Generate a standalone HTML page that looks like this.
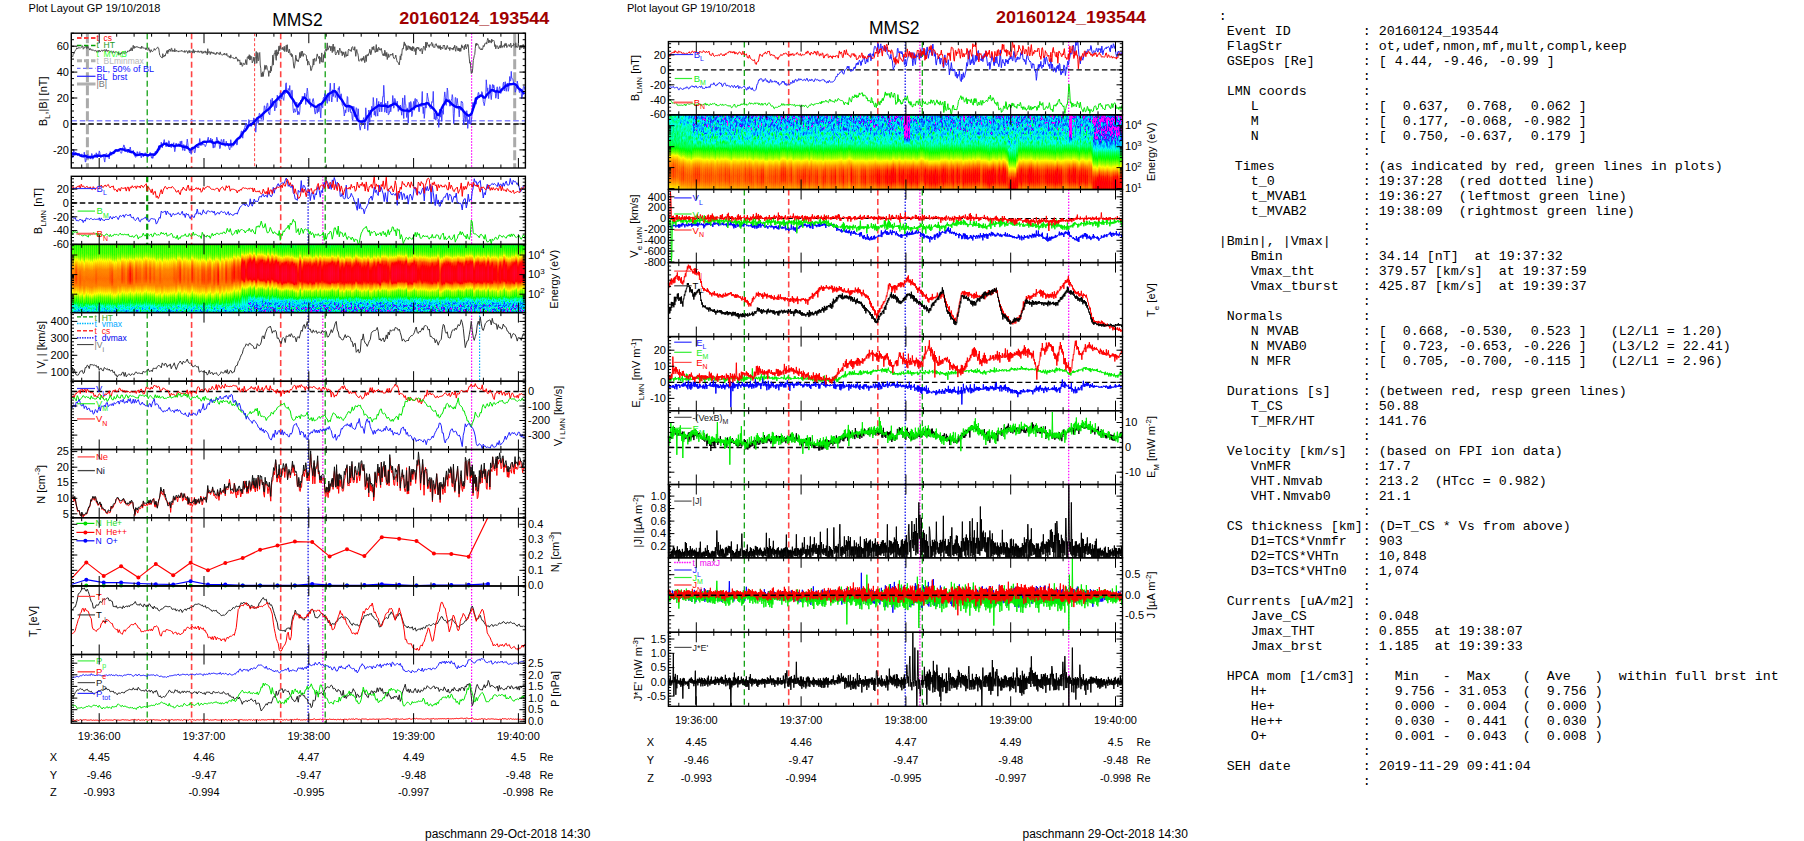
<!DOCTYPE html>
<html><head><meta charset="utf-8"><style>
html,body{margin:0;padding:0;background:#fff;width:1804px;height:841px;overflow:hidden}
svg{display:block}
</style></head><body>
<svg width="1804" height="841" viewBox="0 0 1804 841" font-family="'Liberation Sans',sans-serif">
<defs><filter id="cm" filterUnits="userSpaceOnUse" x="0" y="0" width="1804" height="841" color-interpolation-filters="sRGB"><feComponentTransfer><feFuncR type="table" tableValues="1 1 1 1 1 1 0.759 0.277 0.0896 0 0 0 0 0 0 0 0 0 0 0 0 0 0 0.167 0.333 0.5 0.667 0.833 1 1 1 1 1 1 1 1 1 1 1 1 1 1 1 1 1 1 1 1 1 1 1"/><feFuncG type="table" tableValues="0 0 0 0 0 0 0 0 0.134 0.314 0.42 0.527 0.633 0.739 0.843 0.948 1 1 1 1 1 1 1 1 1 1 1 1 1 0.918 0.837 0.755 0.673 0.592 0.51 0.425 0.34 0.255 0.17 0.085 0 0 0 0 0 0 0 0 0 0 0"/><feFuncB type="table" tableValues="1 1 1 1 1 1 1 1 1 1 1 1 1 1 1 1 0.923 0.769 0.615 0.462 0.308 0.154 0 0 0 0 0 0 0 0 0 0 0 0 0 0 0 0 0 0 0 0.0327 0.0654 0.098 0.131 0.163 0.196 0.206 0.216 0.225 0.235"/><feFuncA type="linear" slope="0" intercept="1"/></feComponentTransfer></filter><filter id="nzi" x="0" y="0" width="1" height="1" color-interpolation-filters="sRGB"><feTurbulence type="fractalNoise" baseFrequency="0.55 0.4" numOctaves="2" seed="7"/><feColorMatrix type="matrix" values="0.636 0 0 0 -0.018  0.636 0 0 0 -0.018  0.636 0 0 0 -0.018  0 0 0 0 1"/></filter><filter id="nzi2" x="0" y="0" width="1" height="1" color-interpolation-filters="sRGB"><feTurbulence type="fractalNoise" baseFrequency="0.55 0.4" numOctaves="2" seed="8"/><feColorMatrix type="matrix" values="0.818 0 0 0 -0.169  0.818 0 0 0 -0.169  0.818 0 0 0 -0.169  0 0 0 0 1"/></filter><filter id="nze" x="0" y="0" width="1" height="1" color-interpolation-filters="sRGB"><feTurbulence type="fractalNoise" baseFrequency="0.6 0.22" numOctaves="2" seed="11"/><feColorMatrix type="matrix" values="0.636 0 0 0 0.007  0.636 0 0 0 0.007  0.636 0 0 0 0.007  0 0 0 0 1"/></filter><filter id="nzt" x="0" y="0" width="1" height="1" color-interpolation-filters="sRGB"><feTurbulence type="fractalNoise" baseFrequency="0.6 0.25" numOctaves="2" seed="19"/><feColorMatrix type="matrix" values="0.818 0 0 0 -0.194  0.818 0 0 0 -0.194  0.818 0 0 0 -0.194  0 0 0 0 1"/></filter><filter id="nzq" x="0" y="0" width="1" height="1" color-interpolation-filters="sRGB"><feTurbulence type="fractalNoise" baseFrequency="0.6 0.22" numOctaves="2" seed="17"/><feColorMatrix type="matrix" values="0.455 0 0 0 -0.167  0.455 0 0 0 -0.167  0.455 0 0 0 -0.167  0 0 0 0 1"/></filter><filter id="spk" x="0" y="0" width="1" height="1" color-interpolation-filters="sRGB"><feTurbulence type="fractalNoise" baseFrequency="0.7 0.28" numOctaves="1" seed="21"/><feColorMatrix type="matrix" values="0 0 0 0 0.04  0 0 0 0 0.04  0 0 0 0 0.04  12 0 0 0 -7.6"/></filter><filter id="nzm" x="0" y="0" width="1" height="1" color-interpolation-filters="sRGB"><feTurbulence type="fractalNoise" baseFrequency="0.6 0.22" numOctaves="2" seed="13"/><feColorMatrix type="matrix" values="0.818 0 0 0 -0.279  0.818 0 0 0 -0.279  0.818 0 0 0 -0.279  0 0 0 0 1"/></filter><linearGradient id="mg1" x1="0" y1="0" x2="0" y2="1"><stop offset="0.000" stop-color="#fff" stop-opacity="0.00"/><stop offset="0.860" stop-color="#fff" stop-opacity="0.00"/><stop offset="0.930" stop-color="#fff" stop-opacity="0.60"/><stop offset="1.000" stop-color="#fff" stop-opacity="0.90"/></linearGradient><mask id="mk1" maskUnits="userSpaceOnUse" x="71.3" y="244.4" width="176.4" height="68.2"><rect x="71.3" y="244.4" width="176.4" height="68.2" fill="url(#mg1)"/></mask><linearGradient id="mg2" x1="0" y1="0" x2="0" y2="1"><stop offset="0.000" stop-color="#fff" stop-opacity="0.00"/><stop offset="0.760" stop-color="#fff" stop-opacity="0.00"/><stop offset="0.860" stop-color="#fff" stop-opacity="0.60"/><stop offset="0.950" stop-color="#fff" stop-opacity="0.90"/><stop offset="1.000" stop-color="#fff" stop-opacity="0.95"/></linearGradient><mask id="mk2" maskUnits="userSpaceOnUse" x="247.7" y="244.4" width="277.7" height="68.2"><rect x="247.7" y="244.4" width="277.7" height="68.2" fill="url(#mg2)"/></mask><linearGradient id="g1" x1="0" y1="0" x2="0" y2="1"><stop offset="0.000" stop-color="#737373"/><stop offset="0.146" stop-color="#737373"/><stop offset="0.181" stop-color="#747474"/><stop offset="0.216" stop-color="#757575"/><stop offset="0.231" stop-color="#757575"/><stop offset="0.252" stop-color="#797979"/><stop offset="0.273" stop-color="#7d7d7d"/><stop offset="0.301" stop-color="#8a8a8a"/><stop offset="0.309" stop-color="#8c8c8c"/><stop offset="0.330" stop-color="#949494"/><stop offset="0.358" stop-color="#9e9e9e"/><stop offset="0.372" stop-color="#a2a2a2"/><stop offset="0.401" stop-color="#ababab"/><stop offset="0.443" stop-color="#aeaeae"/><stop offset="0.500" stop-color="#b2b2b2"/><stop offset="0.514" stop-color="#b1b1b1"/><stop offset="0.543" stop-color="#afafaf"/><stop offset="0.557" stop-color="#aeaeae"/><stop offset="0.571" stop-color="#adadad"/><stop offset="0.585" stop-color="#a8a8a8"/><stop offset="0.606" stop-color="#a1a1a1"/><stop offset="0.613" stop-color="#9e9e9e"/><stop offset="0.635" stop-color="#959595"/><stop offset="0.642" stop-color="#919191"/><stop offset="0.670" stop-color="#858585"/><stop offset="0.691" stop-color="#7b7b7b"/><stop offset="0.699" stop-color="#787878"/><stop offset="0.727" stop-color="#737373"/><stop offset="0.741" stop-color="#707070"/><stop offset="0.769" stop-color="#636363"/><stop offset="0.805" stop-color="#575757"/><stop offset="0.812" stop-color="#555555"/><stop offset="0.854" stop-color="#4a4a4a"/><stop offset="1.000" stop-color="#4a4a4a"/></linearGradient><linearGradient id="g2" x1="0" y1="0" x2="0" y2="1"><stop offset="0.000" stop-color="#717171"/><stop offset="0.146" stop-color="#717171"/><stop offset="0.181" stop-color="#737373"/><stop offset="0.216" stop-color="#757575"/><stop offset="0.231" stop-color="#767676"/><stop offset="0.252" stop-color="#7a7a7a"/><stop offset="0.273" stop-color="#7f7f7f"/><stop offset="0.301" stop-color="#8d8d8d"/><stop offset="0.309" stop-color="#909090"/><stop offset="0.330" stop-color="#9a9a9a"/><stop offset="0.358" stop-color="#a5a5a5"/><stop offset="0.372" stop-color="#a9a9a9"/><stop offset="0.401" stop-color="#b1b1b1"/><stop offset="0.443" stop-color="#b5b5b5"/><stop offset="0.500" stop-color="#b8b8b8"/><stop offset="0.514" stop-color="#b7b7b7"/><stop offset="0.543" stop-color="#b3b3b3"/><stop offset="0.557" stop-color="#afafaf"/><stop offset="0.571" stop-color="#adadad"/><stop offset="0.585" stop-color="#a7a7a7"/><stop offset="0.606" stop-color="#9e9e9e"/><stop offset="0.613" stop-color="#9b9b9b"/><stop offset="0.635" stop-color="#919191"/><stop offset="0.642" stop-color="#8e8e8e"/><stop offset="0.670" stop-color="#828282"/><stop offset="0.691" stop-color="#7a7a7a"/><stop offset="0.699" stop-color="#767676"/><stop offset="0.727" stop-color="#707070"/><stop offset="0.741" stop-color="#6d6d6d"/><stop offset="0.769" stop-color="#616161"/><stop offset="0.805" stop-color="#555555"/><stop offset="0.812" stop-color="#535353"/><stop offset="0.854" stop-color="#484848"/><stop offset="1.000" stop-color="#484848"/></linearGradient><linearGradient id="g3" x1="0" y1="0" x2="0" y2="1"><stop offset="0.000" stop-color="#707070"/><stop offset="0.146" stop-color="#707070"/><stop offset="0.181" stop-color="#727272"/><stop offset="0.216" stop-color="#747474"/><stop offset="0.231" stop-color="#767676"/><stop offset="0.252" stop-color="#7b7b7b"/><stop offset="0.273" stop-color="#818181"/><stop offset="0.301" stop-color="#909090"/><stop offset="0.309" stop-color="#949494"/><stop offset="0.330" stop-color="#a0a0a0"/><stop offset="0.358" stop-color="#ababab"/><stop offset="0.372" stop-color="#b0b0b0"/><stop offset="0.401" stop-color="#b8b8b8"/><stop offset="0.443" stop-color="#bcbcbc"/><stop offset="0.500" stop-color="#bebebe"/><stop offset="0.514" stop-color="#bcbcbc"/><stop offset="0.543" stop-color="#b6b6b6"/><stop offset="0.557" stop-color="#afafaf"/><stop offset="0.571" stop-color="#acacac"/><stop offset="0.585" stop-color="#a5a5a5"/><stop offset="0.606" stop-color="#9c9c9c"/><stop offset="0.613" stop-color="#999999"/><stop offset="0.635" stop-color="#8e8e8e"/><stop offset="0.642" stop-color="#8b8b8b"/><stop offset="0.670" stop-color="#808080"/><stop offset="0.691" stop-color="#787878"/><stop offset="0.699" stop-color="#757575"/><stop offset="0.727" stop-color="#6d6d6d"/><stop offset="0.741" stop-color="#6a6a6a"/><stop offset="0.769" stop-color="#5e5e5e"/><stop offset="0.805" stop-color="#525252"/><stop offset="0.812" stop-color="#515151"/><stop offset="0.854" stop-color="#474747"/><stop offset="1.000" stop-color="#474747"/></linearGradient><linearGradient id="g4" x1="0" y1="0" x2="0" y2="1"><stop offset="0.000" stop-color="#6e6e6e"/><stop offset="0.146" stop-color="#6e6e6e"/><stop offset="0.181" stop-color="#727272"/><stop offset="0.216" stop-color="#747474"/><stop offset="0.231" stop-color="#767676"/><stop offset="0.252" stop-color="#7b7b7b"/><stop offset="0.273" stop-color="#838383"/><stop offset="0.301" stop-color="#949494"/><stop offset="0.309" stop-color="#979797"/><stop offset="0.330" stop-color="#a7a7a7"/><stop offset="0.358" stop-color="#b2b2b2"/><stop offset="0.372" stop-color="#b7b7b7"/><stop offset="0.401" stop-color="#bebebe"/><stop offset="0.443" stop-color="#c3c3c3"/><stop offset="0.500" stop-color="#c3c3c3"/><stop offset="0.514" stop-color="#c2c2c2"/><stop offset="0.543" stop-color="#b9b9b9"/><stop offset="0.557" stop-color="#b0b0b0"/><stop offset="0.571" stop-color="#ababab"/><stop offset="0.585" stop-color="#a3a3a3"/><stop offset="0.606" stop-color="#999999"/><stop offset="0.613" stop-color="#969696"/><stop offset="0.635" stop-color="#8b8b8b"/><stop offset="0.642" stop-color="#888888"/><stop offset="0.670" stop-color="#7e7e7e"/><stop offset="0.691" stop-color="#777777"/><stop offset="0.699" stop-color="#737373"/><stop offset="0.727" stop-color="#696969"/><stop offset="0.741" stop-color="#666666"/><stop offset="0.769" stop-color="#5b5b5b"/><stop offset="0.805" stop-color="#505050"/><stop offset="0.812" stop-color="#4f4f4f"/><stop offset="0.854" stop-color="#454545"/><stop offset="1.000" stop-color="#454545"/></linearGradient><linearGradient id="g5" x1="0" y1="0" x2="0" y2="1"><stop offset="0.000" stop-color="#6d6d6d"/><stop offset="0.146" stop-color="#6d6d6d"/><stop offset="0.181" stop-color="#717171"/><stop offset="0.216" stop-color="#747474"/><stop offset="0.231" stop-color="#767676"/><stop offset="0.252" stop-color="#7c7c7c"/><stop offset="0.273" stop-color="#858585"/><stop offset="0.301" stop-color="#979797"/><stop offset="0.309" stop-color="#9b9b9b"/><stop offset="0.330" stop-color="#adadad"/><stop offset="0.358" stop-color="#b9b9b9"/><stop offset="0.372" stop-color="#bebebe"/><stop offset="0.401" stop-color="#c5c5c5"/><stop offset="0.443" stop-color="#cacaca"/><stop offset="0.500" stop-color="#c9c9c9"/><stop offset="0.514" stop-color="#c7c7c7"/><stop offset="0.543" stop-color="#bcbcbc"/><stop offset="0.557" stop-color="#b0b0b0"/><stop offset="0.571" stop-color="#aaaaaa"/><stop offset="0.585" stop-color="#a2a2a2"/><stop offset="0.606" stop-color="#969696"/><stop offset="0.613" stop-color="#939393"/><stop offset="0.635" stop-color="#888888"/><stop offset="0.642" stop-color="#858585"/><stop offset="0.670" stop-color="#7c7c7c"/><stop offset="0.691" stop-color="#757575"/><stop offset="0.699" stop-color="#717171"/><stop offset="0.727" stop-color="#666666"/><stop offset="0.741" stop-color="#636363"/><stop offset="0.769" stop-color="#585858"/><stop offset="0.805" stop-color="#4e4e4e"/><stop offset="0.812" stop-color="#4d4d4d"/><stop offset="0.854" stop-color="#434343"/><stop offset="1.000" stop-color="#434343"/></linearGradient><linearGradient id="g6" x1="0" y1="0" x2="0" y2="1"><stop offset="0.000" stop-color="#6c6c6c"/><stop offset="0.146" stop-color="#6c6c6c"/><stop offset="0.181" stop-color="#707070"/><stop offset="0.216" stop-color="#747474"/><stop offset="0.231" stop-color="#777777"/><stop offset="0.252" stop-color="#7d7d7d"/><stop offset="0.273" stop-color="#878787"/><stop offset="0.301" stop-color="#9a9a9a"/><stop offset="0.309" stop-color="#9f9f9f"/><stop offset="0.330" stop-color="#b3b3b3"/><stop offset="0.358" stop-color="#bfbfbf"/><stop offset="0.372" stop-color="#c5c5c5"/><stop offset="0.401" stop-color="#cbcbcb"/><stop offset="0.443" stop-color="#d1d1d1"/><stop offset="0.500" stop-color="#cfcfcf"/><stop offset="0.514" stop-color="#cdcdcd"/><stop offset="0.543" stop-color="#bfbfbf"/><stop offset="0.557" stop-color="#b1b1b1"/><stop offset="0.571" stop-color="#a9a9a9"/><stop offset="0.585" stop-color="#a0a0a0"/><stop offset="0.606" stop-color="#949494"/><stop offset="0.613" stop-color="#909090"/><stop offset="0.635" stop-color="#858585"/><stop offset="0.642" stop-color="#828282"/><stop offset="0.670" stop-color="#7a7a7a"/><stop offset="0.691" stop-color="#747474"/><stop offset="0.699" stop-color="#707070"/><stop offset="0.727" stop-color="#636363"/><stop offset="0.741" stop-color="#606060"/><stop offset="0.769" stop-color="#555555"/><stop offset="0.805" stop-color="#4c4c4c"/><stop offset="0.812" stop-color="#4b4b4b"/><stop offset="0.854" stop-color="#414141"/><stop offset="1.000" stop-color="#414141"/></linearGradient><linearGradient id="g7" x1="0" y1="0" x2="0" y2="1"><stop offset="0.000" stop-color="#6a6a6a"/><stop offset="0.146" stop-color="#6a6a6a"/><stop offset="0.181" stop-color="#707070"/><stop offset="0.216" stop-color="#737373"/><stop offset="0.231" stop-color="#777777"/><stop offset="0.252" stop-color="#7d7d7d"/><stop offset="0.273" stop-color="#898989"/><stop offset="0.301" stop-color="#9d9d9d"/><stop offset="0.309" stop-color="#a2a2a2"/><stop offset="0.330" stop-color="#b9b9b9"/><stop offset="0.358" stop-color="#c6c6c6"/><stop offset="0.372" stop-color="#cccccc"/><stop offset="0.401" stop-color="#d2d2d2"/><stop offset="0.443" stop-color="#d8d8d8"/><stop offset="0.500" stop-color="#d4d4d4"/><stop offset="0.514" stop-color="#d2d2d2"/><stop offset="0.543" stop-color="#c2c2c2"/><stop offset="0.557" stop-color="#b1b1b1"/><stop offset="0.571" stop-color="#a8a8a8"/><stop offset="0.585" stop-color="#9e9e9e"/><stop offset="0.606" stop-color="#919191"/><stop offset="0.613" stop-color="#8e8e8e"/><stop offset="0.635" stop-color="#818181"/><stop offset="0.642" stop-color="#7f7f7f"/><stop offset="0.670" stop-color="#787878"/><stop offset="0.691" stop-color="#727272"/><stop offset="0.699" stop-color="#6e6e6e"/><stop offset="0.727" stop-color="#606060"/><stop offset="0.741" stop-color="#5c5c5c"/><stop offset="0.769" stop-color="#525252"/><stop offset="0.805" stop-color="#4a4a4a"/><stop offset="0.812" stop-color="#484848"/><stop offset="0.854" stop-color="#404040"/><stop offset="1.000" stop-color="#404040"/></linearGradient><linearGradient id="g8" x1="0" y1="0" x2="0" y2="1"><stop offset="0.000" stop-color="#696969"/><stop offset="0.146" stop-color="#696969"/><stop offset="0.181" stop-color="#6f6f6f"/><stop offset="0.216" stop-color="#737373"/><stop offset="0.231" stop-color="#777777"/><stop offset="0.252" stop-color="#7e7e7e"/><stop offset="0.273" stop-color="#8b8b8b"/><stop offset="0.301" stop-color="#a1a1a1"/><stop offset="0.309" stop-color="#a6a6a6"/><stop offset="0.330" stop-color="#c0c0c0"/><stop offset="0.358" stop-color="#cccccc"/><stop offset="0.372" stop-color="#d3d3d3"/><stop offset="0.401" stop-color="#d8d8d8"/><stop offset="0.443" stop-color="#dfdfdf"/><stop offset="0.500" stop-color="#dadada"/><stop offset="0.514" stop-color="#d8d8d8"/><stop offset="0.543" stop-color="#c6c6c6"/><stop offset="0.557" stop-color="#b2b2b2"/><stop offset="0.571" stop-color="#a7a7a7"/><stop offset="0.585" stop-color="#9c9c9c"/><stop offset="0.606" stop-color="#8f8f8f"/><stop offset="0.613" stop-color="#8b8b8b"/><stop offset="0.635" stop-color="#7e7e7e"/><stop offset="0.642" stop-color="#7d7d7d"/><stop offset="0.670" stop-color="#767676"/><stop offset="0.691" stop-color="#717171"/><stop offset="0.699" stop-color="#6c6c6c"/><stop offset="0.727" stop-color="#5d5d5d"/><stop offset="0.741" stop-color="#595959"/><stop offset="0.769" stop-color="#505050"/><stop offset="0.805" stop-color="#484848"/><stop offset="0.812" stop-color="#464646"/><stop offset="0.854" stop-color="#3e3e3e"/><stop offset="1.000" stop-color="#3e3e3e"/></linearGradient><linearGradient id="g9" x1="0" y1="0" x2="0" y2="1"><stop offset="0.000" stop-color="#676767"/><stop offset="0.146" stop-color="#676767"/><stop offset="0.181" stop-color="#6e6e6e"/><stop offset="0.216" stop-color="#737373"/><stop offset="0.231" stop-color="#787878"/><stop offset="0.252" stop-color="#7f7f7f"/><stop offset="0.273" stop-color="#8d8d8d"/><stop offset="0.301" stop-color="#a4a4a4"/><stop offset="0.309" stop-color="#aaaaaa"/><stop offset="0.330" stop-color="#c6c6c6"/><stop offset="0.358" stop-color="#d3d3d3"/><stop offset="0.372" stop-color="#dadada"/><stop offset="0.401" stop-color="#dfdfdf"/><stop offset="0.443" stop-color="#e6e6e6"/><stop offset="0.500" stop-color="#dfdfdf"/><stop offset="0.514" stop-color="#dddddd"/><stop offset="0.543" stop-color="#c9c9c9"/><stop offset="0.557" stop-color="#b2b2b2"/><stop offset="0.571" stop-color="#a7a7a7"/><stop offset="0.585" stop-color="#9b9b9b"/><stop offset="0.606" stop-color="#8c8c8c"/><stop offset="0.613" stop-color="#888888"/><stop offset="0.635" stop-color="#7b7b7b"/><stop offset="0.642" stop-color="#7a7a7a"/><stop offset="0.670" stop-color="#747474"/><stop offset="0.691" stop-color="#6f6f6f"/><stop offset="0.699" stop-color="#6b6b6b"/><stop offset="0.727" stop-color="#5a5a5a"/><stop offset="0.741" stop-color="#565656"/><stop offset="0.769" stop-color="#4d4d4d"/><stop offset="0.805" stop-color="#464646"/><stop offset="0.812" stop-color="#444444"/><stop offset="0.854" stop-color="#3c3c3c"/><stop offset="1.000" stop-color="#3c3c3c"/></linearGradient><linearGradient id="g10" x1="0" y1="0" x2="0" y2="1"><stop offset="0.000" stop-color="#666666"/><stop offset="0.146" stop-color="#666666"/><stop offset="0.181" stop-color="#6e6e6e"/><stop offset="0.216" stop-color="#737373"/><stop offset="0.231" stop-color="#787878"/><stop offset="0.252" stop-color="#808080"/><stop offset="0.273" stop-color="#8f8f8f"/><stop offset="0.301" stop-color="#a7a7a7"/><stop offset="0.309" stop-color="#adadad"/><stop offset="0.330" stop-color="#cccccc"/><stop offset="0.358" stop-color="#dadada"/><stop offset="0.372" stop-color="#e0e0e0"/><stop offset="0.401" stop-color="#e6e6e6"/><stop offset="0.443" stop-color="#ededed"/><stop offset="0.500" stop-color="#e5e5e5"/><stop offset="0.514" stop-color="#e3e3e3"/><stop offset="0.543" stop-color="#cccccc"/><stop offset="0.557" stop-color="#b2b2b2"/><stop offset="0.571" stop-color="#a6a6a6"/><stop offset="0.585" stop-color="#999999"/><stop offset="0.606" stop-color="#8a8a8a"/><stop offset="0.613" stop-color="#858585"/><stop offset="0.635" stop-color="#787878"/><stop offset="0.642" stop-color="#777777"/><stop offset="0.670" stop-color="#717171"/><stop offset="0.691" stop-color="#6e6e6e"/><stop offset="0.699" stop-color="#696969"/><stop offset="0.727" stop-color="#575757"/><stop offset="0.741" stop-color="#525252"/><stop offset="0.769" stop-color="#4a4a4a"/><stop offset="0.805" stop-color="#444444"/><stop offset="0.812" stop-color="#424242"/><stop offset="0.854" stop-color="#3b3b3b"/><stop offset="1.000" stop-color="#3b3b3b"/></linearGradient><clipPath id="clip3"><rect x="71.3" y="244.4" width="454.1" height="68.2"/></clipPath><linearGradient id="mg3" x1="0" y1="0" x2="0" y2="1"><stop offset="0.000" stop-color="#fff" stop-opacity="0.90"/><stop offset="0.200" stop-color="#fff" stop-opacity="0.85"/><stop offset="0.330" stop-color="#fff" stop-opacity="0.55"/><stop offset="0.450" stop-color="#fff" stop-opacity="0.00"/><stop offset="1.000" stop-color="#fff" stop-opacity="0.00"/></linearGradient><mask id="mk3" maskUnits="userSpaceOnUse" x="668.4" y="114.8" width="454.1" height="74.7"><rect x="668.4" y="114.8" width="454.1" height="74.7" fill="url(#mg3)"/></mask><linearGradient id="mg4" x1="0" y1="0" x2="0" y2="1"><stop offset="0.000" stop-color="#fff" stop-opacity="0.75"/><stop offset="0.100" stop-color="#fff" stop-opacity="0.60"/><stop offset="0.200" stop-color="#fff" stop-opacity="0.30"/><stop offset="0.280" stop-color="#fff" stop-opacity="0.00"/><stop offset="1.000" stop-color="#fff" stop-opacity="0.00"/></linearGradient><mask id="mk4" maskUnits="userSpaceOnUse" x="668.4" y="114.8" width="454.1" height="74.7"><rect x="668.4" y="114.8" width="454.1" height="74.7" fill="url(#mg4)"/></mask><linearGradient id="mg5" x1="0" y1="0" x2="0" y2="1"><stop offset="0.000" stop-color="#fff" stop-opacity="1.00"/><stop offset="0.150" stop-color="#fff" stop-opacity="0.90"/><stop offset="0.280" stop-color="#fff" stop-opacity="0.40"/><stop offset="0.360" stop-color="#fff" stop-opacity="0.00"/><stop offset="1.000" stop-color="#fff" stop-opacity="0.00"/></linearGradient><mask id="mk5" maskUnits="userSpaceOnUse" x="668.4" y="114.8" width="454.1" height="74.7"><rect x="668.4" y="114.8" width="454.1" height="74.7" fill="url(#mg5)"/></mask><linearGradient id="mg6" x1="0" y1="0" x2="0" y2="1"><stop offset="0.000" stop-color="#fff" stop-opacity="0.95"/><stop offset="0.250" stop-color="#fff" stop-opacity="0.90"/><stop offset="0.400" stop-color="#fff" stop-opacity="0.40"/><stop offset="0.500" stop-color="#fff" stop-opacity="0.00"/><stop offset="1.000" stop-color="#fff" stop-opacity="0.00"/></linearGradient><mask id="mk6" maskUnits="userSpaceOnUse" x="1092.8" y="114.8" width="29.7" height="74.7"><rect x="1092.8" y="114.8" width="29.7" height="74.7" fill="url(#mg6)"/></mask><linearGradient id="mg7" x1="0" y1="0" x2="0" y2="1"><stop offset="0.000" stop-color="#fff" stop-opacity="0.95"/><stop offset="0.300" stop-color="#fff" stop-opacity="0.85"/><stop offset="0.400" stop-color="#fff" stop-opacity="0.00"/><stop offset="1.000" stop-color="#fff" stop-opacity="0.00"/></linearGradient><mask id="mk7" maskUnits="userSpaceOnUse" x="904.1" y="114.8" width="6.1" height="74.7"><rect x="904.1" y="114.8" width="6.1" height="74.7" fill="url(#mg7)"/></mask><linearGradient id="mg8" x1="0" y1="0" x2="0" y2="1"><stop offset="0.000" stop-color="#fff" stop-opacity="0.95"/><stop offset="0.300" stop-color="#fff" stop-opacity="0.85"/><stop offset="0.380" stop-color="#fff" stop-opacity="0.00"/><stop offset="1.000" stop-color="#fff" stop-opacity="0.00"/></linearGradient><mask id="mk8" maskUnits="userSpaceOnUse" x="1069.0" y="114.8" width="3.1" height="74.7"><rect x="1069.0" y="114.8" width="3.1" height="74.7" fill="url(#mg8)"/></mask><linearGradient id="mg9" x1="0" y1="0" x2="0" y2="1"><stop offset="0.000" stop-color="#fff" stop-opacity="0.90"/><stop offset="0.200" stop-color="#fff" stop-opacity="0.80"/><stop offset="0.300" stop-color="#fff" stop-opacity="0.00"/><stop offset="1.000" stop-color="#fff" stop-opacity="0.00"/></linearGradient><mask id="mk9" maskUnits="userSpaceOnUse" x="888.8" y="114.8" width="1.2" height="74.7"><rect x="888.8" y="114.8" width="1.2" height="74.7" fill="url(#mg9)"/></mask><linearGradient id="mg10" x1="0" y1="0" x2="0" y2="1"><stop offset="0.000" stop-color="#fff" stop-opacity="0.00"/><stop offset="0.250" stop-color="#fff" stop-opacity="0.60"/><stop offset="0.450" stop-color="#fff" stop-opacity="0.50"/><stop offset="0.500" stop-color="#fff" stop-opacity="0.00"/><stop offset="1.000" stop-color="#fff" stop-opacity="0.00"/></linearGradient><mask id="mk10" maskUnits="userSpaceOnUse" x="1008.1" y="114.8" width="7.0" height="74.7"><rect x="1008.1" y="114.8" width="7.0" height="74.7" fill="url(#mg10)"/></mask><linearGradient id="mf11" x1="0" y1="0" x2="0" y2="1"><stop offset="0.000" stop-color="#666666" stop-opacity="0.55"/><stop offset="0.150" stop-color="#666666" stop-opacity="0.70"/><stop offset="0.400" stop-color="#666666" stop-opacity="0.60"/><stop offset="0.550" stop-color="#666666" stop-opacity="0.00"/><stop offset="1.000" stop-color="#666666" stop-opacity="0.00"/></linearGradient><linearGradient id="mf12" x1="0" y1="0" x2="0" y2="1"><stop offset="0.000" stop-color="#666666" stop-opacity="0.30"/><stop offset="0.150" stop-color="#666666" stop-opacity="0.55"/><stop offset="0.400" stop-color="#666666" stop-opacity="0.50"/><stop offset="0.550" stop-color="#666666" stop-opacity="0.00"/><stop offset="1.000" stop-color="#666666" stop-opacity="0.00"/></linearGradient><linearGradient id="g11" x1="0" y1="0" x2="0" y2="1"><stop offset="0.000" stop-color="#454545"/><stop offset="0.136" stop-color="#454545"/><stop offset="0.209" stop-color="#474747"/><stop offset="0.282" stop-color="#4c4c4c"/><stop offset="0.355" stop-color="#575757"/><stop offset="0.398" stop-color="#5e5e5e"/><stop offset="0.442" stop-color="#6b6b6b"/><stop offset="0.478" stop-color="#757575"/><stop offset="0.522" stop-color="#828282"/><stop offset="0.551" stop-color="#8f8f8f"/><stop offset="0.573" stop-color="#999999"/><stop offset="0.602" stop-color="#a6a6a6"/><stop offset="0.645" stop-color="#b1b1b1"/><stop offset="0.704" stop-color="#b8b8b8"/><stop offset="0.762" stop-color="#b5b5b5"/><stop offset="0.805" stop-color="#ababab"/><stop offset="0.842" stop-color="#9e9e9e"/><stop offset="0.864" stop-color="#969696"/><stop offset="1.000" stop-color="#969696"/></linearGradient><linearGradient id="g12" x1="0" y1="0" x2="0" y2="1"><stop offset="0.000" stop-color="#454545"/><stop offset="0.136" stop-color="#454545"/><stop offset="0.209" stop-color="#474747"/><stop offset="0.282" stop-color="#4d4d4d"/><stop offset="0.355" stop-color="#565656"/><stop offset="0.398" stop-color="#5e5e5e"/><stop offset="0.442" stop-color="#6b6b6b"/><stop offset="0.478" stop-color="#757575"/><stop offset="0.522" stop-color="#828282"/><stop offset="0.551" stop-color="#8f8f8f"/><stop offset="0.573" stop-color="#999999"/><stop offset="0.602" stop-color="#a8a8a8"/><stop offset="0.645" stop-color="#b5b5b5"/><stop offset="0.704" stop-color="#bcbcbc"/><stop offset="0.762" stop-color="#b9b9b9"/><stop offset="0.805" stop-color="#adadad"/><stop offset="0.842" stop-color="#a0a0a0"/><stop offset="0.864" stop-color="#989898"/><stop offset="1.000" stop-color="#989898"/></linearGradient><linearGradient id="g13" x1="0" y1="0" x2="0" y2="1"><stop offset="0.000" stop-color="#454545"/><stop offset="0.136" stop-color="#454545"/><stop offset="0.209" stop-color="#474747"/><stop offset="0.282" stop-color="#4c4c4c"/><stop offset="0.355" stop-color="#565656"/><stop offset="0.398" stop-color="#5e5e5e"/><stop offset="0.442" stop-color="#6a6a6a"/><stop offset="0.478" stop-color="#757575"/><stop offset="0.522" stop-color="#828282"/><stop offset="0.551" stop-color="#8f8f8f"/><stop offset="0.573" stop-color="#9a9a9a"/><stop offset="0.602" stop-color="#a9a9a9"/><stop offset="0.645" stop-color="#b9b9b9"/><stop offset="0.704" stop-color="#c1c1c1"/><stop offset="0.762" stop-color="#bebebe"/><stop offset="0.805" stop-color="#b0b0b0"/><stop offset="0.842" stop-color="#a2a2a2"/><stop offset="0.864" stop-color="#9a9a9a"/><stop offset="1.000" stop-color="#9a9a9a"/></linearGradient><linearGradient id="g14" x1="0" y1="0" x2="0" y2="1"><stop offset="0.000" stop-color="#454545"/><stop offset="0.136" stop-color="#454545"/><stop offset="0.209" stop-color="#474747"/><stop offset="0.282" stop-color="#4c4c4c"/><stop offset="0.355" stop-color="#565656"/><stop offset="0.398" stop-color="#5d5d5d"/><stop offset="0.442" stop-color="#6a6a6a"/><stop offset="0.478" stop-color="#747474"/><stop offset="0.522" stop-color="#828282"/><stop offset="0.551" stop-color="#8f8f8f"/><stop offset="0.573" stop-color="#9a9a9a"/><stop offset="0.602" stop-color="#ababab"/><stop offset="0.645" stop-color="#bdbdbd"/><stop offset="0.704" stop-color="#c6c6c6"/><stop offset="0.762" stop-color="#c2c2c2"/><stop offset="0.805" stop-color="#b2b2b2"/><stop offset="0.842" stop-color="#a4a4a4"/><stop offset="0.864" stop-color="#9c9c9c"/><stop offset="1.000" stop-color="#9c9c9c"/></linearGradient><linearGradient id="g15" x1="0" y1="0" x2="0" y2="1"><stop offset="0.000" stop-color="#454545"/><stop offset="0.136" stop-color="#454545"/><stop offset="0.209" stop-color="#474747"/><stop offset="0.282" stop-color="#4c4c4c"/><stop offset="0.355" stop-color="#555555"/><stop offset="0.398" stop-color="#5d5d5d"/><stop offset="0.442" stop-color="#6a6a6a"/><stop offset="0.478" stop-color="#747474"/><stop offset="0.522" stop-color="#828282"/><stop offset="0.551" stop-color="#8f8f8f"/><stop offset="0.573" stop-color="#9a9a9a"/><stop offset="0.602" stop-color="#adadad"/><stop offset="0.645" stop-color="#c1c1c1"/><stop offset="0.704" stop-color="#cbcbcb"/><stop offset="0.762" stop-color="#c7c7c7"/><stop offset="0.805" stop-color="#b5b5b5"/><stop offset="0.842" stop-color="#a5a5a5"/><stop offset="0.864" stop-color="#9e9e9e"/><stop offset="1.000" stop-color="#9e9e9e"/></linearGradient><linearGradient id="g16" x1="0" y1="0" x2="0" y2="1"><stop offset="0.000" stop-color="#454545"/><stop offset="0.136" stop-color="#454545"/><stop offset="0.209" stop-color="#474747"/><stop offset="0.282" stop-color="#4c4c4c"/><stop offset="0.355" stop-color="#555555"/><stop offset="0.398" stop-color="#5d5d5d"/><stop offset="0.442" stop-color="#696969"/><stop offset="0.478" stop-color="#737373"/><stop offset="0.522" stop-color="#828282"/><stop offset="0.551" stop-color="#8f8f8f"/><stop offset="0.573" stop-color="#9b9b9b"/><stop offset="0.602" stop-color="#afafaf"/><stop offset="0.645" stop-color="#c4c4c4"/><stop offset="0.704" stop-color="#cfcfcf"/><stop offset="0.762" stop-color="#cbcbcb"/><stop offset="0.805" stop-color="#b8b8b8"/><stop offset="0.842" stop-color="#a7a7a7"/><stop offset="0.864" stop-color="#a0a0a0"/><stop offset="1.000" stop-color="#a0a0a0"/></linearGradient><linearGradient id="g17" x1="0" y1="0" x2="0" y2="1"><stop offset="0.000" stop-color="#454545"/><stop offset="0.136" stop-color="#454545"/><stop offset="0.209" stop-color="#474747"/><stop offset="0.282" stop-color="#4c4c4c"/><stop offset="0.355" stop-color="#555555"/><stop offset="0.398" stop-color="#5c5c5c"/><stop offset="0.442" stop-color="#696969"/><stop offset="0.478" stop-color="#737373"/><stop offset="0.522" stop-color="#828282"/><stop offset="0.551" stop-color="#8f8f8f"/><stop offset="0.573" stop-color="#9b9b9b"/><stop offset="0.602" stop-color="#b1b1b1"/><stop offset="0.645" stop-color="#c8c8c8"/><stop offset="0.704" stop-color="#d4d4d4"/><stop offset="0.762" stop-color="#cfcfcf"/><stop offset="0.805" stop-color="#bababa"/><stop offset="0.842" stop-color="#a9a9a9"/><stop offset="0.864" stop-color="#a1a1a1"/><stop offset="1.000" stop-color="#a1a1a1"/></linearGradient><linearGradient id="g18" x1="0" y1="0" x2="0" y2="1"><stop offset="0.000" stop-color="#454545"/><stop offset="0.136" stop-color="#454545"/><stop offset="0.209" stop-color="#474747"/><stop offset="0.282" stop-color="#4c4c4c"/><stop offset="0.355" stop-color="#545454"/><stop offset="0.398" stop-color="#5c5c5c"/><stop offset="0.442" stop-color="#696969"/><stop offset="0.478" stop-color="#737373"/><stop offset="0.522" stop-color="#828282"/><stop offset="0.551" stop-color="#8f8f8f"/><stop offset="0.573" stop-color="#9c9c9c"/><stop offset="0.602" stop-color="#b2b2b2"/><stop offset="0.645" stop-color="#cccccc"/><stop offset="0.704" stop-color="#d9d9d9"/><stop offset="0.762" stop-color="#d4d4d4"/><stop offset="0.805" stop-color="#bdbdbd"/><stop offset="0.842" stop-color="#ababab"/><stop offset="0.864" stop-color="#a3a3a3"/><stop offset="1.000" stop-color="#a3a3a3"/></linearGradient><clipPath id="clip4"><rect x="668.4" y="114.8" width="454.1" height="74.7"/></clipPath></defs>
<g filter="url(#cm)" clip-path="url(#clip3)"><rect x="71.3" y="244.4" width="454.1" height="68.2" fill="#aeaeae"/><rect x="71.3" y="229.5" width="2.3" height="96.2" fill="url(#g1)"/><rect x="73.3" y="231.1" width="2.3" height="96.2" fill="url(#g1)"/><rect x="75.3" y="231.1" width="2.3" height="96.2" fill="url(#g3)"/><rect x="77.3" y="230.6" width="2.3" height="96.2" fill="url(#g1)"/><rect x="79.3" y="232.7" width="2.3" height="96.2" fill="url(#g2)"/><rect x="81.3" y="230.6" width="2.3" height="96.2" fill="url(#g1)"/><rect x="83.3" y="233.1" width="2.3" height="96.2" fill="url(#g1)"/><rect x="85.3" y="230.6" width="2.3" height="96.2" fill="url(#g1)"/><rect x="87.3" y="231.3" width="2.3" height="96.2" fill="url(#g1)"/><rect x="89.3" y="232.0" width="2.3" height="96.2" fill="url(#g1)"/><rect x="91.3" y="232.4" width="2.3" height="96.2" fill="url(#g1)"/><rect x="93.3" y="231.1" width="2.3" height="96.2" fill="url(#g1)"/><rect x="95.3" y="231.8" width="2.3" height="96.2" fill="url(#g2)"/><rect x="97.3" y="230.5" width="2.3" height="96.2" fill="url(#g1)"/><rect x="99.3" y="230.3" width="2.3" height="96.2" fill="url(#g1)"/><rect x="101.3" y="230.8" width="2.3" height="96.2" fill="url(#g1)"/><rect x="103.3" y="230.9" width="2.3" height="96.2" fill="url(#g1)"/><rect x="105.3" y="231.1" width="2.3" height="96.2" fill="url(#g1)"/><rect x="107.3" y="230.7" width="2.3" height="96.2" fill="url(#g1)"/><rect x="109.3" y="231.2" width="2.3" height="96.2" fill="url(#g2)"/><rect x="111.3" y="233.0" width="2.3" height="96.2" fill="url(#g3)"/><rect x="113.3" y="232.4" width="2.3" height="96.2" fill="url(#g1)"/><rect x="115.3" y="232.1" width="2.3" height="96.2" fill="url(#g1)"/><rect x="117.3" y="230.3" width="2.3" height="96.2" fill="url(#g1)"/><rect x="119.3" y="231.6" width="2.3" height="96.2" fill="url(#g1)"/><rect x="121.3" y="230.7" width="2.3" height="96.2" fill="url(#g3)"/><rect x="123.3" y="230.6" width="2.3" height="96.2" fill="url(#g2)"/><rect x="125.3" y="230.6" width="2.3" height="96.2" fill="url(#g1)"/><rect x="127.3" y="231.6" width="2.3" height="96.2" fill="url(#g3)"/><rect x="129.3" y="231.6" width="2.3" height="96.2" fill="url(#g5)"/><rect x="131.3" y="231.6" width="2.3" height="96.2" fill="url(#g3)"/><rect x="133.3" y="230.7" width="2.3" height="96.2" fill="url(#g1)"/><rect x="135.3" y="230.3" width="2.3" height="96.2" fill="url(#g3)"/><rect x="137.3" y="230.5" width="2.3" height="96.2" fill="url(#g2)"/><rect x="139.3" y="230.1" width="2.3" height="96.2" fill="url(#g2)"/><rect x="141.3" y="230.7" width="2.3" height="96.2" fill="url(#g1)"/><rect x="143.3" y="229.9" width="2.3" height="96.2" fill="url(#g2)"/><rect x="145.3" y="229.7" width="2.3" height="96.2" fill="url(#g3)"/><rect x="147.3" y="229.8" width="2.3" height="96.2" fill="url(#g1)"/><rect x="149.3" y="230.6" width="2.3" height="96.2" fill="url(#g3)"/><rect x="151.3" y="230.1" width="2.3" height="96.2" fill="url(#g1)"/><rect x="153.3" y="230.3" width="2.3" height="96.2" fill="url(#g2)"/><rect x="155.3" y="231.7" width="2.3" height="96.2" fill="url(#g1)"/><rect x="157.3" y="231.1" width="2.3" height="96.2" fill="url(#g1)"/><rect x="159.3" y="231.0" width="2.3" height="96.2" fill="url(#g2)"/><rect x="161.3" y="232.4" width="2.3" height="96.2" fill="url(#g1)"/><rect x="163.3" y="230.2" width="2.3" height="96.2" fill="url(#g1)"/><rect x="165.3" y="230.9" width="2.3" height="96.2" fill="url(#g1)"/><rect x="167.3" y="231.2" width="2.3" height="96.2" fill="url(#g1)"/><rect x="169.3" y="230.5" width="2.3" height="96.2" fill="url(#g1)"/><rect x="171.3" y="230.4" width="2.3" height="96.2" fill="url(#g1)"/><rect x="173.3" y="230.4" width="2.3" height="96.2" fill="url(#g2)"/><rect x="175.3" y="232.1" width="2.3" height="96.2" fill="url(#g2)"/><rect x="177.3" y="229.2" width="2.3" height="96.2" fill="url(#g2)"/><rect x="179.3" y="230.7" width="2.3" height="96.2" fill="url(#g4)"/><rect x="181.3" y="231.2" width="2.3" height="96.2" fill="url(#g1)"/><rect x="183.3" y="230.1" width="2.3" height="96.2" fill="url(#g2)"/><rect x="185.3" y="229.9" width="2.3" height="96.2" fill="url(#g1)"/><rect x="187.3" y="231.7" width="2.3" height="96.2" fill="url(#g2)"/><rect x="189.3" y="231.2" width="2.3" height="96.2" fill="url(#g1)"/><rect x="191.3" y="230.0" width="2.3" height="96.2" fill="url(#g4)"/><rect x="193.3" y="230.9" width="2.3" height="96.2" fill="url(#g2)"/><rect x="195.3" y="230.4" width="2.3" height="96.2" fill="url(#g1)"/><rect x="197.3" y="231.7" width="2.3" height="96.2" fill="url(#g2)"/><rect x="199.3" y="231.4" width="2.3" height="96.2" fill="url(#g1)"/><rect x="201.3" y="231.6" width="2.3" height="96.2" fill="url(#g3)"/><rect x="203.3" y="231.8" width="2.3" height="96.2" fill="url(#g3)"/><rect x="205.3" y="232.9" width="2.3" height="96.2" fill="url(#g2)"/><rect x="207.3" y="231.5" width="2.3" height="96.2" fill="url(#g3)"/><rect x="209.3" y="230.7" width="2.3" height="96.2" fill="url(#g3)"/><rect x="211.3" y="232.0" width="2.3" height="96.2" fill="url(#g1)"/><rect x="213.3" y="232.6" width="2.3" height="96.2" fill="url(#g3)"/><rect x="215.3" y="230.2" width="2.3" height="96.2" fill="url(#g2)"/><rect x="217.3" y="232.3" width="2.3" height="96.2" fill="url(#g5)"/><rect x="219.3" y="232.5" width="2.3" height="96.2" fill="url(#g1)"/><rect x="221.3" y="229.9" width="2.3" height="96.2" fill="url(#g2)"/><rect x="223.3" y="231.0" width="2.3" height="96.2" fill="url(#g1)"/><rect x="225.3" y="230.6" width="2.3" height="96.2" fill="url(#g4)"/><rect x="227.3" y="230.7" width="2.3" height="96.2" fill="url(#g2)"/><rect x="229.3" y="229.9" width="2.3" height="96.2" fill="url(#g2)"/><rect x="231.3" y="231.1" width="2.3" height="96.2" fill="url(#g4)"/><rect x="233.3" y="229.2" width="2.3" height="96.2" fill="url(#g5)"/><rect x="235.3" y="229.8" width="2.3" height="96.2" fill="url(#g3)"/><rect x="237.3" y="228.9" width="2.3" height="96.2" fill="url(#g4)"/><rect x="239.3" y="230.6" width="2.3" height="96.2" fill="url(#g4)"/><rect x="241.3" y="227.9" width="2.3" height="96.2" fill="url(#g8)"/><rect x="243.3" y="229.4" width="2.3" height="96.2" fill="url(#g9)"/><rect x="245.3" y="227.6" width="2.3" height="96.2" fill="url(#g5)"/><rect x="247.3" y="228.2" width="2.3" height="96.2" fill="url(#g8)"/><rect x="249.3" y="227.2" width="2.3" height="96.2" fill="url(#g9)"/><rect x="251.3" y="229.0" width="2.3" height="96.2" fill="url(#g9)"/><rect x="253.3" y="227.3" width="2.3" height="96.2" fill="url(#g10)"/><rect x="255.3" y="230.0" width="2.3" height="96.2" fill="url(#g8)"/><rect x="257.3" y="227.5" width="2.3" height="96.2" fill="url(#g7)"/><rect x="259.3" y="228.5" width="2.3" height="96.2" fill="url(#g9)"/><rect x="261.3" y="228.5" width="2.3" height="96.2" fill="url(#g10)"/><rect x="263.3" y="228.8" width="2.3" height="96.2" fill="url(#g8)"/><rect x="265.3" y="230.1" width="2.3" height="96.2" fill="url(#g9)"/><rect x="267.3" y="227.8" width="2.3" height="96.2" fill="url(#g9)"/><rect x="269.3" y="230.3" width="2.3" height="96.2" fill="url(#g8)"/><rect x="271.3" y="227.7" width="2.3" height="96.2" fill="url(#g8)"/><rect x="273.3" y="229.6" width="2.3" height="96.2" fill="url(#g8)"/><rect x="275.3" y="229.1" width="2.3" height="96.2" fill="url(#g10)"/><rect x="277.3" y="230.8" width="2.3" height="96.2" fill="url(#g10)"/><rect x="279.3" y="230.3" width="2.3" height="96.2" fill="url(#g7)"/><rect x="281.3" y="231.9" width="2.3" height="96.2" fill="url(#g10)"/><rect x="283.3" y="230.9" width="2.3" height="96.2" fill="url(#g9)"/><rect x="285.3" y="230.6" width="2.3" height="96.2" fill="url(#g10)"/><rect x="287.3" y="230.1" width="2.3" height="96.2" fill="url(#g8)"/><rect x="289.3" y="230.8" width="2.3" height="96.2" fill="url(#g8)"/><rect x="291.3" y="230.9" width="2.3" height="96.2" fill="url(#g10)"/><rect x="293.3" y="232.2" width="2.3" height="96.2" fill="url(#g10)"/><rect x="295.3" y="232.1" width="2.3" height="96.2" fill="url(#g8)"/><rect x="297.3" y="231.4" width="2.3" height="96.2" fill="url(#g5)"/><rect x="299.3" y="229.5" width="2.3" height="96.2" fill="url(#g9)"/><rect x="301.3" y="232.2" width="2.3" height="96.2" fill="url(#g6)"/><rect x="303.3" y="230.4" width="2.3" height="96.2" fill="url(#g8)"/><rect x="305.3" y="230.8" width="2.3" height="96.2" fill="url(#g8)"/><rect x="307.3" y="231.5" width="2.3" height="96.2" fill="url(#g9)"/><rect x="309.3" y="230.5" width="2.3" height="96.2" fill="url(#g8)"/><rect x="311.3" y="232.1" width="2.3" height="96.2" fill="url(#g8)"/><rect x="313.3" y="231.4" width="2.3" height="96.2" fill="url(#g9)"/><rect x="315.3" y="229.8" width="2.3" height="96.2" fill="url(#g8)"/><rect x="317.3" y="231.3" width="2.3" height="96.2" fill="url(#g7)"/><rect x="319.3" y="230.0" width="2.3" height="96.2" fill="url(#g9)"/><rect x="321.3" y="230.7" width="2.3" height="96.2" fill="url(#g6)"/><rect x="323.3" y="230.3" width="2.3" height="96.2" fill="url(#g8)"/><rect x="325.3" y="230.8" width="2.3" height="96.2" fill="url(#g8)"/><rect x="327.3" y="231.2" width="2.3" height="96.2" fill="url(#g9)"/><rect x="329.3" y="231.5" width="2.3" height="96.2" fill="url(#g10)"/><rect x="331.3" y="230.2" width="2.3" height="96.2" fill="url(#g10)"/><rect x="333.3" y="230.9" width="2.3" height="96.2" fill="url(#g9)"/><rect x="335.3" y="231.0" width="2.3" height="96.2" fill="url(#g8)"/><rect x="337.3" y="230.0" width="2.3" height="96.2" fill="url(#g10)"/><rect x="339.3" y="231.7" width="2.3" height="96.2" fill="url(#g6)"/><rect x="341.3" y="231.4" width="2.3" height="96.2" fill="url(#g8)"/><rect x="343.3" y="232.3" width="2.3" height="96.2" fill="url(#g7)"/><rect x="345.3" y="230.8" width="2.3" height="96.2" fill="url(#g9)"/><rect x="347.3" y="231.1" width="2.3" height="96.2" fill="url(#g8)"/><rect x="349.3" y="230.9" width="2.3" height="96.2" fill="url(#g8)"/><rect x="351.3" y="232.2" width="2.3" height="96.2" fill="url(#g7)"/><rect x="353.3" y="231.3" width="2.3" height="96.2" fill="url(#g8)"/><rect x="355.3" y="229.4" width="2.3" height="96.2" fill="url(#g8)"/><rect x="357.3" y="231.1" width="2.3" height="96.2" fill="url(#g9)"/><rect x="359.3" y="231.4" width="2.3" height="96.2" fill="url(#g8)"/><rect x="361.3" y="232.0" width="2.3" height="96.2" fill="url(#g7)"/><rect x="363.3" y="230.6" width="2.3" height="96.2" fill="url(#g7)"/><rect x="365.3" y="231.4" width="2.3" height="96.2" fill="url(#g7)"/><rect x="367.3" y="230.7" width="2.3" height="96.2" fill="url(#g9)"/><rect x="369.3" y="232.0" width="2.3" height="96.2" fill="url(#g6)"/><rect x="371.3" y="232.0" width="2.3" height="96.2" fill="url(#g7)"/><rect x="373.3" y="230.5" width="2.3" height="96.2" fill="url(#g8)"/><rect x="375.3" y="231.4" width="2.3" height="96.2" fill="url(#g7)"/><rect x="377.3" y="230.8" width="2.3" height="96.2" fill="url(#g10)"/><rect x="379.3" y="232.6" width="2.3" height="96.2" fill="url(#g10)"/><rect x="381.3" y="229.9" width="2.3" height="96.2" fill="url(#g8)"/><rect x="383.3" y="229.7" width="2.3" height="96.2" fill="url(#g7)"/><rect x="385.3" y="230.2" width="2.3" height="96.2" fill="url(#g8)"/><rect x="387.3" y="231.1" width="2.3" height="96.2" fill="url(#g7)"/><rect x="389.3" y="229.6" width="2.3" height="96.2" fill="url(#g5)"/><rect x="391.3" y="231.4" width="2.3" height="96.2" fill="url(#g10)"/><rect x="393.3" y="230.9" width="2.3" height="96.2" fill="url(#g9)"/><rect x="395.3" y="230.9" width="2.3" height="96.2" fill="url(#g10)"/><rect x="397.3" y="229.5" width="2.3" height="96.2" fill="url(#g9)"/><rect x="399.3" y="229.8" width="2.3" height="96.2" fill="url(#g9)"/><rect x="401.3" y="229.9" width="2.3" height="96.2" fill="url(#g8)"/><rect x="403.3" y="230.2" width="2.3" height="96.2" fill="url(#g8)"/><rect x="405.3" y="229.5" width="2.3" height="96.2" fill="url(#g10)"/><rect x="407.3" y="232.1" width="2.3" height="96.2" fill="url(#g8)"/><rect x="409.3" y="231.6" width="2.3" height="96.2" fill="url(#g8)"/><rect x="411.3" y="231.8" width="2.3" height="96.2" fill="url(#g10)"/><rect x="413.3" y="229.7" width="2.3" height="96.2" fill="url(#g9)"/><rect x="415.3" y="230.5" width="2.3" height="96.2" fill="url(#g8)"/><rect x="417.3" y="230.5" width="2.3" height="96.2" fill="url(#g6)"/><rect x="419.3" y="229.6" width="2.3" height="96.2" fill="url(#g6)"/><rect x="421.3" y="230.9" width="2.3" height="96.2" fill="url(#g8)"/><rect x="423.3" y="230.2" width="2.3" height="96.2" fill="url(#g7)"/><rect x="425.3" y="230.7" width="2.3" height="96.2" fill="url(#g7)"/><rect x="427.3" y="231.1" width="2.3" height="96.2" fill="url(#g7)"/><rect x="429.3" y="231.5" width="2.3" height="96.2" fill="url(#g7)"/><rect x="431.3" y="231.5" width="2.3" height="96.2" fill="url(#g9)"/><rect x="433.3" y="230.8" width="2.3" height="96.2" fill="url(#g7)"/><rect x="435.3" y="231.1" width="2.3" height="96.2" fill="url(#g8)"/><rect x="437.3" y="229.4" width="2.3" height="96.2" fill="url(#g8)"/><rect x="439.3" y="231.7" width="2.3" height="96.2" fill="url(#g4)"/><rect x="441.3" y="232.4" width="2.3" height="96.2" fill="url(#g8)"/><rect x="443.3" y="231.4" width="2.3" height="96.2" fill="url(#g9)"/><rect x="445.3" y="230.1" width="2.3" height="96.2" fill="url(#g8)"/><rect x="447.3" y="230.6" width="2.3" height="96.2" fill="url(#g9)"/><rect x="449.3" y="231.2" width="2.3" height="96.2" fill="url(#g9)"/><rect x="451.3" y="231.7" width="2.3" height="96.2" fill="url(#g8)"/><rect x="453.3" y="230.6" width="2.3" height="96.2" fill="url(#g7)"/><rect x="455.3" y="230.6" width="2.3" height="96.2" fill="url(#g7)"/><rect x="457.3" y="230.5" width="2.3" height="96.2" fill="url(#g10)"/><rect x="459.3" y="231.4" width="2.3" height="96.2" fill="url(#g10)"/><rect x="461.3" y="231.3" width="2.3" height="96.2" fill="url(#g9)"/><rect x="463.3" y="230.9" width="2.3" height="96.2" fill="url(#g7)"/><rect x="465.3" y="230.0" width="2.3" height="96.2" fill="url(#g10)"/><rect x="467.3" y="229.9" width="2.3" height="96.2" fill="url(#g8)"/><rect x="469.3" y="229.5" width="2.3" height="96.2" fill="url(#g9)"/><rect x="471.3" y="230.1" width="2.3" height="96.2" fill="url(#g10)"/><rect x="473.3" y="231.8" width="2.3" height="96.2" fill="url(#g6)"/><rect x="475.3" y="230.8" width="2.3" height="96.2" fill="url(#g9)"/><rect x="477.3" y="230.1" width="2.3" height="96.2" fill="url(#g9)"/><rect x="479.3" y="231.0" width="2.3" height="96.2" fill="url(#g8)"/><rect x="481.3" y="231.1" width="2.3" height="96.2" fill="url(#g9)"/><rect x="483.3" y="230.0" width="2.3" height="96.2" fill="url(#g8)"/><rect x="485.3" y="231.3" width="2.3" height="96.2" fill="url(#g7)"/><rect x="487.3" y="230.1" width="2.3" height="96.2" fill="url(#g10)"/><rect x="489.3" y="231.4" width="2.3" height="96.2" fill="url(#g7)"/><rect x="491.3" y="231.0" width="2.3" height="96.2" fill="url(#g9)"/><rect x="493.3" y="230.1" width="2.3" height="96.2" fill="url(#g6)"/><rect x="495.3" y="230.6" width="2.3" height="96.2" fill="url(#g7)"/><rect x="497.3" y="231.4" width="2.3" height="96.2" fill="url(#g5)"/><rect x="499.3" y="230.7" width="2.3" height="96.2" fill="url(#g8)"/><rect x="501.3" y="230.4" width="2.3" height="96.2" fill="url(#g6)"/><rect x="503.3" y="229.1" width="2.3" height="96.2" fill="url(#g9)"/><rect x="505.3" y="231.0" width="2.3" height="96.2" fill="url(#g8)"/><rect x="507.3" y="231.1" width="2.3" height="96.2" fill="url(#g6)"/><rect x="509.3" y="231.4" width="2.3" height="96.2" fill="url(#g7)"/><rect x="511.3" y="230.6" width="2.3" height="96.2" fill="url(#g8)"/><rect x="513.3" y="231.1" width="2.3" height="96.2" fill="url(#g10)"/><rect x="515.3" y="229.4" width="2.3" height="96.2" fill="url(#g9)"/><rect x="517.3" y="231.1" width="2.3" height="96.2" fill="url(#g7)"/><rect x="519.3" y="230.4" width="2.3" height="96.2" fill="url(#g9)"/><rect x="521.3" y="229.6" width="2.3" height="96.2" fill="url(#g9)"/><rect x="523.3" y="229.5" width="2.3" height="96.2" fill="url(#g8)"/><rect x="525.3" y="230.0" width="0.4" height="96.2" fill="url(#g8)"/><rect x="71.3" y="244.4" width="176.4" height="68.2" filter="url(#nzi)" mask="url(#mk1)"/><rect x="247.7" y="244.4" width="277.7" height="68.2" filter="url(#nzi2)" mask="url(#mk2)"/></g>
<g filter="url(#cm)" clip-path="url(#clip4)"><rect x="668.4" y="114.8" width="454.1" height="74.7" fill="#8f8f8f"/><rect x="668.4" y="98.1" width="2.3" height="102.7" fill="url(#g11)"/><rect x="670.4" y="98.6" width="2.3" height="102.7" fill="url(#g11)"/><rect x="672.4" y="98.1" width="2.3" height="102.7" fill="url(#g13)"/><rect x="674.4" y="98.8" width="2.3" height="102.7" fill="url(#g12)"/><rect x="676.4" y="98.4" width="2.3" height="102.7" fill="url(#g11)"/><rect x="678.4" y="100.4" width="2.3" height="102.7" fill="url(#g11)"/><rect x="680.4" y="101.7" width="2.3" height="102.7" fill="url(#g12)"/><rect x="682.4" y="101.1" width="2.3" height="102.7" fill="url(#g13)"/><rect x="684.4" y="102.4" width="2.3" height="102.7" fill="url(#g11)"/><rect x="686.4" y="103.2" width="2.3" height="102.7" fill="url(#g11)"/><rect x="688.4" y="102.9" width="2.3" height="102.7" fill="url(#g11)"/><rect x="690.4" y="104.2" width="2.3" height="102.7" fill="url(#g11)"/><rect x="692.4" y="102.6" width="2.3" height="102.7" fill="url(#g12)"/><rect x="694.4" y="102.3" width="2.3" height="102.7" fill="url(#g13)"/><rect x="696.4" y="102.2" width="2.3" height="102.7" fill="url(#g13)"/><rect x="698.4" y="102.3" width="2.3" height="102.7" fill="url(#g13)"/><rect x="700.4" y="102.6" width="2.3" height="102.7" fill="url(#g11)"/><rect x="702.4" y="103.3" width="2.3" height="102.7" fill="url(#g11)"/><rect x="704.4" y="103.3" width="2.3" height="102.7" fill="url(#g12)"/><rect x="706.4" y="102.8" width="2.3" height="102.7" fill="url(#g12)"/><rect x="708.4" y="103.6" width="2.3" height="102.7" fill="url(#g12)"/><rect x="710.4" y="102.5" width="2.3" height="102.7" fill="url(#g12)"/><rect x="712.4" y="102.9" width="2.3" height="102.7" fill="url(#g11)"/><rect x="714.4" y="104.2" width="2.3" height="102.7" fill="url(#g11)"/><rect x="716.4" y="102.4" width="2.3" height="102.7" fill="url(#g11)"/><rect x="718.4" y="103.5" width="2.3" height="102.7" fill="url(#g12)"/><rect x="720.4" y="102.5" width="2.3" height="102.7" fill="url(#g12)"/><rect x="722.4" y="102.9" width="2.3" height="102.7" fill="url(#g11)"/><rect x="724.4" y="102.5" width="2.3" height="102.7" fill="url(#g13)"/><rect x="726.4" y="102.8" width="2.3" height="102.7" fill="url(#g12)"/><rect x="728.4" y="103.4" width="2.3" height="102.7" fill="url(#g13)"/><rect x="730.4" y="104.6" width="2.3" height="102.7" fill="url(#g11)"/><rect x="732.4" y="102.9" width="2.3" height="102.7" fill="url(#g12)"/><rect x="734.4" y="103.1" width="2.3" height="102.7" fill="url(#g11)"/><rect x="736.4" y="103.6" width="2.3" height="102.7" fill="url(#g12)"/><rect x="738.4" y="103.6" width="2.3" height="102.7" fill="url(#g12)"/><rect x="740.4" y="102.8" width="2.3" height="102.7" fill="url(#g11)"/><rect x="742.4" y="103.4" width="2.3" height="102.7" fill="url(#g11)"/><rect x="744.4" y="102.4" width="2.3" height="102.7" fill="url(#g13)"/><rect x="746.4" y="103.8" width="2.3" height="102.7" fill="url(#g12)"/><rect x="748.4" y="102.7" width="2.3" height="102.7" fill="url(#g13)"/><rect x="750.4" y="103.6" width="2.3" height="102.7" fill="url(#g13)"/><rect x="752.4" y="104.6" width="2.3" height="102.7" fill="url(#g12)"/><rect x="754.4" y="103.2" width="2.3" height="102.7" fill="url(#g11)"/><rect x="756.4" y="103.6" width="2.3" height="102.7" fill="url(#g13)"/><rect x="758.4" y="104.3" width="2.3" height="102.7" fill="url(#g12)"/><rect x="760.4" y="104.0" width="2.3" height="102.7" fill="url(#g14)"/><rect x="762.4" y="103.5" width="2.3" height="102.7" fill="url(#g14)"/><rect x="764.4" y="104.8" width="2.3" height="102.7" fill="url(#g11)"/><rect x="766.4" y="104.9" width="2.3" height="102.7" fill="url(#g11)"/><rect x="768.4" y="103.7" width="2.3" height="102.7" fill="url(#g12)"/><rect x="770.4" y="104.1" width="2.3" height="102.7" fill="url(#g12)"/><rect x="772.4" y="104.7" width="2.3" height="102.7" fill="url(#g12)"/><rect x="774.4" y="103.7" width="2.3" height="102.7" fill="url(#g13)"/><rect x="776.4" y="103.8" width="2.3" height="102.7" fill="url(#g12)"/><rect x="778.4" y="104.8" width="2.3" height="102.7" fill="url(#g12)"/><rect x="780.4" y="102.7" width="2.3" height="102.7" fill="url(#g14)"/><rect x="782.4" y="102.2" width="2.3" height="102.7" fill="url(#g14)"/><rect x="784.4" y="102.6" width="2.3" height="102.7" fill="url(#g14)"/><rect x="786.4" y="104.2" width="2.3" height="102.7" fill="url(#g12)"/><rect x="788.4" y="103.1" width="2.3" height="102.7" fill="url(#g12)"/><rect x="790.4" y="102.7" width="2.3" height="102.7" fill="url(#g14)"/><rect x="792.4" y="104.6" width="2.3" height="102.7" fill="url(#g11)"/><rect x="794.4" y="103.9" width="2.3" height="102.7" fill="url(#g11)"/><rect x="796.4" y="103.7" width="2.3" height="102.7" fill="url(#g13)"/><rect x="798.4" y="103.9" width="2.3" height="102.7" fill="url(#g13)"/><rect x="800.4" y="104.5" width="2.3" height="102.7" fill="url(#g13)"/><rect x="802.4" y="104.0" width="2.3" height="102.7" fill="url(#g14)"/><rect x="804.4" y="103.5" width="2.3" height="102.7" fill="url(#g14)"/><rect x="806.4" y="103.2" width="2.3" height="102.7" fill="url(#g12)"/><rect x="808.4" y="104.8" width="2.3" height="102.7" fill="url(#g14)"/><rect x="810.4" y="102.6" width="2.3" height="102.7" fill="url(#g13)"/><rect x="812.4" y="104.1" width="2.3" height="102.7" fill="url(#g12)"/><rect x="814.4" y="103.9" width="2.3" height="102.7" fill="url(#g13)"/><rect x="816.4" y="104.4" width="2.3" height="102.7" fill="url(#g14)"/><rect x="818.4" y="104.1" width="2.3" height="102.7" fill="url(#g11)"/><rect x="820.4" y="103.9" width="2.3" height="102.7" fill="url(#g12)"/><rect x="822.4" y="104.9" width="2.3" height="102.7" fill="url(#g14)"/><rect x="824.4" y="103.5" width="2.3" height="102.7" fill="url(#g14)"/><rect x="826.4" y="104.1" width="2.3" height="102.7" fill="url(#g12)"/><rect x="828.4" y="103.8" width="2.3" height="102.7" fill="url(#g12)"/><rect x="830.4" y="104.4" width="2.3" height="102.7" fill="url(#g14)"/><rect x="832.4" y="104.0" width="2.3" height="102.7" fill="url(#g13)"/><rect x="834.4" y="104.0" width="2.3" height="102.7" fill="url(#g15)"/><rect x="836.4" y="103.9" width="2.3" height="102.7" fill="url(#g11)"/><rect x="838.4" y="103.5" width="2.3" height="102.7" fill="url(#g13)"/><rect x="840.4" y="102.9" width="2.3" height="102.7" fill="url(#g13)"/><rect x="842.4" y="104.1" width="2.3" height="102.7" fill="url(#g15)"/><rect x="844.4" y="103.9" width="2.3" height="102.7" fill="url(#g12)"/><rect x="846.4" y="103.3" width="2.3" height="102.7" fill="url(#g13)"/><rect x="848.4" y="102.1" width="2.3" height="102.7" fill="url(#g11)"/><rect x="850.4" y="103.1" width="2.3" height="102.7" fill="url(#g16)"/><rect x="852.4" y="104.1" width="2.3" height="102.7" fill="url(#g13)"/><rect x="854.4" y="104.5" width="2.3" height="102.7" fill="url(#g13)"/><rect x="856.4" y="104.1" width="2.3" height="102.7" fill="url(#g12)"/><rect x="858.4" y="104.2" width="2.3" height="102.7" fill="url(#g11)"/><rect x="860.4" y="104.0" width="2.3" height="102.7" fill="url(#g14)"/><rect x="862.4" y="104.0" width="2.3" height="102.7" fill="url(#g14)"/><rect x="864.4" y="104.4" width="2.3" height="102.7" fill="url(#g15)"/><rect x="866.4" y="104.4" width="2.3" height="102.7" fill="url(#g12)"/><rect x="868.4" y="103.9" width="2.3" height="102.7" fill="url(#g13)"/><rect x="870.4" y="104.1" width="2.3" height="102.7" fill="url(#g14)"/><rect x="872.4" y="104.0" width="2.3" height="102.7" fill="url(#g14)"/><rect x="874.4" y="103.2" width="2.3" height="102.7" fill="url(#g14)"/><rect x="876.4" y="104.1" width="2.3" height="102.7" fill="url(#g16)"/><rect x="878.4" y="104.4" width="2.3" height="102.7" fill="url(#g16)"/><rect x="880.4" y="104.3" width="2.3" height="102.7" fill="url(#g14)"/><rect x="882.4" y="104.0" width="2.3" height="102.7" fill="url(#g14)"/><rect x="884.4" y="104.0" width="2.3" height="102.7" fill="url(#g15)"/><rect x="886.4" y="103.8" width="2.3" height="102.7" fill="url(#g17)"/><rect x="888.4" y="104.4" width="2.3" height="102.7" fill="url(#g15)"/><rect x="890.4" y="104.2" width="2.3" height="102.7" fill="url(#g17)"/><rect x="892.4" y="102.7" width="2.3" height="102.7" fill="url(#g17)"/><rect x="894.4" y="103.7" width="2.3" height="102.7" fill="url(#g16)"/><rect x="896.4" y="103.9" width="2.3" height="102.7" fill="url(#g13)"/><rect x="898.4" y="102.9" width="2.3" height="102.7" fill="url(#g16)"/><rect x="900.4" y="103.9" width="2.3" height="102.7" fill="url(#g15)"/><rect x="902.4" y="104.2" width="2.3" height="102.7" fill="url(#g17)"/><rect x="904.4" y="103.2" width="2.3" height="102.7" fill="url(#g14)"/><rect x="906.4" y="103.8" width="2.3" height="102.7" fill="url(#g15)"/><rect x="908.4" y="103.7" width="2.3" height="102.7" fill="url(#g15)"/><rect x="910.4" y="104.2" width="2.3" height="102.7" fill="url(#g17)"/><rect x="912.4" y="103.1" width="2.3" height="102.7" fill="url(#g16)"/><rect x="914.4" y="104.1" width="2.3" height="102.7" fill="url(#g15)"/><rect x="916.4" y="104.4" width="2.3" height="102.7" fill="url(#g17)"/><rect x="918.4" y="103.5" width="2.3" height="102.7" fill="url(#g14)"/><rect x="920.4" y="102.0" width="2.3" height="102.7" fill="url(#g14)"/><rect x="922.4" y="102.7" width="2.3" height="102.7" fill="url(#g14)"/><rect x="924.4" y="104.1" width="2.3" height="102.7" fill="url(#g18)"/><rect x="926.4" y="103.8" width="2.3" height="102.7" fill="url(#g15)"/><rect x="928.4" y="104.9" width="2.3" height="102.7" fill="url(#g16)"/><rect x="930.4" y="104.7" width="2.3" height="102.7" fill="url(#g17)"/><rect x="932.4" y="104.6" width="2.3" height="102.7" fill="url(#g16)"/><rect x="934.4" y="104.4" width="2.3" height="102.7" fill="url(#g18)"/><rect x="936.4" y="104.5" width="2.3" height="102.7" fill="url(#g16)"/><rect x="938.4" y="104.7" width="2.3" height="102.7" fill="url(#g15)"/><rect x="940.4" y="103.4" width="2.3" height="102.7" fill="url(#g15)"/><rect x="942.4" y="103.6" width="2.3" height="102.7" fill="url(#g18)"/><rect x="944.4" y="103.2" width="2.3" height="102.7" fill="url(#g16)"/><rect x="946.4" y="103.6" width="2.3" height="102.7" fill="url(#g15)"/><rect x="948.4" y="104.5" width="2.3" height="102.7" fill="url(#g14)"/><rect x="950.4" y="103.1" width="2.3" height="102.7" fill="url(#g15)"/><rect x="952.4" y="104.2" width="2.3" height="102.7" fill="url(#g17)"/><rect x="954.4" y="103.5" width="2.3" height="102.7" fill="url(#g13)"/><rect x="956.4" y="103.3" width="2.3" height="102.7" fill="url(#g17)"/><rect x="958.4" y="103.7" width="2.3" height="102.7" fill="url(#g15)"/><rect x="960.4" y="103.3" width="2.3" height="102.7" fill="url(#g13)"/><rect x="962.4" y="104.7" width="2.3" height="102.7" fill="url(#g17)"/><rect x="964.4" y="103.7" width="2.3" height="102.7" fill="url(#g16)"/><rect x="966.4" y="103.9" width="2.3" height="102.7" fill="url(#g16)"/><rect x="968.4" y="103.3" width="2.3" height="102.7" fill="url(#g16)"/><rect x="970.4" y="104.1" width="2.3" height="102.7" fill="url(#g16)"/><rect x="972.4" y="102.9" width="2.3" height="102.7" fill="url(#g16)"/><rect x="974.4" y="103.9" width="2.3" height="102.7" fill="url(#g17)"/><rect x="976.4" y="102.8" width="2.3" height="102.7" fill="url(#g16)"/><rect x="978.4" y="102.9" width="2.3" height="102.7" fill="url(#g16)"/><rect x="980.4" y="103.9" width="2.3" height="102.7" fill="url(#g12)"/><rect x="982.4" y="103.8" width="2.3" height="102.7" fill="url(#g16)"/><rect x="984.4" y="103.8" width="2.3" height="102.7" fill="url(#g16)"/><rect x="986.4" y="104.3" width="2.3" height="102.7" fill="url(#g17)"/><rect x="988.4" y="105.3" width="2.3" height="102.7" fill="url(#g18)"/><rect x="990.4" y="104.3" width="2.3" height="102.7" fill="url(#g17)"/><rect x="992.4" y="103.3" width="2.3" height="102.7" fill="url(#g18)"/><rect x="994.4" y="104.0" width="2.3" height="102.7" fill="url(#g16)"/><rect x="996.4" y="104.4" width="2.3" height="102.7" fill="url(#g14)"/><rect x="998.4" y="103.1" width="2.3" height="102.7" fill="url(#g18)"/><rect x="1000.4" y="104.4" width="2.3" height="102.7" fill="url(#g15)"/><rect x="1002.4" y="102.8" width="2.3" height="102.7" fill="url(#g18)"/><rect x="1004.4" y="103.7" width="2.3" height="102.7" fill="url(#g17)"/><rect x="1006.4" y="106.0" width="2.3" height="102.7" fill="url(#g14)"/><rect x="1008.4" y="111.9" width="2.3" height="102.7" fill="url(#g15)"/><rect x="1010.4" y="111.6" width="2.3" height="102.7" fill="url(#g16)"/><rect x="1012.4" y="111.7" width="2.3" height="102.7" fill="url(#g16)"/><rect x="1014.4" y="112.4" width="2.3" height="102.7" fill="url(#g17)"/><rect x="1016.4" y="107.2" width="2.3" height="102.7" fill="url(#g17)"/><rect x="1018.4" y="103.4" width="2.3" height="102.7" fill="url(#g15)"/><rect x="1020.4" y="104.1" width="2.3" height="102.7" fill="url(#g18)"/><rect x="1022.4" y="103.1" width="2.3" height="102.7" fill="url(#g15)"/><rect x="1024.4" y="103.8" width="2.3" height="102.7" fill="url(#g15)"/><rect x="1026.4" y="103.8" width="2.3" height="102.7" fill="url(#g15)"/><rect x="1028.4" y="103.6" width="2.3" height="102.7" fill="url(#g18)"/><rect x="1030.4" y="102.9" width="2.3" height="102.7" fill="url(#g17)"/><rect x="1032.4" y="104.0" width="2.3" height="102.7" fill="url(#g16)"/><rect x="1034.4" y="104.6" width="2.3" height="102.7" fill="url(#g15)"/><rect x="1036.4" y="103.4" width="2.3" height="102.7" fill="url(#g16)"/><rect x="1038.4" y="104.4" width="2.3" height="102.7" fill="url(#g15)"/><rect x="1040.4" y="103.9" width="2.3" height="102.7" fill="url(#g14)"/><rect x="1042.4" y="103.9" width="2.3" height="102.7" fill="url(#g14)"/><rect x="1044.4" y="103.8" width="2.3" height="102.7" fill="url(#g15)"/><rect x="1046.4" y="103.8" width="2.3" height="102.7" fill="url(#g17)"/><rect x="1048.4" y="104.2" width="2.3" height="102.7" fill="url(#g16)"/><rect x="1050.4" y="103.9" width="2.3" height="102.7" fill="url(#g16)"/><rect x="1052.4" y="104.2" width="2.3" height="102.7" fill="url(#g16)"/><rect x="1054.4" y="104.9" width="2.3" height="102.7" fill="url(#g17)"/><rect x="1056.4" y="103.2" width="2.3" height="102.7" fill="url(#g18)"/><rect x="1058.4" y="104.1" width="2.3" height="102.7" fill="url(#g16)"/><rect x="1060.4" y="104.4" width="2.3" height="102.7" fill="url(#g17)"/><rect x="1062.4" y="104.0" width="2.3" height="102.7" fill="url(#g13)"/><rect x="1064.4" y="103.5" width="2.3" height="102.7" fill="url(#g13)"/><rect x="1066.4" y="103.4" width="2.3" height="102.7" fill="url(#g14)"/><rect x="1068.4" y="103.5" width="2.3" height="102.7" fill="url(#g17)"/><rect x="1070.4" y="103.9" width="2.3" height="102.7" fill="url(#g15)"/><rect x="1072.4" y="102.8" width="2.3" height="102.7" fill="url(#g17)"/><rect x="1074.4" y="103.3" width="2.3" height="102.7" fill="url(#g17)"/><rect x="1076.4" y="103.9" width="2.3" height="102.7" fill="url(#g14)"/><rect x="1078.4" y="105.4" width="2.3" height="102.7" fill="url(#g16)"/><rect x="1080.4" y="103.4" width="2.3" height="102.7" fill="url(#g16)"/><rect x="1082.4" y="103.2" width="2.3" height="102.7" fill="url(#g15)"/><rect x="1084.4" y="104.3" width="2.3" height="102.7" fill="url(#g16)"/><rect x="1086.4" y="104.5" width="2.3" height="102.7" fill="url(#g15)"/><rect x="1088.4" y="103.5" width="2.3" height="102.7" fill="url(#g13)"/><rect x="1090.4" y="104.2" width="2.3" height="102.7" fill="url(#g14)"/><rect x="1092.4" y="110.7" width="2.3" height="102.7" fill="url(#g15)"/><rect x="1094.4" y="110.7" width="2.3" height="102.7" fill="url(#g16)"/><rect x="1096.4" y="111.8" width="2.3" height="102.7" fill="url(#g18)"/><rect x="1098.4" y="109.5" width="2.3" height="102.7" fill="url(#g18)"/><rect x="1100.4" y="110.6" width="2.3" height="102.7" fill="url(#g17)"/><rect x="1102.4" y="110.3" width="2.3" height="102.7" fill="url(#g17)"/><rect x="1104.4" y="111.1" width="2.3" height="102.7" fill="url(#g17)"/><rect x="1106.4" y="110.0" width="2.3" height="102.7" fill="url(#g17)"/><rect x="1108.4" y="110.9" width="2.3" height="102.7" fill="url(#g16)"/><rect x="1110.4" y="111.2" width="2.3" height="102.7" fill="url(#g15)"/><rect x="1112.4" y="110.5" width="2.3" height="102.7" fill="url(#g17)"/><rect x="1114.4" y="110.6" width="2.3" height="102.7" fill="url(#g18)"/><rect x="1116.4" y="110.0" width="2.3" height="102.7" fill="url(#g18)"/><rect x="1118.4" y="112.0" width="2.3" height="102.7" fill="url(#g15)"/><rect x="1120.4" y="109.2" width="2.3" height="102.7" fill="url(#g18)"/><rect x="1122.4" y="109.9" width="0.4" height="102.7" fill="url(#g18)"/><rect x="668.4" y="114.8" width="454.1" height="74.7" filter="url(#nze)" mask="url(#mk3)"/><rect x="668.4" y="114.8" width="454.1" height="74.7" filter="url(#nzt)" mask="url(#mk4)"/><rect x="668.4" y="114.8" width="454.1" height="74.7" filter="url(#spk)" mask="url(#mk5)"/><rect x="1092.8" y="114.8" width="29.7" height="74.7" filter="url(#nzm)" mask="url(#mk6)"/><rect x="904.1" y="114.8" width="6.1" height="74.7" filter="url(#nzq)" mask="url(#mk7)"/><rect x="1069.0" y="114.8" width="3.1" height="74.7" filter="url(#nzq)" mask="url(#mk8)"/><rect x="888.8" y="114.8" width="1.2" height="74.7" filter="url(#nzm)" mask="url(#mk9)"/><rect x="1008.1" y="114.8" width="7.0" height="74.7" filter="url(#nze)" mask="url(#mk10)"/><rect x="668.4" y="114.8" width="12.0" height="74.7" fill="url(#mf11)"/><rect x="680.4" y="114.8" width="12.0" height="74.7" fill="url(#mf12)"/></g>
<path d="M87.4 33.2V168.0" stroke="#aaaaaa" stroke-width="3" stroke-dasharray="10 3" opacity="1"/>
<path d="M514.7 33.2V168.0" stroke="#aaaaaa" stroke-width="3" stroke-dasharray="10 3" opacity="1"/>
<path d="M147.2 33.2V168.0" stroke="#009900" stroke-width="1.2" stroke-dasharray="6 3.5" opacity="1"/>
<path d="M191.6 33.2V168.0" stroke="#ff3030" stroke-width="1.6" stroke-dasharray="6 3.5" opacity="0.9"/>
<path d="M254.6 33.2V168.0" stroke="#ff3030" stroke-width="1" stroke-dasharray="3 2" opacity="0.9"/>
<path d="M280.7 33.2V168.0" stroke="#ff3030" stroke-width="1.6" stroke-dasharray="6 3.5" opacity="0.9"/>
<path d="M325.2 33.2V168.0" stroke="#009900" stroke-width="1.2" stroke-dasharray="6 3.5" opacity="1"/>
<path d="M471.6 33.2V168.0" stroke="#ff00ff" stroke-width="1.2" stroke-dasharray="1.5 1.5" opacity="1"/>
<path d="M71.3 120.7H525.4" stroke="#8888ff" stroke-width="1.5" stroke-dasharray="5.5 3"/>
<path d="M71.3 123.9H525.4" stroke="#000" stroke-width="1.5" stroke-dasharray="5.5 3"/>
<path transform="matrix(0.5 0 0 0.1 0 0)" vector-effect="non-scaling-stroke" d="M142.51 573l1 -6 1 -5 1 6 1 -29 1 -5 1 0 1 -20 1 -7 1 -9 1 -6 1 -14 1 11 1 -7 1 2 1 -11 1 4 1 2 1 3 1 -6 1 -4 1 1 1 -15 1 1 1 33 1 -6 1 -15 1 4 1 -4 1 1 1 -16 1 31 1 -5 1 -21 1 14 1 2 1 12 1 12 1 -15 1 2 1 14 1 -3 1 -4 1 11 1 -5 1 0 1 3 1 8 1 -8 1 -1 1 8 1 12 1 -15 1 10 1 -14 1 17 1 -20 1 8 1 10 1 -10 1 -4 1 -4 1 11 1 0 1 -13 1 7 1 -6 1 -4 1 24 1 -17 1 -9 1 16 1 6 1 -14 1 5 1 -5 1 13 1 12 1 -12 1 4 1 -11 1 6 1 19 1 -3 1 -19 1 3 1 14 1 -6 1 -3 1 1 1 -3 1 7 1 4 1 3 1 -12 1 33 1 -19 1 -1 1 15 1 -18 1 9 1 -16 1 9 1 -8 1 -6 1 8 1 12 1 5 1 -33 1 18 1 5 1 -9 1 -1 1 -13 1 4 1 -3 1 4 1 -16 1 12 1 -21 1 -12 1 27 1 6 1 -34 1 -23 1 32 1 -1 1 -22 1 14 1 -3 1 -1 1 -8 1 10 1 -7 1 5 1 8 1 -5 1 7 1 -9 1 12 1 0 1 -25 1 17 1 1 1 -4 1 10 1 0 1 -6 1 3 1 16 1 -19 1 16 1 6 1 0 1 -4 1 -19 1 32 1 -12 1 27 1 -20 1 -7 1 14 1 7 1 -7 1 -3 1 -4 1 -19 1 14 1 3 1 -10 1 -5 1 -7 1 -4 1 -7 1 18 1 -3 1 38 1 30 1 4 1 13 1 5 1 -1 1 8 1 -44 1 17 1 17 1 -8 1 -13 1 11 1 -26 1 -1 1 -25 1 -5 1 32 1 -36 1 18 1 -28 1 10 1 -4 1 18 1 -31 1 -1 1 33 1 -15 1 12 1 -7 1 14 1 -33 1 30 1 -6 1 -9 1 13 1 -4 1 4 1 -4 1 11 1 -8 1 -2 1 2 1 -4 1 4 1 -11 1 11 1 -1 1 5 1 -1 1 8 1 -19 1 18 1 -4 1 -11 1 -1 1 9 1 18 1 -26 1 2 1 18 1 -24 1 17 1 4 1 -13 1 3 1 -4 1 20 1 -37 1 27 1 10 1 -24 1 11 1 -7 1 7 1 -3 1 -3 1 11 1 -16 1 13 1 5 1 -11 1 -4 1 8 1 7 1 -16 1 26 1 -8 1 -11 1 16 1 -15 1 2 1 -10 1 21 1 -3 1 -10 1 32 1 -62 1 43 1 1 1 -17 1 11 1 20 1 -26 1 -2 1 15 1 -1 1 -8 1 16 1 -14 1 3 1 10 1 9 1 -12 1 8 1 -21 1 11 1 -7 1 9 1 -1 1 13 1 -16 1 -12 1 25 1 4 1 -4 1 4 1 4 1 -9 1 6 1 -19 1 17 1 -3 1 -6 1 15 1 -19 1 26 1 4 1 -4 1 -1 1 16 1 -14 1 21 1 -34 1 19 1 8 1 5 1 -4 1 -1 1 12 1 0 1 -7 1 6 1 -16 1 0 1 17 1 0 1 26 1 -18 1 13 1 -1 1 -8 1 51 1 -26 1 24 1 -20 1 36 1 -8 1 -11 1 -14 1 4 1 12 1 -11 1 -40 1 15 1 36 1 -72 1 5 1 -20 1 29 1 -42 1 54 1 -45 1 42 1 -30 1 -3 1 64 1 -15 1 -2 1 -42 1 10 1 58 1 -59 1 -14 1 -50 1 118 1 -42 1 -65 1 82 1 -10 1 -61 1 -12 1 125 1 32 1 85 1 -36 1 34 1 -47 1 46 1 -39 1 -18 1 -55 1 3 1 39 1 -40 1 4 1 35 1 11 1 4 1 56 1 -55 1 2 1 19 1 -69 1 51 1 -44 1 -19 1 -97 1 99 1 -87 1 -30 1 3 1 -33 1 64 1 35 1 -105 1 57 1 -35 1 21 1 -79 1 -1 1 46 1 -51 1 26 1 10 1 -5 1 10 1 -25 1 11 1 22 1 -42 1 53 1 -27 1 -4 1 -33 1 66 1 -71 1 52 1 14 1 17 1 -39 1 19 1 39 1 2 1 -17 1 34 1 -23 1 24 1 50 1 50 1 14 1 -32 1 -42 1 -57 1 24 1 35 1 -13 1 14 1 7 1 -23 1 -15 1 -56 1 54 1 -47 1 -18 1 49 1 -53 1 23 1 31 1 -27 1 3 1 3 1 3 1 3 1 4 1 53 1 -13 1 59 1 -41 1 3 1 27 1 10 1 4 1 50 1 1 1 -17 1 -28 1 3 1 -75 1 61 1 -45 1 -22 1 25 1 5 1 -4 1 -46 1 -24 1 25 1 4 1 17 1 -24 1 74 1 -61 1 7 1 38 1 -90 1 94 1 -6 1 5 1 -76 1 31 1 -57 1 -17 1 -11 1 20 1 -30 1 -53 1 73 1 -9 1 -14 1 -21 1 16 1 -10 1 44 1 -44 1 10 1 52 1 -70 1 -16 1 73 1 -17 1 -29 1 69 1 14 1 -13 1 -15 1 3 1 -25 1 11 1 37 1 -39 1 -28 1 18 1 8 1 24 1 -19 1 46 1 -36 1 22 1 -25 1 17 1 38 1 -30 1 -28 1 48 1 -16 1 0 1 12 1 -58 1 -12 1 7 1 9 1 2 1 -10 1 17 1 -40 1 -7 1 -1 1 29 1 -6 1 13 1 -36 1 43 1 53 1 -43 1 -25 1 34 1 3 1 26 1 51 1 4 1 -5 1 -17 1 -2 1 -1 1 25 1 -34 1 21 1 2 1 -39 1 31 1 33 1 -42 1 -31 1 61 1 -64 1 -7 1 17 1 -5 1 -23 1 -1 1 -40 1 17 1 39 1 -18 1 -34 1 -27 1 29 1 0 1 -35 1 37 1 4 1 21 1 -21 1 -58 1 73 1 -32 1 28 1 -33 1 -10 1 29 1 -15 1 6 1 11 1 -20 1 25 1 27 1 14 1 9 1 -22 1 22 1 -56 1 19 1 42 1 2 1 -41 1 71 1 -29 1 -28 1 37 1 -9 1 -3 1 -21 1 10 1 -5 1 -5 1 11 1 -21 1 36 1 13 1 7 1 -4 1 -12 1 -22 1 27 1 25 1 18 1 -1 1 7 1 13 1 11 1 -41 1 -51 1 41 1 -60 1 15 1 -66 1 -4 1 7 1 -41 1 -31 1 36 1 -18 1 25 1 43 1 -49 1 20 1 22 1 -41 1 12 1 17 1 -24 1 35 1 -26 1 32 1 -26 1 33 1 -47 1 26 1 -20 1 45 1 -5 1 -26 1 66 1 -34 1 -41 1 8 1 -11 1 22 1 -18 1 22 1 11 1 4 1 -24 1 -2 1 0 1 53 1 -31 1 -30 1 -17 1 14 1 4 1 25 1 -83 1 56 1 -53 1 0 1 22 1 15 1 -13 1 25 1 -26 1 6 1 -10 1 -7 1 -13 1 39 1 -25 1 34 1 3 1 -5 1 7 1 -35 1 2 1 -6 1 24 1 -4 1 16 1 11 1 -29 1 4 1 26 1 -30 1 43 1 -28 1 9 1 -1 1 10 1 -36 1 8 1 -10 1 19 1 27 1 -16 1 15 1 -29 1 -12 1 16 1 18 1 -4 1 -9 1 30 1 -28 1 0 1 14 1 -2 1 -9 1 18 1 0 1 -29 1 10 1 -27 1 47 1 14 1 -49 1 -1 1 29 1 13 1 -26 1 30 1 -26 1 32 1 -35 1 33 1 -34 1 -31 1 31 1 -19 1 24 1 4 1 10 1 -45 1 19 1 -30 1 48 1 -17 1 -6 1 -24 1 6 1 83 1 49 1 51 1 -13 1 65 1 50 1 -20 1 12 1 -45 1 -77 1 -21 1 -27 1 -11 1 -58 1 -51 1 20 1 -25 1 16 1 -7 1 14 1 10 1 20 1 -7 1 18 1 -1 1 6 1 -15 1 13 1 -12 1 -31 1 14 1 -6 1 -27 1 3 1 -5 1 -10 1 17 1 -36 1 -22 1 10 1 37 1 -29 1 21 1 -10 1 -4 1 23 1 -40 1 25 1 -13 1 7 1 -5 1 9 1 51 1 -18 1 42 1 -21 1 -12 1 3 1 1 1 30 1 -14 1 2 1 -20 1 -7 1 30 1 -70 1 61 1 4 1 -18 1 -4 1 2 1 18 1 -37 1 22 1 -26 1 1 1 41 1 -6 1 -2 1 -20 1 4 1 -3 1 18 1 -19 1 -15 1 45 1 -17 1 -7 1 7 1 2 1 -30 1 8 1 8 1 27 1 -47 1 30 1 16 1 -3 1 3 1 -41 1 30 1 2 1 34 1 -46 1 28 1 0 1 -28 1 23 1 -27 1 -5 1 45 1 -27 1 22 1 -24" fill="none" stroke="#505050" stroke-width="1.0" stroke-linejoin="round" opacity="1.0"/>
<path transform="matrix(0.5 0 0 0.1 0 0)" vector-effect="non-scaling-stroke" d="M142.51 1532l1 8 1 9 1 29 1 -33 1 -52 1 32 1 6 1 -9 1 20 1 -10 1 -3 1 20 1 7 1 -11 1 -8 1 0 1 10 1 8 1 6 1 -8 1 -14 1 9 1 -1 1 22 1 -3 1 -44 1 38 1 59 1 0 1 -37 1 -23 1 -4 1 -10 1 12 1 6 1 5 1 -10 1 14 1 19 1 -22 1 -34 1 14 1 43 1 -4 1 -31 1 -6 1 -6 1 24 1 3 1 -44 1 39 1 13 1 -40 1 1 1 3 1 -35 1 11 1 41 1 16 1 -14 1 -9 1 13 1 -2 1 -13 1 15 1 33 1 21 1 -43 1 -39 1 -5 1 1 1 35 1 -8 1 -11 1 27 1 11 1 -51 1 -22 1 17 1 6 1 14 1 -22 1 -13 1 22 1 -3 1 -1 1 -9 1 -35 1 12 1 -8 1 -6 1 20 1 2 1 5 1 -15 1 3 1 11 1 3 1 2 1 13 1 -9 1 -31 1 -18 1 -3 1 -24 1 5 1 47 1 -24 1 9 1 15 1 -1 1 10 1 17 1 -8 1 -29 1 31 1 -26 1 -25 1 29 1 28 1 4 1 -6 1 -9 1 -13 1 25 1 25 1 1 1 16 1 4 1 -17 1 -19 1 -22 1 24 1 12 1 -5 1 -25 1 -6 1 26 1 14 1 22 1 -19 1 -6 1 -3 1 19 1 -4 1 -11 1 -17 1 -10 1 10 1 18 1 10 1 -8 1 14 1 -15 1 -3 1 -4 1 -18 1 -6 1 13 1 33 1 11 1 -19 1 21 1 -15 1 -32 1 17 1 -20 1 -21 1 4 1 19 1 -9 1 -31 1 12 1 -19 1 -31 1 41 1 -1 1 -17 1 -21 1 -38 1 33 1 24 1 -24 1 -14 1 -28 1 -17 1 31 1 5 1 31 1 6 1 -46 1 10 1 28 1 -11 1 -43 1 8 1 53 1 -20 1 13 1 16 1 -22 1 -7 1 5 1 -7 1 -19 1 51 1 39 1 -24 1 -55 1 -7 1 21 1 6 1 -11 1 -11 1 8 1 24 1 -16 1 -39 1 44 1 -15 1 -33 1 49 1 46 1 -18 1 -41 1 23 1 41 1 -28 1 -19 1 28 1 -57 1 -42 1 36 1 47 1 8 1 34 1 12 1 -23 1 26 1 12 1 -33 1 -31 1 5 1 -15 1 15 1 33 1 12 1 -20 1 -49 1 -7 1 -3 1 14 1 15 1 -12 1 10 1 -50 1 -42 1 44 1 27 1 -14 1 11 1 -11 1 -4 1 13 1 -6 1 0 1 4 1 18 1 -8 1 -18 1 -12 1 -12 1 -32 1 -13 1 32 1 3 1 8 1 -12 1 -22 1 51 1 -3 1 -38 1 61 1 29 1 -39 1 22 1 11 1 -17 1 -28 1 -21 1 -37 1 14 1 27 1 -7 1 17 1 24 1 40 1 -6 1 -46 1 -41 1 4 1 21 1 27 1 -17 1 -38 1 38 1 27 1 8 1 -27 1 -25 1 28 1 0 1 -10 1 15 1 30 1 16 1 9 1 -31 1 -72 1 39 1 38 1 -39 1 21 1 2 1 -2 1 -23 1 -14 1 16 1 -28 1 5 1 39 1 -5 1 -53 1 -15 1 3 1 11 1 -5 1 -40 1 -6 1 -29 1 -3 1 51 1 22 1 -51 1 -37 1 -3 1 -17 1 -20 1 -24 1 38 1 17 1 -39 1 29 1 -14 1 -65 1 5 1 29 1 13 1 19 1 3 1 -17 1 -4 1 -7 1 -8 1 -50 1 40 1 3 1 16 1 84 1 -56 1 -67 1 -20 1 45 1 11 1 -58 1 -44 1 2 1 18 1 23 1 19 1 -21 1 -32 1 13 1 44 1 -54 1 -87 1 2 1 43 1 19 1 -30 1 -34 1 -26 1 1 1 80 1 24 1 -4 1 16 1 -79 1 -73 1 76 1 -38 1 -54 1 84 1 -10 1 -35 1 32 1 57 1 -33 1 -80 1 82 1 -14 1 -112 1 29 1 12 1 -11 1 27 1 -2 1 -80 1 32 1 33 1 -60 1 27 1 16 1 19 1 10 1 -54 1 -45 1 31 1 -96 1 -12 1 102 1 -13 1 18 1 -50 1 12 1 7 1 -49 1 93 1 13 1 -5 1 -53 1 0 1 140 1 63 1 22 1 -38 1 -2 1 32 1 -1 1 -28 1 -70 1 62 1 66 1 -35 1 28 1 4 1 -30 1 -81 1 -34 1 38 1 -37 1 -39 1 23 1 -11 1 14 1 -15 1 -43 1 45 1 69 1 -67 1 -45 1 -52 1 34 1 89 1 -3 1 28 1 -42 1 45 1 42 1 -31 1 -4 1 -14 1 -33 1 -7 1 32 1 49 1 57 1 18 1 -21 1 -53 1 -6 1 71 1 -43 1 -22 1 51 1 -27 1 -54 1 83 1 59 1 -107 1 -35 1 38 1 3 1 -95 1 -10 1 20 1 -57 1 40 1 8 1 -7 1 36 1 21 1 -67 1 -37 1 55 1 27 1 -100 1 -80 1 77 1 56 1 55 1 -44 1 -79 1 68 1 -40 1 -94 1 86 1 58 1 -15 1 -22 1 -5 1 84 1 -61 1 -75 1 16 1 -32 1 69 1 47 1 -33 1 -10 1 46 1 67 1 -1 1 16 1 33 1 61 1 -20 1 -41 1 29 1 -42 1 -37 1 -84 1 5 1 145 1 4 1 -35 1 -11 1 5 1 49 1 -7 1 0 1 69 1 13 1 -68 1 -71 1 23 1 81 1 -27 1 -29 1 -34 1 9 1 83 1 -22 1 -59 1 80 1 59 1 53 1 22 1 -35 1 -8 1 -18 1 -3 1 -17 1 -29 1 -16 1 46 1 67 1 -85 1 -126 1 68 1 31 1 40 1 87 1 -63 1 -140 1 27 1 95 1 -124 1 40 1 35 1 -111 1 33 1 8 1 -129 1 53 1 124 1 -44 1 11 1 44 1 -106 1 -74 1 143 1 35 1 -99 1 -48 1 82 1 23 1 -74 1 -20 1 -5 1 98 1 -63 1 -89 1 3 1 -116 1 88 1 181 1 -44 1 -46 1 59 1 39 1 -94 1 -25 1 137 1 -3 1 -13 1 -29 1 -35 1 50 1 -47 1 -21 1 -8 1 -87 1 46 1 81 1 -28 1 -70 1 13 1 37 1 6 1 -4 1 -24 1 49 1 53 1 -28 1 12 1 0 1 -48 1 11 1 55 1 36 1 -102 1 -71 1 128 1 78 1 -130 1 -102 1 79 1 17 1 73 1 53 1 -96 1 83 1 69 1 -120 1 -87 1 57 1 34 1 -100 1 26 1 126 1 -18 1 -45 1 -63 1 -27 1 89 1 -102 1 -17 1 82 1 -55 1 -18 1 19 1 6 1 8 1 87 1 6 1 -55 1 -2 1 -16 1 19 1 -53 1 -97 1 154 1 67 1 -66 1 114 1 -50 1 -88 1 34 1 0 1 -65 1 -84 1 35 1 25 1 22 1 29 1 33 1 10 1 4 1 -10 1 -63 1 8 1 -11 1 -99 1 153 1 125 1 -60 1 28 1 42 1 -15 1 -41 1 38 1 7 1 1 1 82 1 -83 1 -99 1 80 1 -37 1 -22 1 100 1 -78 1 -31 1 39 1 -89 1 -78 1 -57 1 43 1 76 1 16 1 -81 1 -93 1 28 1 111 1 -17 1 -8 1 67 1 0 1 -40 1 -21 1 -13 1 -41 1 25 1 164 1 101 1 -106 1 -68 1 -86 1 0 1 102 1 -41 1 -53 1 53 1 28 1 40 1 64 1 -103 1 21 1 15 1 -90 1 11 1 -4 1 15 1 141 1 75 1 -62 1 -78 1 30 1 77 1 -27 1 -83 1 53 1 124 1 -87 1 31 1 11 1 -76 1 81 1 -4 1 -27 1 -39 1 -76 1 -73 1 -1 1 43 1 8 1 -12 1 -85 1 63 1 0 1 -65 1 21 1 -38 1 -34 1 1 1 48 1 -5 1 -19 1 18 1 -11 1 -41 1 7 1 33 1 60 1 15 1 26 1 -30 1 -43 1 -28 1 -158 1 59 1 58 1 -36 1 65 1 41 1 -48 1 -90 1 2 1 102 1 45 1 -48 1 -87 1 -17 1 39 1 -32 1 21 1 48 1 1 1 61 1 -21 1 -76 1 -17 1 58 1 64 1 -73 1 -37 1 -14 1 35 1 34 1 -12 1 -9 1 -12 1 -14 1 -57 1 -10 1 89 1 -14 1 -79 1 59 1 37 1 -36 1 -47 1 14 1 69 1 -24 1 -57 1 -67 1 45 1 -3 1 -93 1 68 1 2 1 7 1 20 1 24 1 26 1 8 1 53 1 -18 1 -22 1 -20 1 -51 1 26 1 39 1 -6 1 53 1 2 1 -42 1 13 1 35 1 57 1 -17 1 -56 1 -37 1 -16 1 4 1 26 1 13" fill="none" stroke="#3333ff" stroke-width="0.9" stroke-linejoin="round" opacity="1.0"/>
<path transform="matrix(1.5 0 0 0.1 0 0)" vector-effect="non-scaling-stroke" d="M47.50 1528l1 9 1 7 1 -6 1 4 1 2 1 11 1 6 1 3 1 -6 1 3 1 11 1 0 1 -2 1 1 1 -4 1 -7 1 0 1 -2 1 0 1 3 1 -5 1 -3 1 6 1 1 1 -4 1 -15 1 -9 1 -4 1 -15 1 -8 1 0 1 -8 1 -5 1 2 1 1 1 11 1 0 1 -5 1 14 1 5 1 1 1 12 1 15 1 3 1 -2 1 -4 1 -3 1 5 1 -1 1 1 1 6 1 -4 1 -5 1 1 1 4 1 -8 1 -18 1 -26 1 -34 1 -5 1 -11 1 -11 1 3 1 9 1 11 1 -5 1 -6 1 9 1 6 1 -8 1 1 1 -4 1 5 1 8 1 3 1 0 1 2 1 14 1 13 1 -3 1 -14 1 -4 1 -14 1 -12 1 -8 1 -6 1 -4 1 -12 1 -3 1 2 1 -3 1 -1 1 -1 1 7 1 9 1 -2 1 -8 1 2 1 7 1 7 1 4 1 4 1 0 1 1 1 3 1 -3 1 -1 1 -2 1 -20 1 -18 1 -17 1 -9 1 -15 1 -25 1 -22 1 -11 1 -19 1 -27 1 -9 1 -5 1 -13 1 -14 1 -16 1 -19 1 -10 1 -8 1 -14 1 -16 1 -14 1 -12 1 -11 1 -12 1 -18 1 -23 1 -22 1 -11 1 -14 1 -17 1 -14 1 -11 1 -19 1 -25 1 -4 1 8 1 15 1 29 1 21 1 19 1 28 1 29 1 8 1 -23 1 -18 1 -21 1 -29 1 6 1 19 1 16 1 17 1 11 1 10 1 11 1 4 1 -4 1 -16 1 -4 1 -10 1 -18 1 -18 1 -25 1 -23 1 -14 1 -6 1 -11 1 -8 1 2 1 19 1 24 1 18 1 18 1 23 1 26 1 19 1 2 1 -2 1 5 1 6 1 32 1 29 1 36 1 35 1 9 1 5 1 -2 1 -1 1 -9 1 -27 1 -21 1 -19 1 -26 1 -15 1 -10 1 -13 1 -10 1 -11 1 3 1 3 1 -3 1 1 1 3 1 9 1 -6 1 -9 1 -6 1 -10 1 -2 1 14 1 15 1 13 1 18 1 6 1 3 1 1 1 -2 1 9 1 -6 1 -16 1 -6 1 -12 1 -12 1 -3 1 -5 1 -7 1 -4 1 1 1 -4 1 -9 1 5 1 19 1 12 1 15 1 15 1 20 1 32 1 3 1 -32 1 -38 1 -28 1 -22 1 -31 1 9 1 6 1 14 1 17 1 10 1 9 1 8 1 0 1 0 1 9 1 20 1 21 1 14 1 13 1 7 1 -8 1 -17 1 -47 1 -50 1 -52 1 -9 1 -8 1 -12 1 5 1 17 1 -1 1 -26 1 -16 1 -12 1 -19 1 -2 1 10 1 7 1 -5 1 8 1 -4 1 -21 1 -11 1 -15 1 -14 1 0 1 -13 1 0 1 -1 1 -4 1 6 1 13 1 24 1 15 1 6 1 18 1 22" fill="none" stroke="#0000ff" stroke-width="2.4" stroke-linejoin="round" opacity="1.0"/>
<path d="M147.2 176.3V244.4" stroke="#009900" stroke-width="2.2" stroke-dasharray="6 3.5" opacity="1"/>
<path d="M191.6 176.3V244.4" stroke="#ff3030" stroke-width="1.6" stroke-dasharray="6 3.5" opacity="0.9"/>
<path d="M280.7 176.3V244.4" stroke="#ff3030" stroke-width="1.6" stroke-dasharray="6 3.5" opacity="0.9"/>
<path d="M308.1 176.3V244.4" stroke="#0000ee" stroke-width="1.2" stroke-dasharray="1.5 1.5" opacity="1"/>
<path d="M322.8 176.3V244.4" stroke="#ff00ff" stroke-width="1.2" stroke-dasharray="1.5 1.5" opacity="1"/>
<path d="M325.2 176.3V244.4" stroke="#009900" stroke-width="1.2" stroke-dasharray="6 3.5" opacity="1"/>
<path d="M471.6 176.3V244.4" stroke="#ff00ff" stroke-width="1.2" stroke-dasharray="1.5 1.5" opacity="1"/>
<path d="M71.3 202.9H525.4" stroke="#000" stroke-width="1.5" stroke-dasharray="5.5 3"/>
<path transform="matrix(1 0 0 0.1 0 0)" vector-effect="non-scaling-stroke" d="M71.26 2295l1 53 1 -38 1 13 1 -9 1 14 1 -11 1 23 1 10 1 -8 1 6 1 12 1 0 1 -11 1 -1 1 12 1 -2 1 14 1 -38 1 19 1 -17 1 9 1 -18 1 3 1 13 1 -13 1 27 1 -24 1 31 1 -20 1 -7 1 10 1 7 1 5 1 -5 1 -15 1 3 1 13 1 11 1 -22 1 23 1 -10 1 1 1 -17 1 6 1 -3 1 2 1 10 1 -14 1 -11 1 17 1 -6 1 10 1 -12 1 6 1 -1 1 7 1 -13 1 24 1 1 1 5 1 -13 1 16 1 0 1 -17 1 -6 1 5 1 37 1 -21 1 0 1 0 1 -11 1 -27 1 24 1 4 1 -19 1 7 1 -2 1 9 1 -9 1 -6 1 28 1 -5 1 -33 1 2 1 16 1 5 1 -11 1 12 1 -10 1 -23 1 19 1 -12 1 18 1 -6 1 -12 1 35 1 -11 1 -2 1 -4 1 -15 1 13 1 32 1 -10 1 13 1 5 1 -31 1 43 1 -19 1 7 1 -25 1 1 1 -2 1 -2 1 -18 1 26 1 -3 1 5 1 -31 1 21 1 9 1 -8 1 -37 1 33 1 -12 1 5 1 6 1 10 1 -4 1 2 1 25 1 -62 1 23 1 12 1 5 1 8 1 -21 1 16 1 -8 1 26 1 -27 1 -24 1 27 1 -17 1 7 1 -17 1 -3 1 11 1 5 1 -14 1 0 1 6 1 -17 1 -1 1 17 1 -12 1 -42 1 28 1 8 1 -33 1 39 1 27 1 -9 1 -7 1 -25 1 -11 1 41 1 -47 1 30 1 -23 1 -5 1 -1 1 10 1 1 1 24 1 -19 1 -8 1 5 1 -26 1 29 1 7 1 -25 1 17 1 21 1 10 1 -75 1 5 1 -14 1 16 1 -22 1 -40 1 36 1 34 1 -10 1 -35 1 56 1 36 1 -1 1 -14 1 -39 1 21 1 25 1 17 1 -19 1 7 1 15 1 -1 1 17 1 -50 1 97 1 -62 1 15 1 -48 1 11 1 -24 1 -13 1 -3 1 -28 1 43 1 -62 1 16 1 -23 1 -32 1 25 1 -3 1 111 1 -13 1 -27 1 63 1 -21 1 -47 1 15 1 38 1 -37 1 -8 1 9 1 0 1 -5 1 48 1 -28 1 36 1 -22 1 9 1 41 1 -35 1 5 1 8 1 -19 1 23 1 -1 1 -10 1 2 1 -29 1 83 1 -51 1 40 1 -37 1 -22 1 3 1 -27 1 12 1 70 1 -43 1 -68 1 -4 1 32 1 36 1 -85 1 108 1 -52 1 14 1 -1 1 39 1 -12 1 -29 1 42 1 26 1 -28 1 1 1 10 1 19 1 -27 1 19 1 29 1 -29 1 10 1 0 1 47 1 -18 1 -56 1 -41 1 -16 1 -24 1 -10 1 -3 1 -15 1 32 1 26 1 -20 1 57 1 -42 1 14 1 -8 1 -10 1 12 1 36 1 -23 1 12 1 -16 1 -6 1 31 1 -36 1 -10 1 37 1 -23 1 41 1 -29 1 -41 1 52 1 -35 1 0 1 -45 1 2 1 41 1 -14 1 61 1 -73 1 17 1 -7 1 94 1 -44 1 29 1 62 1 -27 1 -15 1 -22 1 10 1 12 1 -24 1 9 1 9 1 4 1 -27 1 -3 1 -39 1 45 1 -45 1 28 1 -15 1 45 1 1 1 -9 1 -23 1 17 1 -10 1 11 1 -12 1 19 1 16 1 -20 1 7 1 -35 1 36 1 -8 1 7 1 -31 1 3 1 3 1 35 1 3 1 -37 1 -11 1 -14 1 65 1 -28 1 32 1 -11 1 -11 1 -19 1 31 1 6 1 -4 1 -26 1 -19 1 76 1 -27 1 -9 1 -41 1 1 1 -32 1 35 1 -30 1 21 1 23 1 -5 1 31 1 -48 1 43 1 10 1 -36 1 -157 1 20 1 108 1 11 1 -2 1 6 1 12 1 4 1 18 1 -31 1 -5 1 15 1 7 1 28 1 -46 1 54 1 19 1 -1 1 -10 1 -17 1 48 1 -50 1 16 1 -10 1 -22 1 2 1 20 1 -12 1 -33 1 5 1 6 1 12 1 -16 1 7 1 13 1 5 1 -24 1 1 1 -14 1 24 1 -30 1 25 1 -25 1 11 1 18 1 8 1 -10 1 4 1 -16 1 26 1 13 1 -19 1 -25 1 6 1 33" fill="none" stroke="#00e600" stroke-width="1.0" stroke-linejoin="round" opacity="1.0"/>
<path transform="matrix(1 0 0 0.1 0 0)" vector-effect="non-scaling-stroke" d="M71.26 2186l1 -10 1 5 1 2 1 -8 1 32 1 -5 1 10 1 -12 1 -10 1 13 1 -4 1 27 1 -25 1 11 1 -33 1 9 1 -2 1 10 1 -9 1 -3 1 11 1 1 1 -7 1 5 1 0 1 -3 1 6 1 -19 1 31 1 -30 1 19 1 0 1 11 1 -16 1 2 1 -5 1 10 1 -11 1 -26 1 17 1 11 1 -24 1 13 1 -13 1 -3 1 12 1 20 1 -26 1 -16 1 13 1 -11 1 -7 1 25 1 -25 1 -5 1 10 1 0 1 2 1 -16 1 33 1 5 1 -8 1 25 1 11 1 -9 1 -19 1 -1 1 34 1 7 1 -25 1 -1 1 -1 1 -11 1 -9 1 18 1 -6 1 30 1 3 1 -24 1 -6 1 0 1 4 1 0 1 4 1 47 1 -13 1 -25 1 -29 1 9 1 -72 1 13 1 -2 1 -6 1 -6 1 38 1 -38 1 17 1 16 1 -7 1 34 1 -24 1 -13 1 16 1 -5 1 -2 1 -3 1 -14 1 18 1 4 1 -12 1 -23 1 40 1 -13 1 36 1 -43 1 15 1 -6 1 26 1 20 1 -28 1 -5 1 18 1 3 1 -37 1 2 1 -50 1 48 1 -3 1 -7 1 23 1 -13 1 -40 1 26 1 6 1 9 1 -29 1 -2 1 5 1 9 1 -10 1 0 1 17 1 -18 1 41 1 -11 1 -14 1 -1 1 16 1 -21 1 -9 1 10 1 4 1 -8 1 7 1 24 1 -13 1 -20 1 36 1 -17 1 8 1 8 1 3 1 -15 1 -2 1 -6 1 11 1 -30 1 -22 1 -22 1 -7 1 -9 1 -10 1 -2 1 19 1 -19 1 6 1 22 1 -13 1 -67 1 55 1 19 1 -31 1 -41 1 28 1 -10 1 12 1 -14 1 -39 1 -2 1 7 1 -23 1 -7 1 27 1 -13 1 -2 1 19 1 -49 1 24 1 3 1 18 1 -18 1 -78 1 59 1 -53 1 8 1 -36 1 -15 1 27 1 -17 1 -14 1 -3 1 1 1 5 1 -31 1 -24 1 28 1 55 1 -18 1 26 1 4 1 -29 1 83 1 13 1 49 1 1 1 12 1 -101 1 16 1 2 1 -115 1 116 1 -68 1 2 1 23 1 37 1 4 1 13 1 -38 1 111 1 -61 1 -22 1 28 1 45 1 -60 1 14 1 -60 1 -26 1 42 1 66 1 -67 1 21 1 -62 1 -41 1 44 1 -66 1 14 1 23 1 50 1 -44 1 50 1 -95 1 27 1 -51 1 33 1 76 1 -63 1 20 1 4 1 118 1 1 1 -32 1 43 1 15 1 -7 1 -132 1 121 1 17 1 -15 1 -5 1 -36 1 24 1 17 1 38 1 7 1 41 1 43 1 -119 1 103 1 -51 1 53 1 -5 1 6 1 48 1 -45 1 -13 1 -23 1 -19 1 -52 1 -5 1 -21 1 43 1 -54 1 -78 1 54 1 -26 1 38 1 18 1 -103 1 64 1 -43 1 36 1 32 1 74 1 -88 1 65 1 28 1 -130 1 23 1 5 1 26 1 5 1 -15 1 13 1 6 1 -24 1 124 1 -127 1 60 1 -56 1 -11 1 79 1 -61 1 1 1 55 1 -10 1 -29 1 87 1 -73 1 -28 1 21 1 41 1 -51 1 -79 1 3 1 53 1 24 1 -33 1 -2 1 27 1 -15 1 -39 1 -13 1 132 1 -136 1 32 1 -41 1 45 1 -19 1 -46 1 191 1 -174 1 64 1 89 1 42 1 -112 1 91 1 -36 1 63 1 0 1 -59 1 19 1 -36 1 -18 1 7 1 -33 1 -13 1 73 1 -58 1 2 1 19 1 58 1 -33 1 -29 1 15 1 -46 1 96 1 1 1 10 1 -8 1 16 1 55 1 -88 1 -23 1 -2 1 92 1 -45 1 -92 1 74 1 -26 1 11 1 -86 1 -38 1 -90 1 35 1 -7 1 46 1 -37 1 -1 1 -18 1 93 1 -9 1 91 1 -54 1 23 1 -59 1 -47 1 44 1 -33 1 3 1 -14 1 -9 1 15 1 -15 1 11 1 9 1 12 1 -40 1 38 1 -23 1 3 1 27 1 -43 1 34 1 -32 1 -19 1 39 1 1 1 -3 1 -64 1 47 1 14 1 -42 1 16 1 -6 1 15 1 19 1 -22 1 53 1 44 1 -16 1 -8 1 -37 1 -4 1 -2" fill="none" stroke="#2020ff" stroke-width="1.0" stroke-linejoin="round" opacity="1.0"/>
<path transform="matrix(1 0 0 0.1 0 0)" vector-effect="non-scaling-stroke" d="M71.26 1887l1 -18 1 -2 1 19 1 -6 1 0 1 -17 1 5 1 -14 1 32 1 -44 1 25 1 -9 1 13 1 6 1 -10 1 -3 1 17 1 1 1 -14 1 21 1 7 1 -30 1 14 1 17 1 -17 1 -6 1 10 1 5 1 -24 1 -14 1 17 1 7 1 -18 1 -6 1 16 1 -15 1 -8 1 23 1 13 1 -16 1 5 1 -11 1 43 1 -7 1 6 1 19 1 -30 1 -3 1 25 1 -36 1 7 1 1 1 2 1 -13 1 39 1 -38 1 -2 1 41 1 -42 1 9 1 -22 1 20 1 -9 1 -6 1 24 1 -28 1 14 1 -11 1 20 1 -31 1 10 1 16 1 -16 1 -12 1 -11 1 74 1 -43 1 16 1 18 1 26 1 -39 1 57 1 -27 1 -6 1 62 1 -16 1 26 1 -20 1 -40 1 -29 1 44 1 -38 1 -23 1 -16 1 15 1 14 1 -18 1 2 1 0 1 4 1 -16 1 10 1 14 1 10 1 23 1 -3 1 -16 1 28 1 17 1 -49 1 3 1 -31 1 21 1 3 1 15 1 -40 1 -19 1 52 1 -3 1 -18 1 22 1 -8 1 2 1 -8 1 -13 1 17 1 -15 1 20 1 -13 1 38 1 -12 1 -36 1 21 1 -20 1 0 1 -14 1 7 1 -4 1 17 1 10 1 1 1 -3 1 11 1 -9 1 -7 1 -5 1 10 1 28 1 -31 1 -5 1 -14 1 9 1 23 1 3 1 -46 1 23 1 -17 1 -4 1 53 1 -20 1 0 1 0 1 2 1 7 1 1 1 28 1 -26 1 8 1 -18 1 9 1 -22 1 -5 1 7 1 -2 1 2 1 8 1 -7 1 8 1 -14 1 10 1 -8 1 40 1 -39 1 34 1 3 1 -8 1 11 1 -14 1 20 1 13 1 -6 1 -43 1 24 1 23 1 -24 1 30 1 -68 1 65 1 -41 1 -2 1 39 1 -37 1 -16 1 5 1 -2 1 -20 1 10 1 -9 1 3 1 -22 1 28 1 -44 1 23 1 7 1 -39 1 -32 1 20 1 40 1 -26 1 33 1 -4 1 1 1 79 1 -47 1 49 1 9 1 37 1 -2 1 -19 1 -53 1 -27 1 43 1 -35 1 35 1 43 1 -63 1 -11 1 23 1 -24 1 -10 1 40 1 17 1 -39 1 -3 1 2 1 -42 1 -24 1 62 1 -36 1 -9 1 5 1 -12 1 42 1 -37 1 -42 1 36 1 43 1 -41 1 -23 1 27 1 28 1 -70 1 91 1 -54 1 20 1 42 1 -76 1 31 1 53 1 -55 1 37 1 53 1 -38 1 -29 1 -10 1 15 1 2 1 -17 1 22 1 -50 1 34 1 -7 1 -11 1 53 1 -14 1 -79 1 40 1 19 1 -36 1 13 1 -33 1 41 1 -25 1 72 1 -92 1 68 1 31 1 -52 1 0 1 -23 1 39 1 -51 1 -73 1 135 1 -54 1 25 1 -15 1 71 1 -21 1 -53 1 19 1 -56 1 83 1 -28 1 -92 1 130 1 8 1 -27 1 3 1 -28 1 28 1 34 1 -31 1 -81 1 50 1 143 1 -91 1 19 1 -57 1 21 1 -79 1 29 1 -4 1 23 1 6 1 -14 1 -34 1 26 1 29 1 -57 1 36 1 9 1 23 1 -9 1 2 1 73 1 -132 1 14 1 26 1 -44 1 20 1 1 1 97 1 -78 1 -28 1 -38 1 -9 1 13 1 89 1 38 1 -93 1 20 1 -30 1 40 1 -10 1 61 1 -65 1 33 1 -25 1 -2 1 22 1 -13 1 13 1 -25 1 11 1 38 1 4 1 -79 1 66 1 -36 1 23 1 35 1 8 1 -28 1 -5 1 -14 1 63 1 -25 1 -19 1 -60 1 135 1 -99 1 32 1 -35 1 30 1 -32 1 -43 1 37 1 -9 1 -4 1 32 1 -51 1 20 1 19 1 -13 1 21 1 -20 1 41 1 31 1 -52 1 14 1 -15 1 13 1 13 1 0 1 -12 1 -33 1 21 1 34 1 -28 1 25 1 -26 1 22 1 1 1 -18 1 4 1 23 1 -31 1 -18 1 50 1 -41 1 35 1 -1 1 -2 1 18 1 -32 1 12 1 17 1 -4 1 17 1 -12 1 -13 1 34 1 -11 1 -3 1 -7 1 1 1 12 1 -17 1 -34 1 8 1 -1 1 -15 1 -6" fill="none" stroke="#ff0000" stroke-width="1.0" stroke-linejoin="round" opacity="1.0"/>
<path d="M744.3 41.6V114.8" stroke="#009900" stroke-width="1.2" stroke-dasharray="6 3.5" opacity="1"/>
<path d="M788.7 41.6V114.8" stroke="#ff3030" stroke-width="1.6" stroke-dasharray="6 3.5" opacity="0.9"/>
<path d="M877.8 41.6V114.8" stroke="#ff3030" stroke-width="1.6" stroke-dasharray="6 3.5" opacity="0.9"/>
<path d="M905.2 41.6V114.8" stroke="#0000ee" stroke-width="1.2" stroke-dasharray="1.5 1.5" opacity="1"/>
<path d="M919.9 41.6V114.8" stroke="#ff00ff" stroke-width="1.2" stroke-dasharray="1.5 1.5" opacity="1"/>
<path d="M922.3 41.6V114.8" stroke="#009900" stroke-width="1.2" stroke-dasharray="6 3.5" opacity="1"/>
<path d="M1068.7 41.6V114.8" stroke="#ff00ff" stroke-width="1.2" stroke-dasharray="1.5 1.5" opacity="1"/>
<path d="M668.4 69.9H1122.5" stroke="#000" stroke-width="1.2" stroke-dasharray="5.5 3"/>
<path transform="matrix(0.5 0 0 0.1 0 0)" vector-effect="non-scaling-stroke" d="M1336.71 1009l1 -2 1 -6 1 0 1 -1 1 9 1 7 1 3 1 10 1 4 1 -5 1 4 1 3 1 -6 1 -2 1 5 1 3 1 6 1 12 1 -3 1 0 1 6 1 -4 1 2 1 -2 1 2 1 -4 1 4 1 0 1 1 1 -2 1 -6 1 3 1 -9 1 11 1 7 1 -13 1 -6 1 -4 1 1 1 3 1 2 1 1 1 -1 1 -3 1 -1 1 1 1 -8 1 -2 1 8 1 7 1 -5 1 3 1 12 1 2 1 -11 1 -3 1 4 1 -4 1 3 1 -7 1 -4 1 12 1 -9 1 4 1 12 1 -5 1 3 1 1 1 -7 1 -2 1 3 1 -3 1 -9 1 -2 1 18 1 1 1 -14 1 4 1 9 1 3 1 -3 1 4 1 -7 1 -11 1 5 1 9 1 -7 1 -7 1 1 1 4 1 -6 1 -2 1 2 1 9 1 8 1 -11 1 14 1 3 1 -6 1 4 1 -2 1 0 1 -5 1 -7 1 1 1 7 1 5 1 -12 1 0 1 9 1 2 1 -2 1 -6 1 -1 1 3 1 2 1 3 1 2 1 4 1 3 1 -8 1 6 1 2 1 -6 1 10 1 10 1 1 1 -4 1 -10 1 -7 1 -5 1 -11 1 8 1 20 1 5 1 -1 1 -5 1 -8 1 -10 1 4 1 7 1 -7 1 -1 1 1 1 -12 1 -3 1 10 1 -5 1 -2 1 -6 1 7 1 9 1 -4 1 -1 1 -7 1 2 1 14 1 -4 1 -5 1 -3 1 -7 1 -8 1 -2 1 14 1 1 1 -10 1 1 1 5 1 1 1 2 1 3 1 -9 1 -7 1 13 1 -4 1 -8 1 5 1 0 1 -5 1 13 1 7 1 -14 1 1 1 12 1 6 1 -9 1 -13 1 11 1 11 1 -11 1 -4 1 -1 1 -4 1 -1 1 14 1 7 1 -2 1 -1 1 -13 1 -5 1 -4 1 0 1 9 1 5 1 12 1 9 1 -4 1 -2 1 3 1 11 1 12 1 4 1 -13 1 -2 1 4 1 -3 1 2 1 -1 1 -2 1 -4 1 -9 1 4 1 2 1 -8 1 0 1 -8 1 -14 1 11 1 8 1 -13 1 -4 1 14 1 2 1 -6 1 5 1 -6 1 3 1 3 1 -11 1 5 1 10 1 -15 1 0 1 5 1 -2 1 6 1 -1 1 0 1 -3 1 6 1 2 1 -11 1 4 1 18 1 -5 1 -7 1 0 1 -2 1 7 1 -1 1 -5 1 -3 1 10 1 10 1 0 1 -13 1 -7 1 12 1 3 1 -12 1 5 1 10 1 -9 1 -6 1 1 1 10 1 4 1 9 1 0 1 -11 1 -1 1 -11 1 -4 1 6 1 -7 1 -12 1 7 1 4 1 -5 1 11 1 0 1 -12 1 -3 1 2 1 -3 1 -2 1 0 1 2 1 -6 1 5 1 1 1 -10 1 -5 1 1 1 17 1 -10 1 -19 1 12 1 3 1 -12 1 7 1 -3 1 -1 1 -3 1 -12 1 8 1 8 1 -3 1 8 1 4 1 -12 1 -17 1 -8 1 11 1 12 1 -2 1 -6 1 10 1 1 1 -1 1 0 1 10 1 -12 1 -17 1 14 1 -1 1 3 1 -4 1 -19 1 -5 1 10 1 3 1 -1 1 4 1 7 1 -1 1 -5 1 7 1 2 1 7 1 22 1 9 1 -18 1 -9 1 7 1 2 1 5 1 -8 1 14 1 9 1 -38 1 -36 1 11 1 17 1 5 1 12 1 -22 1 -35 1 -1 1 5 1 12 1 -13 1 -20 1 22 1 -16 1 -1 1 27 1 -19 1 -4 1 15 1 -25 1 -17 1 19 1 -5 1 -8 1 0 1 -9 1 2 1 33 1 1 1 -16 1 9 1 2 1 -2 1 7 1 24 1 -9 1 2 1 31 1 1 1 -10 1 6 1 1 1 9 1 13 1 -55 1 6 1 45 1 -14 1 19 1 15 1 11 1 14 1 -41 1 0 1 46 1 -31 1 11 1 -9 1 -27 1 -6 1 8 1 29 1 -33 1 -10 1 19 1 -26 1 -17 1 25 1 -6 1 -28 1 -1 1 -36 1 -19 1 34 1 1 1 -22 1 6 1 16 1 -14 1 -6 1 1 1 39 1 4 1 -38 1 -19 1 22 1 25 1 -2 1 8 1 -28 1 -16 1 11 1 52 1 52 1 -20 1 7 1 -7 1 -79 1 33 1 39 1 -25 1 6 1 4 1 36 1 3 1 -17 1 13 1 -16 1 -30 1 12 1 -8 1 -21 1 5 1 -1 1 24 1 -29 1 -16 1 31 1 21 1 22 1 -16 1 21 1 15 1 -37 1 16 1 24 1 15 1 0 1 -28 1 2 1 -3 1 5 1 12 1 -26 1 -20 1 13 1 -16 1 5 1 33 1 -14 1 -44 1 18 1 46 1 -2 1 4 1 17 1 -22 1 -40 1 1 1 11 1 17 1 -7 1 -15 1 22 1 -1 1 5 1 7 1 -6 1 -21 1 -4 1 4 1 11 1 2 1 -39 1 3 1 24 1 9 1 -20 1 -13 1 9 1 23 1 20 1 -14 1 -8 1 -8 1 -24 1 6 1 26 1 10 1 -18 1 27 1 -1 1 -39 1 27 1 15 1 -7 1 -17 1 -8 1 37 1 69 1 -47 1 -68 1 47 1 46 1 3 1 -7 1 -31 1 -31 1 57 1 5 1 -20 1 7 1 6 1 42 1 18 1 -32 1 -40 1 -23 1 -7 1 28 1 22 1 -10 1 9 1 -9 1 9 1 0 1 -27 1 -16 1 -40 1 -16 1 -4 1 -16 1 -5 1 -18 1 13 1 27 1 -20 1 -9 1 14 1 14 1 26 1 -6 1 -11 1 -14 1 -14 1 58 1 5 1 -50 1 8 1 10 1 -7 1 -3 1 24 1 6 1 -39 1 28 1 15 1 17 1 2 1 -58 1 -8 1 45 1 -17 1 -28 1 16 1 22 1 35 1 -5 1 -16 1 -17 1 26 1 5 1 -35 1 -12 1 21 1 28 1 -32 1 -18 1 27 1 1 1 -5 1 -6 1 -4 1 -7 1 -8 1 9 1 6 1 -11 1 -25 1 -11 1 16 1 5 1 -39 1 27 1 30 1 -2 1 -5 1 -26 1 4 1 14 1 17 1 24 1 4 1 -13 1 18 1 12 1 -34 1 1 1 44 1 34 1 -3 1 -6 1 -11 1 4 1 40 1 -12 1 2 1 -7 1 -31 1 -17 1 4 1 22 1 -22 1 -47 1 12 1 62 1 6 1 -25 1 0 1 -15 1 -15 1 24 1 10 1 -1 1 1 1 -44 1 0 1 29 1 -22 1 -2 1 35 1 -8 1 2 1 9 1 -8 1 18 1 -36 1 -8 1 12 1 -2 1 9 1 -16 1 -19 1 17 1 40 1 -8 1 -4 1 28 1 -14 1 -17 1 21 1 7 1 -17 1 19 1 8 1 -14 1 -3 1 4 1 -28 1 -8 1 40 1 6 1 -21 1 -17 1 36 1 -3 1 -24 1 18 1 -8 1 -13 1 6 1 -15 1 10 1 -3 1 2 1 35 1 -5 1 -35 1 -11 1 24 1 -20 1 -43 1 30 1 4 1 -10 1 17 1 -24 1 -5 1 61 1 11 1 -9 1 6 1 -16 1 1 1 -17 1 0 1 18 1 4 1 -9 1 -17 1 -32 1 21 1 43 1 1 1 10 1 -10 1 0 1 26 1 -24 1 -44 1 2 1 3 1 -8 1 16 1 -9 1 -19 1 9 1 -21 1 -18 1 -5 1 -10 1 28 1 19 1 -5 1 -1 1 19 1 2 1 10 1 8 1 -12 1 44 1 33 1 -28 1 -22 1 -28 1 -15 1 4 1 -48 1 -71 1 -87 1 26 1 73 1 94 1 -16 1 8 1 48 1 -22 1 -21 1 17 1 17 1 -11 1 -10 1 1 1 10 1 16 1 -28 1 -27 1 22 1 -7 1 6 1 42 1 -31 1 -26 1 39 1 23 1 8 1 11 1 16 1 -1 1 -30 1 -11 1 19 1 23 1 -2 1 -11 1 -14 1 -27 1 12 1 32 1 -20 1 6 1 41 1 -27 1 -14 1 2 1 12 1 8 1 -7 1 2 1 -33 1 -14 1 2 1 -9 1 7 1 23 1 14 1 -21 1 6 1 -9 1 -38 1 0 1 7 1 -15 1 14 1 20 1 -12 1 18 1 16 1 -4 1 2 1 5 1 10 1 -17 1 -36 1 1 1 8 1 -11 1 4 1 -3 1 2 1 24 1 -4 1 16 1 3 1 -34 1 -19 1 16 1 27 1 -23 1 -19 1 -4 1 -3 1 12 1 11 1 21 1 16 1 -5 1 -11 1 4 1 19 1 -26 1 2 1 21 1 -4 1 4 1 -37 1 -11" fill="none" stroke="#00e600" stroke-width="1.0" stroke-linejoin="round" opacity="1.0"/>
<path transform="matrix(0.5 0 0 0.1 0 0)" vector-effect="non-scaling-stroke" d="M1336.71 875l1 4 1 -8 1 0 1 0 1 -5 1 10 1 0 1 -3 1 -4 1 -5 1 13 1 3 1 -3 1 1 1 -5 1 0 1 0 1 0 1 10 1 11 1 7 1 -7 1 -10 1 -7 1 6 1 6 1 0 1 2 1 6 1 -6 1 -9 1 3 1 -6 1 -3 1 8 1 -7 1 -11 1 4 1 7 1 10 1 4 1 -8 1 -10 1 2 1 -10 1 -6 1 4 1 -4 1 10 1 0 1 -8 1 13 1 -1 1 -13 1 -1 1 1 1 13 1 7 1 -4 1 -2 1 -3 1 -5 1 -4 1 11 1 0 1 -14 1 4 1 18 1 5 1 -7 1 6 1 0 1 -1 1 -5 1 -13 1 4 1 10 1 -4 1 -5 1 4 1 -11 1 -1 1 13 1 -10 1 -21 1 -6 1 5 1 -5 1 6 1 -2 1 -16 1 13 1 9 1 5 1 7 1 -13 1 0 1 1 1 -12 1 0 1 -2 1 -11 1 6 1 7 1 -8 1 10 1 15 1 13 1 -6 1 -21 1 0 1 -6 1 -6 1 9 1 11 1 12 1 0 1 -9 1 2 1 7 1 2 1 -5 1 9 1 8 1 -11 1 -6 1 -4 1 7 1 9 1 7 1 -11 1 -12 1 7 1 10 1 9 1 -12 1 -7 1 5 1 -12 1 15 1 18 1 -13 1 -9 1 11 1 5 1 -2 1 4 1 -7 1 -5 1 -5 1 -2 1 -2 1 11 1 8 1 5 1 15 1 1 1 -17 1 -11 1 18 1 -8 1 -18 1 11 1 10 1 1 1 9 1 -15 1 -3 1 20 1 1 1 6 1 6 1 -5 1 -4 1 -5 1 -17 1 -28 1 -13 1 -2 1 -24 1 -14 1 4 1 -13 1 -4 1 7 1 -7 1 5 1 16 1 10 1 -3 1 -16 1 6 1 -8 1 -11 1 8 1 17 1 5 1 -10 1 17 1 4 1 -11 1 12 1 -4 1 -26 1 -1 1 20 1 8 1 -13 1 4 1 6 1 -5 1 1 1 -10 1 12 1 4 1 -12 1 9 1 14 1 -2 1 -8 1 22 1 7 1 -11 1 -2 1 -4 1 0 1 -14 1 -11 1 13 1 0 1 -12 1 8 1 25 1 3 1 -16 1 12 1 12 1 -11 1 -6 1 1 1 2 1 3 1 2 1 -11 1 -14 1 6 1 7 1 -15 1 -15 1 9 1 14 1 -10 1 -18 1 -6 1 -1 1 16 1 5 1 -9 1 5 1 -20 1 -5 1 14 1 2 1 -3 1 -10 1 5 1 7 1 1 1 6 1 -3 1 -9 1 -2 1 3 1 12 1 -4 1 -14 1 -8 1 5 1 19 1 8 1 -4 1 -11 1 -5 1 10 1 6 1 -16 1 -3 1 9 1 3 1 8 1 7 1 -6 1 -16 1 -9 1 9 1 4 1 -3 1 -3 1 7 1 6 1 -9 1 10 1 6 1 -8 1 -3 1 -1 1 0 1 -3 1 -4 1 4 1 -4 1 6 1 15 1 -5 1 4 1 12 1 4 1 -16 1 -3 1 15 1 -14 1 -10 1 11 1 8 1 0 1 -2 1 1 1 -2 1 3 1 -8 1 -3 1 -4 1 -8 1 -12 1 -16 1 -10 1 8 1 -13 1 -18 1 7 1 -4 1 -4 1 -12 1 -5 1 4 1 -10 1 -12 1 13 1 19 1 5 1 4 1 -23 1 -22 1 0 1 -5 1 -4 1 -10 1 -17 1 21 1 1 1 -23 1 26 1 10 1 -5 1 23 1 -7 1 -1 1 0 1 -9 1 5 1 -27 1 -7 1 18 1 -7 1 -29 1 -18 1 18 1 -9 1 -17 1 21 1 -23 1 -21 1 7 1 7 1 40 1 -6 1 -42 1 9 1 -21 1 -5 1 -2 1 -20 1 40 1 31 1 -10 1 -19 1 -23 1 6 1 28 1 -56 1 -25 1 31 1 -37 1 -2 1 75 1 -13 1 -40 1 -17 1 17 1 9 1 -59 1 -32 1 -11 1 3 1 13 1 15 1 19 1 -22 1 -56 1 5 1 50 1 42 1 -9 1 -67 1 -17 1 55 1 10 1 -42 1 5 1 27 1 -4 1 18 1 -49 1 7 1 47 1 -38 1 18 1 46 1 10 1 -1 1 10 1 19 1 13 1 -4 1 -42 1 24 1 34 1 5 1 55 1 36 1 -22 1 -4 1 -18 1 -39 1 -48 1 3 1 0 1 -79 1 -8 1 35 1 11 1 -13 1 17 1 -16 1 3 1 21 1 -26 1 13 1 43 1 -4 1 8 1 71 1 4 1 -54 1 18 1 47 1 -43 1 -31 1 -3 1 -29 1 -23 1 -2 1 17 1 -20 1 35 1 8 1 -44 1 75 1 58 1 -55 1 -77 1 11 1 77 1 31 1 -45 1 -51 1 24 1 -5 1 -10 1 -25 1 25 1 41 1 -70 1 1 1 51 1 -12 1 -75 1 -18 1 9 1 29 1 41 1 -46 1 -15 1 30 1 64 1 -32 1 -84 1 -1 1 63 1 49 1 -33 1 -13 1 -48 1 -1 1 35 1 -3 1 36 1 -61 1 -55 1 46 1 20 1 57 1 -26 1 -15 1 112 1 17 1 -42 1 -21 1 -10 1 -18 1 19 1 -8 1 54 1 17 1 -62 1 5 1 19 1 26 1 14 1 34 1 -1 1 -76 1 -52 1 44 1 57 1 5 1 -5 1 -8 1 -11 1 -34 1 76 1 76 1 -37 1 -22 1 -19 1 -45 1 43 1 38 1 -18 1 22 1 -5 1 -16 1 11 1 61 1 -4 1 -38 1 59 1 3 1 -40 1 19 1 -3 1 -52 1 51 1 46 1 8 1 6 1 -77 1 54 1 -5 1 -63 1 38 1 10 1 -20 1 -25 1 -17 1 -46 1 -41 1 38 1 -26 1 -96 1 -33 1 28 1 91 1 23 1 -42 1 -12 1 38 1 -20 1 -68 1 56 1 47 1 -10 1 -23 1 -63 1 61 1 -12 1 -89 1 83 1 -19 1 -72 1 31 1 25 1 41 1 -4 1 -3 1 13 1 -54 1 13 1 50 1 -25 1 -45 1 -12 1 36 1 -10 1 -53 1 51 1 32 1 44 1 23 1 -20 1 -6 1 -11 1 74 1 -35 1 -37 1 -16 1 -70 1 18 1 46 1 11 1 41 1 5 1 -70 1 -17 1 60 1 -24 1 -45 1 74 1 3 1 0 1 29 1 -28 1 -69 1 -72 1 101 1 77 1 -42 1 -23 1 -18 1 36 1 -1 1 0 1 31 1 -37 1 -32 1 32 1 -16 1 -8 1 41 1 -11 1 -43 1 13 1 -27 1 -14 1 33 1 -33 1 7 1 40 1 4 1 -50 1 -45 1 7 1 51 1 47 1 3 1 -16 1 -24 1 -14 1 29 1 -22 1 -2 1 18 1 0 1 -29 1 -36 1 25 1 -21 1 -24 1 71 1 22 1 -8 1 24 1 -19 1 25 1 24 1 -47 1 -40 1 -11 1 12 1 32 1 10 1 2 1 18 1 -8 1 10 1 38 1 22 1 -29 1 -20 1 15 1 -8 1 45 1 22 1 -4 1 32 1 67 1 -39 1 -81 1 6 1 -44 1 42 1 -14 1 -33 1 24 1 -50 1 50 1 20 1 -21 1 -13 1 19 1 -45 1 -65 1 51 1 32 1 -55 1 -18 1 20 1 25 1 12 1 26 1 11 1 -22 1 46 1 -53 1 -47 1 51 1 49 1 -46 1 28 1 46 1 -19 1 -4 1 -16 1 11 1 37 1 -11 1 -50 1 23 1 -36 1 2 1 54 1 -72 1 10 1 66 1 39 1 -3 1 -30 1 -7 1 22 1 -29 1 -53 1 5 1 23 1 78 1 -26 1 -57 1 21 1 -55 1 -27 1 39 1 -27 1 -28 1 -20 1 -35 1 -13 1 12 1 3 1 -31 1 -40 1 -20 1 28 1 52 1 10 1 -79 1 -51 1 27 1 16 1 -43 1 2 1 69 1 64 1 25 1 33 1 34 1 -45 1 -32 1 5 1 26 1 10 1 -21 1 -21 1 -22 1 -5 1 6 1 -27 1 5 1 12 1 -23 1 -12 1 11 1 -4 1 -5 1 8 1 -13 1 -36 1 14 1 48 1 10 1 8 1 -22 1 -7 1 12 1 7 1 -7 1 -10 1 -25 1 -2 1 27 1 13 1 -12 1 -26 1 12 1 4 1 -13 1 43 1 -22 1 -46 1 46 1 40 1 -25 1 -22 1 -7 1 -3 1 -12 1 1 1 9 1 -19 1 8 1 -5 1 -7 1 11 1 3 1 31 1 9 1 -60 1 -10 1 34 1 -4 1 -9 1 -33 1 10 1 37 1 -25 1 21 1 56 1 18 1 14 1 -20 1 -31 1 4 1 -11 1 28 1 9 1 -19 1 5 1 -9 1 22 1 -22" fill="none" stroke="#2020ff" stroke-width="1.0" stroke-linejoin="round" opacity="1.0"/>
<path transform="matrix(0.5 0 0 0.1 0 0)" vector-effect="non-scaling-stroke" d="M1336.71 541l1 5 1 11 1 9 1 -9 1 -24 1 -3 1 2 1 -7 1 6 1 -11 1 -2 1 11 1 -22 1 1 1 13 1 1 1 -3 1 7 1 7 1 -20 1 -4 1 12 1 0 1 -2 1 2 1 0 1 12 1 1 1 -4 1 0 1 -3 1 12 1 1 1 2 1 -6 1 -5 1 0 1 5 1 -5 1 -6 1 0 1 -8 1 14 1 2 1 -4 1 -2 1 -13 1 -3 1 1 1 12 1 5 1 -10 1 -6 1 6 1 3 1 -7 1 13 1 10 1 -14 1 1 1 11 1 -14 1 -10 1 7 1 1 1 1 1 4 1 0 1 -7 1 -12 1 5 1 9 1 -2 1 8 1 -1 1 -13 1 9 1 2 1 0 1 -1 1 -11 1 13 1 24 1 2 1 -3 1 9 1 -7 1 -17 1 0 1 13 1 15 1 4 1 -1 1 -7 1 -5 1 6 1 -2 1 3 1 -6 1 -5 1 8 1 2 1 -8 1 -11 1 2 1 -2 1 4 1 11 1 6 1 -10 1 -4 1 13 1 -16 1 -6 1 12 1 -13 1 -6 1 -1 1 0 1 0 1 -13 1 4 1 -7 1 2 1 15 1 -4 1 -10 1 4 1 12 1 -5 1 -13 1 6 1 21 1 -2 1 -16 1 4 1 4 1 12 1 1 1 -16 1 -5 1 -2 1 -1 1 12 1 1 1 6 1 11 1 -24 1 -12 1 26 1 4 1 -8 1 15 1 -1 1 -4 1 -7 1 18 1 19 1 -7 1 15 1 -7 1 -26 1 18 1 16 1 1 1 6 1 7 1 0 1 8 1 0 1 -7 1 -4 1 20 1 23 1 2 1 4 1 -22 1 -5 1 2 1 -5 1 -23 1 -32 1 -17 1 1 1 13 1 1 1 1 1 7 1 -19 1 -9 1 3 1 -2 1 -8 1 -11 1 11 1 9 1 -2 1 -12 1 -13 1 8 1 -8 1 0 1 26 1 17 1 -2 1 -10 1 7 1 4 1 -7 1 7 1 7 1 -7 1 7 1 19 1 5 1 -3 1 -8 1 2 1 20 1 -10 1 -17 1 0 1 -6 1 -10 1 -9 1 3 1 9 1 -6 1 -1 1 -9 1 -8 1 10 1 -7 1 -4 1 4 1 -2 1 9 1 8 1 -1 1 7 1 3 1 -14 1 -5 1 14 1 -16 1 1 1 14 1 -14 1 -5 1 13 1 11 1 -5 1 -10 1 -5 1 5 1 -2 1 -14 1 -2 1 9 1 13 1 1 1 2 1 -2 1 -13 1 15 1 11 1 -7 1 -12 1 3 1 4 1 -3 1 1 1 -2 1 -8 1 -14 1 -4 1 17 1 -10 1 -17 1 18 1 2 1 3 1 17 1 2 1 -23 1 -8 1 13 1 1 1 7 1 -3 1 -11 1 -15 1 16 1 4 1 -15 1 34 1 -3 1 -35 1 -1 1 15 1 10 1 23 1 -1 1 -22 1 14 1 0 1 -2 1 -21 1 7 1 35 1 11 1 -4 1 -24 1 -4 1 10 1 -9 1 -9 1 -3 1 5 1 34 1 1 1 -7 1 -11 1 -3 1 13 1 -6 1 16 1 5 1 -27 1 1 1 11 1 -9 1 5 1 4 1 -14 1 0 1 3 1 -3 1 12 1 13 1 -38 1 -34 1 25 1 4 1 -17 1 -1 1 17 1 30 1 10 1 -16 1 -35 1 -24 1 19 1 24 1 -19 1 -29 1 29 1 22 1 -12 1 12 1 8 1 1 1 -2 1 18 1 1 1 -29 1 -9 1 1 1 8 1 10 1 -21 1 7 1 26 1 -18 1 3 1 37 1 10 1 -11 1 -3 1 1 1 -16 1 -17 1 6 1 16 1 -9 1 -20 1 -18 1 23 1 32 1 -29 1 13 1 16 1 -20 1 3 1 16 1 0 1 8 1 -18 1 -15 1 15 1 -8 1 -1 1 -3 1 -4 1 7 1 4 1 8 1 14 1 -7 1 -4 1 5 1 -9 1 -34 1 -20 1 14 1 -2 1 -16 1 -40 1 27 1 36 1 -8 1 -19 1 -22 1 10 1 -10 1 -8 1 50 1 29 1 -55 1 0 1 -12 1 -43 1 35 1 32 1 -32 1 -39 1 -5 1 22 1 37 1 15 1 -16 1 14 1 -3 1 -1 1 26 1 -38 1 3 1 14 1 14 1 48 1 27 1 20 1 -48 1 -4 1 72 1 -31 1 -25 1 36 1 -19 1 29 1 -36 1 -69 1 38 1 18 1 -3 1 18 1 -3 1 16 1 2 1 -21 1 -52 1 17 1 12 1 -49 1 23 1 28 1 -37 1 -47 1 40 1 35 1 -6 1 -46 1 23 1 38 1 -47 1 32 1 26 1 -57 1 6 1 27 1 24 1 -12 1 -9 1 16 1 -36 1 3 1 -13 1 -31 1 8 1 -7 1 14 1 72 1 -25 1 -70 1 31 1 37 1 -40 1 -10 1 36 1 -2 1 -66 1 6 1 117 1 -15 1 -38 1 40 1 -28 1 -30 1 -19 1 -6 1 -8 1 -33 1 27 1 5 1 -44 1 3 1 82 1 16 1 -38 1 -28 1 10 1 5 1 1 1 29 1 5 1 2 1 -1 1 -6 1 17 1 37 1 -16 1 -28 1 10 1 -5 1 -17 1 -31 1 47 1 -6 1 25 1 99 1 -67 1 -22 1 14 1 -13 1 25 1 24 1 -25 1 -46 1 -27 1 4 1 23 1 -27 1 47 1 30 1 -92 1 -42 1 0 1 6 1 3 1 31 1 84 1 16 1 -53 1 -56 1 3 1 50 1 -36 1 7 1 8 1 -48 1 1 1 17 1 42 1 36 1 -36 1 -58 1 13 1 58 1 11 1 -37 1 21 1 13 1 -31 1 0 1 7 1 -3 1 -58 1 6 1 46 1 57 1 -28 1 -53 1 3 1 -18 1 31 1 21 1 16 1 -68 1 -59 1 31 1 -6 1 -14 1 10 1 11 1 -42 1 73 1 60 1 -28 1 5 1 51 1 31 1 -87 1 6 1 7 1 -10 1 20 1 19 1 13 1 1 1 -29 1 8 1 7 1 -30 1 14 1 -50 1 3 1 56 1 -6 1 -34 1 16 1 -25 1 -17 1 55 1 23 1 -4 1 -30 1 -31 1 15 1 44 1 5 1 41 1 -29 1 -76 1 33 1 0 1 17 1 -33 1 -27 1 55 1 -64 1 9 1 38 1 -8 1 22 1 -19 1 -3 1 -47 1 -45 1 53 1 -34 1 -15 1 67 1 -12 1 22 1 -26 1 -3 1 68 1 -52 1 -9 1 34 1 8 1 5 1 -34 1 51 1 5 1 -42 1 -39 1 -74 1 22 1 38 1 -14 1 -13 1 65 1 62 1 -24 1 2 1 -5 1 -39 1 12 1 -9 1 -60 1 11 1 26 1 2 1 13 1 12 1 27 1 -28 1 -59 1 16 1 25 1 34 1 9 1 -44 1 -4 1 6 1 23 1 35 1 -18 1 -71 1 4 1 80 1 8 1 -32 1 -48 1 -33 1 54 1 56 1 -13 1 -25 1 20 1 -24 1 -13 1 20 1 -5 1 -6 1 -1 1 8 1 -34 1 2 1 -5 1 41 1 44 1 -5 1 33 1 -25 1 -85 1 -7 1 25 1 57 1 22 1 -19 1 1 1 -55 1 19 1 0 1 9 1 27 1 -2 1 2 1 -11 1 60 1 7 1 -43 1 -52 1 53 1 43 1 -85 1 -46 1 -14 1 50 1 -5 1 2 1 41 1 5 1 4 1 -50 1 32 1 80 1 -69 1 -53 1 2 1 18 1 4 1 -1 1 30 1 4 1 -18 1 -14 1 13 1 -40 1 -23 1 50 1 45 1 -9 1 5 1 18 1 -16 1 -3 1 -38 1 59 1 -37 1 -99 1 47 1 24 1 -33 1 -16 1 -25 1 9 1 77 1 41 1 -14 1 -57 1 37 1 1 1 -46 1 49 1 -4 1 44 1 93 1 -50 1 -67 1 -7 1 7 1 36 1 -18 1 -28 1 -12 1 -15 1 36 1 -13 1 -41 1 -8 1 27 1 32 1 -26 1 -15 1 15 1 -16 1 -16 1 9 1 18 1 -12 1 11 1 18 1 -15 1 15 1 12 1 -23 1 -6 1 20 1 -17 1 -12 1 17 1 -16 1 16 1 25 1 -5 1 -18 1 0 1 -9 1 -12 1 21 1 -3 1 6 1 19 1 5 1 -8 1 5 1 0 1 -2 1 4 1 -4 1 -16 1 -21 1 -2 1 23 1 24 1 -10 1 -18 1 2 1 18 1 7 1 -2 1 -5 1 -9 1 9 1 14 1 -12 1 -3 1 10 1 -1 1 2 1 -4 1 12 1 4 1 -20 1 12 1 -5 1 -34 1 -8 1 -7 1 8 1 12 1 0 1 -7 1 -2 1 -4" fill="none" stroke="#ff0000" stroke-width="1.0" stroke-linejoin="round" opacity="1.0"/>
<path d="M147.2 312.6V381.2" stroke="#009900" stroke-width="1.2" stroke-dasharray="6 3.5" opacity="1"/>
<path d="M191.6 312.6V381.2" stroke="#ff3030" stroke-width="1.6" stroke-dasharray="6 3.5" opacity="0.9"/>
<path d="M280.7 312.6V381.2" stroke="#ff3030" stroke-width="1.6" stroke-dasharray="6 3.5" opacity="0.9"/>
<path d="M308.1 312.6V381.2" stroke="#0000ee" stroke-width="1.2" stroke-dasharray="1.5 1.5" opacity="1"/>
<path d="M322.8 312.6V381.2" stroke="#ff00ff" stroke-width="1.2" stroke-dasharray="1.5 1.5" opacity="1"/>
<path d="M325.2 312.6V381.2" stroke="#009900" stroke-width="1.2" stroke-dasharray="6 3.5" opacity="1"/>
<path d="M471.6 312.6V381.2" stroke="#ff00ff" stroke-width="1.2" stroke-dasharray="1.5 1.5" opacity="1"/>
<path d="M479.6 312.6V381.2" stroke="#00aaff" stroke-width="1.2" stroke-dasharray="1.5 1.5" opacity="1"/>
<path transform="matrix(1 0 0 0.1 0 0)" vector-effect="non-scaling-stroke" d="M71.26 3686l1 -13 1 61 1 -43 1 36 1 22 1 3 1 -1 1 -18 1 -21 1 -2 1 -6 1 31 1 -7 1 -53 1 2 1 -26 1 8 1 27 1 -42 1 3 1 -1 1 9 1 -9 1 13 1 -6 1 22 1 -13 1 41 1 -19 1 -1 1 21 1 5 1 -34 1 8 1 11 1 -9 1 17 1 -12 1 21 1 -6 1 -5 1 27 1 -11 1 36 1 -5 1 24 1 -20 1 -4 1 3 1 0 1 -26 1 -2 1 41 1 -39 1 45 1 -17 1 -9 1 -5 1 17 1 -6 1 -13 1 11 1 -1 1 -22 1 -5 1 15 1 -3 1 -1 1 5 1 -1 1 6 1 -29 1 10 1 -1 1 -7 1 -8 1 -16 1 25 1 0 1 -12 1 15 1 -36 1 4 1 -3 1 6 1 -21 1 -12 1 2 1 6 1 16 1 -50 1 17 1 10 1 -26 1 11 1 31 1 -20 1 5 1 -18 1 49 1 -27 1 -6 1 -27 1 39 1 28 1 -27 1 -29 1 -11 1 -18 1 18 1 15 1 -31 1 11 1 -1 1 -8 1 -24 1 32 1 12 1 -6 1 10 1 22 1 11 1 -11 1 -7 1 13 1 4 1 -6 1 57 1 -4 1 -10 1 11 1 0 1 -14 1 26 1 -10 1 31 1 -14 1 -35 1 36 1 -11 1 -2 1 24 1 -18 1 4 1 -10 1 20 1 11 1 -9 1 -9 1 -21 1 11 1 3 1 -5 1 -22 1 27 1 -35 1 45 1 -11 1 -26 1 5 1 23 1 -13 1 0 1 -48 1 -16 1 -1 1 -40 1 -9 1 -29 1 -26 1 -13 1 -41 1 -21 1 -12 1 -25 1 11 1 8 1 -24 1 1 1 16 1 3 1 9 1 27 1 -10 1 6 1 -48 1 15 1 5 1 -9 1 -28 1 -57 1 -4 1 30 1 -50 1 -27 1 -26 1 -13 1 1 1 -14 1 28 1 44 1 -23 1 8 1 -15 1 17 1 65 1 -6 1 21 1 30 1 7 1 -49 1 -12 1 10 1 40 1 -66 1 5 1 1 1 -20 1 22 1 -31 1 19 1 20 1 -12 1 14 1 42 1 -46 1 -7 1 16 1 -41 1 -40 1 13 1 -55 1 -14 1 40 1 -28 1 -41 1 56 1 22 1 -4 1 31 1 7 1 -29 1 23 1 -8 1 -7 1 28 1 -14 1 0 1 8 1 3 1 -27 1 17 1 -5 1 -9 1 6 1 56 1 0 1 -17 1 -24 1 -33 1 30 1 -27 1 -30 1 -37 1 -18 1 86 1 20 1 52 1 -1 1 18 1 11 1 -2 1 -28 1 -24 1 33 1 -18 1 -1 1 12 1 3 1 41 1 0 1 52 1 -31 1 -4 1 90 1 -14 1 -16 1 38 1 -14 1 -123 1 5 1 -60 1 68 1 26 1 6 1 25 1 -26 1 -27 1 -15 1 -63 1 -16 1 -7 1 -4 1 -1 1 -7 1 -24 1 43 1 83 1 -14 1 25 1 -19 1 -13 1 40 1 -22 1 -48 1 39 1 -67 1 29 1 -52 1 13 1 -9 1 -3 1 7 1 -32 1 6 1 2 1 22 1 -13 1 34 1 35 1 51 1 -21 1 8 1 20 1 -6 1 -12 1 10 1 -33 1 -8 1 -13 1 1 1 -11 1 -18 1 -33 1 -25 1 54 1 11 1 -21 1 6 1 -16 1 -25 1 22 1 -40 1 -5 1 1 1 10 1 34 1 -11 1 76 1 -4 1 16 1 7 1 0 1 43 1 -32 1 23 1 33 1 -33 1 -14 1 -12 1 -96 1 -53 1 8 1 61 1 20 1 -15 1 56 1 5 1 0 1 -43 1 -32 1 -8 1 10 1 -25 1 15 1 -22 1 -29 1 14 1 -17 1 -45 1 29 1 57 1 99 1 94 1 -35 1 -32 1 -4 1 -57 1 -55 1 -80 1 92 1 67 1 32 1 -37 1 -31 1 -87 1 -37 1 35 1 -78 1 70 1 52 1 14 1 -30 1 -38 1 -11 1 -16 1 0 1 -11 1 4 1 46 1 -66 1 46 1 3 1 8 1 -3 1 57 1 -47 1 31 1 -6 1 18 1 -3 1 -47 1 22 1 3 1 14 1 32 1 4 1 23 1 -6 1 51 1 -29 1 -18 1 3 1 10 1 22 1 40 1 -35 1 3 1 0 1 25 1 -38 1 -28 1 2 1 7" fill="none" stroke="#333333" stroke-width="1.0" stroke-linejoin="round" opacity="1.0"/>
<path d="M147.2 381.2V449.5" stroke="#009900" stroke-width="1.2" stroke-dasharray="6 3.5" opacity="1"/>
<path d="M191.6 381.2V449.5" stroke="#ff3030" stroke-width="1.6" stroke-dasharray="6 3.5" opacity="0.9"/>
<path d="M280.7 381.2V449.5" stroke="#ff3030" stroke-width="1.6" stroke-dasharray="6 3.5" opacity="0.9"/>
<path d="M308.1 381.2V449.5" stroke="#0000ee" stroke-width="1.2" stroke-dasharray="1.5 1.5" opacity="1"/>
<path d="M322.8 381.2V449.5" stroke="#ff00ff" stroke-width="1.2" stroke-dasharray="1.5 1.5" opacity="1"/>
<path d="M325.2 381.2V449.5" stroke="#009900" stroke-width="1.2" stroke-dasharray="6 3.5" opacity="1"/>
<path d="M471.6 381.2V449.5" stroke="#ff00ff" stroke-width="1.2" stroke-dasharray="1.5 1.5" opacity="1"/>
<path d="M71.3 391.4H525.4" stroke="#000" stroke-width="1.5" stroke-dasharray="5.5 3"/>
<path transform="matrix(1 0 0 0.1 0 0)" vector-effect="non-scaling-stroke" d="M71.26 3985l1 -16 1 -13 1 20 1 -38 1 1 1 -17 1 1 1 -20 1 33 1 -51 1 6 1 28 1 -26 1 0 1 34 1 -41 1 26 1 1 1 12 1 3 1 -3 1 5 1 35 1 -16 1 21 1 0 1 -14 1 -19 1 6 1 24 1 3 1 4 1 -18 1 -19 1 12 1 -17 1 1 1 -25 1 56 1 -3 1 -38 1 -20 1 13 1 -19 1 23 1 -4 1 -8 1 -26 1 4 1 26 1 -14 1 16 1 -10 1 21 1 -17 1 13 1 -10 1 12 1 4 1 -15 1 9 1 -5 1 9 1 -16 1 26 1 -26 1 -9 1 30 1 -34 1 -6 1 23 1 26 1 0 1 -30 1 -40 1 17 1 -9 1 13 1 4 1 -25 1 21 1 -21 1 -17 1 10 1 -5 1 20 1 -15 1 7 1 39 1 -7 1 -2 1 -21 1 10 1 6 1 9 1 0 1 2 1 34 1 25 1 -32 1 15 1 -5 1 2 1 16 1 6 1 -45 1 -3 1 2 1 12 1 -2 1 11 1 -10 1 7 1 2 1 -14 1 -28 1 62 1 -45 1 -4 1 31 1 -28 1 1 1 8 1 -1 1 14 1 -56 1 -14 1 12 1 31 1 -12 1 -4 1 19 1 -12 1 -15 1 15 1 23 1 -10 1 -28 1 10 1 -2 1 -30 1 21 1 13 1 -12 1 -40 1 57 1 -52 1 5 1 27 1 2 1 -32 1 18 1 12 1 -43 1 26 1 -4 1 3 1 4 1 -10 1 12 1 -11 1 -6 1 4 1 2 1 -2 1 17 1 28 1 -25 1 45 1 -18 1 -18 1 33 1 -56 1 43 1 7 1 -14 1 -1 1 -14 1 2 1 -22 1 20 1 -7 1 19 1 -27 1 23 1 21 1 -56 1 42 1 2 1 -3 1 -25 1 39 1 -19 1 -16 1 -22 1 39 1 -5 1 17 1 -49 1 38 1 0 1 0 1 23 1 -11 1 27 1 -43 1 34 1 5 1 -18 1 45 1 -49 1 -5 1 37 1 -28 1 10 1 -20 1 12 1 14 1 -34 1 7 1 -15 1 -21 1 -12 1 4 1 36 1 -36 1 18 1 -23 1 22 1 -28 1 17 1 9 1 -4 1 36 1 -40 1 9 1 21 1 -25 1 2 1 0 1 8 1 -14 1 0 1 14 1 4 1 7 1 4 1 -20 1 21 1 16 1 -28 1 -14 1 25 1 -19 1 8 1 27 1 -22 1 13 1 -2 1 72 1 -52 1 13 1 40 1 -23 1 12 1 -21 1 -26 1 -24 1 6 1 -24 1 -11 1 28 1 -33 1 24 1 20 1 -7 1 18 1 27 1 -24 1 20 1 -6 1 -2 1 4 1 -12 1 33 1 10 1 13 1 2 1 -19 1 8 1 27 1 -11 1 -13 1 -45 1 34 1 -33 1 25 1 -34 1 -38 1 39 1 -40 1 55 1 -32 1 22 1 -17 1 6 1 -17 1 12 1 4 1 14 1 -15 1 23 1 -1 1 2 1 -19 1 -27 1 39 1 -43 1 43 1 -15 1 -27 1 -10 1 -11 1 -22 1 23 1 -9 1 28 1 68 1 -18 1 5 1 3 1 7 1 28 1 -19 1 43 1 -14 1 -13 1 38 1 -38 1 8 1 22 1 0 1 1 1 -3 1 -22 1 11 1 32 1 2 1 -38 1 55 1 -22 1 -23 1 -16 1 -30 1 15 1 -65 1 52 1 -17 1 -7 1 23 1 -14 1 10 1 10 1 20 1 0 1 -17 1 18 1 -10 1 -3 1 -2 1 0 1 -14 1 -8 1 -13 1 11 1 15 1 1 1 -24 1 37 1 -18 1 -29 1 23 1 5 1 -34 1 67 1 -46 1 5 1 0 1 -26 1 -11 1 5 1 8 1 1 1 0 1 -14 1 18 1 -29 1 -29 1 2 1 -26 1 31 1 -14 1 12 1 -32 1 27 1 5 1 20 1 -8 1 13 1 -3 1 -42 1 64 1 -10 1 17 1 -32 1 45 1 4 1 -16 1 -21 1 26 1 15 1 35 1 20 1 -61 1 -1 1 -19 1 14 1 14 1 -26 1 -7 1 43 1 -27 1 -4 1 36 1 -23 1 12 1 -20 1 3 1 57 1 -32 1 -26 1 16 1 28 1 -8 1 11 1 -23 1 30 1 -43 1 8 1 -14 1 12 1 2 1 3 1 7" fill="none" stroke="#ff0000" stroke-width="1.0" stroke-linejoin="round" opacity="1.0"/>
<path transform="matrix(1 0 0 0.1 0 0)" vector-effect="non-scaling-stroke" d="M71.26 3974l1 1 1 11 1 -11 1 18 1 16 1 -53 1 17 1 36 1 -16 1 -8 1 -15 1 -15 1 14 1 9 1 -14 1 10 1 -5 1 14 1 10 1 -35 1 25 1 -5 1 12 1 0 1 -1 1 -13 1 -7 1 11 1 18 1 -48 1 30 1 0 1 22 1 -6 1 -14 1 33 1 -15 1 -19 1 -31 1 28 1 20 1 1 1 -34 1 25 1 -8 1 -35 1 26 1 4 1 5 1 -32 1 0 1 28 1 10 1 -19 1 -23 1 13 1 24 1 -23 1 -7 1 11 1 -4 1 2 1 6 1 2 1 10 1 -3 1 7 1 -33 1 -1 1 6 1 -6 1 5 1 11 1 -15 1 8 1 0 1 28 1 -21 1 -12 1 13 1 8 1 13 1 -12 1 -29 1 31 1 -23 1 24 1 -21 1 25 1 -12 1 -3 1 1 1 21 1 -10 1 6 1 -12 1 1 1 -2 1 -14 1 22 1 -5 1 -4 1 -7 1 7 1 -21 1 22 1 -43 1 23 1 -16 1 34 1 -10 1 -5 1 -22 1 26 1 -19 1 33 1 -31 1 34 1 17 1 5 1 -31 1 8 1 -5 1 6 1 -7 1 -15 1 29 1 -5 1 12 1 21 1 -19 1 -24 1 36 1 -44 1 28 1 3 1 -5 1 15 1 2 1 -17 1 32 1 -6 1 16 1 -18 1 -42 1 28 1 32 1 14 1 -33 1 -1 1 20 1 -28 1 15 1 -4 1 0 1 -3 1 23 1 5 1 -29 1 27 1 21 1 -17 1 18 1 -6 1 -35 1 26 1 38 1 20 1 -5 1 26 1 -4 1 11 1 8 1 22 1 20 1 -25 1 -9 1 -10 1 -20 1 25 1 -19 1 0 1 -3 1 -29 1 21 1 -27 1 75 1 -48 1 35 1 24 1 -10 1 11 1 -3 1 6 1 33 1 -22 1 -15 1 -8 1 -2 1 -35 1 5 1 14 1 -32 1 -1 1 -9 1 -25 1 -7 1 -4 1 -11 1 -15 1 12 1 -11 1 -8 1 36 1 7 1 11 1 -16 1 31 1 6 1 57 1 26 1 15 1 -4 1 -6 1 -31 1 17 1 -16 1 -5 1 28 1 -42 1 13 1 3 1 -1 1 -2 1 -13 1 -23 1 46 1 28 1 0 1 -21 1 36 1 -34 1 33 1 -7 1 -1 1 -10 1 -19 1 -10 1 21 1 -17 1 -6 1 4 1 -15 1 8 1 26 1 5 1 33 1 -19 1 14 1 -42 1 -22 1 -25 1 8 1 5 1 18 1 23 1 -18 1 23 1 -17 1 4 1 21 1 11 1 -22 1 -5 1 -25 1 -16 1 -21 1 -1 1 17 1 -22 1 -42 1 36 1 -15 1 -32 1 3 1 10 1 -21 1 7 1 -6 1 30 1 12 1 13 1 47 1 -12 1 5 1 15 1 19 1 3 1 -13 1 22 1 29 1 -29 1 -2 1 -3 1 5 1 -49 1 11 1 -36 1 -25 1 -4 1 42 1 9 1 -9 1 8 1 30 1 16 1 -15 1 16 1 22 1 4 1 -20 1 22 1 -26 1 -5 1 -20 1 5 1 30 1 -59 1 2 1 13 1 -32 1 -58 1 4 1 -56 1 2 1 5 1 -44 1 -1 1 31 1 -26 1 20 1 -1 1 12 1 -11 1 -10 1 0 1 -9 1 3 1 17 1 17 1 -20 1 3 1 15 1 15 1 8 1 24 1 3 1 -2 1 -4 1 25 1 18 1 8 1 4 1 -12 1 24 1 37 1 -18 1 34 1 -8 1 -29 1 -3 1 -28 1 -36 1 12 1 -45 1 -9 1 11 1 30 1 -21 1 18 1 2 1 18 1 -24 1 21 1 -42 1 -22 1 -45 1 63 1 14 1 6 1 13 1 35 1 -1 1 38 1 18 1 45 1 -2 1 27 1 4 1 33 1 -36 1 -26 1 -26 1 -63 1 25 1 18 1 9 1 -10 1 -39 1 5 1 -56 1 -28 1 21 1 16 1 -26 1 -20 1 26 1 -2 1 -40 1 18 1 25 1 -31 1 -7 1 20 1 -9 1 -11 1 5 1 -20 1 0 1 3 1 -12 1 25 1 5 1 5 1 -14 1 6 1 -16 1 -20 1 -10 1 9 1 -2 1 2 1 -6 1 16 1 4 1 10 1 -10 1 -8 1 9 1 -3 1 -22 1 23 1 0 1 10" fill="none" stroke="#00e600" stroke-width="1.0" stroke-linejoin="round" opacity="1.0"/>
<path transform="matrix(1 0 0 0.1 0 0)" vector-effect="non-scaling-stroke" d="M71.26 4064l1 13 1 -28 1 2 1 20 1 -52 1 11 1 -20 1 -16 1 34 1 30 1 0 1 -23 1 50 1 -24 1 5 1 34 1 -17 1 0 1 30 1 2 1 -11 1 38 1 -8 1 -38 1 9 1 21 1 -31 1 -40 1 55 1 -47 1 -4 1 10 1 -18 1 20 1 -41 1 -6 1 43 1 -14 1 -9 1 11 1 -20 1 22 1 -31 1 13 1 -7 1 -11 1 -11 1 31 1 -34 1 -3 1 17 1 -29 1 40 1 -5 1 -16 1 18 1 -37 1 21 1 -28 1 48 1 -2 1 -40 1 41 1 -38 1 33 1 -19 1 -12 1 28 1 25 1 -6 1 -22 1 22 1 -3 1 17 1 0 1 3 1 9 1 -32 1 1 1 33 1 -40 1 -22 1 -22 1 66 1 -15 1 3 1 8 1 36 1 -10 1 27 1 5 1 15 1 -16 1 10 1 -13 1 5 1 -19 1 -15 1 30 1 10 1 -10 1 3 1 19 1 -28 1 13 1 -20 1 23 1 -14 1 7 1 26 1 2 1 8 1 3 1 -18 1 28 1 2 1 11 1 -43 1 26 1 -8 1 8 1 -24 1 14 1 -7 1 20 1 -12 1 -36 1 -15 1 38 1 -36 1 -5 1 -54 1 66 1 -11 1 -2 1 -41 1 -13 1 15 1 -40 1 -19 1 36 1 -26 1 4 1 0 1 -12 1 -10 1 17 1 -22 1 -16 1 29 1 -9 1 6 1 -24 1 8 1 -19 1 20 1 19 1 -36 1 13 1 -26 1 9 1 71 1 1 1 -23 1 26 1 39 1 -18 1 -17 1 30 1 44 1 -2 1 5 1 39 1 -16 1 62 1 -31 1 14 1 22 1 9 1 7 1 21 1 -30 1 -1 1 13 1 16 1 13 1 28 1 5 1 24 1 -24 1 34 1 -20 1 36 1 -25 1 9 1 12 1 18 1 37 1 11 1 11 1 -30 1 -34 1 37 1 -73 1 41 1 0 1 -30 1 -10 1 28 1 14 1 -45 1 52 1 -33 1 17 1 12 1 -4 1 23 1 3 1 -36 1 9 1 -20 1 -54 1 -21 1 -3 1 -11 1 32 1 8 1 28 1 49 1 -39 1 13 1 -1 1 50 1 -29 1 42 1 13 1 -30 1 -34 1 3 1 -21 1 14 1 -26 1 -11 1 31 1 -25 1 29 1 -29 1 28 1 -36 1 6 1 17 1 -28 1 22 1 -21 1 15 1 -27 1 17 1 -29 1 31 1 12 1 47 1 27 1 -8 1 -32 1 62 1 -25 1 -23 1 9 1 -29 1 -49 1 5 1 -20 1 -12 1 -8 1 6 1 -20 1 21 1 -13 1 26 1 -42 1 49 1 4 1 11 1 -1 1 -30 1 -36 1 5 1 -46 1 66 1 25 1 -11 1 22 1 47 1 -79 1 -45 1 -22 1 35 1 -14 1 56 1 28 1 18 1 33 1 -41 1 34 1 -32 1 3 1 -20 1 19 1 -10 1 18 1 -7 1 3 1 -28 1 21 1 -42 1 24 1 19 1 -1 1 -24 1 37 1 -11 1 46 1 -27 1 2 1 13 1 -14 1 21 1 1 1 -16 1 -47 1 -3 1 -13 1 35 1 -12 1 52 1 -22 1 37 1 1 1 -7 1 8 1 29 1 15 1 -28 1 6 1 32 1 -16 1 10 1 -19 1 11 1 1 1 8 1 12 1 -27 1 11 1 41 1 -40 1 -18 1 11 1 -3 1 -12 1 -24 1 16 1 -29 1 -25 1 -16 1 -25 1 -3 1 -48 1 0 1 25 1 74 1 -1 1 72 1 29 1 -35 1 -2 1 -12 1 -26 1 -42 1 -20 1 -5 1 30 1 3 1 -11 1 6 1 33 1 8 1 -7 1 23 1 47 1 46 1 -114 1 -40 1 -74 1 31 1 -22 1 -7 1 -6 1 23 1 14 1 4 1 17 1 28 1 41 1 74 1 22 1 -3 1 -18 1 9 1 7 1 35 1 -46 1 22 1 -4 1 17 1 -7 1 4 1 2 1 6 1 -29 1 -6 1 23 1 3 1 -2 1 -11 1 -32 1 21 1 -42 1 46 1 -11 1 -13 1 -7 1 -29 1 -32 1 35 1 -24 1 -23 1 -25 1 32 1 -19 1 -12 1 15 1 -14 1 16 1 12 1 -3 1 -28 1 0 1 21 1 28 1 -28 1 36 1 -12 1 19" fill="none" stroke="#2020ff" stroke-width="1.0" stroke-linejoin="round" opacity="1.0"/>
<path d="M147.2 449.5V517.7" stroke="#009900" stroke-width="1.2" stroke-dasharray="6 3.5" opacity="1"/>
<path d="M191.6 449.5V517.7" stroke="#ff3030" stroke-width="1.6" stroke-dasharray="6 3.5" opacity="0.9"/>
<path d="M280.7 449.5V517.7" stroke="#ff3030" stroke-width="1.6" stroke-dasharray="6 3.5" opacity="0.9"/>
<path d="M308.1 449.5V517.7" stroke="#0000ee" stroke-width="1.2" stroke-dasharray="1.5 1.5" opacity="1"/>
<path d="M322.8 449.5V517.7" stroke="#ff00ff" stroke-width="1.2" stroke-dasharray="1.5 1.5" opacity="1"/>
<path d="M325.2 449.5V517.7" stroke="#009900" stroke-width="1.2" stroke-dasharray="6 3.5" opacity="1"/>
<path d="M471.6 449.5V517.7" stroke="#ff00ff" stroke-width="1.2" stroke-dasharray="1.5 1.5" opacity="1"/>
<path transform="matrix(0.7 0 0 0.1 0 0)" vector-effect="non-scaling-stroke" d="M101.79 4990l1 -10 1 -5 1 -5 1 44 1 -32 1 20 1 48 1 29 1 34 1 -1 1 -7 1 26 1 25 1 4 1 -25 1 4 1 32 1 -23 1 9 1 -8 1 -7 1 -1 1 -17 1 -20 1 -23 1 -6 1 -23 1 -49 1 11 1 -35 1 -3 1 20 1 7 1 -34 1 8 1 52 1 -3 1 27 1 -1 1 -16 1 -11 1 43 1 -21 1 48 1 -9 1 4 1 16 1 -9 1 22 1 13 1 3 1 2 1 -24 1 4 1 12 1 -6 1 -62 1 26 1 -14 1 0 1 -25 1 -4 1 -12 1 -37 1 -7 1 -4 1 10 1 0 1 24 1 12 1 4 1 -11 1 -16 1 -10 1 -7 1 38 1 -10 1 25 1 5 1 2 1 -4 1 11 1 -6 1 -15 1 1 1 -19 1 7 1 2 1 63 1 6 1 59 1 -62 1 15 1 3 1 20 1 -31 1 -6 1 -14 1 7 1 -18 1 -24 1 36 1 -69 1 46 1 -12 1 10 1 -1 1 -19 1 19 1 -15 1 -29 1 36 1 -17 1 16 1 -17 1 -21 1 -8 1 -15 1 75 1 12 1 -52 1 43 1 13 1 -40 1 -30 1 -27 1 -21 1 -64 1 42 1 -1 1 16 1 -57 1 74 1 6 1 27 1 2 1 15 1 25 1 -16 1 28 1 -10 1 79 1 -89 1 0 1 11 1 -63 1 -1 1 18 1 -16 1 -16 1 24 1 26 1 -47 1 -2 1 -5 1 11 1 -46 1 24 1 57 1 -6 1 -42 1 -25 1 63 1 -15 1 21 1 -41 1 82 1 -54 1 40 1 22 1 -28 1 26 1 11 1 -22 1 -14 1 -54 1 78 1 -45 1 36 1 -47 1 29 1 -17 1 22 1 -17 1 -53 1 30 1 59 1 -20 1 -61 1 11 1 18 1 -6 1 22 1 -38 1 -89 1 43 1 4 1 -13 1 25 1 -18 1 -23 1 -22 1 44 1 34 1 -17 1 34 1 4 1 6 1 -69 1 14 1 72 1 -60 1 -40 1 40 1 -20 1 -12 1 -14 1 31 1 -60 1 89 1 -82 1 13 1 11 1 -7 1 -46 1 -54 1 50 1 94 1 -21 1 17 1 1 1 -5 1 -99 1 65 1 57 1 28 1 -70 1 40 1 -51 1 -1 1 6 1 66 1 -27 1 -32 1 28 1 -81 1 20 1 -69 1 66 1 -34 1 94 1 -73 1 71 1 -95 1 -16 1 91 1 -6 1 -47 1 -49 1 74 1 -71 1 75 1 31 1 -117 1 56 1 52 1 -138 1 32 1 88 1 -91 1 -6 1 3 1 38 1 -16 1 119 1 32 1 -140 1 21 1 -10 1 23 1 71 1 -54 1 -34 1 90 1 73 1 -152 1 -52 1 -2 1 -90 1 33 1 -45 1 -103 1 147 1 73 1 -45 1 5 1 -91 1 134 1 -22 1 -36 1 -9 1 -48 1 -30 1 24 1 72 1 -77 1 -54 1 51 1 100 1 -43 1 -32 1 -1 1 60 1 -49 1 -3 1 -80 1 79 1 -63 1 95 1 -14 1 7 1 -6 1 121 1 -3 1 -69 1 112 1 9 1 -42 1 0 1 -119 1 6 1 -58 1 65 1 -40 1 -36 1 33 1 85 1 -77 1 47 1 30 1 -156 1 -111 1 133 1 14 1 150 1 -99 1 -112 1 210 1 -149 1 -1 1 -18 1 -63 1 132 1 -20 1 108 1 -37 1 42 1 -26 1 -23 1 1 1 -2 1 91 1 97 1 -8 1 -90 1 57 1 47 1 -135 1 83 1 -52 1 -3 1 -57 1 -15 1 97 1 -134 1 -52 1 143 1 20 1 -178 1 198 1 -142 1 185 1 -133 1 66 1 -66 1 -10 1 112 1 11 1 -15 1 -99 1 -18 1 -51 1 -24 1 -41 1 191 1 -3 1 6 1 -176 1 145 1 -63 1 -121 1 139 1 42 1 -2 1 -114 1 -11 1 39 1 93 1 -42 1 -38 1 -36 1 93 1 -57 1 -98 1 -16 1 46 1 25 1 -27 1 43 1 173 1 -5 1 -108 1 92 1 -47 1 141 1 -215 1 46 1 109 1 -53 1 65 1 -54 1 141 1 -58 1 -220 1 111 1 32 1 -94 1 -91 1 66 1 -45 1 88 1 78 1 -251 1 195 1 -79 1 -75 1 -11 1 116 1 -94 1 151 1 23 1 -25 1 -128 1 161 1 -283 1 85 1 47 1 20 1 -31 1 85 1 69 1 3 1 -87 1 13 1 -37 1 115 1 -199 1 -12 1 109 1 151 1 -89 1 -23 1 -69 1 67 1 -2 1 99 1 27 1 -33 1 -207 1 264 1 -126 1 123 1 -255 1 71 1 102 1 -103 1 -40 1 83 1 -87 1 14 1 4 1 108 1 -84 1 -106 1 13 1 -63 1 35 1 107 1 164 1 -148 1 -36 1 -73 1 131 1 178 1 -207 1 -72 1 44 1 20 1 148 1 1 1 -56 1 -26 1 115 1 -130 1 22 1 207 1 -166 1 -11 1 45 1 51 1 -64 1 -136 1 110 1 100 1 -38 1 -83 1 198 1 -178 1 12 1 26 1 59 1 -127 1 69 1 43 1 -144 1 -31 1 47 1 62 1 -124 1 34 1 9 1 -89 1 33 1 137 1 7 1 -201 1 212 1 42 1 -98 1 -22 1 -53 1 -63 1 95 1 190 1 -86 1 -73 1 -50 1 124 1 28 1 -69 1 43 1 -33 1 -233 1 -14 1 142 1 47 1 -148 1 -37 1 4 1 213 1 -128 1 75 1 -75 1 255 1 -176 1 52 1 -84 1 156 1 -110 1 192 1 -14 1 -62 1 -149 1 77 1 -140 1 8 1 123 1 -96 1 -7 1 -36 1 101 1 -99 1 188 1 13 1 -133 1 -16 1 -38 1 188 1 -192 1 -7 1 20 1 -147 1 102 1 24 1 13 1 -64 1 -54 1 165 1 -173 1 60 1 -21 1 -22 1 3 1 86 1 -8 1 -97 1 8 1 131 1 -67 1 21 1 -31 1 42 1 84 1 -81 1 85 1 -49 1 -30 1 11 1 25 1 -109 1 24 1 81 1 13 1 -123 1 71 1 -19 1 25 1 -11 1 -80 1 48 1 -45 1 1 1 50 1 24 1 46 1 -50 1 9 1 -17" fill="none" stroke="#ff0000" stroke-width="1.0" stroke-linejoin="round" opacity="1.0"/>
<path transform="matrix(0.7 0 0 0.1 0 0)" vector-effect="non-scaling-stroke" d="M101.79 4982l1 -18 1 6 1 -4 1 26 1 -28 1 29 1 45 1 31 1 28 1 11 1 -7 1 21 1 32 1 -1 1 -33 1 12 1 22 1 -10 1 3 1 -9 1 -11 1 13 1 -28 1 -22 1 -22 1 1 1 -24 1 -49 1 12 1 -22 1 -24 1 20 1 4 1 -23 1 13 1 42 1 -9 1 27 1 11 1 -15 1 -13 1 33 1 -13 1 47 1 -9 1 11 1 9 1 -4 1 16 1 15 1 6 1 -17 1 -14 1 3 1 10 1 -2 1 -46 1 4 1 4 1 -27 1 -11 1 0 1 -7 1 -36 1 -6 1 -15 1 8 1 14 1 13 1 0 1 6 1 -9 1 -1 1 -14 1 -1 1 26 1 -3 1 29 1 -5 1 11 1 -17 1 14 1 -6 1 -24 1 20 1 -30 1 12 1 8 1 63 1 8 1 50 1 -66 1 19 1 -16 1 23 1 -30 1 -2 1 3 1 -9 1 -12 1 -3 1 16 1 -56 1 25 1 -3 1 1 1 6 1 -4 1 -14 1 13 1 -31 1 25 1 -29 1 36 1 -25 1 -10 1 -11 1 6 1 50 1 1 1 -35 1 44 1 28 1 -47 1 -37 1 -11 1 -58 1 -57 1 38 1 7 1 1 1 -28 1 62 1 -12 1 33 1 22 1 23 1 41 1 -2 1 -9 1 -30 1 61 1 -54 1 -16 1 17 1 -65 1 5 1 37 1 -30 1 -21 1 11 1 16 1 -29 1 5 1 23 1 -15 1 -33 1 2 1 45 1 -2 1 -39 1 21 1 16 1 11 1 -6 1 -11 1 73 1 -64 1 42 1 12 1 -9 1 10 1 -2 1 -22 1 10 1 -31 1 55 1 -51 1 44 1 -30 1 11 1 -28 1 48 1 -29 1 -33 1 6 1 34 1 -23 1 -7 1 12 1 -15 1 -11 1 55 1 -84 1 -85 1 71 1 -15 1 -6 1 22 1 -9 1 -2 1 -47 1 54 1 -16 1 20 1 20 1 -4 1 12 1 -59 1 38 1 29 1 -34 1 -49 1 42 1 6 1 -21 1 2 1 2 1 -71 1 99 1 -74 1 12 1 -14 1 16 1 -43 1 -8 1 37 1 39 1 -10 1 -7 1 18 1 12 1 -80 1 25 1 58 1 -4 1 -29 1 21 1 -40 1 -9 1 22 1 31 1 -22 1 44 1 -45 1 -77 1 81 1 -46 1 -21 1 -17 1 109 1 -44 1 12 1 -79 1 6 1 83 1 -25 1 -41 1 -77 1 99 1 -73 1 86 1 14 1 -96 1 68 1 33 1 -134 1 25 1 86 1 -107 1 17 1 -7 1 86 1 -28 1 93 1 5 1 -147 1 71 1 -31 1 28 1 21 1 4 1 -44 1 55 1 87 1 -136 1 -56 1 -10 1 -86 1 30 1 -35 1 -75 1 58 1 125 1 -36 1 8 1 -106 1 103 1 24 1 -5 1 -81 1 5 1 -56 1 30 1 50 1 -61 1 -18 1 35 1 126 1 -56 1 -48 1 28 1 31 1 -40 1 -29 1 -72 1 63 1 -26 1 47 1 29 1 -13 1 24 1 111 1 21 1 -93 1 61 1 42 1 -67 1 15 1 -74 1 -13 1 -88 1 58 1 -17 1 -64 1 46 1 107 1 -59 1 35 1 -35 1 -98 1 -115 1 140 1 41 1 68 1 -66 1 -86 1 161 1 -80 1 -26 1 -7 1 -95 1 163 1 -14 1 89 1 -37 1 44 1 -53 1 -6 1 1 1 10 1 105 1 51 1 12 1 -53 1 6 1 46 1 -112 1 97 1 -71 1 28 1 -68 1 -15 1 90 1 -94 1 -109 1 102 1 102 1 -225 1 211 1 -115 1 119 1 -125 1 58 1 -47 1 17 1 115 1 6 1 -55 1 -118 1 35 1 -63 1 -3 1 -35 1 178 1 11 1 -6 1 -169 1 117 1 -51 1 -113 1 154 1 14 1 19 1 -132 1 -7 1 61 1 28 1 -27 1 -42 1 -56 1 131 1 -23 1 -122 1 -5 1 66 1 31 1 -60 1 77 1 144 1 -27 1 -103 1 72 1 -33 1 153 1 -188 1 67 1 37 1 -12 1 33 1 -19 1 126 1 -97 1 -156 1 76 1 33 1 -106 1 -81 1 90 1 -58 1 99 1 79 1 -228 1 156 1 -105 1 -17 1 -42 1 149 1 -111 1 139 1 34 1 12 1 -125 1 115 1 -281 1 107 1 1 1 47 1 -38 1 93 1 42 1 -15 1 -98 1 35 1 -21 1 119 1 -148 1 -30 1 59 1 183 1 -107 1 -20 1 -59 1 78 1 -25 1 132 1 -24 1 -6 1 -146 1 208 1 -98 1 91 1 -243 1 56 1 99 1 -117 1 -11 1 53 1 -51 1 24 1 -13 1 92 1 -66 1 -125 1 43 1 -128 1 70 1 67 1 176 1 -80 1 -47 1 -111 1 112 1 143 1 -149 1 -2 1 -3 1 -3 1 172 1 -47 1 -26 1 -16 1 110 1 -109 1 11 1 216 1 -199 1 27 1 62 1 -11 1 -61 1 -84 1 74 1 138 1 -82 1 -38 1 167 1 -175 1 43 1 -21 1 46 1 -115 1 91 1 -6 1 -91 1 -59 1 87 1 -23 1 -86 1 13 1 30 1 -63 1 23 1 134 1 10 1 -193 1 184 1 83 1 -99 1 -29 1 -49 1 -69 1 137 1 138 1 -90 1 -84 1 -57 1 119 1 36 1 -48 1 52 1 -39 1 -253 1 26 1 138 1 25 1 -160 1 -8 1 -5 1 175 1 -95 1 83 1 -104 1 282 1 -216 1 119 1 -85 1 120 1 -96 1 125 1 17 1 -42 1 -167 1 120 1 -109 1 -69 1 131 1 -70 1 27 1 -105 1 137 1 -61 1 104 1 21 1 -112 1 -17 1 -6 1 174 1 -241 1 48 1 -8 1 -101 1 55 1 23 1 42 1 -59 1 -62 1 112 1 -118 1 20 1 10 1 -63 1 49 1 54 1 -20 1 -48 1 -4 1 110 1 -17 1 -26 1 -20 1 47 1 63 1 -55 1 60 1 -46 1 13 1 -49 1 -9 1 -9 1 46 1 7 1 -25 1 -83 1 72 1 -17 1 1 1 31 1 -82 1 -2 1 9 1 34 1 2 1 12 1 51 1 -32 1 -50 1 29" fill="none" stroke="#111111" stroke-width="1.0" stroke-linejoin="round" opacity="1.0"/>
<path d="M147.2 517.7V586.0" stroke="#009900" stroke-width="1.2" stroke-dasharray="6 3.5" opacity="1"/>
<path d="M191.6 517.7V586.0" stroke="#ff3030" stroke-width="1.6" stroke-dasharray="6 3.5" opacity="0.9"/>
<path d="M280.7 517.7V586.0" stroke="#ff3030" stroke-width="1.6" stroke-dasharray="6 3.5" opacity="0.9"/>
<path d="M308.1 517.7V586.0" stroke="#0000ee" stroke-width="1.2" stroke-dasharray="1.5 1.5" opacity="1"/>
<path d="M322.8 517.7V586.0" stroke="#ff00ff" stroke-width="1.2" stroke-dasharray="1.5 1.5" opacity="1"/>
<path d="M325.2 517.7V586.0" stroke="#009900" stroke-width="1.2" stroke-dasharray="6 3.5" opacity="1"/>
<path d="M471.6 517.7V586.0" stroke="#ff00ff" stroke-width="1.2" stroke-dasharray="1.5 1.5" opacity="1"/>
<polyline points="71.9,585.5 86.3,585.5 103.7,585.5 121.1,585.5 138.4,585.5 155.8,585.5 173.2,585.5 190.6,585.5 208.0,585.5 225.3,585.5 242.7,585.5 260.1,585.5 277.5,585.5 294.9,585.5 312.2,585.5 329.6,585.5 347.0,585.5 364.4,585.5 381.8,585.5 399.1,585.5 416.5,585.5 433.9,585.5 451.3,585.5 468.7,585.5" fill="none" stroke="#00dd00" stroke-width="1.2" stroke-linejoin="round" opacity="1.0"/>
<g fill="#00dd00"><circle cx="86.3" cy="585.5" r="2"/><circle cx="103.7" cy="585.5" r="2"/><circle cx="121.1" cy="585.5" r="2"/><circle cx="138.4" cy="585.5" r="2"/><circle cx="155.8" cy="585.5" r="2"/><circle cx="173.2" cy="585.5" r="2"/><circle cx="190.6" cy="585.5" r="2"/><circle cx="208.0" cy="585.5" r="2"/><circle cx="225.3" cy="585.5" r="2"/><circle cx="242.7" cy="585.5" r="2"/><circle cx="260.1" cy="585.5" r="2"/><circle cx="277.5" cy="585.5" r="2"/><circle cx="294.9" cy="585.5" r="2"/><circle cx="312.2" cy="585.5" r="2"/><circle cx="329.6" cy="585.5" r="2"/><circle cx="347.0" cy="585.5" r="2"/><circle cx="364.4" cy="585.5" r="2"/><circle cx="381.8" cy="585.5" r="2"/><circle cx="399.1" cy="585.5" r="2"/><circle cx="416.5" cy="585.5" r="2"/><circle cx="433.9" cy="585.5" r="2"/><circle cx="451.3" cy="585.5" r="2"/><circle cx="468.7" cy="585.5" r="2"/></g>
<polyline points="71.9,584.2 86.3,579.7 103.7,582.6 121.1,582.6 138.4,583.5 155.8,584.2 173.2,584.5 190.6,581.2 208.0,584.5 225.3,584.5 242.7,585.4 260.1,585.4 277.5,585.4 294.9,585.4 312.2,583.9 329.6,585.1 347.0,585.4 364.4,585.1 381.8,584.2 399.1,584.8 416.5,585.5 433.9,585.1 451.3,585.1 468.7,584.8 488.0,583.9" fill="none" stroke="#0000ff" stroke-width="1.2" stroke-linejoin="round" opacity="1.0"/>
<g fill="#0000ff"><circle cx="86.3" cy="579.7" r="2"/><circle cx="103.7" cy="582.6" r="2"/><circle cx="121.1" cy="582.6" r="2"/><circle cx="138.4" cy="583.5" r="2"/><circle cx="155.8" cy="584.2" r="2"/><circle cx="173.2" cy="584.5" r="2"/><circle cx="190.6" cy="581.2" r="2"/><circle cx="208.0" cy="584.5" r="2"/><circle cx="225.3" cy="584.5" r="2"/><circle cx="242.7" cy="585.4" r="2"/><circle cx="260.1" cy="585.4" r="2"/><circle cx="277.5" cy="585.4" r="2"/><circle cx="294.9" cy="585.4" r="2"/><circle cx="312.2" cy="583.9" r="2"/><circle cx="329.6" cy="585.1" r="2"/><circle cx="347.0" cy="585.4" r="2"/><circle cx="364.4" cy="585.1" r="2"/><circle cx="381.8" cy="584.2" r="2"/><circle cx="399.1" cy="584.8" r="2"/><circle cx="416.5" cy="585.5" r="2"/><circle cx="433.9" cy="585.1" r="2"/><circle cx="451.3" cy="585.1" r="2"/><circle cx="468.7" cy="584.8" r="2"/><circle cx="488.0" cy="583.9" r="2"/></g>
<polyline points="71.9,578.2 86.3,562.4 103.7,575.9 121.1,566.2 138.4,577.6 155.8,564.1 173.2,575.3 190.6,562.7 208.0,570.2 225.3,563.0 242.7,558.1 260.1,549.8 277.5,545.6 294.9,541.6 312.2,542.0 329.6,556.4 347.0,549.2 364.4,556.1 381.8,537.2 399.1,538.7 416.5,541.0 433.9,553.6 451.3,553.9 468.7,556.7 488.0,517.2" fill="none" stroke="#ff0000" stroke-width="1.2" stroke-linejoin="round" opacity="1.0"/>
<g fill="#ff0000"><circle cx="86.3" cy="562.4" r="2"/><circle cx="103.7" cy="575.9" r="2"/><circle cx="121.1" cy="566.2" r="2"/><circle cx="138.4" cy="577.6" r="2"/><circle cx="155.8" cy="564.1" r="2"/><circle cx="173.2" cy="575.3" r="2"/><circle cx="190.6" cy="562.7" r="2"/><circle cx="208.0" cy="570.2" r="2"/><circle cx="225.3" cy="563.0" r="2"/><circle cx="242.7" cy="558.1" r="2"/><circle cx="260.1" cy="549.8" r="2"/><circle cx="277.5" cy="545.6" r="2"/><circle cx="294.9" cy="541.6" r="2"/><circle cx="312.2" cy="542.0" r="2"/><circle cx="329.6" cy="556.4" r="2"/><circle cx="347.0" cy="549.2" r="2"/><circle cx="364.4" cy="556.1" r="2"/><circle cx="381.8" cy="537.2" r="2"/><circle cx="399.1" cy="538.7" r="2"/><circle cx="416.5" cy="541.0" r="2"/><circle cx="433.9" cy="553.6" r="2"/><circle cx="451.3" cy="553.9" r="2"/><circle cx="468.7" cy="556.7" r="2"/></g>
<path d="M147.2 586.0V654.5" stroke="#009900" stroke-width="1.2" stroke-dasharray="6 3.5" opacity="1"/>
<path d="M191.6 586.0V654.5" stroke="#ff3030" stroke-width="1.6" stroke-dasharray="6 3.5" opacity="0.9"/>
<path d="M280.7 586.0V654.5" stroke="#ff3030" stroke-width="1.6" stroke-dasharray="6 3.5" opacity="0.9"/>
<path d="M308.1 586.0V654.5" stroke="#0000ee" stroke-width="1.2" stroke-dasharray="1.5 1.5" opacity="1"/>
<path d="M322.8 586.0V654.5" stroke="#ff00ff" stroke-width="1.2" stroke-dasharray="1.5 1.5" opacity="1"/>
<path d="M325.2 586.0V654.5" stroke="#009900" stroke-width="1.2" stroke-dasharray="6 3.5" opacity="1"/>
<path d="M471.6 586.0V654.5" stroke="#ff00ff" stroke-width="1.2" stroke-dasharray="1.5 1.5" opacity="1"/>
<path transform="matrix(1 0 0 0.1 0 0)" vector-effect="non-scaling-stroke" d="M71.26 6103l1 -3 1 -14 1 -17 1 0 1 -31 1 -39 1 -58 1 -11 1 -7 1 -22 1 -16 1 3 1 -9 1 20 1 14 1 -22 1 24 1 30 1 39 1 33 1 9 1 55 1 -1 1 -3 1 -28 1 2 1 2 1 -19 1 -21 1 13 1 -12 1 -22 1 -3 1 6 1 -9 1 -7 1 1 1 28 1 -9 1 13 1 2 1 52 1 -2 1 7 1 -14 1 24 1 -3 1 -5 1 -1 1 2 1 13 1 -29 1 20 1 -11 1 -7 1 9 1 -13 1 12 1 -18 1 -2 1 2 1 -13 1 -3 1 -19 1 22 1 13 1 -4 1 8 1 -18 1 14 1 12 1 6 1 -29 1 15 1 15 1 -21 1 16 1 -27 1 13 1 19 1 1 1 20 1 -29 1 20 1 0 1 0 1 21 1 7 1 -7 1 -13 1 3 1 -11 1 -12 1 -6 1 0 1 3 1 2 1 -3 1 1 1 10 1 19 1 -6 1 5 1 -7 1 24 1 -15 1 10 1 8 1 -21 1 6 1 26 1 -19 1 -10 1 -7 1 16 1 -19 1 -2 1 5 1 -19 1 6 1 -11 1 3 1 -19 1 -6 1 1 1 -1 1 -5 1 3 1 5 1 9 1 -6 1 17 1 0 1 -10 1 25 1 -5 1 0 1 13 1 8 1 2 1 16 1 -13 1 6 1 -1 1 -5 1 21 1 6 1 3 1 12 1 13 1 -3 1 -4 1 5 1 -11 1 -5 1 -17 1 -8 1 -13 1 6 1 -7 1 -10 1 -17 1 10 1 -8 1 -16 1 7 1 -3 1 7 1 -22 1 -21 1 12 1 -14 1 2 1 2 1 16 1 -11 1 7 1 18 1 20 1 -27 1 7 1 5 1 20 1 -5 1 -1 1 -1 1 -17 1 -32 1 -4 1 -23 1 -13 1 -13 1 21 1 3 1 -7 1 42 1 2 1 -9 1 25 1 -6 1 20 1 36 1 32 1 33 1 34 1 24 1 66 1 8 1 5 1 0 1 2 1 1 1 -5 1 17 1 -30 1 -6 1 -1 1 -5 1 20 1 -44 1 -64 1 -36 1 -2 1 -51 1 25 1 16 1 2 1 2 1 36 1 -12 1 21 1 5 1 7 1 -25 1 -9 1 -8 1 -13 1 -18 1 -25 1 -4 1 -9 1 16 1 28 1 40 1 -1 1 8 1 -14 1 -4 1 -20 1 -11 1 8 1 6 1 3 1 23 1 14 1 -2 1 44 1 -23 1 24 1 24 1 -19 1 3 1 8 1 -17 1 -16 1 2 1 -19 1 -15 1 1 1 -17 1 9 1 3 1 -5 1 -2 1 5 1 7 1 12 1 12 1 24 1 10 1 14 1 -23 1 7 1 12 1 0 1 -7 1 17 1 -2 1 -14 1 -24 1 -29 1 -2 1 -33 1 1 1 0 1 -14 1 12 1 -16 1 4 1 -11 1 30 1 2 1 20 1 11 1 3 1 8 1 22 1 41 1 1 1 -12 1 -26 1 -25 1 -13 1 -8 1 -11 1 9 1 -2 1 -39 1 1 1 -26 1 21 1 4 1 32 1 23 1 -17 1 -23 1 0 1 -27 1 10 1 23 1 25 1 32 1 28 1 11 1 4 1 16 1 -19 1 18 1 -2 1 4 1 -14 1 34 1 -13 1 -10 1 34 1 -14 1 -5 1 -4 1 9 1 -19 1 15 1 -23 1 8 1 4 1 -27 1 4 1 -8 1 -6 1 9 1 0 1 -9 1 -11 1 7 1 7 1 -21 1 10 1 -19 1 -16 1 -17 1 -20 1 2 1 24 1 12 1 -2 1 13 1 18 1 -25 1 3 1 -12 1 -7 1 -1 1 19 1 7 1 18 1 6 1 16 1 14 1 -9 1 -12 1 -4 1 -4 1 -5 1 -13 1 -17 1 1 1 -26 1 -13 1 -27 1 -26 1 -40 1 -16 1 23 1 44 1 35 1 33 1 -6 1 -2 1 -22 1 -12 1 31 1 22 1 2 1 19 1 17 1 15 1 3 1 -7 1 17 1 -15 1 -10 1 0 1 18 1 -14 1 -3 1 4 1 2 1 -10 1 -16 1 9 1 -5 1 -2 1 -15 1 6 1 13 1 3 1 -16 1 7 1 4 1 -14 1 6 1 11 1 -2 1 -2 1 14 1 6 1 12 1 -17 1 -4 1 23 1 -2 1 4 1 -9 1 10 1 -12" fill="none" stroke="#222222" stroke-width="1.0" stroke-linejoin="round" opacity="1.0"/>
<path transform="matrix(1 0 0 0.1 0 0)" vector-effect="non-scaling-stroke" d="M71.26 6349l1 -14 1 -5 1 -7 1 -17 1 -41 1 -32 1 -37 1 -18 1 -43 1 -13 1 -35 1 -3 1 32 1 -33 1 22 1 4 1 4 1 30 1 28 1 16 1 83 1 24 1 2 1 8 1 11 1 -19 1 -4 1 -7 1 -10 1 -39 1 -7 1 -25 1 17 1 13 1 -40 1 4 1 3 1 12 1 12 1 9 1 0 1 34 1 9 1 11 1 10 1 -7 1 35 1 -29 1 31 1 6 1 10 1 -26 1 -20 1 16 1 -20 1 -10 1 -9 1 -3 1 -19 1 -8 1 1 1 4 1 -12 1 -8 1 18 1 6 1 25 1 1 1 13 1 26 1 -5 1 5 1 -11 1 2 1 -4 1 -1 1 4 1 -14 1 12 1 -18 1 20 1 -20 1 -25 1 5 1 -11 1 7 1 14 1 41 1 35 1 6 1 -35 1 -14 1 -1 1 7 1 -23 1 1 1 5 1 3 1 1 1 8 1 3 1 24 1 -9 1 -10 1 3 1 22 1 -15 1 4 1 15 1 -13 1 -3 1 -7 1 -32 1 13 1 -21 1 -15 1 1 1 13 1 -8 1 5 1 -20 1 10 1 12 1 -18 1 23 1 -16 1 -14 1 40 1 -30 1 8 1 15 1 -15 1 30 1 -5 1 27 1 7 1 41 1 -6 1 -1 1 22 1 -27 1 32 1 -34 1 3 1 32 1 -26 1 14 1 0 1 0 1 23 1 -19 1 3 1 -9 1 30 1 -27 1 -16 1 13 1 -18 1 -5 1 3 1 -10 1 -12 1 11 1 -38 1 -40 1 -95 1 -87 1 -11 1 -23 1 -6 1 0 1 5 1 -21 1 1 1 -13 1 31 1 -7 1 10 1 31 1 -16 1 -8 1 17 1 -20 1 14 1 7 1 -19 1 13 1 -18 1 5 1 -5 1 8 1 -12 1 -7 1 -3 1 -9 1 -16 1 32 1 24 1 2 1 32 1 28 1 81 1 65 1 47 1 52 1 28 1 22 1 63 1 13 1 0 1 -20 1 -26 1 -8 1 -18 1 -30 1 -71 1 -17 1 70 1 9 1 -36 1 -148 1 -24 1 -40 1 -24 1 21 1 -1 1 3 1 32 1 -35 1 28 1 -1 1 9 1 -7 1 -3 1 3 1 -35 1 23 1 -46 1 17 1 -43 1 1 1 8 1 7 1 -4 1 11 1 -15 1 3 1 -4 1 22 1 4 1 11 1 28 1 4 1 -7 1 2 1 31 1 15 1 -6 1 56 1 -11 1 49 1 -4 1 -7 1 -37 1 -26 1 -24 1 -32 1 -27 1 -35 1 38 1 -6 1 30 1 27 1 -12 1 44 1 21 1 10 1 20 1 12 1 23 1 24 1 -7 1 1 1 14 1 -19 1 16 1 -30 1 -28 1 -41 1 -50 1 -35 1 -45 1 20 1 -30 1 -20 1 17 1 -12 1 -15 1 -20 1 6 1 -29 1 45 1 54 1 -11 1 32 1 25 1 8 1 44 1 24 1 13 1 -14 1 -35 1 -25 1 -37 1 -19 1 -8 1 0 1 -39 1 6 1 -12 1 16 1 35 1 41 1 30 1 -58 1 11 1 -35 1 -42 1 40 1 27 1 63 1 37 1 63 1 88 1 -4 1 34 1 11 1 0 1 1 1 -3 1 27 1 22 1 3 1 3 1 9 1 -20 1 22 1 -1 1 -37 1 -15 1 12 1 -36 1 -8 1 -41 1 -32 1 -26 1 -40 1 14 1 47 1 41 1 34 1 -11 1 -61 1 -59 1 -61 1 -24 1 -71 1 -9 1 -58 1 -36 1 -1 1 25 1 30 1 4 1 61 1 44 1 71 1 61 1 -31 1 -33 1 -63 1 -42 1 14 1 43 1 31 1 49 1 21 1 -18 1 -74 1 -34 1 -13 1 -35 1 14 1 18 1 33 1 -3 1 -10 1 -42 1 -11 1 -22 1 -27 1 22 1 37 1 30 1 40 1 -29 1 -10 1 -26 1 -14 1 -24 1 -18 1 16 1 47 1 65 1 32 1 77 1 16 1 18 1 16 1 28 1 16 1 36 1 -15 1 14 1 -12 1 -9 1 30 1 -1 1 -20 1 12 1 -16 1 19 1 1 1 -23 1 -6 1 26 1 -6 1 -8 1 27 1 13 1 -7 1 -7 1 -7 1 17 1 12 1 -10 1 21 1 -24 1 5 1 -14 1 -21 1 22 1 -25 1 -1" fill="none" stroke="#ff0000" stroke-width="1.0" stroke-linejoin="round" opacity="1.0"/>
<path d="M147.2 654.5V723.2" stroke="#009900" stroke-width="1.2" stroke-dasharray="6 3.5" opacity="1"/>
<path d="M191.6 654.5V723.2" stroke="#ff3030" stroke-width="1.6" stroke-dasharray="6 3.5" opacity="0.9"/>
<path d="M280.7 654.5V723.2" stroke="#ff3030" stroke-width="1.6" stroke-dasharray="6 3.5" opacity="0.9"/>
<path d="M308.1 654.5V723.2" stroke="#0000ee" stroke-width="1.2" stroke-dasharray="1.5 1.5" opacity="1"/>
<path d="M322.8 654.5V723.2" stroke="#ff00ff" stroke-width="1.2" stroke-dasharray="1.5 1.5" opacity="1"/>
<path d="M325.2 654.5V723.2" stroke="#009900" stroke-width="1.2" stroke-dasharray="6 3.5" opacity="1"/>
<path d="M471.6 654.5V723.2" stroke="#ff00ff" stroke-width="1.2" stroke-dasharray="1.5 1.5" opacity="1"/>
<path transform="matrix(1 0 0 0.1 0 0)" vector-effect="non-scaling-stroke" d="M71.26 7203l1 1 1 -6 1 6 1 2 1 -7 1 0 1 5 1 -1 1 -10 1 11 1 -1 1 -5 1 1 1 -2 1 2 1 3 1 -1 1 1 1 -3 1 0 1 5 1 -4 1 3 1 -2 1 1 1 -2 1 8 1 -8 1 5 1 -8 1 7 1 -2 1 1 1 -3 1 -2 1 2 1 1 1 -1 1 1 1 -1 1 3 1 -2 1 -5 1 1 1 8 1 -4 1 -1 1 2 1 0 1 -2 1 -3 1 0 1 3 1 -2 1 2 1 -1 1 2 1 3 1 -2 1 -3 1 -2 1 2 1 -5 1 3 1 3 1 1 1 -7 1 6 1 3 1 -4 1 2 1 -3 1 6 1 -7 1 0 1 4 1 1 1 -3 1 -3 1 5 1 -1 1 -4 1 2 1 2 1 -1 1 0 1 2 1 -1 1 7 1 -8 1 -2 1 1 1 3 1 -6 1 1 1 6 1 -3 1 2 1 1 1 -6 1 0 1 5 1 -1 1 -2 1 2 1 -4 1 2 1 0 1 5 1 -7 1 9 1 -6 1 -3 1 3 1 2 1 -1 1 2 1 -7 1 3 1 3 1 -7 1 6 1 -2 1 6 1 -5 1 -2 1 1 1 3 1 -5 1 6 1 -7 1 4 1 0 1 -1 1 -1 1 -4 1 5 1 5 1 -5 1 3 1 -1 1 0 1 -2 1 -3 1 3 1 2 1 1 1 0 1 -1 1 -2 1 0 1 -2 1 8 1 -8 1 0 1 9 1 -10 1 3 1 4 1 -5 1 4 1 -2 1 -3 1 -1 1 0 1 4 1 5 1 -4 1 -3 1 -1 1 2 1 3 1 -2 1 2 1 -3 1 5 1 -5 1 -2 1 5 1 -6 1 10 1 -9 1 5 1 -2 1 -2 1 -1 1 7 1 -6 1 6 1 -6 1 1 1 -1 1 3 1 -2 1 3 1 -4 1 -2 1 1 1 2 1 -4 1 2 1 -2 1 2 1 2 1 -2 1 -2 1 4 1 -2 1 3 1 -5 1 5 1 3 1 -7 1 6 1 -8 1 6 1 2 1 -1 1 -5 1 3 1 -3 1 5 1 -6 1 2 1 0 1 -9 1 13 1 -6 1 7 1 -3 1 2 1 -2 1 -2 1 4 1 -5 1 4 1 -5 1 4 1 -1 1 -1 1 0 1 -3 1 -6 1 9 1 1 1 -2 1 -1 1 3 1 -9 1 10 1 -4 1 5 1 -6 1 -2 1 5 1 -2 1 3 1 -7 1 3 1 1 1 1 1 -3 1 4 1 -2 1 5 1 -5 1 -1 1 4 1 -5 1 5 1 -1 1 0 1 -4 1 2 1 -4 1 11 1 -7 1 -5 1 6 1 -6 1 5 1 -9 1 14 1 -10 1 -1 1 1 1 8 1 -8 1 10 1 -7 1 -3 1 1 1 1 1 -1 1 0 1 6 1 1 1 -5 1 0 1 1 1 -1 1 -2 1 2 1 2 1 -3 1 1 1 0 1 -2 1 4 1 -3 1 -1 1 0 1 1 1 0 1 -2 1 -4 1 2 1 5 1 -2 1 7 1 -5 1 -1 1 -2 1 1 1 -3 1 3 1 -1 1 5 1 -3 1 1 1 -5 1 6 1 1 1 -1 1 -3 1 1 1 -3 1 -5 1 7 1 3 1 -4 1 -2 1 -3 1 6 1 -7 1 5 1 1 1 -1 1 0 1 0 1 4 1 -2 1 3 1 -4 1 1 1 -4 1 2 1 3 1 -1 1 -2 1 1 1 -5 1 6 1 0 1 -2 1 3 1 -4 1 1 1 -1 1 1 1 -2 1 2 1 -2 1 3 1 0 1 -3 1 -2 1 5 1 -1 1 1 1 -3 1 3 1 -3 1 1 1 -4 1 2 1 2 1 -2 1 -2 1 -1 1 -1 1 7 1 -4 1 1 1 -5 1 1 1 6 1 -1 1 -1 1 -3 1 -4 1 9 1 7 1 -3 1 1 1 4 1 -2 1 -3 1 2 1 -6 1 0 1 5 1 -4 1 2 1 6 1 -4 1 -4 1 3 1 0 1 -3 1 1 1 0 1 4 1 -2 1 1 1 1 1 3 1 -3 1 -2 1 8 1 -14 1 4 1 -1 1 -1 1 4 1 3 1 -8 1 7 1 -7 1 2 1 5 1 -4 1 5 1 -4 1 3 1 -3 1 4 1 0 1 -4 1 8 1 -6 1 5 1 -3 1 5" fill="none" stroke="#ff0000" stroke-width="1.0" stroke-linejoin="round" opacity="1.0"/>
<path transform="matrix(1 0 0 0.1 0 0)" vector-effect="non-scaling-stroke" d="M71.26 6780l1 1 1 -7 1 -2 1 0 1 -6 1 -2 1 6 1 -6 1 -7 1 2 1 -6 1 -9 1 12 1 -5 1 -2 1 4 1 -1 1 -3 1 7 1 -19 1 14 1 -2 1 1 1 10 1 -10 1 5 1 -6 1 2 1 0 1 7 1 -1 1 -1 1 -3 1 0 1 -5 1 8 1 -3 1 -6 1 9 1 -13 1 12 1 -4 1 6 1 -7 1 -1 1 2 1 11 1 -10 1 5 1 -2 1 9 1 -8 1 -6 1 2 1 -2 1 -5 1 -2 1 4 1 -2 1 0 1 12 1 6 1 -7 1 -9 1 -2 1 15 1 -14 1 -3 1 14 1 -1 1 -1 1 -4 1 4 1 1 1 4 1 4 1 -16 1 4 1 -1 1 -2 1 2 1 -4 1 6 1 5 1 -9 1 2 1 4 1 11 1 -2 1 -6 1 11 1 1 1 0 1 -4 1 10 1 -11 1 3 1 -9 1 0 1 -2 1 0 1 -3 1 -3 1 -2 1 4 1 -6 1 -7 1 14 1 -5 1 3 1 -11 1 2 1 1 1 5 1 -4 1 -4 1 11 1 0 1 -11 1 5 1 -4 1 3 1 3 1 2 1 -12 1 5 1 0 1 -3 1 0 1 -1 1 10 1 7 1 -19 1 12 1 -8 1 3 1 -1 1 -14 1 15 1 -11 1 2 1 -4 1 2 1 3 1 3 1 1 1 -5 1 4 1 -15 1 21 1 -9 1 -3 1 10 1 -10 1 2 1 12 1 2 1 -13 1 5 1 8 1 1 1 -3 1 -10 1 7 1 -17 1 -11 1 7 1 -26 1 -9 1 19 1 7 1 -18 1 -2 1 5 1 1 1 -5 1 19 1 -18 1 3 1 -19 1 13 1 -9 1 -9 1 14 1 -12 1 -12 1 -16 1 3 1 -2 1 0 1 6 1 10 1 11 1 6 1 -21 1 28 1 4 1 -12 1 15 1 -4 1 15 1 -3 1 15 1 -14 1 9 1 -12 1 15 1 11 1 -4 1 -19 1 2 1 -2 1 -5 1 -9 1 11 1 -14 1 -11 1 40 1 -15 1 9 1 -13 1 1 1 6 1 0 1 10 1 -16 1 -22 1 7 1 -8 1 15 1 -17 1 23 1 -20 1 -6 1 17 1 -30 1 17 1 -40 1 15 1 6 1 -5 1 -7 1 7 1 -27 1 17 1 6 1 -12 1 -16 1 19 1 12 1 -6 1 4 1 14 1 -2 1 -5 1 4 1 -1 1 20 1 -13 1 12 1 23 1 -15 1 -18 1 19 1 23 1 1 1 -20 1 -27 1 16 1 -22 1 22 1 1 1 2 1 7 1 -24 1 4 1 -19 1 -3 1 27 1 5 1 8 1 -4 1 3 1 27 1 -14 1 29 1 -15 1 -23 1 -28 1 -4 1 -22 1 18 1 4 1 31 1 -6 1 -17 1 7 1 -9 1 4 1 -4 1 25 1 -30 1 7 1 13 1 -17 1 -19 1 12 1 7 1 -24 1 38 1 -27 1 9 1 -19 1 5 1 8 1 -22 1 17 1 -10 1 -2 1 31 1 -46 1 6 1 22 1 5 1 -12 1 -10 1 10 1 10 1 -19 1 31 1 -2 1 39 1 -2 1 16 1 0 1 1 1 -12 1 8 1 5 1 13 1 -26 1 7 1 11 1 -5 1 1 1 -8 1 -21 1 4 1 10 1 7 1 -30 1 36 1 -15 1 -13 1 10 1 -4 1 -10 1 4 1 -5 1 18 1 -14 1 -9 1 11 1 -1 1 -7 1 -18 1 -10 1 -23 1 -10 1 17 1 -22 1 13 1 -17 1 26 1 -26 1 19 1 -14 1 3 1 17 1 -28 1 20 1 13 1 -14 1 31 1 17 1 14 1 -33 1 24 1 -13 1 3 1 -16 1 1 1 4 1 11 1 -27 1 -5 1 -39 1 -1 1 -4 1 9 1 15 1 8 1 4 1 -3 1 -18 1 -7 1 -2 1 -8 1 14 1 -22 1 8 1 -6 1 11 1 20 1 6 1 5 1 -10 1 2 1 -7 1 -6 1 34 1 -3 1 -10 1 -14 1 14 1 4 1 -16 1 10 1 -8 1 4 1 -12 1 20 1 -9 1 1 1 -7 1 19 1 8 1 0 1 -8 1 7 1 2 1 -9 1 -5 1 2 1 -3 1 7 1 0 1 -12 1 -3 1 -6 1 1 1 3 1 3 1 11" fill="none" stroke="#2020ff" stroke-width="1.0" stroke-linejoin="round" opacity="1.0"/>
<path transform="matrix(1 0 0 0.1 0 0)" vector-effect="non-scaling-stroke" d="M71.26 6974l1 -16 1 15 1 -25 1 -22 1 -12 1 -16 1 4 1 -8 1 -9 1 9 1 -3 1 13 1 9 1 -13 1 -2 1 -6 1 17 1 2 1 7 1 -6 1 16 1 9 1 3 1 -7 1 -10 1 7 1 -23 1 0 1 -2 1 -6 1 2 1 4 1 -12 1 -3 1 -12 1 19 1 -3 1 3 1 21 1 -5 1 2 1 -4 1 20 1 -5 1 8 1 14 1 -17 1 -1 1 6 1 -11 1 -2 1 4 1 3 1 -16 1 -4 1 -5 1 -5 1 -8 1 3 1 2 1 1 1 -20 1 18 1 -1 1 -6 1 13 1 -29 1 15 1 12 1 7 1 -1 1 -3 1 11 1 -14 1 -3 1 22 1 -9 1 -8 1 19 1 -19 1 10 1 21 1 -21 1 9 1 -18 1 19 1 32 1 15 1 -12 1 20 1 -2 1 -11 1 7 1 -6 1 -17 1 -14 1 -11 1 -21 1 6 1 17 1 -5 1 9 1 -4 1 -28 1 13 1 -7 1 23 1 -12 1 21 1 -14 1 -9 1 16 1 -19 1 12 1 5 1 -17 1 11 1 -8 1 16 1 4 1 1 1 -4 1 -12 1 7 1 -5 1 21 1 -20 1 -5 1 10 1 -1 1 9 1 4 1 -11 1 21 1 -25 1 -1 1 2 1 -4 1 14 1 2 1 3 1 -24 1 6 1 8 1 -3 1 3 1 -10 1 9 1 7 1 -3 1 5 1 -19 1 7 1 15 1 3 1 -3 1 -6 1 28 1 -7 1 17 1 2 1 -4 1 24 1 -5 1 -8 1 -11 1 21 1 -20 1 24 1 17 1 32 1 -26 1 1 1 -9 1 -4 1 14 1 -16 1 3 1 -7 1 -12 1 15 1 12 1 -7 1 -7 1 43 1 -9 1 -3 1 3 1 43 1 33 1 -14 1 -13 1 -15 1 -14 1 -17 1 14 1 -26 1 2 1 -1 1 7 1 -26 1 -34 1 -12 1 17 1 -67 1 43 1 -12 1 -42 1 4 1 -13 1 -5 1 43 1 -29 1 -3 1 9 1 10 1 -7 1 19 1 26 1 10 1 30 1 3 1 18 1 -2 1 -19 1 -31 1 59 1 -69 1 13 1 -21 1 -17 1 31 1 -5 1 25 1 10 1 0 1 42 1 9 1 -4 1 41 1 -15 1 -63 1 11 1 -7 1 -80 1 0 1 26 1 -13 1 -3 1 -8 1 8 1 20 1 -42 1 -21 1 -13 1 -9 1 3 1 5 1 -9 1 -17 1 9 1 31 1 -7 1 6 1 23 1 5 1 -23 1 13 1 3 1 39 1 6 1 -52 1 76 1 -22 1 28 1 -26 1 -1 1 -7 1 -27 1 9 1 -15 1 -31 1 22 1 9 1 60 1 -38 1 9 1 25 1 -12 1 -2 1 -39 1 -14 1 1 1 36 1 2 1 23 1 8 1 -44 1 9 1 -34 1 3 1 25 1 -27 1 13 1 2 1 -46 1 39 1 -36 1 -3 1 34 1 -26 1 47 1 -1 1 -12 1 35 1 9 1 -42 1 37 1 2 1 30 1 -18 1 14 1 -26 1 13 1 -15 1 15 1 24 1 -50 1 66 1 -24 1 -59 1 -31 1 -26 1 -32 1 56 1 17 1 -26 1 38 1 -35 1 30 1 -2 1 7 1 -28 1 -15 1 30 1 15 1 -34 1 24 1 4 1 -25 1 13 1 -6 1 -28 1 15 1 -10 1 -25 1 11 1 11 1 8 1 -1 1 -15 1 -8 1 -1 1 27 1 -18 1 9 1 -3 1 38 1 -22 1 1 1 6 1 5 1 -36 1 21 1 19 1 12 1 -31 1 39 1 -3 1 -16 1 -21 1 20 1 -35 1 18 1 14 1 -3 1 11 1 -31 1 22 1 -29 1 0 1 3 1 29 1 -47 1 9 1 -29 1 12 1 -19 1 40 1 85 1 98 1 -23 1 -77 1 -34 1 -55 1 -24 1 23 1 21 1 8 1 0 1 6 1 -28 1 -27 1 32 1 -27 1 3 1 -51 1 23 1 44 1 -17 1 2 1 7 1 7 1 12 1 -6 1 -16 1 52 1 -58 1 39 1 -16 1 7 1 12 1 2 1 -14 1 8 1 -22 1 -11 1 10 1 21 1 -32 1 7 1 25 1 -9 1 -2 1 -13 1 28 1 -29 1 36 1 -41 1 16 1 -6 1 -17 1 15 1 -21" fill="none" stroke="#222222" stroke-width="1.0" stroke-linejoin="round" opacity="1.0"/>
<path transform="matrix(1 0 0 0.1 0 0)" vector-effect="non-scaling-stroke" d="M71.26 7047l1 0 1 15 1 -8 1 2 1 7 1 22 1 -5 1 0 1 -1 1 -6 1 8 1 1 1 -6 1 0 1 -13 1 4 1 -8 1 1 1 6 1 4 1 -6 1 -12 1 0 1 5 1 -4 1 9 1 11 1 -20 1 14 1 13 1 10 1 -17 1 8 1 0 1 -7 1 -9 1 17 1 -12 1 6 1 10 1 -23 1 6 1 0 1 -4 1 3 1 -20 1 -10 1 10 1 10 1 9 1 -15 1 14 1 -3 1 -4 1 11 1 0 1 5 1 5 1 -8 1 10 1 -10 1 15 1 -5 1 1 1 12 1 -21 1 4 1 -14 1 0 1 18 1 -12 1 3 1 -12 1 10 1 -5 1 2 1 -6 1 -2 1 -1 1 -7 1 4 1 -4 1 4 1 -7 1 -14 1 11 1 -8 1 4 1 -13 1 -9 1 5 1 9 1 -4 1 12 1 -3 1 15 1 5 1 -25 1 27 1 -3 1 11 1 -6 1 19 1 -10 1 -7 1 -14 1 6 1 13 1 -10 1 -6 1 12 1 -15 1 -18 1 12 1 8 1 4 1 -9 1 3 1 -25 1 25 1 -7 1 5 1 7 1 -7 1 -6 1 -7 1 -9 1 29 1 -9 1 -16 1 14 1 2 1 -14 1 1 1 3 1 3 1 -9 1 1 1 -1 1 -6 1 8 1 -5 1 -4 1 -1 1 -7 1 14 1 -5 1 13 1 -12 1 16 1 -16 1 12 1 -3 1 -6 1 -11 1 16 1 -21 1 -7 1 2 1 8 1 -25 1 17 1 -12 1 21 1 -10 1 -26 1 -19 1 -21 1 -11 1 -14 1 -14 1 14 1 15 1 -11 1 4 1 6 1 -2 1 -16 1 23 1 -5 1 8 1 -14 1 10 1 -1 1 6 1 -20 1 29 1 -21 1 -20 1 -38 1 6 1 -44 1 27 1 -25 1 14 1 0 1 9 1 5 1 41 1 40 1 -66 1 51 1 14 1 29 1 10 1 34 1 18 1 -24 1 4 1 25 1 -11 1 3 1 7 1 -38 1 27 1 -45 1 16 1 -27 1 -1 1 -21 1 -47 1 40 1 -36 1 -15 1 29 1 -12 1 28 1 -3 1 -28 1 44 1 -1 1 -17 1 10 1 -40 1 -3 1 -34 1 33 1 -24 1 -4 1 -29 1 27 1 27 1 4 1 48 1 -42 1 14 1 56 1 -66 1 -55 1 -2 1 28 1 33 1 52 1 15 1 3 1 5 1 31 1 18 1 -5 1 -10 1 15 1 8 1 -35 1 -1 1 10 1 -4 1 10 1 -51 1 40 1 -36 1 -9 1 5 1 -17 1 -1 1 6 1 -19 1 -4 1 -27 1 47 1 -19 1 19 1 -9 1 22 1 2 1 43 1 -7 1 29 1 1 1 -14 1 -30 1 -59 1 -62 1 36 1 17 1 -27 1 19 1 33 1 -14 1 3 1 13 1 -7 1 11 1 -24 1 49 1 22 1 -17 1 40 1 -5 1 -19 1 10 1 -13 1 -23 1 7 1 -35 1 -21 1 0 1 1 1 -36 1 15 1 -27 1 23 1 -12 1 7 1 3 1 29 1 -33 1 5 1 7 1 3 1 16 1 77 1 50 1 7 1 -15 1 -11 1 -15 1 3 1 10 1 15 1 -7 1 -27 1 16 1 -11 1 5 1 -7 1 5 1 -15 1 6 1 -2 1 1 1 -1 1 -32 1 18 1 41 1 -1 1 -16 1 32 1 2 1 -18 1 7 1 18 1 -16 1 1 1 -16 1 19 1 -28 1 13 1 -31 1 -9 1 2 1 -23 1 -4 1 5 1 -10 1 17 1 -15 1 -17 1 31 1 -11 1 -32 1 15 1 33 1 5 1 -3 1 36 1 -14 1 22 1 12 1 -48 1 14 1 -22 1 15 1 -14 1 -35 1 -17 1 -54 1 15 1 -40 1 -22 1 64 1 30 1 38 1 47 1 1 1 -43 1 34 1 -34 1 -9 1 -21 1 -9 1 -11 1 15 1 22 1 30 1 28 1 -3 1 2 1 -6 1 -20 1 -5 1 3 1 -31 1 -11 1 0 1 4 1 14 1 -11 1 -9 1 13 1 -13 1 1 1 4 1 14 1 -18 1 43 1 -14 1 14 1 -12 1 -18 1 27 1 9 1 14 1 2 1 -17 1 1 1 -9 1 9 1 -7 1 -10 1 10 1 -30 1 22 1 -30 1 20" fill="none" stroke="#00e600" stroke-width="1.0" stroke-linejoin="round" opacity="1.0"/>
<path d="M744.3 189.5V262.6" stroke="#009900" stroke-width="1.2" stroke-dasharray="6 3.5" opacity="1"/>
<path d="M788.7 189.5V262.6" stroke="#ff3030" stroke-width="1.6" stroke-dasharray="6 3.5" opacity="0.9"/>
<path d="M877.8 189.5V262.6" stroke="#ff3030" stroke-width="1.6" stroke-dasharray="6 3.5" opacity="0.9"/>
<path d="M905.2 189.5V262.6" stroke="#0000ee" stroke-width="1.2" stroke-dasharray="1.5 1.5" opacity="1"/>
<path d="M919.9 189.5V262.6" stroke="#ff00ff" stroke-width="1.2" stroke-dasharray="1.5 1.5" opacity="1"/>
<path d="M922.3 189.5V262.6" stroke="#009900" stroke-width="1.2" stroke-dasharray="6 3.5" opacity="1"/>
<path d="M1068.7 189.5V262.6" stroke="#ff00ff" stroke-width="1.2" stroke-dasharray="1.5 1.5" opacity="1"/>
<path d="M668.4 218.5H1122.5" stroke="#000" stroke-width="1.2" stroke-dasharray="5.5 3"/>
<path transform="matrix(0.5 0 0 0.1 0 0)" vector-effect="non-scaling-stroke" d="M1336.71 2265l1 9 1 -12 1 3 1 -9 1 18 1 -16 1 28 1 -35 1 15 1 -19 1 14 1 -11 1 12 1 -17 1 29 1 -26 1 15 1 -10 1 13 1 -24 1 37 1 -35 1 30 1 -27 1 15 1 -25 1 28 1 -35 1 22 1 -17 1 17 1 -8 1 30 1 -28 1 3 1 -13 1 26 1 -14 1 16 1 -30 1 23 1 -19 1 18 1 -16 1 10 1 -19 1 38 1 -32 1 23 1 -19 1 11 1 -38 1 42 1 -27 1 27 1 -25 1 27 1 -33 1 41 1 -32 1 19 1 -34 1 29 1 -1 1 5 1 -19 1 17 1 -9 1 14 1 -19 1 47 1 -35 1 20 1 -33 1 19 1 -22 1 20 1 -27 1 26 1 -40 1 38 1 -31 1 29 1 -18 1 27 1 -11 1 3 1 -6 1 28 1 -44 1 20 1 -28 1 30 1 -22 1 16 1 -13 1 12 1 -19 1 25 1 -45 1 59 1 -49 1 33 1 -10 1 18 1 -17 1 5 1 -15 1 24 1 -25 1 29 1 -12 1 2 1 -6 1 15 1 -19 1 32 1 -37 1 25 1 -48 1 49 1 -16 1 11 1 -38 1 41 1 -37 1 35 1 -10 1 21 1 -26 1 48 1 -45 1 33 1 -27 1 34 1 -39 1 11 1 -29 1 47 1 -22 1 15 1 -21 1 21 1 -28 1 34 1 -27 1 24 1 -17 1 13 1 -26 1 32 1 -36 1 18 1 -6 1 6 1 -6 1 19 1 -12 1 6 1 -4 1 14 1 -11 1 5 1 -8 1 12 1 -31 1 40 1 -22 1 29 1 -26 1 18 1 -21 1 35 1 -31 1 10 1 -12 1 34 1 -68 1 60 1 -40 1 37 1 -36 1 20 1 -39 1 55 1 -24 1 6 1 -26 1 23 1 -6 1 16 1 -19 1 31 1 -18 1 17 1 -23 1 18 1 -7 1 23 1 -21 1 4 1 -14 1 12 1 -4 1 11 1 -26 1 23 1 -14 1 16 1 -10 1 29 1 -29 1 14 1 -19 1 21 1 -22 1 28 1 -13 1 19 1 -37 1 40 1 -38 1 26 1 -35 1 27 1 -2 1 15 1 -22 1 20 1 -16 1 13 1 -6 1 7 1 -60 1 79 1 -19 1 9 1 -6 1 13 1 -28 1 39 1 -25 1 7 1 -2 1 6 1 -56 1 53 1 -5 1 3 1 -29 1 41 1 -29 1 30 1 -30 1 44 1 -45 1 30 1 -22 1 1 1 -7 1 12 1 -29 1 17 1 -19 1 11 1 -24 1 20 1 -17 1 15 1 -18 1 18 1 -25 1 22 1 -22 1 20 1 -8 1 25 1 -27 1 19 1 -18 1 15 1 -21 1 39 1 -61 1 62 1 -57 1 24 1 -12 1 53 1 -47 1 8 1 -22 1 29 1 -13 1 17 1 -13 1 23 1 -21 1 6 1 -31 1 41 1 -30 1 31 1 -44 1 38 1 -30 1 28 1 -21 1 19 1 -20 1 11 1 -20 1 26 1 -17 1 42 1 -41 1 20 1 -8 1 9 1 -5 1 10 1 -11 1 6 1 -21 1 17 1 -16 1 15 1 -10 1 19 1 -26 1 28 1 -3 1 6 1 -1 1 12 1 -12 1 42 1 -37 1 22 1 -7 1 16 1 -13 1 14 1 -4 1 16 1 -28 1 37 1 -20 1 12 1 -22 1 14 1 -24 1 35 1 -15 1 21 1 -33 1 33 1 -15 1 19 1 -24 1 26 1 -34 1 30 1 -9 1 36 1 -47 1 24 1 -1 1 6 1 -27 1 28 1 -31 1 30 1 -13 1 22 1 -14 1 11 1 -1 1 3 1 -5 1 8 1 -20 1 38 1 -43 1 31 1 -34 1 42 1 -4 1 25 1 -28 1 35 1 -41 1 28 1 -8 1 28 1 -21 1 13 1 -49 1 54 1 -30 1 35 1 -16 1 21 1 -34 1 24 1 -34 1 40 1 -20 1 14 1 -32 1 30 1 -38 1 38 1 -25 1 14 1 -13 1 4 1 -10 1 2 1 -17 1 22 1 -19 1 4 1 -2 1 13 1 -62 1 67 1 -46 1 21 1 -24 1 14 1 -21 1 11 1 -30 1 41 1 -24 1 36 1 -36 1 35 1 -23 1 24 1 -22 1 8 1 -37 1 34 1 -13 1 32 1 -50 1 29 1 -15 1 11 1 -13 1 17 1 0 1 23 1 -40 1 29 1 -10 1 26 1 -16 1 23 1 -13 1 13 1 -20 1 31 1 -35 1 39 1 -33 1 14 1 -13 1 6 1 -10 1 11 1 -13 1 12 1 -25 1 43 1 -58 1 36 1 -19 1 21 1 -33 1 32 1 -19 1 17 1 -31 1 31 1 -43 1 39 1 -16 1 14 1 -17 1 12 1 -24 1 25 1 -37 1 26 1 -2 1 11 1 -34 1 28 1 -7 1 5 1 -8 1 49 1 -38 1 13 1 -8 1 27 1 -29 1 51 1 -42 1 31 1 -16 1 9 1 -11 1 24 1 -24 1 27 1 -23 1 28 1 -16 1 50 1 -63 1 24 1 -16 1 30 1 -25 1 13 1 -14 1 0 1 -26 1 53 1 -52 1 25 1 -33 1 16 1 -25 1 52 1 -36 1 25 1 -57 1 50 1 -38 1 22 1 -25 1 7 1 -19 1 15 1 -5 1 4 1 -8 1 17 1 -33 1 35 1 -39 1 19 1 -33 1 26 1 -38 1 49 1 -18 1 32 1 -52 1 49 1 -9 1 18 1 -23 1 10 1 -7 1 23 1 -25 1 21 1 -9 1 30 1 -32 1 17 1 -3 1 8 1 -9 1 41 1 -50 1 26 1 -16 1 13 1 -3 1 40 1 -36 1 30 1 -52 1 29 1 -28 1 57 1 -54 1 48 1 -35 1 40 1 -37 1 42 1 -19 1 10 1 -17 1 13 1 -32 1 27 1 -22 1 33 1 -22 1 38 1 -56 1 21 1 -13 1 13 1 -6 1 25 1 -38 1 18 1 -11 1 27 1 -36 1 19 1 -12 1 27 1 -51 1 36 1 -14 1 20 1 -24 1 54 1 -71 1 35 1 -26 1 35 1 -35 1 16 1 -21 1 48 1 -44 1 47 1 -42 1 13 1 -29 1 20 1 -12 1 26 1 -46 1 33 1 -28 1 35 1 -30 1 20 1 -9 1 25 1 -17 1 19 1 -19 1 13 1 -32 1 19 1 -14 1 22 1 -8 1 18 1 -27 1 26 1 -18 1 25 1 -23 1 7 1 -9 1 5 1 -11 1 21 1 -38 1 42 1 -17 1 16 1 -32 1 35 1 -11 1 9 1 -24 1 27 1 -17 1 19 1 -15 1 17 1 -14 1 23 1 -18 1 14 1 -15 1 21 1 -13 1 8 1 -9 1 19 1 -15 1 8 1 -36 1 34 1 -24 1 42 1 -28 1 -2 1 -12 1 49 1 -37 1 12 1 -7 1 24 1 -46 1 30 1 -16 1 16 1 -16 1 8 1 -18 1 30 1 -19 1 21 1 -38 1 15 1 -12 1 21 1 -17 1 27 1 -45 1 27 1 -23 1 36 1 -40 1 30 1 -22 1 29 1 -69 1 55 1 -15 1 13 1 -53 1 63 1 -26 1 20 1 -13 1 13 1 -24 1 31 1 -43 1 60 1 -18 1 18 1 -11 1 15 1 -13 1 21 1 -32 1 42 1 -75 1 83 1 -34 1 28 1 -42 1 36 1 -31 1 31 1 -39 1 26 1 -24 1 19 1 -18 1 14 1 -16 1 12 1 -29 1 28 1 -20 1 13 1 -20 1 5 1 -9 1 0 1 -30 1 40 1 -23 1 15 1 -26 1 30 1 -24 1 21 1 -13 1 34 1 -46 1 18 1 -28 1 24 1 -20 1 17 1 -13 1 27 1 -47 1 48 1 -32 1 53 1 -19 1 15 1 -11 1 18 1 2 1 11 1 -16 1 20 1 -11 1 22 1 -10 1 10 1 -42 1 47 1 -21 1 28 1 -42 1 48 1 -51 1 9 1 -20 1 21 1 -23 1 9 1 -18 1 39 1 -38 1 22 1 -37 1 28 1 -31 1 41 1 -33 1 54 1 -47 1 32 1 -10 1 17 1 -28 1 31 1 -20 1 34 1 -24 1 13 1 -29 1 15 1 -36 1 45 1 -27 1 17 1 -6 1 10 1 -7 1 15 1 -24 1 30 1 -20 1 35 1 -20 1 2 1 -9 1 5 1 -32 1 26 1 -12 1 4 1 -16 1 22 1 -33 1 24 1 -15 1 4 1 -16 1 29 1 -26 1 7 1 -9 1 2 1 -17 1 16 1 -26 1 39 1 -28 1 41 1 -41 1 15 1 -16 1 31 1 -26 1 14 1 -13 1 11 1 -34 1 46 1 -20 1 14 1 -10 1 21 1 -37 1 27 1 -6 1 4 1 -4 1 26 1 -40" fill="none" stroke="#0000ff" stroke-width="1.0" stroke-linejoin="round" opacity="1.0"/>
<path transform="matrix(0.5 0 0 0.1 0 0)" vector-effect="non-scaling-stroke" d="M1336.71 2190l1 24 1 -12 1 51 1 -67 1 50 1 379 1 -49 1 -357 1 14 1 -21 1 39 1 -37 1 27 1 -22 1 46 1 -45 1 7 1 -55 1 55 1 -50 1 47 1 -19 1 14 1 -24 1 39 1 -40 1 40 1 -22 1 26 1 -35 1 32 1 -55 1 37 1 -20 1 34 1 -19 1 39 1 -31 1 14 1 -29 1 22 1 -21 1 29 1 -48 1 41 1 -25 1 29 1 -9 1 28 1 -35 1 26 1 -62 1 72 1 -59 1 57 1 -40 1 21 1 -50 1 49 1 -20 1 4 1 -18 1 45 1 -36 1 15 1 -28 1 28 1 -11 1 13 1 -34 1 23 1 -48 1 82 1 -48 1 33 1 -11 1 16 1 -22 1 27 1 -24 1 29 1 -31 1 26 1 -34 1 61 1 -89 1 48 1 -27 1 24 1 -17 1 24 1 -52 1 57 1 -26 1 9 1 -35 1 41 1 -22 1 41 1 -30 1 27 1 -38 1 56 1 -52 1 10 1 -5 1 22 1 -21 1 8 1 -10 1 35 1 -28 1 14 1 -35 1 27 1 -43 1 48 1 -10 1 72 1 -113 1 46 1 -39 1 47 1 -21 1 19 1 1 1 10 1 -17 1 16 1 -12 1 17 1 -28 1 22 1 -46 1 68 1 -42 1 32 1 -27 1 17 1 -23 1 29 1 -28 1 66 1 -56 1 68 1 -88 1 55 1 -30 1 16 1 -32 1 23 1 -27 1 33 1 -42 1 31 1 -18 1 42 1 -74 1 52 1 -14 1 14 1 -24 1 26 1 -9 1 16 1 -18 1 21 1 -33 1 53 1 -72 1 64 1 -39 1 6 1 -56 1 91 1 -35 1 36 1 -34 1 11 1 -21 1 30 1 -66 1 55 1 -29 1 28 1 -6 1 12 1 -7 1 12 1 -21 1 19 1 -16 1 52 1 -57 1 9 1 -19 1 22 1 -37 1 59 1 -48 1 27 1 -45 1 48 1 -20 1 44 1 -61 1 35 1 -17 1 11 1 -37 1 35 1 -14 1 43 1 -47 1 43 1 -23 1 7 1 -23 1 32 1 -28 1 20 1 -17 1 67 1 -67 1 22 1 -19 1 32 1 -34 1 22 1 -46 1 70 1 -61 1 53 1 -24 1 23 1 -36 1 21 1 -21 1 69 1 -79 1 23 1 -28 1 28 1 -17 1 23 1 -29 1 40 1 -31 1 8 1 -22 1 51 1 -52 1 43 1 -21 1 15 1 -56 1 151 1 -112 1 22 1 -58 1 70 1 -48 1 40 1 -38 1 45 1 -49 1 36 1 -20 1 57 1 -87 1 38 1 -41 1 40 1 -12 1 15 1 -45 1 42 1 -8 1 20 1 -34 1 31 1 -16 1 19 1 -20 1 40 1 -45 1 15 1 -19 1 23 1 -8 1 28 1 -36 1 29 1 -33 1 20 1 -19 1 14 1 -12 1 22 1 -16 1 13 1 -39 1 31 1 -58 1 78 1 -29 1 12 1 -17 1 19 1 -32 1 37 1 -36 1 28 1 -20 1 26 1 -79 1 102 1 -43 1 16 1 -27 1 59 1 -35 1 24 1 -19 1 14 1 -23 1 33 1 -15 1 27 1 -23 1 32 1 -40 1 27 1 -11 1 16 1 -28 1 34 1 -27 1 29 1 -12 1 3 1 0 1 -1 1 -5 1 17 1 -25 1 17 1 -31 1 47 1 -66 1 89 1 -76 1 57 1 -33 1 24 1 -31 1 17 1 -15 1 36 1 -28 1 24 1 -30 1 45 1 -44 1 19 1 -14 1 19 1 -23 1 39 1 -51 1 29 1 -9 1 16 1 -31 1 26 1 -3 1 42 1 -46 1 7 1 -17 1 43 1 -46 1 41 1 -92 1 81 1 -23 1 19 1 -20 1 21 1 -22 1 29 1 -27 1 17 1 -19 1 17 1 -15 1 69 1 -91 1 45 1 -41 1 38 1 -13 1 0 1 -2 1 3 1 -41 1 49 1 -17 1 24 1 -48 1 38 1 -22 1 47 1 -65 1 56 1 -35 1 52 1 -47 1 14 1 -17 1 32 1 -24 1 6 1 -22 1 18 1 -18 1 24 1 -30 1 21 1 -15 1 7 1 -57 1 83 1 -76 1 52 1 -17 1 53 1 -72 1 65 1 -99 1 80 1 -63 1 69 1 -53 1 48 1 -23 1 27 1 -37 1 55 1 -35 1 20 1 -52 1 38 1 -6 1 8 1 -11 1 13 1 -14 1 14 1 -18 1 35 1 -34 1 62 1 -89 1 48 1 -8 1 32 1 -39 1 22 1 -43 1 60 1 -23 1 65 1 -92 1 54 1 -71 1 59 1 -28 1 17 1 -20 1 42 1 -27 1 3 1 -5 1 42 1 -44 1 26 1 -21 1 18 1 -10 1 1 1 -23 1 27 1 -9 1 10 1 -18 1 24 1 -27 1 41 1 -46 1 13 1 -20 1 24 1 -45 1 35 1 -32 1 30 1 -10 1 44 1 -62 1 50 1 -29 1 32 1 -25 1 69 1 -81 1 17 1 -5 1 17 1 -29 1 28 1 -40 1 56 1 -32 1 42 1 -64 1 52 1 -27 1 4 1 -10 1 3 1 -16 1 15 1 -25 1 29 1 -15 1 21 1 -30 1 34 1 -62 1 60 1 -30 1 62 1 -47 1 10 1 -17 1 34 1 -33 1 14 1 -16 1 19 1 -16 1 52 1 -60 1 32 1 -41 1 12 1 -29 1 33 1 -18 1 25 1 -18 1 8 1 -8 1 19 1 -24 1 37 1 -50 1 17 1 -29 1 36 1 -18 1 22 1 -31 1 30 1 -60 1 66 1 -59 1 42 1 -37 1 38 1 -23 1 14 1 -24 1 37 1 -42 1 37 1 -21 1 7 1 -34 1 54 1 -46 1 31 1 -21 1 36 1 -22 1 22 1 -14 1 34 1 -28 1 10 1 -12 1 6 1 -46 1 48 1 -6 1 8 1 -5 1 21 1 -51 1 42 1 -44 1 46 1 -27 1 29 1 -50 1 46 1 -8 1 7 1 -27 1 50 1 -45 1 41 1 -33 1 18 1 -12 1 29 1 -30 1 36 1 -50 1 46 1 -17 1 18 1 -43 1 46 1 -22 1 31 1 -36 1 9 1 -16 1 14 1 -28 1 29 1 -84 1 107 1 -49 1 5 1 -8 1 18 1 -40 1 36 1 -15 1 35 1 -60 1 38 1 -26 1 19 1 -12 1 6 1 -19 1 26 1 -40 1 70 1 -71 1 61 1 -80 1 72 1 -33 1 22 1 -22 1 14 1 -17 1 48 1 -33 1 18 1 -38 1 44 1 -20 1 20 1 -22 1 4 1 -10 1 6 1 -33 1 42 1 -38 1 41 1 -36 1 44 1 -19 1 18 1 -12 1 18 1 -15 1 -1 1 -31 1 45 1 -25 1 9 1 -8 1 13 1 -28 1 47 1 -28 1 10 1 -12 1 4 1 3 1 23 1 -31 1 32 1 -19 1 16 1 -19 1 7 1 -4 1 8 1 -31 1 33 1 -29 1 47 1 -44 1 28 1 -17 1 24 1 -19 1 17 1 -35 1 41 1 -38 1 31 1 -17 1 11 1 -25 1 46 1 -36 1 32 1 -17 1 9 1 -49 1 78 1 -36 1 15 1 -20 1 23 1 -41 1 25 1 -27 1 46 1 -64 1 52 1 -32 1 13 1 -3 1 34 1 -39 1 19 1 -28 1 25 1 -18 1 19 1 -22 1 16 1 -18 1 16 1 -7 1 40 1 -39 1 18 1 -33 1 45 1 -30 1 48 1 -50 1 16 1 -65 1 79 1 -32 1 22 1 -45 1 47 1 -18 1 20 1 -18 1 33 1 -34 1 40 1 -33 1 42 1 -34 1 14 1 -26 1 46 1 -31 1 12 1 -16 1 40 1 -76 1 68 1 -34 1 35 1 -32 1 4 1 -11 1 18 1 -20 1 9 1 -18 1 30 1 -45 1 31 1 -38 1 23 1 -21 1 16 1 -4 1 13 1 -10 1 36 1 -39 1 29 1 -21 1 5 1 -19 1 24 1 -34 1 20 1 -10 1 9 1 -14 1 37 1 -54 1 34 1 -11 1 24 1 -47 1 37 1 -32 1 32 1 -15 1 5 1 -28 1 39 1 -27 1 27 1 -25 1 10 1 -8 1 39 1 -36 1 16 1 -29 1 24 1 -23 1 45 1 -42 1 26 1 -20 1 51 1 -64 1 55 1 -55 1 22 1 -9 1 14 1 -18 1 26 1 -42 1 40 1 -39 1 44 1 -31 1 12 1 -7 1 2 1 -26 1 50 1 -48 1 31 1 -4 1 8 1 -12 1 39 1 -69 1 49 1 -23 1 15 1 -17 1 20 1 -19 1 16 1 -47 1 45 1 -26 1 22 1 -19 1 11 1 -19 1 14 1 -13 1 23 1 -11 1 6 1 -19 1 29 1 -44 1 80 1 -71" fill="none" stroke="#00ee00" stroke-width="1.0" stroke-linejoin="round" opacity="1.0"/>
<path transform="matrix(0.5 0 0 0.1 0 0)" vector-effect="non-scaling-stroke" d="M1336.71 2152l1 37 1 -23 1 15 1 -262 1 49 1 202 1 31 1 -41 1 47 1 -50 1 61 1 -47 1 45 1 -43 1 18 1 -41 1 51 1 -52 1 45 1 -14 1 9 1 -29 1 34 1 -17 1 26 1 -33 1 29 1 -47 1 36 1 -13 1 24 1 -36 1 36 1 -31 1 29 1 -40 1 35 1 -22 1 14 1 -19 1 36 1 -38 1 37 1 -31 1 9 1 -6 1 12 1 -15 1 58 1 -53 1 18 1 -28 1 31 1 -34 1 34 1 -41 1 20 1 -37 1 40 1 -11 1 8 1 -8 1 23 1 -44 1 41 1 -18 1 17 1 -31 1 49 1 -23 1 45 1 -44 1 8 1 -29 1 29 1 -12 1 21 1 -43 1 36 1 -45 1 72 1 -46 1 19 1 -38 1 61 1 -61 1 32 1 -49 1 56 1 -35 1 47 1 -28 1 3 1 -11 1 31 1 -33 1 30 1 -31 1 13 1 -1 1 4 1 -4 1 5 1 -31 1 35 1 -32 1 42 1 -55 1 48 1 -10 1 21 1 -28 1 15 1 -21 1 15 1 -15 1 30 1 -56 1 33 1 -45 1 77 1 -45 1 20 1 -10 1 8 1 -18 1 54 1 -53 1 30 1 -16 1 28 1 -24 1 5 1 -13 1 20 1 -8 1 24 1 -51 1 38 1 -52 1 58 1 -37 1 23 1 -32 1 51 1 -32 1 7 1 -6 1 7 1 -11 1 5 1 -21 1 28 1 -4 1 29 1 -36 1 19 1 -39 1 38 1 -12 1 23 1 -18 1 31 1 -47 1 33 1 -26 1 29 1 -39 1 20 1 -41 1 44 1 -15 1 11 1 -16 1 22 1 -59 1 65 1 -36 1 27 1 -44 1 64 1 -46 1 24 1 -29 1 36 1 -31 1 23 1 -6 1 12 1 -6 1 7 1 -14 1 35 1 -40 1 22 1 -26 1 30 1 -20 1 8 1 -14 1 24 1 -44 1 38 1 -13 1 26 1 -31 1 21 1 -21 1 10 1 -14 1 16 1 -33 1 42 1 -26 1 15 1 -22 1 21 1 -4 1 33 1 -82 1 72 1 -47 1 22 1 -9 1 28 1 -33 1 35 1 -30 1 11 1 -2 1 5 1 -11 1 27 1 -42 1 32 1 -1 1 13 1 -31 1 27 1 -28 1 13 1 -9 1 10 1 -21 1 21 1 -6 1 0 1 -12 1 23 1 -48 1 40 1 -8 1 36 1 -45 1 21 1 -18 1 29 1 -33 1 37 1 -29 1 30 1 -31 1 18 1 -6 1 1 1 -16 1 20 1 -31 1 60 1 -32 1 15 1 -32 1 23 1 -26 1 46 1 -39 1 21 1 -24 1 34 1 -24 1 44 1 -47 1 6 1 -5 1 46 1 -52 1 23 1 -44 1 44 1 -13 1 18 1 -34 1 32 1 -20 1 12 1 -21 1 15 1 -21 1 38 1 -42 1 38 1 -18 1 3 1 -3 1 16 1 -30 1 33 1 -15 1 26 1 -32 1 36 1 -59 1 34 1 -18 1 37 1 -42 1 30 1 -18 1 16 1 -33 1 41 1 -14 1 3 1 -12 1 27 1 -26 1 21 1 -28 1 19 1 -20 1 20 1 -13 1 20 1 -34 1 31 1 -30 1 41 1 -43 1 26 1 -41 1 41 1 -34 1 59 1 -31 1 35 1 -31 1 4 1 -7 1 4 1 -16 1 10 1 -4 1 16 1 -9 1 3 1 -9 1 17 1 -16 1 42 1 -50 1 18 1 -21 1 27 1 -24 1 53 1 -40 1 19 1 -16 1 5 1 -14 1 17 1 -26 1 40 1 -40 1 19 1 -2 1 18 1 -21 1 8 1 -15 1 15 1 -21 1 12 1 -27 1 45 1 -23 1 28 1 -31 1 27 1 -28 1 20 1 -36 1 39 1 -16 1 8 1 -4 1 0 1 -21 1 22 1 -25 1 34 1 -16 1 8 1 -11 1 21 1 -28 1 19 1 -11 1 16 1 -17 1 33 1 -37 1 27 1 -22 1 23 1 -23 1 12 1 -6 1 25 1 -45 1 40 1 -32 1 26 1 -22 1 32 1 -31 1 10 1 -9 1 25 1 -27 1 16 1 -11 1 8 1 0 1 29 1 -48 1 38 1 -16 1 5 1 -7 1 11 1 -50 1 52 1 -17 1 27 1 -48 1 34 1 -41 1 27 1 -9 1 16 1 -12 1 19 1 -15 1 13 1 -39 1 36 1 -4 1 13 1 -40 1 44 1 -31 1 58 1 -91 1 48 1 -19 1 20 1 -12 1 18 1 -16 1 15 1 -23 1 19 1 -64 1 77 1 -25 1 15 1 -19 1 18 1 -19 1 13 1 -9 1 10 1 -3 1 23 1 -26 1 17 1 -28 1 26 1 -23 1 13 1 -1 1 2 1 -33 1 39 1 -37 1 38 1 -17 1 12 1 -22 1 43 1 -25 1 25 1 -42 1 30 1 -14 1 27 1 -59 1 39 1 -23 1 41 1 -53 1 34 1 -14 1 15 1 -22 1 17 1 -5 1 11 1 -9 1 4 1 -30 1 44 1 -14 1 7 1 -20 1 20 1 -15 1 21 1 -29 1 13 1 -7 1 16 1 -28 1 26 1 -25 1 15 1 -6 1 17 1 -19 1 26 1 -21 1 11 1 -8 1 53 1 -55 1 24 1 -25 1 33 1 -21 1 5 1 -18 1 30 1 -35 1 42 1 -53 1 27 1 0 1 14 1 -32 1 18 1 -5 1 31 1 -33 1 14 1 -8 1 25 1 -39 1 32 1 -17 1 41 1 -64 1 39 1 -31 1 15 1 -12 1 26 1 -24 1 8 1 -8 1 38 1 -56 1 38 1 -24 1 38 1 -39 1 13 1 -20 1 21 1 -25 1 22 1 -7 1 16 1 -42 1 36 1 -4 1 18 1 -34 1 40 1 -29 1 23 1 -56 1 50 1 -58 1 79 1 -58 1 37 1 -21 1 17 1 -17 1 39 1 -32 1 6 1 -9 1 20 1 -53 1 46 1 -12 1 16 1 -16 1 38 1 -35 1 26 1 -31 1 28 1 -27 1 6 1 -9 1 12 1 -2 1 5 1 -35 1 37 1 -14 1 23 1 -13 1 4 1 -24 1 41 1 -26 1 37 1 -27 1 12 1 -22 1 19 1 -9 1 50 1 -54 1 9 1 -12 1 28 1 -30 1 13 1 -26 1 38 1 -45 1 48 1 -32 1 32 1 -19 1 30 1 -25 1 14 1 -19 1 12 1 -7 1 14 1 -45 1 59 1 -38 1 22 1 -44 1 40 1 -18 1 14 1 -7 1 19 1 -15 1 36 1 -39 1 21 1 -18 1 16 1 -24 1 34 1 -32 1 39 1 -32 1 17 1 -28 1 53 1 -38 1 53 1 -67 1 55 1 -45 1 41 1 -40 1 14 1 -24 1 24 1 -27 1 18 1 -20 1 26 1 -9 1 8 1 -2 1 26 1 -26 1 14 1 -15 1 17 1 -34 1 40 1 -34 1 39 1 -40 1 27 1 -23 1 47 1 -34 1 21 1 -29 1 57 1 -63 1 27 1 -17 1 21 1 -39 1 36 1 -16 1 30 1 -16 1 9 1 -56 1 46 1 -9 1 38 1 -45 1 12 1 -23 1 45 1 -35 1 29 1 -46 1 36 1 -20 1 20 1 -35 1 22 1 -16 1 25 1 -12 1 22 1 -67 1 63 1 -19 1 19 1 -16 1 104 1 -104 1 21 1 -26 1 22 1 -22 1 53 1 -58 1 35 1 -42 1 29 1 -42 1 74 1 -50 1 38 1 -29 1 15 1 -17 1 31 1 -38 1 31 1 -29 1 15 1 -21 1 22 1 -36 1 33 1 -35 1 33 1 -24 1 26 1 -13 1 7 1 -8 1 17 1 -24 1 15 1 -11 1 25 1 -22 1 13 1 -29 1 30 1 -31 1 27 1 -21 1 32 1 -34 1 15 1 -23 1 31 1 -27 1 8 1 -11 1 17 1 -30 1 27 1 -49 1 46 1 -8 1 4 1 -7 1 16 1 -31 1 29 1 -15 1 9 1 -11 1 14 1 -11 1 38 1 -42 1 18 1 -13 1 5 1 -31 1 47 1 -21 1 2 1 -9 1 16 1 -14 1 8 1 -11 1 27 1 -21 1 22 1 -34 1 23 1 -16 1 25 1 -22 1 18 1 -20 1 14 1 -27 1 37 1 -20 1 8 1 -10 1 34 1 -36 1 18 1 -11 1 4 1 -62 1 61 1 -1 1 13 1 -21 1 20 1 -12 1 12 1 -17 1 18 1 -28 1 30 1 -20 1 19 1 -23 1 28 1 -30 1 21 1 -23 1 22 1 -10 1 7 1 -4 1 10 1 -16 1 8 1 -2 1 3 1 -14 1 17 1 -7 1 10 1 -35 1 28 1 -6 1 10 1 -17 1 25 1 -14 1 20 1 -25 1 12 1 -8" fill="none" stroke="#ff0000" stroke-width="1.0" stroke-linejoin="round" opacity="1.0"/>
<path d="M744.3 262.6V336.6" stroke="#009900" stroke-width="1.2" stroke-dasharray="6 3.5" opacity="1"/>
<path d="M788.7 262.6V336.6" stroke="#ff3030" stroke-width="1.6" stroke-dasharray="6 3.5" opacity="0.9"/>
<path d="M877.8 262.6V336.6" stroke="#ff3030" stroke-width="1.6" stroke-dasharray="6 3.5" opacity="0.9"/>
<path d="M905.2 262.6V336.6" stroke="#0000ee" stroke-width="1.2" stroke-dasharray="1.5 1.5" opacity="1"/>
<path d="M919.9 262.6V336.6" stroke="#ff00ff" stroke-width="1.2" stroke-dasharray="1.5 1.5" opacity="1"/>
<path d="M922.3 262.6V336.6" stroke="#009900" stroke-width="1.2" stroke-dasharray="6 3.5" opacity="1"/>
<path d="M1068.7 262.6V336.6" stroke="#ff00ff" stroke-width="1.2" stroke-dasharray="1.5 1.5" opacity="1"/>
<path transform="matrix(0.5 0 0 0.1 0 0)" vector-effect="non-scaling-stroke" d="M1336.71 2833l1 45 1 -51 1 39 1 -58 1 30 1 -54 1 63 1 -49 1 27 1 -41 1 49 1 -60 1 54 1 -63 1 27 1 -40 1 16 1 -43 1 74 1 -35 1 45 1 -45 1 35 1 -12 1 42 1 -57 1 67 1 -22 1 29 1 -42 1 21 1 -62 1 11 1 -40 1 32 1 -65 1 17 1 -53 1 30 1 -47 1 31 1 -21 1 29 1 -28 1 42 1 -12 1 20 1 -3 1 29 1 -20 1 19 1 -48 1 57 1 -59 1 51 1 -33 1 52 1 -26 1 13 1 -26 1 40 1 -34 1 78 1 -9 1 41 1 -21 1 59 1 -5 1 27 1 -12 1 33 1 -31 1 23 1 -9 1 16 1 -11 1 20 1 -37 1 39 1 -24 1 29 1 -12 1 31 1 -23 1 22 1 -14 1 34 1 -38 1 16 1 -15 1 25 1 -42 1 46 1 -20 1 16 1 -14 1 20 1 -26 1 40 1 -25 1 29 1 -38 1 21 1 -19 1 32 1 -20 1 22 1 -27 1 30 1 -40 1 27 1 -13 1 16 1 -40 1 37 1 -25 1 23 1 -25 1 20 1 -26 1 16 1 -17 1 15 1 -23 1 19 1 -18 1 38 1 -20 1 19 1 -19 1 22 1 -13 1 27 1 -36 1 37 1 -32 1 33 1 -34 1 23 1 -15 1 23 1 -11 1 14 1 -16 1 25 1 -7 1 24 1 -41 1 33 1 -7 1 9 1 -28 1 50 1 -48 1 49 1 -20 1 25 1 -28 1 46 1 -31 1 52 1 -36 1 20 1 -15 1 28 1 -41 1 8 1 -48 1 35 1 -51 1 29 1 -12 1 3 1 -20 1 5 1 -44 1 31 1 -23 1 24 1 -41 1 50 1 -38 1 19 1 -17 1 22 1 -12 1 28 1 -35 1 53 1 -39 1 19 1 -44 1 39 1 -26 1 25 1 -19 1 42 1 -48 1 33 1 -13 1 16 1 -22 1 24 1 -21 1 31 1 -36 1 39 1 -26 1 23 1 -11 1 27 1 -47 1 40 1 -21 1 13 1 -9 1 18 1 -32 1 35 1 -52 1 53 1 -30 1 9 1 -35 1 48 1 -21 1 24 1 -20 1 12 1 -12 1 27 1 -26 1 37 1 -40 1 24 1 -15 1 14 1 -17 1 33 1 -26 1 15 1 -12 1 32 1 -38 1 34 1 -29 1 17 1 -43 1 57 1 -40 1 53 1 -46 1 19 1 -16 1 29 1 -35 1 28 1 -45 1 76 1 -53 1 16 1 -11 1 11 1 -12 1 22 1 -28 1 16 1 -16 1 14 1 -20 1 20 1 -9 1 20 1 -26 1 52 1 -43 1 15 1 -14 1 53 1 -55 1 15 1 -38 1 28 1 -32 1 20 1 -24 1 13 1 -46 1 60 1 -48 1 26 1 -35 1 24 1 -33 1 15 1 -27 1 29 1 -37 1 71 1 -89 1 37 1 -51 1 33 1 -29 1 21 1 -40 1 31 1 -16 1 39 1 -47 1 45 1 -36 1 16 1 -15 1 10 1 -33 1 32 1 -14 1 18 1 -13 1 23 1 -32 1 27 1 -20 1 14 1 -30 1 39 1 -36 1 68 1 -46 1 33 1 -48 1 50 1 -30 1 20 1 -36 1 53 1 -43 1 33 1 -30 1 22 1 -44 1 43 1 -31 1 32 1 -34 1 42 1 -17 1 26 1 -24 1 27 1 -41 1 32 1 -8 1 19 1 -15 1 15 1 -21 1 20 1 -41 1 50 1 -26 1 49 1 -53 1 46 1 -47 1 37 1 -37 1 22 1 -20 1 15 1 -15 1 23 1 -52 1 37 1 -16 1 24 1 -33 1 46 1 -59 1 49 1 -32 1 36 1 -31 1 45 1 -22 1 43 1 -38 1 13 1 -40 1 54 1 -19 1 30 1 -20 1 36 1 -33 1 29 1 -20 1 31 1 -27 1 42 1 -19 1 60 1 -33 1 58 1 -38 1 51 1 -17 1 38 1 -35 1 43 1 -16 1 61 1 -50 1 45 1 -12 1 49 1 -54 1 40 1 -68 1 26 1 -47 1 39 1 -42 1 8 1 -34 1 31 1 -46 1 14 1 -38 1 20 1 -24 1 9 1 -26 1 0 1 -39 1 12 1 -47 1 -3 1 -71 1 48 1 -62 1 25 1 -19 1 33 1 -11 1 65 1 -61 1 41 1 -47 1 29 1 -37 1 78 1 -75 1 40 1 -34 1 43 1 -48 1 10 1 -31 1 35 1 -35 1 28 1 -38 1 51 1 -49 1 41 1 -40 1 24 1 -17 1 39 1 -69 1 35 1 -26 1 9 1 -40 1 42 1 -55 1 42 1 -56 1 70 1 -27 1 30 1 -31 1 57 1 -43 1 30 1 -48 1 58 1 -25 1 29 1 -24 1 31 1 -24 1 44 1 -20 1 37 1 -20 1 51 1 -50 1 26 1 -37 1 45 1 -11 1 33 1 -37 1 48 1 -31 1 55 1 -45 1 30 1 -10 1 22 1 -16 1 38 1 -50 1 45 1 -14 1 45 1 -31 1 42 1 -45 1 19 1 -26 1 25 1 -30 1 34 1 -64 1 57 1 -25 1 15 1 -17 1 11 1 -12 1 16 1 -26 1 13 1 -45 1 48 1 -17 1 23 1 -33 1 14 1 -28 1 54 1 -46 1 29 1 -31 1 10 1 -26 1 59 1 -26 1 71 1 -41 1 59 1 -31 1 51 1 -25 1 40 1 -10 1 41 1 -49 1 64 1 -5 1 45 1 -61 1 52 1 -9 1 26 1 -19 1 54 1 -27 1 13 1 -18 1 43 1 -28 1 -6 1 -59 1 31 1 -76 1 8 1 -66 1 0 1 -41 1 2 1 -57 1 15 1 -30 1 20 1 -18 1 42 1 -49 1 48 1 -40 1 31 1 -27 1 23 1 -21 1 42 1 -42 1 45 1 -48 1 30 1 -11 1 17 1 -17 1 41 1 -28 1 11 1 -23 1 48 1 -57 1 52 1 -42 1 40 1 -62 1 61 1 -30 1 23 1 -14 1 15 1 -19 1 27 1 -21 1 15 1 -25 1 26 1 -16 1 12 1 -22 1 21 1 -11 1 33 1 -38 1 21 1 -52 1 33 1 -35 1 35 1 -55 1 51 1 -26 1 12 1 -10 1 20 1 -46 1 48 1 -46 1 35 1 -30 1 8 1 -24 1 19 1 -26 1 40 1 -29 1 33 1 -27 1 65 1 1 1 39 1 -8 1 72 1 -33 1 52 1 -29 1 49 1 -25 1 50 1 -29 1 43 1 -16 1 15 1 -13 1 40 1 -24 1 33 1 -22 1 26 1 -28 1 56 1 -25 1 43 1 -20 1 22 1 -9 1 5 1 -25 1 35 1 -33 1 8 1 -11 1 27 1 -46 1 45 1 -38 1 5 1 -27 1 33 1 -30 1 28 1 -53 1 44 1 -44 1 36 1 -82 1 23 1 -43 1 10 1 -82 1 83 1 -75 1 12 1 -35 1 8 1 -47 1 44 1 -31 1 16 1 -39 1 30 1 -23 1 43 1 -41 1 26 1 -28 1 28 1 -34 1 17 1 -33 1 34 1 -31 1 12 1 -17 1 34 1 -77 1 55 1 -22 1 6 1 -12 1 11 1 -22 1 34 1 -44 1 69 1 -64 1 59 1 -48 1 64 1 -70 1 45 1 -24 1 22 1 -14 1 54 1 -43 1 30 1 -39 1 32 1 -28 1 41 1 -39 1 33 1 -38 1 31 1 -30 1 39 1 -57 1 44 1 -23 1 46 1 -75 1 52 1 -24 1 40 1 -56 1 21 1 -40 1 28 1 -23 1 4 1 -20 1 11 1 -43 1 31 1 -26 1 9 1 -27 1 17 1 -36 1 58 1 -65 1 13 1 -36 1 30 1 -27 1 23 1 -38 1 34 1 -64 1 89 1 -50 1 66 1 -44 1 29 1 -6 1 22 1 -11 1 41 1 -16 1 39 1 -23 1 39 1 -26 1 30 1 -19 1 25 1 -25 1 22 1 -29 1 50 1 -29 1 32 1 -28 1 15 1 -44 1 52 1 -11 1 33 1 -47 1 25 1 -16 1 16 1 -7 1 21 1 -27 1 36 1 -1 1 39 1 3 1 38 1 1 1 33 1 -19 1 73 1 -22 1 60 1 -13 1 26 1 -31 1 56 1 -22 1 24 1 -16 1 9 1 -11 1 17 1 -13 1 25 1 -30 1 23 1 -17 1 15 1 -8 1 21 1 -37 1 27 1 -21 1 41 1 -29 1 29 1 -25 1 30 1 -20 1 27 1 -23 1 9 1 -16 1 26 1 -10 1 14 1 -13 1 34 1 -32 1 17 1 -7 1 12 1 -7 1 34 1 -37 1 26 1 -17 1 25 1 -20 1 9 1 -4 1 12 1 -24 1 28 1 -13 1 21 1 -32 1 27 1 -14 1 28 1 -15 1 10 1 -32" fill="none" stroke="#ff0000" stroke-width="1.0" stroke-linejoin="round" opacity="1.0"/>
<path transform="matrix(0.5 0 0 0.1 0 0)" vector-effect="non-scaling-stroke" d="M1336.71 3055l1 84 1 -70 1 64 1 -63 1 38 1 -89 1 59 1 -57 1 39 1 -35 1 48 1 -105 1 83 1 -83 1 47 1 -44 1 6 1 -40 1 56 1 -60 1 77 1 -34 1 26 1 -30 1 67 1 -75 1 69 1 -18 1 51 1 -79 1 5 1 -48 1 12 1 -49 1 15 1 -39 1 2 1 -55 1 40 1 -40 1 41 1 -17 1 69 1 -53 1 44 1 -19 1 36 1 -37 1 72 1 -30 1 60 1 -74 1 44 1 -41 1 26 1 -35 1 18 1 -31 1 22 1 -36 1 23 1 -23 1 58 1 -27 1 90 1 -13 1 50 1 -22 1 49 1 -23 1 19 1 -12 1 18 1 -21 1 29 1 -9 1 18 1 -18 1 22 1 -20 1 39 1 -42 1 22 1 -18 1 34 1 -18 1 15 1 -12 1 21 1 -21 1 23 1 -30 1 38 1 -20 1 38 1 -35 1 16 1 -29 1 30 1 -20 1 12 1 -20 1 26 1 -24 1 30 1 -29 1 40 1 -28 1 25 1 -20 1 22 1 -19 1 23 1 -26 1 28 1 -32 1 24 1 -29 1 42 1 -33 1 29 1 -30 1 21 1 -20 1 24 1 -16 1 34 1 -43 1 36 1 -37 1 36 1 -34 1 33 1 -34 1 43 1 -25 1 26 1 -33 1 41 1 -39 1 54 1 -43 1 28 1 -34 1 22 1 -19 1 32 1 -41 1 40 1 -35 1 34 1 -23 1 27 1 -41 1 24 1 -16 1 19 1 -28 1 35 1 -21 1 11 1 -29 1 30 1 -19 1 11 1 -18 1 14 1 -29 1 44 1 -31 1 23 1 -39 1 22 1 -23 1 24 1 -27 1 8 1 -43 1 34 1 -31 1 37 1 -35 1 35 1 -17 1 30 1 -37 1 49 1 -39 1 28 1 -37 1 25 1 -13 1 20 1 -16 1 12 1 -14 1 36 1 -48 1 34 1 -41 1 33 1 -13 1 22 1 -31 1 22 1 -18 1 21 1 -19 1 31 1 -32 1 36 1 -33 1 41 1 -29 1 14 1 -20 1 19 1 -17 1 39 1 -44 1 47 1 -50 1 28 1 -25 1 18 1 -29 1 17 1 -9 1 30 1 -31 1 21 1 -28 1 28 1 -18 1 21 1 -23 1 12 1 -11 1 31 1 -47 1 33 1 -17 1 15 1 -31 1 48 1 -28 1 29 1 -26 1 14 1 -13 1 47 1 -57 1 33 1 -47 1 40 1 -37 1 33 1 -24 1 30 1 -17 1 17 1 -31 1 38 1 -35 1 43 1 -25 1 35 1 -36 1 34 1 -23 1 23 1 -22 1 21 1 -14 1 24 1 -26 1 11 1 -28 1 30 1 -25 1 44 1 -71 1 63 1 -45 1 38 1 -32 1 20 1 -26 1 34 1 -20 1 21 1 -28 1 15 1 -31 1 27 1 -21 1 40 1 -48 1 30 1 -36 1 32 1 -42 1 31 1 -21 1 28 1 -38 1 17 1 -35 1 33 1 -26 1 45 1 -66 1 48 1 -33 1 29 1 -44 1 40 1 -39 1 14 1 -23 1 16 1 -15 1 21 1 -41 1 49 1 -38 1 45 1 -72 1 57 1 -86 1 50 1 -33 1 26 1 -36 1 23 1 -48 1 45 1 -41 1 20 1 -42 1 26 1 -29 1 17 1 -17 1 33 1 -32 1 42 1 -57 1 60 1 -27 1 20 1 -32 1 29 1 -27 1 24 1 -28 1 31 1 -26 1 28 1 -20 1 29 1 -38 1 29 1 -22 1 48 1 -47 1 32 1 -26 1 48 1 -27 1 21 1 -39 1 44 1 -15 1 39 1 -49 1 35 1 -43 1 45 1 -20 1 25 1 -24 1 25 1 -18 1 24 1 -24 1 44 1 -25 1 42 1 -24 1 33 1 -39 1 61 1 -37 1 61 1 -54 1 27 1 -13 1 19 1 -9 1 21 1 -11 1 33 1 -25 1 38 1 -19 1 46 1 -47 1 47 1 -22 1 32 1 -15 1 40 1 -35 1 43 1 -21 1 23 1 -44 1 38 1 -71 1 45 1 -39 1 9 1 -39 1 25 1 -28 1 17 1 -35 1 10 1 -21 1 39 1 -69 1 26 1 -41 1 44 1 -70 1 21 1 -47 1 24 1 -47 1 26 1 -27 1 3 1 -38 1 26 1 -46 1 61 1 -28 1 23 1 -39 1 50 1 -36 1 29 1 -35 1 47 1 -30 1 60 1 -57 1 49 1 -33 1 49 1 -28 1 31 1 -28 1 33 1 -29 1 18 1 -30 1 16 1 -36 1 33 1 -43 1 33 1 -40 1 38 1 -61 1 33 1 -36 1 21 1 -21 1 15 1 -18 1 27 1 -21 1 47 1 -70 1 61 1 -30 1 43 1 -40 1 64 1 -57 1 52 1 -27 1 36 1 -36 1 52 1 -38 1 31 1 -13 1 34 1 -40 1 31 1 -21 1 32 1 -19 1 38 1 -27 1 25 1 -13 1 32 1 -38 1 45 1 -20 1 17 1 -35 1 58 1 -41 1 33 1 -9 1 34 1 -50 1 31 1 -32 1 25 1 -59 1 28 1 -46 1 29 1 -34 1 36 1 -44 1 16 1 -32 1 25 1 -30 1 8 1 -26 1 25 1 -37 1 33 1 -61 1 27 1 -44 1 27 1 -28 1 22 1 -67 1 59 1 -33 1 43 1 8 1 71 1 -7 1 58 1 -7 1 50 1 -16 1 39 1 -26 1 28 1 -19 1 44 1 -35 1 66 1 -32 1 25 1 -11 1 22 1 -8 1 46 1 -44 1 54 1 -38 1 41 1 -30 1 11 1 -88 1 25 1 -51 1 6 1 -71 1 23 1 -66 1 24 1 -79 1 8 1 -14 1 23 1 -16 1 35 1 -37 1 30 1 -15 1 20 1 -32 1 34 1 -12 1 29 1 -36 1 32 1 -15 1 23 1 -6 1 35 1 -34 1 41 1 -40 1 55 1 -51 1 37 1 -39 1 46 1 -34 1 32 1 -48 1 16 1 -40 1 31 1 -29 1 21 1 -26 1 38 1 -50 1 18 1 -25 1 26 1 -46 1 40 1 -53 1 64 1 -73 1 39 1 -42 1 37 1 -24 1 38 1 -32 1 9 1 -20 1 27 1 -49 1 41 1 -31 1 42 1 -49 1 18 1 -28 1 44 1 -41 1 22 1 -38 1 38 1 -24 1 19 1 -37 1 52 1 3 1 46 1 -7 1 51 1 -5 1 48 1 -12 1 55 1 -11 1 47 1 -13 1 64 1 -57 1 32 1 -25 1 38 1 -37 1 40 1 -20 1 39 1 -35 1 47 1 -30 1 34 1 -14 1 34 1 -37 1 41 1 -21 1 7 1 -21 1 18 1 -35 1 32 1 -48 1 39 1 -34 1 33 1 -37 1 26 1 -17 1 28 1 -35 1 37 1 -34 1 18 1 -52 1 21 1 -38 1 5 1 -36 1 9 1 -35 1 22 1 -65 1 34 1 -67 1 38 1 -50 1 53 1 -38 1 31 1 -16 1 21 1 -31 1 43 1 -31 1 18 1 -17 1 47 1 -65 1 44 1 -37 1 41 1 -30 1 23 1 -33 1 34 1 -29 1 33 1 -29 1 19 1 -25 1 26 1 -28 1 24 1 -14 1 13 1 -14 1 31 1 -29 1 16 1 -13 1 33 1 -34 1 18 1 -18 1 23 1 -20 1 22 1 -26 1 40 1 -56 1 38 1 -28 1 36 1 -36 1 26 1 -13 1 13 1 -23 1 20 1 -22 1 33 1 -23 1 20 1 -25 1 38 1 -40 1 29 1 -30 1 35 1 -55 1 24 1 -27 1 19 1 -43 1 26 1 -30 1 28 1 -40 1 28 1 -42 1 25 1 -40 1 35 1 -47 1 22 1 -35 1 22 1 -59 1 61 1 -51 1 50 1 -16 1 28 1 -35 1 44 1 -41 1 35 1 -18 1 25 1 -38 1 48 1 -14 1 31 1 -14 1 28 1 -34 1 32 1 -23 1 43 1 -32 1 30 1 -23 1 35 1 -36 1 24 1 -36 1 51 1 -36 1 59 1 -40 1 27 1 -30 1 36 1 -25 1 46 1 -35 1 54 1 -24 1 40 1 -6 1 39 1 -8 1 32 1 -7 1 51 1 -18 1 48 1 -32 1 46 1 -16 1 28 1 -26 1 16 1 -16 1 16 1 -7 1 19 1 -12 1 12 1 -16 1 27 1 -25 1 21 1 -17 1 18 1 -18 1 25 1 -22 1 14 1 -21 1 30 1 -19 1 19 1 -24 1 11 1 -5 1 13 1 -14 1 11 1 -16 1 18 1 -13 1 9 1 -20 1 17 1 -13 1 23 1 -14 1 16 1 -17 1 15 1 -9 1 15 1 -30 1 18 1 -13 1 12 1 -16 1 16 1 -25 1 24 1 -15 1 16 1 -14 1 12 1 -10 1 26 1 -26" fill="none" stroke="#000000" stroke-width="1.0" stroke-linejoin="round" opacity="1.0"/>
<path d="M744.3 336.6V410.7" stroke="#009900" stroke-width="1.2" stroke-dasharray="6 3.5" opacity="1"/>
<path d="M788.7 336.6V410.7" stroke="#ff3030" stroke-width="1.6" stroke-dasharray="6 3.5" opacity="0.9"/>
<path d="M877.8 336.6V410.7" stroke="#ff3030" stroke-width="1.6" stroke-dasharray="6 3.5" opacity="0.9"/>
<path d="M905.2 336.6V410.7" stroke="#0000ee" stroke-width="1.2" stroke-dasharray="1.5 1.5" opacity="1"/>
<path d="M919.9 336.6V410.7" stroke="#ff00ff" stroke-width="1.2" stroke-dasharray="1.5 1.5" opacity="1"/>
<path d="M922.3 336.6V410.7" stroke="#009900" stroke-width="1.2" stroke-dasharray="6 3.5" opacity="1"/>
<path d="M1068.7 336.6V410.7" stroke="#ff00ff" stroke-width="1.2" stroke-dasharray="1.5 1.5" opacity="1"/>
<path d="M668.4 382.3H1122.5" stroke="#000" stroke-width="1.2" stroke-dasharray="5.5 3"/>
<path transform="matrix(0.5 0 0 0.1 0 0)" vector-effect="non-scaling-stroke" d="M1336.71 3869l1 17 1 -42 1 37 1 -24 1 16 1 -8 1 8 1 -19 1 23 1 -25 1 26 1 -15 1 28 1 -51 1 31 1 -32 1 55 1 -46 1 14 1 -18 1 15 1 -13 1 34 1 -23 1 5 1 -16 1 16 1 -20 1 26 1 -40 1 37 1 -29 1 25 1 -41 1 42 1 -12 1 26 1 -34 1 51 1 -123 1 94 1 -17 1 40 1 -51 1 61 1 -75 1 62 1 -36 1 9 1 -40 1 49 1 -35 1 40 1 -51 1 44 1 -20 1 29 1 -35 1 50 1 -25 1 21 1 -47 1 40 1 -32 1 26 1 -7 1 9 1 -18 1 32 1 -42 1 36 1 -23 1 33 1 -60 1 42 1 -34 1 50 1 -38 1 9 1 -8 1 5 1 -20 1 25 1 -38 1 42 1 -13 1 13 1 -28 1 32 1 -66 1 68 1 -30 1 24 1 -39 1 108 1 -92 1 25 1 -23 1 32 1 -30 1 35 1 -22 1 20 1 -40 1 26 1 -12 1 35 1 -41 1 25 1 -39 1 46 1 -31 1 45 1 -44 1 23 1 -42 1 32 1 -18 1 23 1 -22 1 37 1 -57 1 49 1 -60 1 257 1 -213 1 17 1 -54 1 90 1 -93 1 63 1 -47 1 46 1 -38 1 23 1 -25 1 21 1 -19 1 47 1 -83 1 57 1 -29 1 22 1 -7 1 27 1 -35 1 16 1 -36 1 37 1 -21 1 33 1 -36 1 34 1 -25 1 20 1 -30 1 30 1 -38 1 39 1 -18 1 35 1 -42 1 30 1 -59 1 60 1 -31 1 48 1 -53 1 32 1 -25 1 41 1 -35 1 13 1 -79 1 94 1 -53 1 48 1 -36 1 24 1 -38 1 29 1 -16 1 21 1 -21 1 57 1 -58 1 26 1 -34 1 -58 1 67 1 27 1 -28 1 19 1 -42 1 54 1 -28 1 67 1 -59 1 12 1 -48 1 88 1 -53 1 40 1 -37 1 31 1 -59 1 43 1 -26 1 28 1 -33 1 45 1 -19 1 1 1 -8 1 41 1 -47 1 35 1 -35 1 14 1 -11 1 57 1 -60 1 18 1 -37 1 43 1 -31 1 29 1 -38 1 25 1 -10 1 33 1 -36 1 34 1 -46 1 47 1 -45 1 11 1 -36 1 44 1 -11 1 29 1 -29 1 73 1 -77 1 20 1 -16 1 13 1 -27 1 35 1 -20 1 43 1 -42 1 19 1 -23 1 13 1 -16 1 27 1 -36 1 30 1 -35 1 33 1 -14 1 8 1 -16 1 30 1 -18 1 14 1 -9 1 29 1 -29 1 25 1 -37 1 22 1 -14 1 10 1 -16 1 28 1 -26 1 28 1 -26 1 20 1 -23 1 42 1 -29 1 40 1 -49 1 15 1 -12 1 17 1 -25 1 24 1 -24 1 19 1 -42 1 57 1 -35 1 13 1 -9 1 15 1 -18 1 50 1 -45 1 44 1 -37 1 4 1 -25 1 17 1 -8 1 11 1 -9 1 22 1 -48 1 51 1 -28 1 40 1 -49 1 36 1 -20 1 18 1 -11 1 11 1 -11 1 15 1 -22 1 15 1 -6 1 8 1 -14 1 7 1 -7 1 38 1 -122 1 125 1 -48 1 53 1 -43 1 22 1 -26 1 17 1 -12 1 15 1 -23 1 56 1 -58 1 64 1 -62 1 47 1 -45 1 23 1 -49 1 66 1 -35 1 29 1 -15 1 3 1 -21 1 26 1 -14 1 8 1 -23 1 64 1 -66 1 37 1 -25 1 37 1 -49 1 32 1 -14 1 8 1 -22 1 33 1 -14 1 11 1 -29 1 39 1 -39 1 32 1 -49 1 38 1 -7 1 29 1 -39 1 52 1 -57 1 30 1 -5 1 10 1 -17 1 29 1 -43 1 47 1 -51 1 23 1 -23 1 24 1 -24 1 41 1 -26 1 15 1 -16 1 50 1 -40 1 15 1 -25 1 24 1 -23 1 20 1 -11 1 7 1 -36 1 26 1 -4 1 23 1 -48 1 41 1 -32 1 20 1 -17 1 33 1 -57 1 77 1 -76 1 46 1 -25 1 48 1 -33 1 27 1 -59 1 32 1 -31 1 41 1 -13 1 14 1 -29 1 23 1 -22 1 8 1 -37 1 64 1 -35 1 16 1 -35 1 36 1 0 1 4 1 -20 1 17 1 -31 1 26 1 -25 1 25 1 -26 1 33 1 -15 1 31 1 -37 1 20 1 -47 1 62 1 -35 1 24 1 -15 1 10 1 -24 1 27 1 -8 1 17 1 -24 1 18 1 -19 1 23 1 -16 1 17 1 -18 1 25 1 -36 1 37 1 -20 1 28 1 -31 1 16 1 -56 1 62 1 -29 1 50 1 -53 1 29 1 -7 1 5 1 -16 1 14 1 -31 1 68 1 -33 1 14 1 -15 1 28 1 -48 1 61 1 -60 1 60 1 -53 1 40 1 -31 1 58 1 -57 1 66 1 -67 1 38 1 -25 1 17 1 -33 1 42 1 -26 1 29 1 -59 1 83 1 -35 1 32 1 -57 1 53 1 -26 1 20 1 -8 1 7 1 -4 1 14 1 -18 1 5 1 -13 1 18 1 -14 1 16 1 -12 1 36 1 -52 1 43 1 -27 1 17 1 -25 1 23 1 -40 1 44 1 -24 1 4 1 -6 1 31 1 -48 1 27 1 -10 1 28 1 -33 1 34 1 -55 1 23 1 -16 1 29 1 -24 1 19 1 -56 1 71 1 -39 1 40 1 -42 1 38 1 -25 1 34 1 -43 1 32 1 -33 1 30 1 -53 1 53 1 -16 1 25 1 -15 1 5 1 -12 1 36 1 -79 1 78 1 -34 1 11 1 -18 1 36 1 -68 1 175 1 -141 1 31 1 -97 1 75 1 -31 1 51 1 -40 1 6 1 -43 1 37 1 -18 1 38 1 -27 1 37 1 -46 1 16 1 -49 1 90 1 -55 1 50 1 -44 1 26 1 -17 1 28 1 -83 1 70 1 -27 1 22 1 -37 1 34 1 -31 1 32 1 -31 1 39 1 -41 1 32 1 -21 1 18 1 -11 1 9 1 -8 1 8 1 -53 1 54 1 -22 1 14 1 -23 1 27 1 -31 1 45 1 -37 1 33 1 -29 1 37 1 -32 1 16 1 -36 1 28 1 -20 1 24 1 -32 1 33 1 -18 1 31 1 -29 1 20 1 -63 1 67 1 -76 1 61 1 -15 1 14 1 -14 1 21 1 -25 1 48 1 -63 1 27 1 -22 1 59 1 -42 1 14 1 -19 1 33 1 -49 1 39 1 -47 1 66 1 -41 1 17 1 -12 1 49 1 -53 1 32 1 -23 1 32 1 -22 1 44 1 -38 1 32 1 -33 1 40 1 -34 1 6 1 -7 1 33 1 -31 1 27 1 -28 1 40 1 -29 1 61 1 -49 1 19 1 -20 1 19 1 -39 1 40 1 -41 1 18 1 -12 1 18 1 -35 1 31 1 -16 1 20 1 -16 1 5 1 -8 1 11 1 -24 1 31 1 -27 1 20 1 -20 1 19 1 -17 1 10 1 -8 1 19 1 -17 1 41 1 -38 1 1 1 -18 1 33 1 -43 1 23 1 -45 1 51 1 -33 1 25 1 -27 1 44 1 -55 1 37 1 -49 1 40 1 -10 1 29 1 -31 1 18 1 -10 1 45 1 -50 1 14 1 -29 1 40 1 -29 1 44 1 -37 1 11 1 -23 1 30 1 -12 1 11 1 -9 1 2 1 -12 1 16 1 -24 1 27 1 -22 1 21 1 -46 1 50 1 -27 1 36 1 -43 1 53 1 -32 1 20 1 -32 1 18 1 -21 1 54 1 -57 1 15 1 -50 1 31 1 -74 1 71 1 -10 1 16 1 -54 1 63 1 -56 1 37 1 -16 1 18 1 -2 1 3 1 -17 1 43 1 -23 1 22 1 -21 1 22 1 -63 1 89 1 -37 1 20 1 -8 1 41 1 -39 1 19 1 -46 1 66 1 -40 1 35 1 -40 1 6 1 -23 1 32 1 -17 1 15 1 -27 1 6 1 -27 1 51 1 -49 1 3 1 -50 1 59 1 -29 1 31 1 -30 1 17 1 -30 1 35 1 -32 1 32 1 -31 1 25 1 -6 1 31 1 -40 1 24 1 -14 1 19 1 -36 1 40 1 -15 1 20 1 -25 1 18 1 -12 1 11 1 -13 1 13 1 -9 1 3 1 -2 1 14 1 -9 1 10 1 -10 1 8 1 -14 1 17 1 -7 1 2 1 -16 1 12 1 -10 1 11 1 -12 1 22 1 -25 1 15 1 -7 1 26 1 -23 1 22 1 -30 1 27 1 -36 1 36 1 -20 1 15 1 -13 1 7 1 -6 1 9 1 -19 1 13 1 -30 1 36 1 -22 1 11 1 -7 1 10 1 -17 1 16 1 -27 1 27 1 -11 1 19 1 -15 1 4 1 -17" fill="none" stroke="#0000ff" stroke-width="1.0" stroke-linejoin="round" opacity="1.0"/>
<path transform="matrix(0.5 0 0 0.1 0 0)" vector-effect="non-scaling-stroke" d="M1336.71 3754l1 56 1 -38 1 42 1 -29 1 24 1 -30 1 13 1 -5 1 4 1 -8 1 30 1 -32 1 14 1 -26 1 29 1 -18 1 13 1 -7 1 5 1 -18 1 32 1 -29 1 22 1 -12 1 26 1 -34 1 13 1 -36 1 68 1 -38 1 4 1 -2 1 12 1 -17 1 21 1 -66 1 67 1 -59 1 55 1 -21 1 25 1 -18 1 16 1 -36 1 32 1 -8 1 9 1 -17 1 14 1 -20 1 14 1 -17 1 15 1 -9 1 11 1 -29 1 20 1 -11 1 20 1 -15 1 20 1 -33 1 34 1 -17 1 32 1 -40 1 21 1 -30 1 28 1 -10 1 21 1 -20 1 38 1 -40 1 12 1 -18 1 26 1 -22 1 12 1 -15 1 34 1 -36 1 20 1 -22 1 32 1 -55 1 61 1 -47 1 27 1 -6 1 9 1 -26 1 43 1 -31 1 16 1 -16 1 35 1 -21 1 13 1 -15 1 8 1 -4 1 11 1 -12 1 6 1 -14 1 9 1 -11 1 6 1 -8 1 23 1 -21 1 45 1 -42 1 27 1 -24 1 19 1 -29 1 21 1 -29 1 29 1 -15 1 5 1 -8 1 6 1 -24 1 30 1 -14 1 26 1 -32 1 13 1 -20 1 24 1 -18 1 18 1 -5 1 6 1 -9 1 45 1 -42 1 12 1 -17 1 8 1 -12 1 26 1 -45 1 56 1 -75 1 60 1 -25 1 49 1 -55 1 35 1 -27 1 27 1 -36 1 34 1 -31 1 17 1 -13 1 12 1 -10 1 10 1 -18 1 39 1 -22 1 2 1 -102 1 101 1 -7 1 13 1 -18 1 11 1 -8 1 12 1 -20 1 19 1 -8 1 15 1 -26 1 15 1 -8 1 38 1 -47 1 33 1 -60 1 40 1 -10 1 8 1 -10 1 35 1 -82 1 67 1 -17 1 20 1 -32 1 26 1 -12 1 9 1 -16 1 16 1 -16 1 23 1 -12 1 10 1 -12 1 12 1 -18 1 29 1 -20 1 15 1 -26 1 28 1 -28 1 20 1 -18 1 43 1 -35 1 9 1 -8 1 11 1 -8 1 9 1 -9 1 1 1 -12 1 15 1 -9 1 7 1 -6 1 17 1 -44 1 39 1 -5 1 17 1 -24 1 14 1 -23 1 15 1 -29 1 39 1 -19 1 6 1 -4 1 23 1 -19 1 8 1 -2 1 3 1 -6 1 9 1 -28 1 27 1 -25 1 24 1 -8 1 9 1 -14 1 8 1 -13 1 21 1 -8 1 4 1 -12 1 12 1 -15 1 24 1 -37 1 47 1 -39 1 20 1 -8 1 14 1 -11 1 10 1 -6 1 8 1 -20 1 18 1 -24 1 24 1 -39 1 40 1 -11 1 20 1 -30 1 26 1 -12 1 25 1 -26 1 11 1 -12 1 27 1 -17 1 19 1 -19 1 2 1 0 1 4 1 -13 1 25 1 -19 1 19 1 -16 1 20 1 -28 1 23 1 -21 1 24 1 -26 1 21 1 -55 1 40 1 -5 1 12 1 -16 1 19 1 -24 1 27 1 -12 1 21 1 -8 1 11 1 -10 1 9 1 -20 1 18 1 -23 1 5 1 -26 1 30 1 -40 1 41 1 -17 1 16 1 -32 1 51 1 -32 1 29 1 -42 1 25 1 -29 1 20 1 -19 1 9 1 -21 1 12 1 -20 1 14 1 -15 1 24 1 -39 1 27 1 -52 1 60 1 -25 1 11 1 -21 1 12 1 -15 1 5 1 -26 1 38 1 -36 1 23 1 -14 1 26 1 -39 1 31 1 -20 1 26 1 -43 1 37 1 -13 1 16 1 -14 1 11 1 -8 1 15 1 -20 1 21 1 -37 1 20 1 -32 1 49 1 -36 1 32 1 -16 1 2 1 -26 1 29 1 -22 1 14 1 -19 1 17 1 -10 1 20 1 -30 1 36 1 -20 1 17 1 -20 1 10 1 -16 1 37 1 -39 1 21 1 -27 1 16 1 -25 1 20 1 -12 1 8 1 -13 1 16 1 -15 1 17 1 -17 1 9 1 -12 1 11 1 -8 1 11 1 -15 1 7 1 -10 1 30 1 -43 1 26 1 -14 1 25 1 -28 1 29 1 -31 1 30 1 -29 1 42 1 -39 1 13 1 -28 1 32 1 -3 1 14 1 -8 1 23 1 -17 1 9 1 -19 1 42 1 -22 1 22 1 -31 1 25 1 -12 1 13 1 -12 1 10 1 -12 1 23 1 -18 1 11 1 -19 1 18 1 -15 1 22 1 -35 1 20 1 -3 1 6 1 -28 1 34 1 -13 1 9 1 -15 1 11 1 -7 1 3 1 -28 1 30 1 -32 1 37 1 -13 1 5 1 -25 1 34 1 -22 1 37 1 -34 1 16 1 -19 1 24 1 -18 1 13 1 -14 1 7 1 -6 1 8 1 -18 1 35 1 -23 1 18 1 -21 1 4 1 -27 1 24 1 -6 1 13 1 -10 1 19 1 -25 1 14 1 -9 1 21 1 -43 1 21 1 -1 1 8 1 -12 1 18 1 -15 1 22 1 -43 1 27 1 -7 1 3 1 -5 1 5 1 -19 1 31 1 -15 1 3 1 -26 1 37 1 -25 1 30 1 -32 1 37 1 -30 1 19 1 -11 1 17 1 -9 1 23 1 -37 1 19 1 -12 1 21 1 -20 1 16 1 -9 1 16 1 -13 1 19 1 -22 1 31 1 -37 1 20 1 -15 1 70 1 -86 1 24 1 -10 1 21 1 -25 1 12 1 -24 1 33 1 -27 1 13 1 -10 1 23 1 -20 1 9 1 -34 1 45 1 -24 1 6 1 -7 1 17 1 -22 1 20 1 -26 1 16 1 -24 1 19 1 -15 1 10 1 -30 1 41 1 -27 1 18 1 -3 1 3 1 -6 1 12 1 -18 1 9 1 -5 1 3 1 -6 1 23 1 -25 1 7 1 -3 1 5 1 -18 1 28 1 -16 1 16 1 -15 1 24 1 -27 1 15 1 -23 1 35 1 -18 1 20 1 -47 1 35 1 -18 1 20 1 -25 1 28 1 -9 1 22 1 -14 1 10 1 -13 1 24 1 -32 1 16 1 -25 1 33 1 -19 1 30 1 -31 1 6 1 -5 1 4 1 -12 1 9 1 -3 1 14 1 -36 1 23 1 -17 1 16 1 -12 1 12 1 -13 1 20 1 -48 1 51 1 -19 1 7 1 -30 1 34 1 -12 1 7 1 -5 1 10 1 -24 1 17 1 -9 1 9 1 -12 1 15 1 -22 1 8 1 -1 1 16 1 -19 1 4 1 -2 1 9 1 -12 1 23 1 -17 1 5 1 -5 1 13 1 -18 1 18 1 -26 1 12 1 -24 1 22 1 -16 1 13 1 -6 1 15 1 -23 1 25 1 -23 1 17 1 -7 1 13 1 -27 1 18 1 -4 1 1 1 -13 1 17 1 -15 1 15 1 -37 1 28 1 -16 1 25 1 -15 1 12 1 -13 1 16 1 -17 1 22 1 -24 1 12 1 -2 1 10 1 -11 1 19 1 -15 1 9 1 -12 1 13 1 -15 1 15 1 -16 1 14 1 -10 1 8 1 -2 1 9 1 -22 1 16 1 -13 1 18 1 -10 1 27 1 -29 1 21 1 -6 1 11 1 -17 1 23 1 -8 1 13 1 -19 1 18 1 -29 1 23 1 -7 1 22 1 -39 1 28 1 -9 1 28 1 -41 1 23 1 -15 1 15 1 -27 1 29 1 -28 1 12 1 -3 1 9 1 -23 1 17 1 -6 1 11 1 -19 1 31 1 -42 1 21 1 -33 1 38 1 -30 1 22 1 -14 1 4 1 -16 1 33 1 -23 1 11 1 -6 1 11 1 -10 1 23 1 -18 1 12 1 -18 1 23 1 -10 1 7 1 -14 1 23 1 -3 1 16 1 -10 1 21 1 -25 1 27 1 -22 1 28 1 -24 1 2 1 -21 1 18 1 -24 1 24 1 -17 1 12 1 -12 1 7 1 -14 1 4 1 -7 1 18 1 -26 1 15 1 -14 1 6 1 -6 1 8 1 -13 1 0 1 -4 1 27 1 -38 1 14 1 -15 1 11 1 -14 1 28 1 -29 1 14 1 -1 1 14 1 -13 1 19 1 -22 1 30 1 -29 1 38 1 -30 1 7 1 -13 1 19 1 -9 1 16 1 -18 1 11 1 -6 1 12 1 -20 1 22 1 -24 1 32 1 -9 1 9 1 -10 1 14 1 -19 1 13 1 -4 1 17 1 -12 1 10 1 -5 1 8 1 -7 1 26 1 -34 1 26 1 -9 1 12 1 -21 1 24 1 -13 1 29 1 -36 1 22 1 -14 1 28 1 -35 1 28 1 -14 1 6 1 -3 1 19 1 -31 1 23 1 -7 1 24 1 -24 1 10 1 -12 1 28 1 -30 1 15 1 -26 1 12 1 -36 1 37 1 -22 1 10 1 -28" fill="none" stroke="#00ee00" stroke-width="1.0" stroke-linejoin="round" opacity="1.0"/>
<path transform="matrix(0.5 0 0 0.1 0 0)" vector-effect="non-scaling-stroke" d="M1336.71 3750l1 51 1 -49 1 44 1 -33 1 30 1 -55 1 45 1 -35 1 -182 1 118 1 57 1 -56 1 27 1 -44 1 69 1 -65 1 46 1 -24 1 45 1 -20 1 32 1 -57 1 85 1 -58 1 25 1 -10 1 23 1 -48 1 49 1 -51 1 45 1 -16 1 33 1 -13 1 8 1 -9 1 29 1 -24 1 5 1 -11 1 35 1 -50 1 28 1 -24 1 27 1 -46 1 41 1 -11 1 45 1 -33 1 32 1 -32 1 53 1 -52 1 18 1 -19 1 19 1 -38 1 22 1 -19 1 22 1 -39 1 97 1 -76 1 26 1 -30 1 60 1 -58 1 18 1 -17 1 38 1 -38 1 30 1 -31 1 42 1 -39 1 27 1 -24 1 21 1 -13 1 13 1 -64 1 56 1 -36 1 43 1 -52 1 85 1 -57 1 42 1 -41 1 18 1 -1 1 7 1 -4 1 27 1 -46 1 43 1 -64 1 82 1 -59 1 38 1 -36 1 20 1 -21 1 13 1 -18 1 44 1 -50 1 31 1 -21 1 16 1 -19 1 33 1 -10 1 16 1 -60 1 47 1 -34 1 32 1 -29 1 67 1 -51 1 97 1 -135 1 44 1 -12 1 20 1 -44 1 87 1 -68 1 31 1 -51 1 71 1 -51 1 16 1 -146 1 157 1 -17 1 34 1 -25 1 31 1 -73 1 72 1 -49 1 18 1 -58 1 71 1 -67 1 26 1 -22 1 20 1 -17 1 31 1 -25 1 10 1 -30 1 43 1 -32 1 37 1 -32 1 43 1 -22 1 17 1 -24 1 38 1 -29 1 17 1 -8 1 43 1 -37 1 17 1 -68 1 53 1 -52 1 40 1 -96 1 71 1 -75 1 94 1 -75 1 70 1 -87 1 65 1 -38 1 50 1 -24 1 18 1 -38 1 53 1 -32 1 31 1 -44 1 45 1 -30 1 20 1 -24 1 33 1 -38 1 85 1 -96 1 33 1 -34 1 35 1 -4 1 13 1 -38 1 40 1 -19 1 29 1 -26 1 24 1 -26 1 37 1 -33 1 13 1 -51 1 47 1 -42 1 66 1 -67 1 69 1 -56 1 48 1 -49 1 44 1 -33 1 30 1 -29 1 7 1 -25 1 47 1 -107 1 69 1 -24 1 56 1 -77 1 67 1 -30 1 15 1 -23 1 34 1 -44 1 40 1 -37 1 20 1 -32 1 42 1 -30 1 30 1 -33 1 60 1 -45 1 25 1 -16 1 25 1 -62 1 65 1 -27 1 37 1 -29 1 44 1 -73 1 49 1 -11 1 15 1 -27 1 59 1 -37 1 24 1 -51 1 86 1 -69 1 27 1 -6 1 34 1 -40 1 33 1 -37 1 30 1 -41 1 73 1 -33 1 8 1 0 1 20 1 -38 1 40 1 -31 1 32 1 -71 1 55 1 -24 1 62 1 -67 1 56 1 -72 1 88 1 -74 1 38 1 -41 1 55 1 -70 1 74 1 -36 1 24 1 -22 1 36 1 -19 1 10 1 -35 1 35 1 -1 1 14 1 -31 1 66 1 -96 1 48 1 -12 1 12 1 -17 1 20 1 -25 1 52 1 -39 1 26 1 -23 1 45 1 -68 1 43 1 -32 1 26 1 -42 1 19 1 -28 1 33 1 -41 1 22 1 -44 1 27 1 -69 1 58 1 -20 1 0 1 -20 1 18 1 -31 1 15 1 -30 1 41 1 -81 1 27 1 -6 1 17 1 -61 1 56 1 -73 1 91 1 -52 1 47 1 -48 1 17 1 -32 1 24 1 -33 1 52 1 -65 1 77 1 -59 1 80 1 -79 1 62 1 -59 1 29 1 -32 1 28 1 -41 1 57 1 -77 1 79 1 -78 1 58 1 -44 1 62 1 -48 1 25 1 -19 1 15 1 -47 1 56 1 -46 1 22 1 -29 1 22 1 -27 1 -1 1 -23 1 31 1 -47 1 19 1 -24 1 49 1 -86 1 67 1 -36 1 7 1 -11 1 22 1 -45 1 109 1 -84 1 18 1 -6 1 24 1 -22 1 28 1 -43 1 79 1 -76 1 65 1 -39 1 64 1 -110 1 77 1 -53 1 40 1 -30 1 46 1 -28 1 19 1 -13 1 100 1 -108 1 43 1 -51 1 43 1 -57 1 42 1 -47 1 64 1 -29 1 80 1 -48 1 62 1 -65 1 65 1 -41 1 50 1 -19 1 81 1 -83 1 16 1 -14 1 -7 1 -33 1 25 1 -35 1 61 1 -60 1 55 1 -77 1 -12 1 -44 1 44 1 -41 1 57 1 -25 1 29 1 -11 1 65 1 -115 1 91 1 -39 1 59 1 -35 1 33 1 -47 1 85 1 -64 1 72 1 -145 1 92 1 -27 1 49 1 -72 1 66 1 -31 1 31 1 -91 1 64 1 -14 1 28 1 -25 1 55 1 -61 1 42 1 -66 1 51 1 -32 1 76 1 -74 1 90 1 -79 1 56 1 -45 1 52 1 -61 1 39 1 -24 1 41 1 -100 1 27 1 -57 1 50 1 -127 1 85 1 -25 1 1 1 -23 1 7 1 -46 1 31 1 -88 1 106 1 -23 1 78 1 -89 1 56 1 -35 1 100 1 -57 1 77 1 -103 1 263 1 -225 1 62 1 -42 1 61 1 -24 1 50 1 -36 1 37 1 -99 1 90 1 -45 1 41 1 -40 1 32 1 -46 1 46 1 -32 1 7 1 -32 1 20 1 -23 1 27 1 -24 1 41 1 -52 1 37 1 -1 1 24 1 -34 1 105 1 -79 1 44 1 -15 1 36 1 -32 1 48 1 -65 1 45 1 -34 1 39 1 -24 1 43 1 -43 1 43 1 -50 1 115 1 -78 1 11 1 -7 1 35 1 -46 1 67 1 -104 1 89 1 -85 1 86 1 -60 1 24 1 -44 1 46 1 -73 1 52 1 -75 1 61 1 -94 1 46 1 -17 1 9 1 -33 1 24 1 -56 1 33 1 -38 1 9 1 -59 1 59 1 -71 1 86 1 -96 1 97 1 -82 1 70 1 -52 1 63 1 1 1 40 1 -70 1 56 1 -85 1 134 1 -54 1 48 1 -35 1 58 1 -78 1 43 1 -73 1 71 1 -96 1 106 1 -83 1 76 1 -40 1 50 1 -39 1 10 1 -12 1 1 1 -11 1 21 1 -54 1 43 1 -14 1 3 1 -29 1 33 1 -37 1 53 1 -31 1 2 1 -31 1 51 1 -50 1 37 1 -74 1 96 1 -57 1 47 1 -74 1 105 1 -76 1 17 1 0 1 13 1 -49 1 47 1 -20 1 -1 1 -22 1 44 1 -95 1 93 1 -22 1 14 1 -71 1 98 1 -60 1 82 1 -85 1 82 1 -95 1 65 1 -56 1 51 1 -43 1 37 1 -32 1 13 1 -31 1 33 1 -28 1 18 1 -33 1 37 1 -37 1 39 1 -65 1 70 1 -54 1 63 1 -49 1 67 1 -70 1 28 1 -36 1 31 1 -50 1 65 1 -100 1 88 1 -69 1 88 1 -53 1 19 1 -36 1 85 1 -90 1 54 1 -42 1 54 1 -26 1 27 1 -24 1 56 1 -49 1 32 1 -59 1 98 1 -13 1 51 1 -22 1 49 1 15 1 110 1 -138 1 48 1 -54 1 8 1 -52 1 -4 1 -82 1 43 1 -85 1 28 1 -78 1 73 1 -20 1 24 1 -19 1 59 1 -78 1 53 1 -96 1 83 1 -53 1 29 1 -60 1 41 1 -40 1 36 1 -22 1 31 1 -24 1 61 1 -47 1 57 1 -54 1 92 1 -27 1 60 1 -52 1 56 1 -38 1 101 1 -120 1 78 1 -95 1 36 1 -91 1 32 1 -76 1 70 1 -40 1 75 1 -36 1 56 1 -28 1 124 1 -58 1 62 1 -65 1 123 1 -80 1 59 1 -29 1 24 1 -54 1 71 1 -24 1 62 1 -60 1 45 1 -21 1 -10 1 -92 1 13 1 -67 1 6 1 -58 1 -39 1 -41 1 53 1 -55 1 90 1 -36 1 31 1 -20 1 75 1 -37 1 43 1 -21 1 18 1 -15 1 63 1 -80 1 29 1 -39 1 11 1 -40 1 15 1 -51 1 79 1 -47 1 0 1 -20 1 30 1 -38 1 26 1 -51 1 61 1 -35 1 36 1 -20 1 30 1 -46 1 64 1 -32 1 12 1 -22 1 32 1 -20 1 12 1 -19 1 26 1 -11 1 17 1 -2 1 24 1 -20 1 33 1 -54 1 31 1 -19 1 43 1 -26 1 31 1 -43 1 45 1 -26 1 27 1 -20 1 23 1 -60 1 63 1 -28 1 18 1 -43 1 51 1 -8 1 33 1 -28 1 20 1 -22 1 9 1 -23 1 29 1 -27 1 28 1 -22 1 72 1 -74 1 36 1 -29 1 47 1 -39 1 17 1 -12 1 20 1 -32 1 2 1 -18 1 9 1 -30 1 15 1 -34" fill="none" stroke="#ff0000" stroke-width="1.0" stroke-linejoin="round" opacity="1.0"/>
<path d="M744.3 410.7V484.5" stroke="#009900" stroke-width="1.2" stroke-dasharray="6 3.5" opacity="1"/>
<path d="M788.7 410.7V484.5" stroke="#ff3030" stroke-width="1.6" stroke-dasharray="6 3.5" opacity="0.9"/>
<path d="M877.8 410.7V484.5" stroke="#ff3030" stroke-width="1.6" stroke-dasharray="6 3.5" opacity="0.9"/>
<path d="M905.2 410.7V484.5" stroke="#0000ee" stroke-width="1.2" stroke-dasharray="1.5 1.5" opacity="1"/>
<path d="M919.9 410.7V484.5" stroke="#ff00ff" stroke-width="1.2" stroke-dasharray="1.5 1.5" opacity="1"/>
<path d="M922.3 410.7V484.5" stroke="#009900" stroke-width="1.2" stroke-dasharray="6 3.5" opacity="1"/>
<path d="M1068.7 410.7V484.5" stroke="#ff00ff" stroke-width="1.2" stroke-dasharray="1.5 1.5" opacity="1"/>
<path d="M668.4 447.4H1122.5" stroke="#000" stroke-width="1.5" stroke-dasharray="5.5 3"/>
<path transform="matrix(0.5 0 0 0.1 0 0)" vector-effect="non-scaling-stroke" d="M1336.71 4360l1 70 1 -61 1 31 1 -34 1 9 1 -54 1 66 1 -49 1 25 1 -53 1 35 1 -74 1 41 1 -25 1 60 1 -40 1 50 1 -42 1 42 1 -27 1 23 1 -20 1 4 1 -30 1 48 1 -22 1 53 1 -70 1 59 1 -57 1 81 1 -61 1 33 1 -29 1 49 1 -35 1 16 1 -23 1 21 1 -44 1 92 1 -97 1 74 1 -60 1 61 1 -88 1 67 1 -48 1 42 1 -57 1 89 1 -64 1 25 1 -17 1 15 1 -40 1 48 1 -25 1 18 1 -30 1 33 1 -40 1 43 1 -4 1 22 1 -19 1 18 1 -13 1 28 1 -30 1 38 1 -49 1 59 1 -37 1 17 1 -53 1 115 1 -74 1 53 1 -47 1 28 1 -5 1 46 1 -35 1 85 1 -119 1 69 1 -78 1 47 1 -21 1 54 1 -52 1 60 1 -81 1 37 1 -9 1 11 1 -34 1 56 1 -64 1 40 1 -14 1 7 1 -57 1 63 1 -28 1 26 1 -17 1 17 1 -20 1 49 1 -47 1 54 1 -64 1 35 1 -43 1 92 1 -104 1 45 1 -13 1 27 1 -24 1 44 1 -55 1 34 1 -39 1 36 1 -49 1 47 1 -31 1 41 1 -19 1 19 1 -29 1 43 1 -38 1 48 1 -44 1 56 1 -78 1 63 1 -54 1 55 1 -30 1 5 1 -20 1 50 1 -35 1 11 1 -10 1 7 1 -47 1 64 1 -54 1 93 1 -75 1 69 1 -71 1 79 1 -57 1 32 1 -35 1 36 1 -53 1 51 1 -49 1 37 1 -44 1 48 1 -58 1 38 1 -28 1 69 1 -83 1 37 1 -61 1 73 1 -49 1 31 1 -48 1 67 1 -46 1 38 1 -44 1 17 1 -27 1 27 1 -34 1 58 1 -54 1 51 1 -84 1 62 1 -27 1 23 1 -31 1 52 1 -74 1 55 1 -34 1 26 1 -11 1 22 1 -35 1 56 1 -45 1 30 1 -37 1 7 1 -21 1 65 1 -57 1 11 1 -21 1 30 1 -45 1 58 1 -49 1 45 1 -48 1 41 1 -39 1 47 1 -48 1 35 1 -34 1 70 1 -75 1 36 1 -14 1 30 1 -43 1 48 1 -31 1 50 1 -59 1 33 1 -14 1 9 1 -15 1 17 1 -37 1 38 1 -60 1 55 1 -6 1 26 1 -42 1 19 1 -5 1 6 1 -22 1 49 1 -54 1 21 1 -58 1 77 1 -34 1 29 1 -21 1 22 1 -6 1 46 1 -44 1 15 1 -5 1 53 1 -72 1 67 1 -50 1 16 1 -28 1 34 1 -12 1 12 1 -52 1 74 1 -28 1 4 1 -11 1 26 1 -74 1 66 1 -62 1 84 1 -26 1 33 1 -24 1 12 1 -10 1 31 1 -47 1 53 1 -38 1 15 1 -17 1 15 1 -31 1 17 1 -18 1 82 1 -103 1 101 1 -53 1 26 1 -24 1 44 1 -43 1 39 1 -66 1 54 1 -42 1 32 1 -77 1 69 1 -47 1 44 1 -41 1 36 1 -55 1 69 1 -62 1 42 1 -44 1 34 1 -51 1 51 1 -37 1 55 1 -47 1 13 1 -12 1 27 1 -49 1 19 1 -54 1 71 1 -37 1 34 1 -42 1 55 1 -73 1 62 1 -60 1 38 1 -36 1 27 1 -24 1 42 1 -76 1 78 1 -62 1 37 1 -34 1 27 1 -20 1 9 1 -34 1 72 1 -115 1 70 1 -12 1 16 1 -51 1 61 1 -47 1 29 1 -7 1 21 1 -31 1 23 1 -11 1 37 1 -111 1 73 1 -8 1 29 1 -21 1 27 1 -46 1 28 1 -31 1 58 1 -54 1 30 1 -41 1 54 1 -47 1 10 1 -15 1 36 1 -76 1 41 1 -22 1 19 1 -16 1 32 1 -21 1 28 1 -63 1 68 1 -54 1 53 1 -37 1 28 1 -66 1 62 1 -24 1 41 1 -62 1 37 1 -51 1 58 1 -36 1 54 1 -71 1 45 1 -29 1 39 1 -50 1 62 1 -69 1 52 1 -25 1 28 1 -32 1 70 1 -54 1 56 1 -99 1 76 1 -30 1 44 1 -30 1 42 1 -58 1 37 1 -44 1 36 1 -29 1 44 1 -44 1 66 1 -79 1 90 1 -40 1 61 1 -50 1 25 1 -42 1 32 1 -15 1 40 1 -60 1 42 1 -37 1 37 1 -103 1 59 1 -53 1 31 1 -54 1 53 1 -44 1 44 1 -30 1 50 1 -30 1 61 1 -60 1 27 1 -11 1 30 1 -39 1 74 1 -108 1 59 1 -71 1 85 1 -41 1 57 1 -47 1 42 1 -56 1 85 1 -52 1 53 1 -52 1 18 1 -16 1 41 1 -54 1 51 1 -34 1 7 1 -15 1 33 1 -41 1 10 1 -13 1 29 1 -63 1 68 1 -62 1 42 1 -25 1 47 1 -44 1 11 1 -12 1 21 1 -35 1 24 1 -48 1 41 1 -28 1 65 1 -85 1 43 1 -17 1 53 1 -43 1 10 1 -17 1 17 1 -42 1 53 1 -55 1 58 1 -29 1 25 1 -15 1 47 1 -30 1 47 1 -45 1 35 1 -33 1 21 1 -20 1 15 1 -8 1 27 1 -8 1 41 1 -35 1 23 1 -48 1 37 1 -42 1 39 1 -55 1 41 1 -1 1 35 1 -69 1 69 1 -50 1 49 1 -29 1 33 1 -43 1 82 1 -59 1 12 1 -21 1 31 1 -36 1 27 1 -10 1 37 1 -45 1 19 1 -3 1 28 1 -29 1 25 1 -37 1 36 1 -65 1 54 1 -35 1 1 1 -26 1 29 1 -42 1 14 1 -26 1 34 1 -27 1 44 1 -66 1 63 1 -79 1 63 1 -62 1 14 1 -13 1 14 1 -26 1 35 1 -26 1 78 1 -97 1 16 1 -41 1 38 1 -25 1 32 1 -29 1 13 1 -14 1 22 1 -16 1 33 1 -30 1 27 1 -41 1 49 1 -4 1 11 1 -37 1 33 1 -11 1 37 1 -42 1 24 1 -12 1 40 1 -51 1 66 1 -76 1 74 1 -24 1 48 1 -64 1 64 1 -65 1 88 1 -55 1 31 1 -38 1 79 1 -67 1 10 1 -12 1 23 1 -29 1 29 1 -33 1 29 1 -51 1 65 1 -57 1 73 1 -76 1 23 1 -47 1 104 1 -110 1 35 1 -10 1 12 1 -23 1 18 1 -53 1 78 1 -53 1 24 1 -36 1 25 1 -72 1 62 1 -32 1 47 1 -55 1 38 1 -49 1 67 1 -89 1 64 1 -28 1 33 1 -28 1 52 1 -38 1 24 1 -48 1 68 1 -63 1 26 1 -33 1 57 1 -42 1 39 1 -42 1 25 1 -24 1 38 1 -38 1 42 1 -52 1 67 1 -55 1 44 1 -53 1 39 1 -35 1 29 1 -25 1 45 1 -50 1 54 1 -23 1 26 1 -45 1 24 1 -36 1 43 1 -43 1 53 1 -44 1 37 1 -62 1 32 1 -7 1 33 1 -92 1 80 1 -59 1 36 1 -5 1 20 1 -47 1 43 1 -4 1 36 1 -23 1 30 1 -46 1 20 1 -21 1 51 1 -32 1 31 1 -66 1 69 1 -43 1 24 1 -16 1 23 1 -14 1 22 1 -70 1 126 1 -73 1 48 1 -39 1 31 1 -25 1 15 1 -18 1 36 1 -55 1 49 1 -6 1 30 1 -59 1 64 1 -34 1 13 1 -31 1 63 1 -28 1 14 1 -17 1 14 1 -15 1 14 1 -20 1 32 1 -69 1 71 1 -51 1 49 1 -42 1 62 1 -65 1 23 1 -74 1 50 1 -30 1 27 1 -31 1 38 1 -20 1 -5 1 -8 1 14 1 -44 1 32 1 -19 1 20 1 -29 1 10 1 -21 1 42 1 -45 1 26 1 -22 1 65 1 -103 1 80 1 -31 1 16 1 -52 1 41 1 -32 1 23 1 -35 1 87 1 -77 1 38 1 -42 1 12 1 -19 1 24 1 -33 1 36 1 -26 1 22 1 -1 1 15 1 -16 1 8 1 -63 1 63 1 -17 1 20 1 -18 1 29 1 -51 1 46 1 -33 1 34 1 -3 1 37 1 -61 1 58 1 -22 1 19 1 -31 1 57 1 -48 1 8 1 -9 1 22 1 -29 1 40 1 -63 1 81 1 -22 1 30 1 -45 1 58 1 -76 1 85 1 -71 1 47 1 -39 1 50 1 -22 1 17 1 -10 1 33 1 -29 1 30 1 -21 1 4 1 -47 1 55 1 -17 1 34 1 -46 1 38 1 -36 1 54 1 -48 1 52 1 -57 1 58 1 -60 1 59 1 -35 1 20 1 -22 1 24 1 -45 1 25 1 -8 1 16 1 -19 1 10 1 -39 1 33 1 -19 1 41 1 -63" fill="none" stroke="#000000" stroke-width="1.0" stroke-linejoin="round" opacity="1.0"/>
<path transform="matrix(0.5 0 0 0.1 0 0)" vector-effect="non-scaling-stroke" d="M1336.71 4371l1 87 1 -99 1 57 1 -60 1 -131 1 122 1 29 1 -108 1 120 1 -131 1 102 1 -62 1 18 1 -32 1 49 1 -40 1 256 1 -261 1 67 1 -56 1 29 1 -51 1 84 1 -106 1 104 1 -17 1 70 1 -67 1 236 1 -253 1 91 1 -102 1 54 1 -31 1 39 1 -30 1 19 1 -9 1 86 1 -102 1 26 1 -40 1 36 1 -45 1 94 1 -102 1 48 1 -59 1 42 1 -42 1 46 1 -53 1 62 1 -65 1 62 1 -53 1 88 1 -70 1 40 1 -11 1 72 1 -78 1 25 1 -32 1 57 1 -42 1 48 1 -31 1 20 1 -79 1 93 1 -70 1 74 1 -32 1 19 1 -4 1 21 1 -71 1 62 1 -38 1 80 1 -82 1 80 1 -39 1 47 1 -78 1 52 1 -56 1 56 1 -44 1 36 1 -34 1 34 1 -22 1 33 1 -83 1 88 1 -208 1 194 1 -19 1 20 1 -26 1 43 1 -42 1 70 1 -68 1 40 1 -35 1 29 1 -29 1 40 1 -33 1 85 1 -115 1 102 1 -93 1 51 1 -28 1 53 1 -65 1 47 1 -69 1 275 1 -285 1 54 1 -23 1 22 1 -25 1 39 1 -21 1 25 1 -21 1 18 1 -27 1 51 1 -70 1 59 1 -51 1 75 1 -120 1 107 1 -51 1 20 1 -89 1 99 1 -172 1 186 1 -30 1 38 1 -50 1 34 1 -18 1 66 1 -65 1 65 1 -51 1 31 1 -74 1 82 1 -35 1 5 1 -72 1 58 1 -9 1 27 1 -86 1 65 1 -11 1 13 1 -4 1 17 1 -75 1 85 1 -35 1 77 1 -142 1 56 1 -78 1 82 1 -57 1 73 1 -58 1 29 1 -17 1 21 1 -30 1 58 1 -37 1 15 1 -90 1 107 1 -28 1 22 1 -49 1 59 1 -65 1 46 1 -47 1 26 1 -49 1 44 1 -47 1 50 1 -6 1 27 1 -48 1 27 1 -70 1 150 1 -142 1 116 1 -81 1 76 1 -78 1 75 1 -57 1 35 1 -53 1 49 1 -45 1 86 1 -66 1 20 1 -33 1 73 1 -108 1 56 1 -37 1 66 1 -46 1 46 1 -53 1 29 1 -5 1 16 1 -17 1 6 1 -41 1 82 1 -74 1 64 1 -62 1 44 1 -40 1 29 1 -71 1 98 1 -103 1 75 1 -60 1 83 1 -33 1 39 1 -71 1 34 1 8 1 12 1 -14 1 23 1 -73 1 79 1 -68 1 97 1 -65 1 29 1 -30 1 50 1 -45 1 145 1 -150 1 34 1 -31 1 27 1 -35 1 81 1 -64 1 53 1 -100 1 112 1 -85 1 121 1 -131 1 80 1 -36 1 14 1 -8 1 60 1 -128 1 87 1 -11 1 24 1 -37 1 37 1 -20 1 25 1 -24 1 24 1 -65 1 62 1 -31 1 42 1 -44 1 27 1 -66 1 84 1 -50 1 34 1 -45 1 63 1 -95 1 77 1 -48 1 77 1 -62 1 67 1 -118 1 132 1 -103 1 102 1 -76 1 39 1 -45 1 24 1 -20 1 4 1 -68 1 75 1 -62 1 79 1 -87 1 54 1 -52 1 64 1 -46 1 55 1 -54 1 54 1 -59 1 106 1 -116 1 57 1 -58 1 29 1 -34 1 21 1 -27 1 43 1 -51 1 27 1 -30 1 39 1 -81 1 68 1 -75 1 69 1 -18 1 31 1 -46 1 40 1 -121 1 212 1 -163 1 87 1 -40 1 33 1 -53 1 30 1 -54 1 87 1 -61 1 16 1 -24 1 26 1 -16 1 12 1 -33 1 32 1 -25 1 66 1 -63 1 31 1 -36 1 32 1 -28 1 2 1 -31 1 73 1 -139 1 118 1 -40 1 31 1 -22 1 32 1 -47 1 49 1 -32 1 26 1 -37 1 48 1 -42 1 40 1 -73 1 94 1 -72 1 42 1 -68 1 65 1 -35 1 81 1 -105 1 71 1 -84 1 87 1 -40 1 10 1 -38 1 48 1 -62 1 42 1 -14 1 30 1 -155 1 157 1 -116 1 117 1 -71 1 92 1 -48 1 30 1 -3 1 27 1 -19 1 6 1 -19 1 25 1 -31 1 45 1 -9 1 77 1 -67 1 31 1 -48 1 61 1 -60 1 46 1 -136 1 136 1 -58 1 33 1 -31 1 67 1 -50 1 53 1 -53 1 14 1 -24 1 50 1 -64 1 20 1 -61 1 62 1 -36 1 33 1 -46 1 36 1 -55 1 62 1 -76 1 106 1 -53 1 14 1 -16 1 69 1 -125 1 105 1 -67 1 50 1 -36 1 46 1 -30 1 37 1 -13 1 34 1 -78 1 102 1 -125 1 75 1 -66 1 102 1 -79 1 51 1 -35 1 56 1 -116 1 92 1 -51 1 64 1 -53 1 20 1 -72 1 82 1 -52 1 34 1 -97 1 136 1 -69 1 49 1 -76 1 72 1 -86 1 67 1 -12 1 34 1 -100 1 109 1 -81 1 95 1 -75 1 40 1 -93 1 99 1 -65 1 82 1 -67 1 70 1 -35 1 14 1 -11 1 32 1 -43 1 49 1 -29 1 21 1 -61 1 86 1 -110 1 103 1 -55 1 38 1 -24 1 31 1 -31 1 54 1 -77 1 92 1 -57 1 77 1 -77 1 48 1 -42 1 84 1 -88 1 47 1 -23 1 21 1 -22 1 35 1 -49 1 37 1 -29 1 8 1 -30 1 39 1 -62 1 117 1 -86 1 50 1 -64 1 57 1 -89 1 104 1 -34 1 20 1 -84 1 100 1 -20 1 35 1 -57 1 22 1 -61 1 26 1 -3 1 20 1 -25 1 150 1 -186 1 66 1 -47 1 4 1 -64 1 75 1 -39 1 26 1 -49 1 43 1 -25 1 24 1 -47 1 37 1 -55 1 30 1 -34 1 37 1 -48 1 40 1 -44 1 50 1 -55 1 40 1 -32 1 63 1 -108 1 74 1 -105 1 138 1 -81 1 45 1 -19 1 76 1 -111 1 123 1 -72 1 60 1 -46 1 20 1 -15 1 60 1 -64 1 50 1 -49 1 99 1 -69 1 48 1 -30 1 104 1 -105 1 57 1 -89 1 95 1 -99 1 53 1 -68 1 102 1 -43 1 22 1 -57 1 47 1 -64 1 94 1 -68 1 58 1 -63 1 105 1 -94 1 107 1 -87 1 31 1 -76 1 41 1 -72 1 50 1 -18 1 35 1 -28 1 37 1 -60 1 25 1 -17 1 32 1 -35 1 72 1 -128 1 151 1 -99 1 24 1 -34 1 59 1 -59 1 35 1 -44 1 10 1 -6 1 39 1 -69 1 66 1 -37 1 44 1 -68 1 70 1 -87 1 63 1 -36 1 32 1 -58 1 115 1 -57 1 44 1 -68 1 29 1 -16 1 55 1 -95 1 81 1 -44 1 5 1 -69 1 71 1 -25 1 34 1 -37 1 34 1 -58 1 32 1 -22 1 19 1 -16 1 24 1 -16 1 66 1 -47 1 88 1 -100 1 76 1 -81 1 73 1 -105 1 101 1 -37 1 -1 1 -5 1 55 1 -80 1 42 1 -41 1 106 1 -134 1 61 1 -39 1 63 1 -36 1 16 1 -11 1 31 1 -50 1 50 1 -40 1 100 1 -97 1 41 1 -63 1 64 1 -12 1 11 1 -33 1 92 1 -80 1 45 1 -12 1 47 1 -52 1 73 1 -109 1 63 1 -59 1 62 1 -17 1 44 1 -267 1 258 1 -47 1 40 1 -44 1 53 1 -52 1 55 1 -57 1 46 1 -39 1 52 1 -67 1 59 1 -45 1 73 1 -67 1 1 1 -16 1 52 1 -70 1 32 1 -6 1 7 1 -44 1 133 1 -121 1 90 1 -78 1 9 1 -31 1 33 1 -43 1 18 1 -31 1 51 1 -47 1 15 1 -62 1 114 1 -59 1 16 1 -56 1 24 1 -37 1 117 1 -132 1 48 1 -90 1 111 1 -42 1 64 1 -80 1 74 1 -47 1 37 1 -41 1 61 1 -78 1 26 1 -60 1 75 1 -57 1 72 1 -56 1 16 1 -40 1 68 1 -100 1 91 1 -17 1 43 1 -56 1 58 1 -53 1 54 1 -87 1 129 1 -78 1 32 1 -49 1 53 1 -20 1 40 1 -37 1 38 1 -87 1 84 1 -11 1 17 1 -21 1 41 1 -27 1 39 1 -37 1 28 1 -23 1 54 1 -84 1 83 1 -65 1 23 1 -38 1 84 1 -52 1 22 1 -16 1 14 1 -16 1 23 1 -11 1 33 1 -64 1 56 1 -50 1 82 1 -43 1 12 1 -3 1 3 1 -5 1 22 1 -19 1 30 1 -69 1 61 1 -31 1 55 1 -50 1 17 1 -63 1 107 1 -60 1 5 1 -34 1 36 1 -31 1 25 1 -42 1 27 1 -11" fill="none" stroke="#00ee00" stroke-width="1.0" stroke-linejoin="round" opacity="1.0"/>
<path d="M744.3 484.5V557.8" stroke="#009900" stroke-width="1.2" stroke-dasharray="6 3.5" opacity="1"/>
<path d="M788.7 484.5V557.8" stroke="#ff3030" stroke-width="1.6" stroke-dasharray="6 3.5" opacity="0.9"/>
<path d="M877.8 484.5V557.8" stroke="#ff3030" stroke-width="1.6" stroke-dasharray="6 3.5" opacity="0.9"/>
<path d="M905.2 484.5V557.8" stroke="#0000ee" stroke-width="1.2" stroke-dasharray="1.5 1.5" opacity="1"/>
<path d="M919.9 484.5V557.8" stroke="#ff00ff" stroke-width="1.2" stroke-dasharray="1.5 1.5" opacity="1"/>
<path d="M922.3 484.5V557.8" stroke="#009900" stroke-width="1.2" stroke-dasharray="6 3.5" opacity="1"/>
<path d="M1068.7 484.5V557.8" stroke="#ff00ff" stroke-width="1.2" stroke-dasharray="1.5 1.5" opacity="1"/>
<path transform="matrix(0.5 0 0 0.1 0 0)" vector-effect="non-scaling-stroke" d="M1336.71 5519l1 58 1 -737 1 737 1 -38 1 38 1 -66 1 62 1 -77 1 80 1 -112 1 108 1 -95 1 71 1 -39 1 63 1 -71 1 76 1 -113 1 113 1 -77 1 77 1 -85 1 85 1 -69 1 69 1 -54 1 54 1 -88 1 78 1 -47 1 50 1 -57 1 64 1 -157 1 138 1 -127 1 144 1 -94 1 83 1 -55 1 47 1 -55 1 76 1 -117 1 107 1 -71 1 81 1 -93 1 74 1 -53 1 51 1 -60 1 74 1 -64 1 71 1 -61 1 49 1 -46 1 58 1 -60 1 60 1 -98 1 89 1 -151 1 160 1 -50 1 50 1 -53 1 53 1 -61 1 49 1 -48 1 57 1 -95 1 81 1 -52 1 52 1 -107 1 124 1 -77 1 77 1 -50 1 50 1 -41 1 41 1 -62 1 62 1 -69 1 69 1 -63 1 47 1 -48 1 64 1 -105 1 105 1 -63 1 -209 1 184 1 59 1 -128 1 144 1 -60 1 65 1 -121 1 117 1 -73 1 75 1 -82 1 92 1 -82 1 82 1 -41 1 39 1 -98 1 100 1 -108 1 87 1 -72 1 68 1 -94 1 70 1 -67 1 72 1 -68 1 112 1 -162 1 138 1 -52 1 73 1 -63 1 66 1 -47 1 47 1 -58 1 58 1 -84 1 84 1 -133 1 131 1 -64 1 66 1 -68 1 58 1 -80 1 75 1 -90 1 -136 1 153 1 88 1 -74 1 74 1 -75 1 56 1 -46 1 60 1 -81 1 79 1 -124 1 117 1 -43 1 53 1 -63 1 67 1 -104 1 86 1 -76 1 89 1 -60 1 50 1 -73 1 88 1 -77 1 77 1 -118 1 89 1 -82 1 88 1 -84 1 107 1 -79 1 48 1 -60 1 71 1 -80 1 68 1 -47 1 64 1 -48 1 63 1 -66 1 53 1 -87 1 75 1 -57 1 65 1 -232 1 211 1 -69 1 107 1 -97 1 97 1 -194 1 194 1 -116 1 105 1 -77 1 88 1 -100 1 64 1 -133 1 145 1 -63 1 87 1 -74 1 37 1 -43 1 80 1 -96 1 96 1 -105 1 74 1 -40 1 65 1 -65 1 71 1 -91 1 91 1 -80 1 80 1 -92 1 92 1 -96 1 83 1 -93 1 106 1 -231 1 231 1 -101 1 101 1 -80 1 80 1 -75 1 63 1 -67 1 79 1 -72 1 72 1 -110 1 110 1 -68 1 38 1 -60 1 75 1 -80 1 81 1 -220 1 218 1 -80 1 96 1 -93 1 65 1 -50 1 71 1 -82 1 89 1 -85 1 70 1 -135 1 123 1 -76 1 59 1 -161 1 167 1 -46 1 84 1 -85 1 85 1 -128 1 107 1 -63 1 53 1 -88 1 119 1 -212 1 212 1 -98 1 43 1 -76 1 110 1 -116 1 95 1 -162 1 146 1 -65 1 84 1 -103 1 105 1 -58 1 95 1 -128 1 119 1 -116 1 95 1 -229 1 259 1 -157 1 106 1 -36 1 52 1 -99 1 108 1 -66 1 43 1 -47 1 80 1 -105 1 108 1 -280 1 293 1 -68 1 66 1 -115 1 117 1 -105 1 85 1 -68 1 87 1 -76 1 73 1 -80 1 -219 1 199 1 65 1 -78 1 65 1 -66 1 118 1 -110 1 60 1 -88 1 130 1 -171 1 -156 1 225 1 96 1 -92 1 106 1 -115 1 89 1 -77 1 59 1 -169 1 175 1 -86 1 124 1 -176 1 109 1 -95 1 152 1 -207 1 138 1 -89 1 168 1 -206 1 182 1 -86 1 110 1 -111 1 90 1 -90 1 82 1 -145 1 168 1 -108 1 83 1 -120 1 149 1 -102 1 99 1 -133 1 138 1 -115 1 113 1 -209 1 211 1 -107 1 103 1 -90 1 55 1 -56 1 93 1 -185 1 187 1 -162 1 156 1 -188 1 129 1 -80 1 145 1 -161 1 151 1 -162 1 150 1 -159 1 136 1 -54 1 99 1 -163 1 101 1 -76 1 138 1 -147 1 86 1 -131 1 179 1 -116 1 115 1 -142 1 156 1 -137 1 112 1 -91 1 88 1 -108 1 114 1 -136 1 118 1 -134 1 128 1 -129 1 157 1 -129 1 97 1 -100 1 150 1 -123 1 71 1 -282 1 334 1 -104 1 104 1 -173 1 123 1 -118 1 143 1 -138 1 125 1 -102 1 92 1 -106 1 154 1 -202 1 148 1 -128 1 182 1 -311 1 311 1 -163 1 130 1 -104 1 115 1 -72 1 94 1 -110 1 85 1 -149 1 174 1 -187 1 187 1 -138 1 129 1 -159 1 164 1 -175 1 138 1 -185 1 226 1 -153 1 122 1 -228 1 -76 1 162 1 117 1 -121 1 177 1 -185 1 -181 1 175 1 96 1 -162 1 190 1 -268 1 209 1 -141 1 243 1 -373 1 344 1 -193 1 207 1 -246 1 -268 1 363 1 -238 1 203 1 225 1 -399 1 370 1 -168 1 138 1 -216 1 224 1 -197 1 248 1 -175 1 175 1 -233 1 233 1 -164 1 164 1 -118 1 118 1 -310 1 38 1 103 1 169 1 -115 1 115 1 -178 1 157 1 -135 1 96 1 -120 1 180 1 -166 1 133 1 -327 1 280 1 -79 1 108 1 -52 1 67 1 -111 1 105 1 -136 1 160 1 -141 1 111 1 -131 1 119 1 -359 1 419 1 -166 1 94 1 -116 1 146 1 -74 1 76 1 -85 1 107 1 -167 1 173 1 -144 1 142 1 -203 1 217 1 -181 1 -122 1 173 1 104 1 -101 1 112 1 -127 1 104 1 -143 1 142 1 -184 1 200 1 -195 1 172 1 -96 1 142 1 -119 1 119 1 -100 1 100 1 -166 1 166 1 -361 1 302 1 -136 1 129 1 -96 1 140 1 -181 1 203 1 -232 1 158 1 -124 1 174 1 -149 1 173 1 -145 1 -221 1 156 1 197 1 -154 1 119 1 -345 1 393 1 -201 1 174 1 -247 1 274 1 -146 1 107 1 -160 1 106 1 -263 1 318 1 -160 1 162 1 -133 1 148 1 -491 1 445 1 -317 1 318 1 -186 1 163 1 -181 1 167 1 -102 1 143 1 -190 1 198 1 -99 1 153 1 -202 1 202 1 -203 1 203 1 -157 1 -115 1 85 1 187 1 -182 1 166 1 -227 1 206 1 -128 1 135 1 -119 1 118 1 -120 1 109 1 -71 1 84 1 -123 1 152 1 -120 1 101 1 -87 1 106 1 -149 1 111 1 -76 1 81 1 -246 1 229 1 -103 1 125 1 -122 1 108 1 -63 1 105 1 -157 1 157 1 -143 1 143 1 -101 1 101 1 -94 1 94 1 -184 1 138 1 -145 1 191 1 -117 1 92 1 -157 1 182 1 -110 1 110 1 -141 1 122 1 -120 1 139 1 -121 1 116 1 -113 1 118 1 -98 1 98 1 -100 1 91 1 -96 1 102 1 -143 1 124 1 -105 1 127 1 -203 1 203 1 -152 1 103 1 -138 1 187 1 -138 1 -197 1 173 1 162 1 -173 1 173 1 -186 1 165 1 -273 1 274 1 -125 1 84 1 -72 1 106 1 -98 1 88 1 -56 1 93 1 -143 1 143 1 -140 1 140 1 -142 1 142 1 -89 1 89 1 -111 1 111 1 -151 1 93 1 -105 1 131 1 -202 1 199 1 -103 1 51 1 -49 1 118 1 -143 1 111 1 -106 1 156 1 -186 1 132 1 -121 1 149 1 -250 1 169 1 -177 1 189 1 -163 1 201 1 -100 1 157 1 -227 1 175 1 -293 1 345 1 -158 1 -208 1 81 1 285 1 -243 1 243 1 -175 1 175 1 -135 1 135 1 -229 1 181 1 -144 1 182 1 -162 1 129 1 -120 1 139 1 -164 1 -209 1 186 1 211 1 -162 1 162 1 -216 1 -521 1 566 1 111 1 -97 1 123 1 -519 1 532 1 -166 1 187 1 -116 1 91 1 -96 1 121 1 -163 1 163 1 -164 1 149 1 -114 1 80 1 -82 1 122 1 -134 1 143 1 -105 1 105 1 -249 1 249 1 -191 1 191 1 -187 1 139 1 -68 1 116 1 -137 1 102 1 -107 1 78 1 -139 1 176 1 -86 1 74 1 -102 1 101 1 -105 1 115 1 -57 1 80 1 -126 1 125 1 -83 1 91 1 -126 1 126 1 -167 1 167 1 -190 1 190 1 -89 1 80 1 -81 1 90 1 -90 1 85 1 -94 1 77 1 -49 1 60 1 -68 1 56 1 -43 1 66 1 -99 1 91 1 -102 1 110 1 -50 1 50 1 -47 1 41 1 -101 1 107 1 -77 1 72 1 -77 1 68 1 -47 1 31 1 -62 1 82 1 -64 1 62 1 -110 1 102 1 -59 1 79 1 -96 1 96 1 -66 1 32 1 -61 1 95 1 -98 1 65 1 -47 1 52 1 -86 1 105 1 -102" fill="none" stroke="#000000" stroke-width="1.0" stroke-linejoin="round" opacity="1.0"/>
<path d="M744.3 557.8V632.3" stroke="#009900" stroke-width="1.2" stroke-dasharray="6 3.5" opacity="1"/>
<path d="M788.7 557.8V632.3" stroke="#ff3030" stroke-width="1.6" stroke-dasharray="6 3.5" opacity="0.9"/>
<path d="M877.8 557.8V632.3" stroke="#ff3030" stroke-width="1.6" stroke-dasharray="6 3.5" opacity="0.9"/>
<path d="M905.2 557.8V632.3" stroke="#0000ee" stroke-width="1.2" stroke-dasharray="1.5 1.5" opacity="1"/>
<path d="M919.9 557.8V632.3" stroke="#ff00ff" stroke-width="1.2" stroke-dasharray="1.5 1.5" opacity="1"/>
<path d="M922.3 557.8V632.3" stroke="#009900" stroke-width="1.2" stroke-dasharray="6 3.5" opacity="1"/>
<path d="M1068.7 557.8V632.3" stroke="#ff00ff" stroke-width="1.2" stroke-dasharray="1.5 1.5" opacity="1"/>
<path transform="matrix(0.5 0 0 0.1 0 0)" vector-effect="non-scaling-stroke" d="M1336.71 5941l1 43 1 -38 1 56 1 -77 1 67 1 -56 1 51 1 -82 1 79 1 -48 1 50 1 -77 1 81 1 -55 1 56 1 -91 1 75 1 -42 1 46 1 -49 1 59 1 -72 1 73 1 -38 1 29 1 -42 1 33 1 -45 1 63 1 -50 1 36 1 -32 1 28 1 -41 1 56 1 -60 1 49 1 -33 1 34 1 -45 1 75 1 -93 1 79 1 -51 1 36 1 -30 1 72 1 -102 1 57 1 -35 1 40 1 -81 1 100 1 -68 1 90 1 -74 1 43 1 -54 1 52 1 -58 1 59 1 -38 1 47 1 -86 1 78 1 -101 1 90 1 -65 1 65 1 -41 1 64 1 -121 1 137 1 -68 1 47 1 -53 1 28 1 -69 1 80 1 -56 1 60 1 -84 1 119 1 -101 1 58 1 -37 1 36 1 -53 1 53 1 -31 1 32 1 -57 1 49 1 -47 1 55 1 -69 1 67 1 -24 1 58 1 -77 1 68 1 -53 1 62 1 -63 1 38 1 -28 1 61 1 -70 1 47 1 -60 1 73 1 -75 1 48 1 -52 1 64 1 -86 1 105 1 -78 1 30 1 -48 1 43 1 -148 1 161 1 -40 1 53 1 -62 1 62 1 -48 1 56 1 -50 1 70 1 -77 1 41 1 -60 1 55 1 -62 1 76 1 -65 1 56 1 -44 1 43 1 -39 1 49 1 -43 1 58 1 -60 1 32 1 -33 1 97 1 -123 1 64 1 -28 1 57 1 -72 1 34 1 -102 1 100 1 -47 1 50 1 -61 1 74 1 -54 1 57 1 -61 1 46 1 -50 1 56 1 -43 1 56 1 -60 1 47 1 -29 1 48 1 -74 1 74 1 -78 1 69 1 -35 1 26 1 -54 1 69 1 -44 1 51 1 -64 1 48 1 -39 1 38 1 -62 1 62 1 -61 1 67 1 -97 1 97 1 -70 1 77 1 -49 1 38 1 -55 1 56 1 -76 1 89 1 -80 1 58 1 -32 1 51 1 -59 1 56 1 -66 1 43 1 -58 1 51 1 -47 1 78 1 -65 1 46 1 -45 1 59 1 -50 1 50 1 -51 1 37 1 -57 1 48 1 -33 1 62 1 -54 1 67 1 -99 1 65 1 -60 1 87 1 -72 1 74 1 -71 1 54 1 -67 1 75 1 -45 1 47 1 -50 1 45 1 -63 1 48 1 -43 1 65 1 -96 1 85 1 -52 1 63 1 -51 1 53 1 -79 1 91 1 -59 1 35 1 -42 1 42 1 -38 1 62 1 -94 1 106 1 -108 1 80 1 -38 1 59 1 -74 1 67 1 -113 1 95 1 -48 1 63 1 -85 1 55 1 -30 1 28 1 -57 1 69 1 -52 1 67 1 -77 1 80 1 -81 1 90 1 -72 1 106 1 -124 1 50 1 -45 1 80 1 -146 1 124 1 -63 1 58 1 -40 1 45 1 -81 1 90 1 -69 1 70 1 -39 1 37 1 -56 1 73 1 -85 1 49 1 -61 1 85 1 -105 1 144 1 -102 1 51 1 -98 1 108 1 -61 1 52 1 -55 1 53 1 -85 1 72 1 -59 1 64 1 -75 1 50 1 -48 1 89 1 -81 1 105 1 -100 1 85 1 -101 1 108 1 -109 1 87 1 -95 1 92 1 -50 1 64 1 -76 1 98 1 -118 1 105 1 -82 1 61 1 -59 1 72 1 -57 1 101 1 -124 1 89 1 -75 1 85 1 -106 1 89 1 -87 1 64 1 -101 1 134 1 -97 1 103 1 -99 1 71 1 -71 1 80 1 -78 1 49 1 -64 1 74 1 -51 1 71 1 -117 1 108 1 -98 1 81 1 -50 1 65 1 -87 1 86 1 -56 1 60 1 -63 1 70 1 -83 1 83 1 -49 1 102 1 -326 1 253 1 -85 1 116 1 -81 1 53 1 -103 1 124 1 -88 1 83 1 -55 1 86 1 -104 1 62 1 -118 1 106 1 -79 1 107 1 -106 1 103 1 -91 1 76 1 -84 1 127 1 -122 1 126 1 -119 1 122 1 -115 1 91 1 -72 1 57 1 -44 1 50 1 -50 1 42 1 -87 1 136 1 -94 1 56 1 -129 1 116 1 -93 1 103 1 -70 1 73 1 -86 1 72 1 -139 1 214 1 -170 1 104 1 -87 1 68 1 -65 1 69 1 -90 1 100 1 -157 1 143 1 -97 1 99 1 -122 1 264 1 -214 1 59 1 -153 1 187 1 -73 1 114 1 -129 1 72 1 -86 1 66 1 -42 1 91 1 -140 1 113 1 -104 1 129 1 -153 1 132 1 -80 1 54 1 -105 1 117 1 -65 1 90 1 -125 1 105 1 -113 1 115 1 -94 1 89 1 -65 1 79 1 -68 1 139 1 -129 1 54 1 -79 1 138 1 -120 1 116 1 -92 1 52 1 -66 1 81 1 -191 1 192 1 -169 1 121 1 -49 1 68 1 -128 1 166 1 -138 1 144 1 -101 1 94 1 -124 1 168 1 -185 1 122 1 -161 1 142 1 -124 1 130 1 -101 1 118 1 -116 1 94 1 -72 1 128 1 -233 1 246 1 -164 1 128 1 -117 1 62 1 -109 1 105 1 -161 1 157 1 -176 1 235 1 -110 1 143 1 -130 1 57 1 -43 1 122 1 -129 1 100 1 -91 1 90 1 -86 1 84 1 -176 1 138 1 -93 1 159 1 -141 1 114 1 -90 1 94 1 -163 1 124 1 -37 1 50 1 -84 1 100 1 -99 1 91 1 -65 1 60 1 -53 1 57 1 -71 1 93 1 -96 1 118 1 -120 1 104 1 -115 1 73 1 -103 1 126 1 -120 1 82 1 -106 1 145 1 -106 1 97 1 -128 1 126 1 -173 1 134 1 -85 1 101 1 -84 1 85 1 -87 1 119 1 -137 1 94 1 -97 1 177 1 -155 1 76 1 -88 1 80 1 -81 1 128 1 -138 1 107 1 -77 1 59 1 -38 1 77 1 -70 1 65 1 -98 1 110 1 -157 1 151 1 -81 1 98 1 -95 1 102 1 -128 1 115 1 -128 1 167 1 -150 1 88 1 -76 1 101 1 -107 1 80 1 -122 1 152 1 -168 1 121 1 -63 1 63 1 -58 1 63 1 -96 1 136 1 -151 1 134 1 -122 1 149 1 -129 1 85 1 -71 1 110 1 -173 1 157 1 -74 1 93 1 -103 1 101 1 -133 1 115 1 -82 1 126 1 -144 1 133 1 -95 1 58 1 -92 1 83 1 -89 1 127 1 -196 1 204 1 -135 1 119 1 -108 1 100 1 -80 1 42 1 -70 1 114 1 -114 1 73 1 -76 1 87 1 -57 1 71 1 -99 1 140 1 -135 1 79 1 -91 1 102 1 -105 1 67 1 -77 1 106 1 -107 1 105 1 -136 1 120 1 -103 1 186 1 -200 1 115 1 -89 1 106 1 -60 1 74 1 -104 1 166 1 -186 1 112 1 -107 1 89 1 -70 1 118 1 -120 1 163 1 -158 1 132 1 -152 1 139 1 -140 1 147 1 -136 1 108 1 -117 1 128 1 -93 1 77 1 -76 1 56 1 -112 1 85 1 -45 1 119 1 -150 1 111 1 -88 1 110 1 -129 1 102 1 -108 1 125 1 -150 1 114 1 -104 1 158 1 -118 1 137 1 -135 1 89 1 -142 1 136 1 -77 1 100 1 -94 1 63 1 -81 1 77 1 -126 1 141 1 -105 1 128 1 -85 1 93 1 -94 1 70 1 -139 1 124 1 -66 1 64 1 -61 1 74 1 -97 1 113 1 -125 1 141 1 -108 1 84 1 -122 1 129 1 -120 1 133 1 -98 1 87 1 -128 1 132 1 -106 1 136 1 -152 1 95 1 -133 1 185 1 -144 1 153 1 -166 1 144 1 -122 1 104 1 -93 1 92 1 -79 1 57 1 -117 1 128 1 -98 1 76 1 -45 1 62 1 -130 1 146 1 -78 1 72 1 -109 1 102 1 -122 1 126 1 -116 1 92 1 -60 1 78 1 -95 1 120 1 -141 1 130 1 -148 1 122 1 -74 1 105 1 -86 1 86 1 -107 1 71 1 -64 1 69 1 -52 1 52 1 -51 1 63 1 -83 1 84 1 -89 1 109 1 -116 1 114 1 -82 1 74 1 -90 1 82 1 -78 1 50 1 -85 1 93 1 -74 1 75 1 -62 1 146 1 -170 1 94 1 -70 1 66 1 -39 1 54 1 -87 1 69 1 -44 1 60 1 -48 1 69 1 -59 1 28 1 -78 1 104 1 -106 1 105 1 -64 1 61 1 -71 1 31 1 -68 1 96 1 -61 1 44 1 -46 1 59 1 -46 1 44 1 -61 1 56 1 -36 1 42 1 -89 1 72 1 -36 1 42 1 -36 1 49 1 -59 1 49 1 -30 1 32 1 -47 1 61 1 -83 1 63 1 -46 1 50 1 -76 1 78 1 -72 1 58 1 -56 1 45 1 -21 1 40 1 -61" fill="none" stroke="#0000ff" stroke-width="1.0" stroke-linejoin="round" opacity="1.0"/>
<path transform="matrix(0.5 0 0 0.1 0 0)" vector-effect="non-scaling-stroke" d="M1336.71 5910l1 97 1 -45 1 54 1 -83 1 59 1 -46 1 39 1 -50 1 55 1 -40 1 47 1 -49 1 40 1 -91 1 82 1 -70 1 120 1 -139 1 106 1 -84 1 174 1 -153 1 53 1 -79 1 75 1 -87 1 81 1 -49 1 72 1 -83 1 86 1 -99 1 78 1 -55 1 84 1 -124 1 97 1 -34 1 44 1 -60 1 70 1 -74 1 64 1 -69 1 86 1 -100 1 110 1 -87 1 50 1 -59 1 66 1 -65 1 112 1 -92 1 67 1 -99 1 86 1 -43 1 30 1 -48 1 69 1 -63 1 80 1 -128 1 96 1 -47 1 63 1 -98 1 99 1 -71 1 69 1 -91 1 73 1 -51 1 51 1 -81 1 107 1 -80 1 93 1 -124 1 114 1 -86 1 68 1 -43 1 69 1 -110 1 91 1 -86 1 114 1 -86 1 80 1 -80 1 91 1 -78 1 49 1 -104 1 -99 1 134 1 82 1 -66 1 50 1 -59 1 67 1 -89 1 78 1 -101 1 104 1 -74 1 96 1 -80 1 60 1 -45 1 71 1 -82 1 104 1 -95 1 40 1 -41 1 72 1 -62 1 85 1 -93 1 81 1 -99 1 55 1 -66 1 56 1 -60 1 95 1 -99 1 69 1 -82 1 67 1 -61 1 64 1 -79 1 84 1 -79 1 99 1 -86 1 97 1 -69 1 73 1 -84 1 49 1 -44 1 111 1 -110 1 94 1 -138 1 126 1 -106 1 69 1 -55 1 51 1 -75 1 68 1 -46 1 62 1 -86 1 74 1 -93 1 139 1 -120 1 95 1 -96 1 96 1 -95 1 127 1 -101 1 58 1 -62 1 90 1 -63 1 75 1 -88 1 42 1 -42 1 89 1 -101 1 55 1 -52 1 80 1 -129 1 107 1 -48 1 92 1 -117 1 88 1 -70 1 134 1 -127 1 69 1 -66 1 117 1 -113 1 49 1 -48 1 74 1 -84 1 105 1 -139 1 161 1 -148 1 110 1 -76 1 122 1 -118 1 83 1 -95 1 40 1 -46 1 55 1 -50 1 42 1 -65 1 76 1 -48 1 51 1 -93 1 80 1 -73 1 91 1 -102 1 64 1 -44 1 119 1 -117 1 70 1 -59 1 72 1 -56 1 40 1 -58 1 87 1 -111 1 72 1 -64 1 140 1 -141 1 101 1 -69 1 60 1 -73 1 73 1 -67 1 59 1 -81 1 67 1 -67 1 58 1 -46 1 59 1 -57 1 74 1 -95 1 65 1 -90 1 150 1 -107 1 60 1 -44 1 55 1 -75 1 71 1 -79 1 99 1 -76 1 126 1 -148 1 100 1 -77 1 46 1 -76 1 102 1 -80 1 85 1 -91 1 131 1 -121 1 78 1 -121 1 137 1 -95 1 77 1 -140 1 143 1 -91 1 126 1 -114 1 146 1 -129 1 52 1 -50 1 57 1 -69 1 96 1 -105 1 116 1 -148 1 135 1 -115 1 110 1 -113 1 92 1 -114 1 151 1 -118 1 126 1 -133 1 94 1 -72 1 116 1 -139 1 121 1 -140 1 88 1 -54 1 60 1 -95 1 92 1 -63 1 66 1 -74 1 125 1 -123 1 79 1 -58 1 79 1 -87 1 81 1 -119 1 99 1 -110 1 121 1 -92 1 60 1 -86 1 147 1 -122 1 94 1 -131 1 117 1 -58 1 61 1 -141 1 140 1 -58 1 85 1 -117 1 75 1 -69 1 115 1 -112 1 70 1 -68 1 316 1 -309 1 81 1 -144 1 140 1 -54 1 70 1 -103 1 128 1 -121 1 114 1 -116 1 84 1 -95 1 79 1 -92 1 114 1 -112 1 152 1 -116 1 108 1 -78 1 60 1 -103 1 116 1 -80 1 122 1 -119 1 57 1 -81 1 148 1 -214 1 132 1 -76 1 105 1 -122 1 95 1 -77 1 114 1 -95 1 -209 1 208 1 101 1 -132 1 168 1 -205 1 147 1 -107 1 122 1 -83 1 72 1 -128 1 84 1 -60 1 79 1 -87 1 78 1 -64 1 133 1 -146 1 128 1 -154 1 112 1 -82 1 100 1 -146 1 127 1 -75 1 62 1 -47 1 62 1 -110 1 115 1 -91 1 143 1 -177 1 210 1 -166 1 87 1 -66 1 97 1 -140 1 159 1 -162 1 100 1 -169 1 204 1 -145 1 143 1 -128 1 154 1 -106 1 83 1 -143 1 137 1 -95 1 147 1 -199 1 169 1 -126 1 133 1 -107 1 111 1 -175 1 101 1 -198 1 263 1 -158 1 121 1 -184 1 174 1 -49 1 90 1 -93 1 107 1 -151 1 155 1 -121 1 135 1 -223 1 170 1 -209 1 270 1 -188 1 103 1 -75 1 116 1 -100 1 117 1 -124 1 91 1 -172 1 170 1 -128 1 144 1 -157 1 127 1 -123 1 108 1 -108 1 131 1 -266 1 266 1 -81 1 328 1 -380 1 200 1 -206 1 141 1 -85 1 105 1 -213 1 168 1 -122 1 166 1 -125 1 112 1 -239 1 195 1 -119 1 163 1 -185 1 184 1 -141 1 114 1 -97 1 108 1 -96 1 141 1 -127 1 76 1 -123 1 153 1 -120 1 133 1 -203 1 165 1 -121 1 190 1 -164 1 141 1 -123 1 93 1 -84 1 87 1 -116 1 155 1 -194 1 131 1 -111 1 215 1 -206 1 104 1 -88 1 155 1 -221 1 157 1 -140 1 193 1 -145 1 141 1 -155 1 115 1 -108 1 94 1 -123 1 105 1 -74 1 90 1 -197 1 185 1 -89 1 149 1 -153 1 149 1 -224 1 223 1 -182 1 220 1 -182 1 91 1 -146 1 161 1 -123 1 164 1 -109 1 81 1 -86 1 163 1 -154 1 77 1 -168 1 186 1 -145 1 183 1 -171 1 139 1 -213 1 281 1 -186 1 145 1 -172 1 151 1 -129 1 95 1 -93 1 220 1 -287 1 208 1 -134 1 83 1 -71 1 80 1 -211 1 249 1 -105 1 121 1 -112 1 131 1 -207 1 182 1 -165 1 123 1 -122 1 202 1 -253 1 213 1 -193 1 165 1 -126 1 112 1 -143 1 121 1 -91 1 111 1 -140 1 169 1 -138 1 174 1 -189 1 156 1 -110 1 124 1 -155 1 147 1 -126 1 176 1 -218 1 177 1 -203 1 193 1 -178 1 132 1 -98 1 325 1 -284 1 102 1 -154 1 140 1 -151 1 127 1 -77 1 77 1 -114 1 119 1 -170 1 249 1 -243 1 184 1 -125 1 172 1 -164 1 59 1 -82 1 82 1 -149 1 176 1 -87 1 118 1 -99 1 118 1 -117 1 65 1 -126 1 203 1 -172 1 98 1 -145 1 146 1 -173 1 168 1 -99 1 105 1 -195 1 206 1 -113 1 128 1 -87 1 98 1 -128 1 177 1 -190 1 139 1 -127 1 103 1 -80 1 101 1 -115 1 174 1 -169 1 112 1 -81 1 143 1 -144 1 88 1 -152 1 114 1 -122 1 168 1 -135 1 107 1 -93 1 70 1 -72 1 80 1 -128 1 162 1 -128 1 62 1 -97 1 113 1 -113 1 129 1 -131 1 115 1 -92 1 92 1 -81 1 137 1 -133 1 102 1 -95 1 129 1 -199 1 243 1 -218 1 134 1 -109 1 100 1 -120 1 126 1 -103 1 85 1 -94 1 138 1 -152 1 116 1 -92 1 96 1 -122 1 159 1 -103 1 61 1 -122 1 160 1 -194 1 228 1 -150 1 105 1 -92 1 102 1 -121 1 102 1 -118 1 112 1 -206 1 234 1 -107 1 74 1 -98 1 102 1 -101 1 175 1 -175 1 114 1 -94 1 128 1 -129 1 152 1 -136 1 122 1 -152 1 95 1 -81 1 105 1 -149 1 214 1 -256 1 154 1 -158 1 148 1 -75 1 116 1 -145 1 390 1 -553 1 280 1 -145 1 123 1 -83 1 147 1 -496 1 447 1 -94 1 101 1 -105 1 105 1 -114 1 90 1 -107 1 150 1 -127 1 79 1 -131 1 167 1 -122 1 133 1 -141 1 119 1 -179 1 218 1 -173 1 112 1 -86 1 110 1 -128 1 185 1 -147 1 108 1 -193 1 152 1 -68 1 129 1 -112 1 65 1 -86 1 96 1 -82 1 87 1 -102 1 106 1 -125 1 116 1 -87 1 102 1 -137 1 112 1 -58 1 56 1 -59 1 96 1 -161 1 174 1 -125 1 81 1 -98 1 61 1 -77 1 83 1 -60 1 46 1 -39 1 41 1 -47 1 53 1 -91 1 83 1 -77 1 102 1 -64 1 75 1 -59 1 80 1 -97 1 65 1 -47 1 47 1 -79 1 99 1 -91 1 78 1 -122 1 149 1 -109 1 92 1 -59 1 63 1 -84 1 95 1 -177 1 162 1 -72 1 52 1 -62 1 67 1 -58 1 65 1 -79 1 55 1 -33 1 97 1 -104" fill="none" stroke="#00ee00" stroke-width="1.0" stroke-linejoin="round" opacity="1.0"/>
<path transform="matrix(0.5 0 0 0.1 0 0)" vector-effect="non-scaling-stroke" d="M1336.71 5904l1 54 1 -61 1 60 1 -45 1 66 1 -47 1 52 1 -48 1 41 1 -36 1 53 1 -81 1 60 1 -62 1 50 1 -54 1 71 1 -43 1 43 1 -80 1 125 1 -117 1 80 1 -65 1 41 1 -56 1 72 1 -55 1 35 1 -38 1 55 1 -74 1 93 1 -78 1 38 1 -46 1 78 1 -81 1 58 1 -59 1 79 1 -77 1 59 1 -51 1 54 1 -35 1 31 1 -75 1 79 1 -48 1 29 1 -28 1 32 1 -42 1 52 1 -56 1 73 1 -55 1 51 1 -56 1 52 1 -46 1 47 1 -70 1 84 1 -63 1 55 1 -49 1 42 1 -43 1 40 1 -54 1 70 1 -91 1 72 1 -42 1 44 1 -37 1 42 1 -53 1 62 1 -76 1 61 1 -88 1 83 1 -48 1 56 1 -47 1 44 1 -55 1 51 1 -45 1 46 1 -59 1 78 1 -59 1 48 1 -67 1 60 1 -53 1 69 1 -70 1 57 1 -63 1 49 1 -38 1 76 1 -84 1 78 1 -84 1 89 1 -65 1 85 1 -96 1 68 1 -74 1 60 1 -47 1 56 1 -51 1 45 1 -50 1 44 1 -39 1 38 1 -41 1 33 1 -70 1 70 1 -48 1 72 1 -68 1 80 1 -71 1 43 1 -48 1 69 1 -81 1 56 1 -49 1 45 1 -38 1 44 1 -51 1 58 1 -46 1 64 1 -65 1 42 1 -34 1 39 1 -64 1 61 1 -55 1 55 1 -39 1 37 1 -50 1 41 1 -67 1 67 1 -56 1 54 1 -52 1 64 1 -51 1 50 1 -70 1 65 1 -46 1 54 1 -50 1 47 1 -55 1 68 1 -59 1 75 1 -61 1 73 1 -84 1 45 1 -44 1 53 1 -82 1 81 1 -69 1 60 1 -49 1 70 1 -65 1 63 1 -65 1 67 1 -53 1 43 1 -36 1 56 1 -60 1 70 1 -88 1 73 1 -59 1 55 1 -84 1 97 1 -89 1 59 1 -85 1 96 1 -106 1 99 1 -44 1 57 1 -66 1 50 1 -43 1 52 1 -74 1 94 1 -104 1 68 1 -51 1 78 1 -89 1 64 1 -51 1 58 1 -55 1 55 1 -60 1 97 1 -142 1 94 1 -73 1 72 1 -44 1 67 1 -60 1 81 1 -89 1 71 1 -75 1 75 1 -70 1 53 1 -40 1 37 1 -68 1 87 1 -74 1 109 1 -111 1 66 1 -54 1 46 1 -72 1 110 1 -85 1 84 1 -75 1 59 1 -92 1 86 1 -48 1 45 1 -61 1 71 1 -69 1 52 1 -65 1 65 1 -47 1 45 1 -42 1 43 1 -56 1 90 1 -85 1 50 1 -80 1 80 1 -64 1 94 1 -79 1 62 1 -91 1 86 1 -67 1 79 1 -79 1 77 1 -66 1 51 1 -59 1 75 1 -72 1 55 1 -57 1 78 1 -93 1 66 1 -40 1 50 1 -48 1 71 1 -95 1 87 1 -65 1 67 1 -80 1 56 1 -86 1 99 1 -76 1 59 1 -49 1 89 1 -100 1 76 1 -103 1 93 1 -43 1 49 1 -92 1 138 1 -124 1 62 1 -63 1 90 1 -91 1 100 1 -99 1 74 1 -69 1 63 1 -60 1 97 1 -106 1 113 1 -135 1 104 1 -116 1 128 1 -103 1 82 1 -64 1 73 1 -82 1 77 1 -56 1 85 1 -114 1 128 1 -106 1 65 1 -80 1 69 1 -102 1 86 1 -44 1 51 1 -57 1 89 1 -125 1 104 1 -82 1 74 1 -77 1 77 1 -135 1 138 1 -47 1 73 1 -114 1 94 1 -62 1 81 1 -115 1 115 1 -100 1 96 1 -111 1 95 1 -62 1 75 1 -93 1 109 1 -104 1 121 1 -151 1 122 1 -107 1 127 1 -117 1 127 1 -90 1 68 1 -63 1 61 1 -154 1 152 1 -84 1 75 1 -66 1 55 1 -82 1 125 1 -97 1 76 1 -132 1 140 1 -69 1 61 1 -80 1 60 1 -76 1 94 1 -102 1 102 1 -95 1 95 1 -67 1 74 1 -75 1 79 1 -87 1 94 1 -81 1 76 1 -79 1 57 1 -77 1 88 1 -104 1 101 1 -126 1 143 1 -119 1 98 1 -117 1 102 1 -64 1 115 1 -136 1 79 1 -74 1 76 1 -90 1 119 1 -123 1 148 1 -123 1 66 1 -100 1 109 1 -93 1 92 1 -75 1 128 1 -184 1 191 1 -123 1 80 1 -105 1 117 1 -81 1 84 1 -104 1 82 1 -107 1 152 1 -176 1 115 1 -89 1 105 1 -68 1 59 1 -81 1 97 1 -104 1 100 1 -86 1 96 1 -136 1 131 1 -114 1 130 1 -147 1 139 1 -91 1 126 1 -169 1 145 1 -73 1 80 1 -100 1 106 1 -132 1 114 1 -161 1 143 1 -98 1 123 1 -132 1 141 1 -97 1 81 1 -98 1 107 1 -90 1 134 1 -136 1 50 1 -91 1 114 1 -129 1 136 1 -120 1 111 1 -121 1 104 1 -108 1 93 1 -71 1 86 1 -115 1 139 1 -200 1 180 1 -122 1 110 1 -58 1 116 1 -116 1 62 1 -68 1 68 1 -91 1 96 1 -80 1 89 1 -80 1 59 1 -72 1 81 1 -97 1 158 1 -129 1 134 1 -137 1 119 1 -131 1 109 1 -105 1 106 1 -117 1 116 1 -66 1 86 1 -83 1 99 1 -115 1 97 1 -94 1 83 1 -127 1 106 1 -116 1 97 1 -59 1 168 1 -184 1 116 1 -112 1 95 1 -107 1 158 1 -131 1 245 1 -294 1 130 1 -125 1 138 1 -125 1 99 1 -88 1 116 1 -105 1 153 1 -176 1 131 1 -111 1 91 1 -85 1 117 1 -153 1 113 1 -91 1 90 1 -145 1 154 1 -118 1 150 1 -122 1 74 1 -68 1 97 1 -107 1 104 1 -93 1 86 1 -72 1 70 1 -132 1 207 1 -176 1 128 1 -97 1 95 1 -85 1 58 1 -85 1 90 1 -109 1 172 1 -186 1 127 1 -111 1 93 1 -87 1 113 1 -115 1 87 1 -85 1 89 1 -90 1 97 1 -66 1 57 1 -91 1 115 1 -139 1 126 1 -119 1 167 1 -122 1 76 1 -127 1 140 1 -78 1 74 1 -69 1 68 1 -93 1 131 1 -146 1 107 1 -86 1 105 1 -104 1 91 1 -150 1 157 1 -149 1 154 1 -165 1 139 1 -137 1 153 1 -120 1 122 1 -102 1 112 1 -101 1 85 1 -112 1 98 1 -85 1 91 1 -176 1 221 1 -150 1 88 1 -73 1 110 1 -134 1 122 1 -90 1 70 1 -96 1 68 1 -58 1 62 1 -81 1 114 1 -124 1 91 1 -127 1 155 1 -120 1 125 1 -120 1 73 1 -70 1 74 1 -106 1 96 1 -62 1 80 1 -77 1 160 1 -188 1 118 1 -121 1 181 1 -152 1 96 1 -81 1 75 1 -93 1 102 1 -97 1 112 1 -123 1 134 1 -134 1 110 1 -122 1 140 1 -123 1 110 1 -106 1 138 1 -102 1 62 1 -97 1 102 1 -76 1 103 1 -119 1 110 1 -94 1 62 1 -95 1 105 1 -103 1 124 1 -93 1 82 1 -114 1 150 1 -124 1 99 1 -140 1 146 1 -98 1 78 1 -67 1 90 1 -123 1 114 1 -159 1 172 1 -118 1 65 1 -75 1 89 1 -78 1 118 1 -114 1 66 1 -57 1 87 1 -87 1 76 1 -105 1 111 1 -62 1 64 1 -91 1 84 1 -83 1 88 1 -153 1 171 1 -76 1 90 1 -104 1 104 1 -171 1 162 1 -86 1 58 1 -124 1 136 1 -80 1 79 1 -99 1 122 1 -97 1 120 1 -121 1 107 1 -163 1 118 1 -96 1 115 1 -122 1 125 1 -68 1 137 1 -178 1 121 1 -96 1 98 1 -91 1 79 1 -105 1 111 1 -126 1 97 1 -71 1 84 1 -101 1 107 1 -95 1 81 1 -60 1 61 1 -88 1 140 1 -118 1 94 1 -81 1 63 1 -65 1 50 1 -83 1 84 1 -80 1 81 1 -54 1 62 1 -77 1 78 1 -92 1 87 1 -78 1 57 1 -56 1 55 1 -59 1 61 1 -68 1 74 1 -60 1 67 1 -70 1 54 1 -52 1 61 1 -104 1 80 1 -39 1 48 1 -57 1 58 1 -53 1 53 1 -60 1 81 1 -81 1 65 1 -73 1 55 1 -40 1 38 1 -44 1 57 1 -50 1 63 1 -57 1 53 1 -52 1 66 1 -57 1 56 1 -53 1 54 1 -64 1 55 1 -49 1 36 1 -35 1 66 1 -74 1 45 1 -29 1 43 1 -39 1 47 1 -56 1 87 1 -88 1 54 1 -41 1 50 1 -60" fill="none" stroke="#ff0000" stroke-width="1.0" stroke-linejoin="round" opacity="1.0"/>
<path d="M668.4 595.2H1122.5" stroke="#000" stroke-width="1.5" stroke-dasharray="5.5 3"/>
<path d="M744.3 632.3V706.3" stroke="#009900" stroke-width="1.2" stroke-dasharray="6 3.5" opacity="1"/>
<path d="M788.7 632.3V706.3" stroke="#ff3030" stroke-width="1.6" stroke-dasharray="6 3.5" opacity="0.9"/>
<path d="M877.8 632.3V706.3" stroke="#ff3030" stroke-width="1.6" stroke-dasharray="6 3.5" opacity="0.9"/>
<path d="M905.2 632.3V706.3" stroke="#0000ee" stroke-width="1.2" stroke-dasharray="1.5 1.5" opacity="1"/>
<path d="M919.9 632.3V706.3" stroke="#ff00ff" stroke-width="1.2" stroke-dasharray="1.5 1.5" opacity="1"/>
<path d="M922.3 632.3V706.3" stroke="#009900" stroke-width="1.2" stroke-dasharray="6 3.5" opacity="1"/>
<path d="M1068.7 632.3V706.3" stroke="#ff00ff" stroke-width="1.2" stroke-dasharray="1.5 1.5" opacity="1"/>
<path transform="matrix(0.5 0 0 0.1 0 0)" vector-effect="non-scaling-stroke" d="M1336.71 6810l1 54 1 -68 1 50 1 -82 1 94 1 -53 1 40 1 -45 1 26 1 -293 1 428 1 -192 1 54 1 -84 1 209 1 -153 1 88 1 -131 1 85 1 -32 1 30 1 -29 1 40 1 -63 1 85 1 -59 1 44 1 -65 1 198 1 -207 1 77 1 -72 1 53 1 -23 1 33 1 -30 1 23 1 -25 1 46 1 -55 1 84 1 -101 1 31 1 -35 1 45 1 -56 1 59 1 -44 1 46 1 -32 1 59 1 -60 1 38 1 -133 1 340 1 -240 1 27 1 -46 1 66 1 -61 1 38 1 -54 1 52 1 -37 1 72 1 -87 1 64 1 -58 1 80 1 -63 1 40 1 -60 1 80 1 -66 1 52 1 -40 1 37 1 -66 1 88 1 -108 1 84 1 -33 1 46 1 -61 1 49 1 -75 1 71 1 -31 1 29 1 -35 1 35 1 -41 1 55 1 -83 1 77 1 -53 1 37 1 -55 1 58 1 -45 1 65 1 -62 1 37 1 -48 1 48 1 -60 1 73 1 -67 1 65 1 -41 1 48 1 -45 1 35 1 -86 1 115 1 -83 1 51 1 -32 1 55 1 -71 1 49 1 -56 1 116 1 -108 1 277 1 -255 1 68 1 -66 1 45 1 -81 1 82 1 -128 1 124 1 -72 1 65 1 -51 1 42 1 -58 1 98 1 -114 1 83 1 -40 1 40 1 -43 1 36 1 -69 1 65 1 -40 1 59 1 -67 1 64 1 -39 1 46 1 -62 1 75 1 -105 1 105 1 -66 1 64 1 -62 1 96 1 -131 1 61 1 -89 1 98 1 -52 1 77 1 -80 1 62 1 -52 1 38 1 -37 1 45 1 -53 1 42 1 -35 1 65 1 -54 1 64 1 -73 1 54 1 -51 1 44 1 -42 1 33 1 -40 1 51 1 -61 1 52 1 -46 1 50 1 -51 1 87 1 -83 1 38 1 -30 1 40 1 -68 1 64 1 -54 1 54 1 -43 1 41 1 -80 1 70 1 -40 1 66 1 -64 1 39 1 -43 1 65 1 -51 1 71 1 -65 1 33 1 -31 1 37 1 -67 1 79 1 -79 1 66 1 -33 1 27 1 -56 1 64 1 -42 1 46 1 -46 1 39 1 -84 1 75 1 -36 1 87 1 -151 1 103 1 -60 1 -70 1 103 1 58 1 -82 1 85 1 -93 1 72 1 -74 1 126 1 -138 1 66 1 -34 1 34 1 -40 1 90 1 -128 1 92 1 -58 1 55 1 -220 1 220 1 -60 1 55 1 -55 1 69 1 -45 1 57 1 -93 1 97 1 -98 1 123 1 -92 1 63 1 -86 1 99 1 -64 1 31 1 -28 1 74 1 -108 1 88 1 -98 1 57 1 -57 1 96 1 -85 1 91 1 -64 1 29 1 -23 1 32 1 -44 1 53 1 -79 1 96 1 -81 1 57 1 -43 1 39 1 -40 1 52 1 -48 1 46 1 -65 1 82 1 -66 1 51 1 -70 1 88 1 -67 1 75 1 -67 1 38 1 -72 1 101 1 -91 1 86 1 -93 1 66 1 -77 1 76 1 -60 1 89 1 -96 1 71 1 -38 1 20 1 -26 1 37 1 -51 1 54 1 -56 1 34 1 -69 1 86 1 -37 1 47 1 -49 1 23 1 -25 1 34 1 -62 1 69 1 -95 1 79 1 -68 1 77 1 -50 1 38 1 -90 1 78 1 -39 1 49 1 -62 1 59 1 -34 1 105 1 -113 1 62 1 -54 1 93 1 -63 1 51 1 -112 1 121 1 -57 1 49 1 -117 1 152 1 -88 1 38 1 -44 1 81 1 -116 1 117 1 -74 1 61 1 -88 1 106 1 -86 1 38 1 -115 1 132 1 -59 1 65 1 -119 1 91 1 -60 1 55 1 -35 1 125 1 -129 1 51 1 -54 1 75 1 -68 1 57 1 -96 1 91 1 -61 1 109 1 -108 1 64 1 -68 1 87 1 -88 1 50 1 -47 1 33 1 -46 1 73 1 -75 1 69 1 -46 1 102 1 -120 1 130 1 -122 1 60 1 -140 1 -4 1 43 1 121 1 -87 1 57 1 -61 1 66 1 -46 1 60 1 -103 1 113 1 -81 1 72 1 -44 1 31 1 -52 1 64 1 -44 1 63 1 -122 1 99 1 -89 1 141 1 -108 1 48 1 -159 1 137 1 -65 1 74 1 -63 1 77 1 -69 1 75 1 -97 1 84 1 -92 1 117 1 -74 1 65 1 -115 1 142 1 -136 1 113 1 -77 1 81 1 -68 1 46 1 -40 1 73 1 -102 1 131 1 -110 1 57 1 -74 1 111 1 -142 1 135 1 -91 1 50 1 -73 1 -119 1 97 1 88 1 -66 1 99 1 -218 1 -86 1 220 1 86 1 -44 1 80 1 -89 1 -487 1 477 1 62 1 -49 1 -341 1 315 1 69 1 -53 1 261 1 -303 1 -261 1 270 1 116 1 -95 1 110 1 56 1 -93 1 -67 1 49 1 -97 1 124 1 -77 1 46 1 -178 1 143 1 -49 1 117 1 -136 1 304 1 -331 1 149 1 -128 1 159 1 -200 1 210 1 -188 1 124 1 -69 1 49 1 -71 1 174 1 -316 1 265 1 -166 1 212 1 -197 1 170 1 -125 1 -121 1 60 1 199 1 -149 1 157 1 -163 1 215 1 -196 1 243 1 -238 1 102 1 -143 1 183 1 -114 1 69 1 -83 1 81 1 -51 1 113 1 -201 1 200 1 -122 1 97 1 -98 1 -132 1 101 1 132 1 -178 1 115 1 -72 1 110 1 -117 1 87 1 -84 1 107 1 -94 1 95 1 -76 1 71 1 -87 1 109 1 -136 1 108 1 -168 1 148 1 -129 1 106 1 -53 1 105 1 -143 1 101 1 -84 1 95 1 -95 1 104 1 -92 1 101 1 -115 1 164 1 -151 1 122 1 -94 1 97 1 -142 1 -83 1 118 1 120 1 -99 1 68 1 -67 1 95 1 -158 1 129 1 -79 1 107 1 -91 1 84 1 -118 1 85 1 -115 1 103 1 -73 1 143 1 -129 1 68 1 -86 1 109 1 -80 1 99 1 -90 1 264 1 -256 1 -136 1 127 1 64 1 -102 1 104 1 -113 1 115 1 -121 1 83 1 -66 1 99 1 -117 1 160 1 -182 1 179 1 -181 1 222 1 -179 1 142 1 -310 1 309 1 -234 1 189 1 -78 1 59 1 -128 1 146 1 -96 1 -77 1 56 1 216 1 -203 1 105 1 -77 1 75 1 -54 1 98 1 -131 1 129 1 -116 1 84 1 -82 1 91 1 -123 1 115 1 -122 1 101 1 -86 1 107 1 -72 1 58 1 -81 1 86 1 -90 1 138 1 -141 1 126 1 -130 1 101 1 -87 1 99 1 -155 1 162 1 -82 1 51 1 -80 1 147 1 -148 1 -99 1 49 1 136 1 -86 1 86 1 -78 1 144 1 -174 1 178 1 -132 1 157 1 -248 1 218 1 -169 1 185 1 -204 1 162 1 -120 1 111 1 -125 1 124 1 -107 1 46 1 -66 1 75 1 -116 1 117 1 -163 1 194 1 -307 1 246 1 -105 1 134 1 -108 1 134 1 -132 1 131 1 -144 1 142 1 -111 1 146 1 -148 1 166 1 -125 1 69 1 -62 1 75 1 -80 1 88 1 -138 1 138 1 -112 1 124 1 -151 1 109 1 -104 1 116 1 -127 1 194 1 -157 1 81 1 -101 1 97 1 -61 1 60 1 -65 1 123 1 -167 1 109 1 -68 1 -118 1 39 1 164 1 -125 1 164 1 -116 1 112 1 -105 1 107 1 -171 1 164 1 -89 1 51 1 -80 1 127 1 -110 1 66 1 -110 1 107 1 -116 1 122 1 -87 1 -157 1 108 1 175 1 -139 1 -201 1 178 1 142 1 -159 1 158 1 -102 1 50 1 -64 1 297 1 -305 1 84 1 -64 1 59 1 -35 1 122 1 -446 1 379 1 -74 1 144 1 -137 1 61 1 -78 1 225 1 -210 1 99 1 -114 1 82 1 -73 1 97 1 -91 1 -139 1 96 1 149 1 -117 1 87 1 -68 1 48 1 -102 1 112 1 -47 1 100 1 -108 1 152 1 -165 1 69 1 -45 1 90 1 -103 1 41 1 -44 1 46 1 -69 1 156 1 -158 1 70 1 -61 1 58 1 -58 1 56 1 -50 1 41 1 -36 1 48 1 -74 1 86 1 -59 1 89 1 -91 1 83 1 -79 1 98 1 -99 1 87 1 -95 1 83 1 -61 1 64 1 -74 1 58 1 -59 1 61 1 -38 1 68 1 -87 1 45 1 -37 1 54 1 -89 1 64 1 -39 1 57 1 -47 1 37 1 -53 1 61 1 -40 1 42 1 -51 1 90 1 -111 1 72 1 -82 1 69 1 -34 1 33 1 -49 1 81 1 -91 1 63 1 -36 1 48 1 -98 1 89 1 -47 1 43 1 -46" fill="none" stroke="#000000" stroke-width="1.0" stroke-linejoin="round" opacity="1.0"/>
<path d="M77.0 37.9H95.5" stroke="#ff3a3a" stroke-width="2" stroke-dasharray="4.5 2.5"/>
<text x="96.5" y="40.6" font-size="8.5" fill="#ff0000" xml:space="preserve"><tspan font-size="8.5">t  </tspan><tspan font-size="8.5">cs</tspan></text>
<path d="M77.0 45.5H95.5" stroke="#00a000" stroke-width="1.5" stroke-dasharray="4.5 2.5"/>
<text x="96.5" y="48.3" font-size="8.5" fill="#229922" xml:space="preserve">t  HT</text>
<text x="96.5" y="56.5" font-size="8.5" fill="#33ff33" xml:space="preserve">t  MVAB</text>
<path d="M77.0 60.8H95.5" stroke="#b0b0b0" stroke-width="3" stroke-dasharray="5 2"/>
<text x="96.5" y="63.6" font-size="8.5" fill="#b8b8b8" xml:space="preserve">t  BLminmax</text>
<path d="M77.0 68.4H95.5" stroke="#7070ff" stroke-width="1.3" stroke-dasharray="3.5 2.5"/>
<text x="96.5" y="71.9" font-size="9" fill="#1010ff" xml:space="preserve">BL, 50% of BL</text>
<path d="M77.0 76.3H95.5" stroke="#3030ff" stroke-width="1.3"/>
<text x="96.5" y="79.7" font-size="9" fill="#1010ff" xml:space="preserve">BL  brst</text>
<path d="M77.0 84.0H95.5" stroke="#b0b0b0" stroke-width="3"/>
<text x="96.5" y="87.2" font-size="9" fill="#777777" xml:space="preserve">|B|</text>
<path d="M72.2 188.5H96.0" stroke="#3030ff" stroke-width="1.2"/>
<text x="96.6" y="191.8" font-size="9.5" fill="#2020ff" xml:space="preserve"><tspan font-size="9.5">B</tspan><tspan font-size="7" dy="3.5">L</tspan></text>
<path d="M77.6 211.1H95.0" stroke="#33ee33" stroke-width="1.2"/>
<text x="96.6" y="214.4" font-size="9.5" fill="#22ee22" xml:space="preserve"><tspan font-size="9.5">B</tspan><tspan font-size="7" dy="3.5">M</tspan></text>
<path d="M76.4 233.7H95.5" stroke="#ff6060" stroke-width="2"/>
<text x="96.6" y="237.0" font-size="9.5" fill="#ff0000" xml:space="preserve"><tspan font-size="9.5">B</tspan><tspan font-size="7" dy="3.5">N</tspan></text>
<path d="M669.3 54.5H693.1" stroke="#3030ff" stroke-width="1.2"/>
<text x="693.7" y="57.8" font-size="9.5" fill="#2020ff" xml:space="preserve"><tspan font-size="9.5">B</tspan><tspan font-size="7" dy="3.5">L</tspan></text>
<path d="M674.7 78.5H692.1" stroke="#33ee33" stroke-width="1.2"/>
<text x="693.7" y="81.8" font-size="9.5" fill="#22ee22" xml:space="preserve"><tspan font-size="9.5">B</tspan><tspan font-size="7" dy="3.5">M</tspan></text>
<path d="M673.5 102.5H692.6" stroke="#ff6060" stroke-width="2"/>
<text x="693.7" y="105.8" font-size="9.5" fill="#ff0000" xml:space="preserve"><tspan font-size="9.5">B</tspan><tspan font-size="7" dy="3.5">N</tspan></text>
<path d="M77.0 316.8H93.6" stroke="#00a000" stroke-width="1.3" stroke-dasharray="4 2"/>
<text x="94.6" y="320.5" font-size="8.5" fill="#44aa22" xml:space="preserve">t  HT</text>
<path d="M77.0 323.5H93.6" stroke="#00bbff" stroke-width="1.3" stroke-dasharray="1.5 1"/>
<text x="94.6" y="326.9" font-size="8.5" fill="#00aaff" xml:space="preserve">t  vmax</text>
<path d="M77.0 330.8H93.6" stroke="#ff3030" stroke-width="1.5" stroke-dasharray="4 2"/>
<text x="94.6" y="334.3" font-size="8.5" fill="#ff2020" xml:space="preserve">t  cs</text>
<path d="M77.0 337.9H93.6" stroke="#0000ee" stroke-width="1.3" stroke-dasharray="1.5 1"/>
<text x="94.6" y="341.3" font-size="8.5" fill="#0000ee" xml:space="preserve">t  dvmax</text>
<path d="M77.0 344.6H93.6" stroke="#333333" stroke-width="1.0"/>
<text x="94.6" y="348.0" font-size="8.5" fill="#777777" xml:space="preserve"><tspan font-size="8.5">|V</tspan><tspan font-size="7" dy="3.5">i</tspan></text>
<path d="M77.0 388.5H95.0" stroke="#3030ff" stroke-width="1.2"/>
<text x="96.0" y="392.0" font-size="9.5" fill="#2020ff" xml:space="preserve"><tspan font-size="9.5">V</tspan><tspan font-size="7" dy="3.5">L</tspan></text>
<path d="M77.0 403.7H95.0" stroke="#33ee33" stroke-width="1.2"/>
<text x="96.0" y="407.2" font-size="9.5" fill="#22ee22" xml:space="preserve"><tspan font-size="9.5">V</tspan><tspan font-size="7" dy="3.5">M</tspan></text>
<path d="M77.0 418.9H95.0" stroke="#ff6060" stroke-width="1.5"/>
<text x="96.0" y="422.4" font-size="9.5" fill="#ff0000" xml:space="preserve"><tspan font-size="9.5">V</tspan><tspan font-size="7" dy="3.5">N</tspan></text>
<path d="M77.6 456.9H94.9" stroke="#ff5050" stroke-width="1.3"/>
<text x="95.9" y="460.4" font-size="9.5" fill="#ff2020" xml:space="preserve">Ne</text>
<path d="M77.6 470.6H94.9" stroke="#444444" stroke-width="1.3"/>
<text x="95.9" y="473.9" font-size="9.5" fill="#111133" xml:space="preserve">Ni</text>
<path d="M76.4 523.4H94.4" stroke="#00dd00" stroke-width="1.2"/>
<circle cx="85.4" cy="523.4" r="2" fill="#00dd00"/>
<text x="95.4" y="526.4" font-size="8.5" fill="#22dd22" xml:space="preserve">N  He+</text>
<path d="M76.4 532.4H94.4" stroke="#ff0000" stroke-width="1.2"/>
<circle cx="85.4" cy="532.4" r="2" fill="#ff0000"/>
<text x="95.4" y="535.4" font-size="8.5" fill="#ff0000" xml:space="preserve">N  He++</text>
<path d="M76.4 540.8H94.4" stroke="#0000ff" stroke-width="1.2"/>
<circle cx="85.4" cy="540.8" r="2" fill="#0000ff"/>
<text x="95.4" y="543.8" font-size="8.5" fill="#0000ff" xml:space="preserve">N  O+</text>
<path d="M77.6 596.4H95.0" stroke="#ff4040" stroke-width="1.2"/>
<text x="96.0" y="599.8" font-size="9.5" fill="#ff0000" xml:space="preserve"><tspan font-size="9.5">T</tspan><tspan font-size="7" dy="3.5">||</tspan></text>
<path d="M77.6 614.9H95.0" stroke="#444444" stroke-width="1.2"/>
<text x="96.0" y="618.2" font-size="9.5" fill="#000000" xml:space="preserve"><tspan font-size="9.5">T</tspan><tspan font-size="7" dy="3.5">⊥</tspan></text>
<path d="M77.6 660.9H95.0" stroke="#44ee44" stroke-width="1.2"/>
<text x="96.0" y="664.3" font-size="9.5" fill="#33ee33" xml:space="preserve"><tspan font-size="9.5">P</tspan><tspan font-size="7" dy="3.5">p</tspan></text>
<path d="M77.6 671.8H95.0" stroke="#ff5050" stroke-width="1.5"/>
<text x="96.0" y="675.2" font-size="9.5" fill="#ff0000" xml:space="preserve"><tspan font-size="9.5">P</tspan><tspan font-size="7" dy="3.5">e</tspan></text>
<path d="M77.6 682.6H95.0" stroke="#555555" stroke-width="1.2"/>
<text x="96.0" y="686.0" font-size="9.5" fill="#222222" xml:space="preserve"><tspan font-size="9.5">P</tspan><tspan font-size="7" dy="3.5">b</tspan></text>
<path d="M77.6 693.4H95.0" stroke="#3030ff" stroke-width="1.2"/>
<text x="96.0" y="696.8" font-size="9.5" fill="#2020ff" xml:space="preserve"><tspan font-size="9.5">P</tspan><tspan font-size="7" dy="3.5">tot</tspan></text>
<path d="M674.2 197.9H691.6" stroke="#3030ff" stroke-width="1.2"/>
<text x="692.6" y="201.4" font-size="9.5" fill="#2020ff" xml:space="preserve"><tspan font-size="9.5">V</tspan><tspan font-size="7" dy="3.5">L</tspan></text>
<path d="M674.2 214.0H691.6" stroke="#33ee33" stroke-width="1.2"/>
<text x="692.6" y="217.5" font-size="9.5" fill="#22ee22" xml:space="preserve"><tspan font-size="9.5">V</tspan><tspan font-size="7" dy="3.5">M</tspan></text>
<path d="M674.2 230.0H691.6" stroke="#ff6060" stroke-width="1.5"/>
<text x="692.6" y="233.5" font-size="9.5" fill="#ff0000" xml:space="preserve"><tspan font-size="9.5">V</tspan><tspan font-size="7" dy="3.5">N</tspan></text>
<path d="M674.2 271.1H691.6" stroke="#ff4040" stroke-width="1.2"/>
<text x="692.6" y="274.5" font-size="9.5" fill="#ff0000" xml:space="preserve"><tspan font-size="9.5">T</tspan><tspan font-size="7" dy="3.5">||</tspan></text>
<path d="M674.2 285.8H691.6" stroke="#444444" stroke-width="1.2"/>
<text x="692.6" y="289.2" font-size="9.5" fill="#000000" xml:space="preserve"><tspan font-size="9.5">T</tspan><tspan font-size="7" dy="3.5">⊥</tspan></text>
<path d="M674.2 342.2H691.6" stroke="#3030ff" stroke-width="1.2"/>
<text x="696.2" y="345.6" font-size="9.5" fill="#2020ff" xml:space="preserve"><tspan font-size="9.5">E</tspan><tspan font-size="7" dy="3.5">L</tspan></text>
<path d="M674.2 352.3H691.6" stroke="#33ee33" stroke-width="1.2"/>
<text x="696.2" y="355.7" font-size="9.5" fill="#22ee22" xml:space="preserve"><tspan font-size="9.5">E</tspan><tspan font-size="7" dy="3.5">M</tspan></text>
<path d="M674.2 362.4H691.6" stroke="#ff5050" stroke-width="1.2"/>
<text x="696.2" y="365.8" font-size="9.5" fill="#ff0000" xml:space="preserve"><tspan font-size="9.5">E</tspan><tspan font-size="7" dy="3.5">N</tspan></text>
<path d="M674.2 417.3H691.6" stroke="#555555" stroke-width="1.2"/>
<text x="692.6" y="420.6" font-size="9" fill="#222222" xml:space="preserve"><tspan font-size="9">-(VexB)</tspan><tspan font-size="7" dy="3.5">M</tspan></text>
<path d="M674.2 428.3H691.6" stroke="#33ee33" stroke-width="1.2"/>
<text x="692.6" y="431.7" font-size="9.5" fill="#22ee22" xml:space="preserve"><tspan font-size="9.5">E</tspan><tspan font-size="7" dy="3.5">M</tspan></text>
<path d="M674.2 501.1H691.6" stroke="#555555" stroke-width="1.2"/>
<text x="692.6" y="504.4" font-size="9" fill="#222222" xml:space="preserve">|J|</text>
<path d="M674.2 562.5H691.6" stroke="#ff00ff" stroke-width="1.5" stroke-dasharray="1.5 1"/>
<text x="692.6" y="565.6" font-size="8.5" fill="#ee00ee" xml:space="preserve">t  maxJ</text>
<path d="M674.2 570.0H691.6" stroke="#3030ff" stroke-width="1.2"/>
<text x="692.6" y="573.2" font-size="9" fill="#2020ff" xml:space="preserve"><tspan font-size="9">J</tspan><tspan font-size="7" dy="3.5">L</tspan></text>
<path d="M674.2 577.5H691.6" stroke="#33ee33" stroke-width="1.2"/>
<text x="692.6" y="580.7" font-size="9" fill="#22ee22" xml:space="preserve"><tspan font-size="9">J</tspan><tspan font-size="7" dy="3.5">M</tspan></text>
<path d="M674.2 585.0H691.6" stroke="#ff5050" stroke-width="1.5"/>
<text x="692.6" y="588.2" font-size="9" fill="#ff0000" xml:space="preserve"><tspan font-size="9">J</tspan><tspan font-size="7" dy="3.5">N</tspan></text>
<path d="M674.2 647.4H691.6" stroke="#555555" stroke-width="1.2"/>
<text x="692.6" y="650.6" font-size="9" fill="#222222" xml:space="preserve">J*E'</text>
<path d="M81.7 33.2v3.5M81.7 168v-3.5M99.2 33.2v10M99.2 168v-10M116.7 33.2v3.5M116.7 168v-3.5M134.1 33.2v3.5M134.1 168v-3.5M151.6 33.2v3.5M151.6 168v-3.5M169.1 33.2v3.5M169.1 168v-3.5M186.5 33.2v3.5M186.5 168v-3.5M204 33.2v10M204 168v-10M221.5 33.2v3.5M221.5 168v-3.5M238.9 33.2v3.5M238.9 168v-3.5M256.4 33.2v3.5M256.4 168v-3.5M273.9 33.2v3.5M273.9 168v-3.5M291.3 33.2v3.5M291.3 168v-3.5M308.8 33.2v10M308.8 168v-10M326.2 33.2v3.5M326.2 168v-3.5M343.7 33.2v3.5M343.7 168v-3.5M361.2 33.2v3.5M361.2 168v-3.5M378.6 33.2v3.5M378.6 168v-3.5M396.1 33.2v3.5M396.1 168v-3.5M413.6 33.2v10M413.6 168v-10M431 33.2v3.5M431 168v-3.5M448.5 33.2v3.5M448.5 168v-3.5M466 33.2v3.5M466 168v-3.5M483.4 33.2v3.5M483.4 168v-3.5M500.9 33.2v3.5M500.9 168v-3.5M518.4 33.2v10M518.4 168v-10M71.3 149.9h6M525.4 149.9h-6M71.3 123.9h6M525.4 123.9h-6M71.3 98h6M525.4 98h-6M71.3 72.1h6M525.4 72.1h-6M71.3 46.2h6M525.4 46.2h-6M71.3 162.8h2.7M525.4 162.8h-2.7M71.3 156.3h2.7M525.4 156.3h-2.7M71.3 149.9h2.7M525.4 149.9h-2.7M71.3 143.4h2.7M525.4 143.4h-2.7M71.3 136.9h2.7M525.4 136.9h-2.7M71.3 130.4h2.7M525.4 130.4h-2.7M71.3 123.9h2.7M525.4 123.9h-2.7M71.3 117.4h2.7M525.4 117.4h-2.7M71.3 111h2.7M525.4 111h-2.7M71.3 104.5h2.7M525.4 104.5h-2.7M71.3 98h2.7M525.4 98h-2.7M71.3 91.5h2.7M525.4 91.5h-2.7M71.3 85h2.7M525.4 85h-2.7M71.3 78.6h2.7M525.4 78.6h-2.7M71.3 72.1h2.7M525.4 72.1h-2.7M71.3 65.6h2.7M525.4 65.6h-2.7M71.3 59.1h2.7M525.4 59.1h-2.7M71.3 52.6h2.7M525.4 52.6h-2.7M71.3 46.2h2.7M525.4 46.2h-2.7M71.3 39.7h2.7M525.4 39.7h-2.7M71.3 33.2h2.7M525.4 33.2h-2.7" stroke="#000" stroke-width="1" fill="none"/>
<path d="M81.7 176.3v3.5M81.7 244.4v-3.5M99.2 176.3v10M99.2 244.4v-10M116.7 176.3v3.5M116.7 244.4v-3.5M134.1 176.3v3.5M134.1 244.4v-3.5M151.6 176.3v3.5M151.6 244.4v-3.5M169.1 176.3v3.5M169.1 244.4v-3.5M186.5 176.3v3.5M186.5 244.4v-3.5M204 176.3v10M204 244.4v-10M221.5 176.3v3.5M221.5 244.4v-3.5M238.9 176.3v3.5M238.9 244.4v-3.5M256.4 176.3v3.5M256.4 244.4v-3.5M273.9 176.3v3.5M273.9 244.4v-3.5M291.3 176.3v3.5M291.3 244.4v-3.5M308.8 176.3v10M308.8 244.4v-10M326.2 176.3v3.5M326.2 244.4v-3.5M343.7 176.3v3.5M343.7 244.4v-3.5M361.2 176.3v3.5M361.2 244.4v-3.5M378.6 176.3v3.5M378.6 244.4v-3.5M396.1 176.3v3.5M396.1 244.4v-3.5M413.6 176.3v10M413.6 244.4v-10M431 176.3v3.5M431 244.4v-3.5M448.5 176.3v3.5M448.5 244.4v-3.5M466 176.3v3.5M466 244.4v-3.5M483.4 176.3v3.5M483.4 244.4v-3.5M500.9 176.3v3.5M500.9 244.4v-3.5M518.4 176.3v10M518.4 244.4v-10M71.3 244.4h6M525.4 244.4h-6M71.3 230.6h6M525.4 230.6h-6M71.3 216.8h6M525.4 216.8h-6M71.3 202.9h6M525.4 202.9h-6M71.3 189.1h6M525.4 189.1h-6M71.3 244.4h2.7M525.4 244.4h-2.7M71.3 240.9h2.7M525.4 240.9h-2.7M71.3 237.5h2.7M525.4 237.5h-2.7M71.3 234h2.7M525.4 234h-2.7M71.3 230.6h2.7M525.4 230.6h-2.7M71.3 227.1h2.7M525.4 227.1h-2.7M71.3 223.7h2.7M525.4 223.7h-2.7M71.3 220.2h2.7M525.4 220.2h-2.7M71.3 216.8h2.7M525.4 216.8h-2.7M71.3 213.3h2.7M525.4 213.3h-2.7M71.3 209.8h2.7M525.4 209.8h-2.7M71.3 206.4h2.7M525.4 206.4h-2.7M71.3 202.9h2.7M525.4 202.9h-2.7M71.3 199.5h2.7M525.4 199.5h-2.7M71.3 196h2.7M525.4 196h-2.7M71.3 192.6h2.7M525.4 192.6h-2.7M71.3 189.1h2.7M525.4 189.1h-2.7M71.3 185.7h2.7M525.4 185.7h-2.7M71.3 182.2h2.7M525.4 182.2h-2.7M71.3 178.8h2.7M525.4 178.8h-2.7" stroke="#000" stroke-width="1" fill="none"/>
<path d="M81.7 244.4v3.5M81.7 312.6v-3.5M99.2 244.4v10M99.2 312.6v-10M116.7 244.4v3.5M116.7 312.6v-3.5M134.1 244.4v3.5M134.1 312.6v-3.5M151.6 244.4v3.5M151.6 312.6v-3.5M169.1 244.4v3.5M169.1 312.6v-3.5M186.5 244.4v3.5M186.5 312.6v-3.5M204 244.4v10M204 312.6v-10M221.5 244.4v3.5M221.5 312.6v-3.5M238.9 244.4v3.5M238.9 312.6v-3.5M256.4 244.4v3.5M256.4 312.6v-3.5M273.9 244.4v3.5M273.9 312.6v-3.5M291.3 244.4v3.5M291.3 312.6v-3.5M308.8 244.4v10M308.8 312.6v-10M326.2 244.4v3.5M326.2 312.6v-3.5M343.7 244.4v3.5M343.7 312.6v-3.5M361.2 244.4v3.5M361.2 312.6v-3.5M378.6 244.4v3.5M378.6 312.6v-3.5M396.1 244.4v3.5M396.1 312.6v-3.5M413.6 244.4v10M413.6 312.6v-10M431 244.4v3.5M431 312.6v-3.5M448.5 244.4v3.5M448.5 312.6v-3.5M466 244.4v3.5M466 312.6v-3.5M483.4 244.4v3.5M483.4 312.6v-3.5M500.9 244.4v3.5M500.9 312.6v-3.5M518.4 244.4v10M518.4 312.6v-10M71.3 294.2h6M525.4 294.2h-6M71.3 274.6h6M525.4 274.6h-6M71.3 255h6M525.4 255h-6M71.3 307.9h2.7M525.4 307.9h-2.7M71.3 304.4h2.7M525.4 304.4h-2.7M71.3 302h2.7M525.4 302h-2.7M71.3 300.1h2.7M525.4 300.1h-2.7M71.3 298.5h2.7M525.4 298.5h-2.7M71.3 297.2h2.7M525.4 297.2h-2.7M71.3 296.1h2.7M525.4 296.1h-2.7M71.3 295.1h2.7M525.4 295.1h-2.7M71.3 288.3h2.7M525.4 288.3h-2.7M71.3 284.8h2.7M525.4 284.8h-2.7M71.3 282.4h2.7M525.4 282.4h-2.7M71.3 280.5h2.7M525.4 280.5h-2.7M71.3 278.9h2.7M525.4 278.9h-2.7M71.3 277.6h2.7M525.4 277.6h-2.7M71.3 276.5h2.7M525.4 276.5h-2.7M71.3 275.5h2.7M525.4 275.5h-2.7M71.3 268.7h2.7M525.4 268.7h-2.7M71.3 265.2h2.7M525.4 265.2h-2.7M71.3 262.8h2.7M525.4 262.8h-2.7M71.3 260.9h2.7M525.4 260.9h-2.7M71.3 259.4h2.7M525.4 259.4h-2.7M71.3 258h2.7M525.4 258h-2.7M71.3 256.9h2.7M525.4 256.9h-2.7M71.3 255.9h2.7M525.4 255.9h-2.7M71.3 249.1h2.7M525.4 249.1h-2.7M71.3 245.7h2.7M525.4 245.7h-2.7" stroke="#000" stroke-width="1" fill="none"/>
<path d="M81.7 312.6v3.5M81.7 381.2v-3.5M99.2 312.6v10M99.2 381.2v-10M116.7 312.6v3.5M116.7 381.2v-3.5M134.1 312.6v3.5M134.1 381.2v-3.5M151.6 312.6v3.5M151.6 381.2v-3.5M169.1 312.6v3.5M169.1 381.2v-3.5M186.5 312.6v3.5M186.5 381.2v-3.5M204 312.6v10M204 381.2v-10M221.5 312.6v3.5M221.5 381.2v-3.5M238.9 312.6v3.5M238.9 381.2v-3.5M256.4 312.6v3.5M256.4 381.2v-3.5M273.9 312.6v3.5M273.9 381.2v-3.5M291.3 312.6v3.5M291.3 381.2v-3.5M308.8 312.6v10M308.8 381.2v-10M326.2 312.6v3.5M326.2 381.2v-3.5M343.7 312.6v3.5M343.7 381.2v-3.5M361.2 312.6v3.5M361.2 381.2v-3.5M378.6 312.6v3.5M378.6 381.2v-3.5M396.1 312.6v3.5M396.1 381.2v-3.5M413.6 312.6v10M413.6 381.2v-10M431 312.6v3.5M431 381.2v-3.5M448.5 312.6v3.5M448.5 381.2v-3.5M466 312.6v3.5M466 381.2v-3.5M483.4 312.6v3.5M483.4 381.2v-3.5M500.9 312.6v3.5M500.9 381.2v-3.5M518.4 312.6v10M518.4 381.2v-10M71.3 372.3h6M525.4 372.3h-6M71.3 355.3h6M525.4 355.3h-6M71.3 338.4h6M525.4 338.4h-6M71.3 321.4h6M525.4 321.4h-6M71.3 379.1h2.7M525.4 379.1h-2.7M71.3 375.7h2.7M525.4 375.7h-2.7M71.3 372.3h2.7M525.4 372.3h-2.7M71.3 368.9h2.7M525.4 368.9h-2.7M71.3 365.5h2.7M525.4 365.5h-2.7M71.3 362.1h2.7M525.4 362.1h-2.7M71.3 358.7h2.7M525.4 358.7h-2.7M71.3 355.3h2.7M525.4 355.3h-2.7M71.3 351.9h2.7M525.4 351.9h-2.7M71.3 348.6h2.7M525.4 348.6h-2.7M71.3 345.2h2.7M525.4 345.2h-2.7M71.3 341.8h2.7M525.4 341.8h-2.7M71.3 338.4h2.7M525.4 338.4h-2.7M71.3 335h2.7M525.4 335h-2.7M71.3 331.6h2.7M525.4 331.6h-2.7M71.3 328.2h2.7M525.4 328.2h-2.7M71.3 324.8h2.7M525.4 324.8h-2.7M71.3 321.4h2.7M525.4 321.4h-2.7M71.3 318h2.7M525.4 318h-2.7M71.3 314.6h2.7M525.4 314.6h-2.7" stroke="#000" stroke-width="1" fill="none"/>
<path d="M81.7 381.2v3.5M81.7 449.5v-3.5M99.2 381.2v10M99.2 449.5v-10M116.7 381.2v3.5M116.7 449.5v-3.5M134.1 381.2v3.5M134.1 449.5v-3.5M151.6 381.2v3.5M151.6 449.5v-3.5M169.1 381.2v3.5M169.1 449.5v-3.5M186.5 381.2v3.5M186.5 449.5v-3.5M204 381.2v10M204 449.5v-10M221.5 381.2v3.5M221.5 449.5v-3.5M238.9 381.2v3.5M238.9 449.5v-3.5M256.4 381.2v3.5M256.4 449.5v-3.5M273.9 381.2v3.5M273.9 449.5v-3.5M291.3 381.2v3.5M291.3 449.5v-3.5M308.8 381.2v10M308.8 449.5v-10M326.2 381.2v3.5M326.2 449.5v-3.5M343.7 381.2v3.5M343.7 449.5v-3.5M361.2 381.2v3.5M361.2 449.5v-3.5M378.6 381.2v3.5M378.6 449.5v-3.5M396.1 381.2v3.5M396.1 449.5v-3.5M413.6 381.2v10M413.6 449.5v-10M431 381.2v3.5M431 449.5v-3.5M448.5 381.2v3.5M448.5 449.5v-3.5M466 381.2v3.5M466 449.5v-3.5M483.4 381.2v3.5M483.4 449.5v-3.5M500.9 381.2v3.5M500.9 449.5v-3.5M518.4 381.2v10M518.4 449.5v-10M71.3 391.4h6M525.4 391.4h-6M71.3 406h6M525.4 406h-6M71.3 420.5h6M525.4 420.5h-6M71.3 435.1h6M525.4 435.1h-6M71.3 446.8h2.7M525.4 446.8h-2.7M71.3 443.8h2.7M525.4 443.8h-2.7M71.3 440.9h2.7M525.4 440.9h-2.7M71.3 438h2.7M525.4 438h-2.7M71.3 435.1h2.7M525.4 435.1h-2.7M71.3 432.2h2.7M525.4 432.2h-2.7M71.3 429.3h2.7M525.4 429.3h-2.7M71.3 426.4h2.7M525.4 426.4h-2.7M71.3 423.5h2.7M525.4 423.5h-2.7M71.3 420.5h2.7M525.4 420.5h-2.7M71.3 417.6h2.7M525.4 417.6h-2.7M71.3 414.7h2.7M525.4 414.7h-2.7M71.3 411.8h2.7M525.4 411.8h-2.7M71.3 408.9h2.7M525.4 408.9h-2.7M71.3 406h2.7M525.4 406h-2.7M71.3 403.1h2.7M525.4 403.1h-2.7M71.3 400.1h2.7M525.4 400.1h-2.7M71.3 397.2h2.7M525.4 397.2h-2.7M71.3 394.3h2.7M525.4 394.3h-2.7M71.3 391.4h2.7M525.4 391.4h-2.7M71.3 388.5h2.7M525.4 388.5h-2.7M71.3 385.6h2.7M525.4 385.6h-2.7M71.3 382.7h2.7M525.4 382.7h-2.7" stroke="#000" stroke-width="1" fill="none"/>
<path d="M81.7 449.5v3.5M81.7 517.7v-3.5M99.2 449.5v10M99.2 517.7v-10M116.7 449.5v3.5M116.7 517.7v-3.5M134.1 449.5v3.5M134.1 517.7v-3.5M151.6 449.5v3.5M151.6 517.7v-3.5M169.1 449.5v3.5M169.1 517.7v-3.5M186.5 449.5v3.5M186.5 517.7v-3.5M204 449.5v10M204 517.7v-10M221.5 449.5v3.5M221.5 517.7v-3.5M238.9 449.5v3.5M238.9 517.7v-3.5M256.4 449.5v3.5M256.4 517.7v-3.5M273.9 449.5v3.5M273.9 517.7v-3.5M291.3 449.5v3.5M291.3 517.7v-3.5M308.8 449.5v10M308.8 517.7v-10M326.2 449.5v3.5M326.2 517.7v-3.5M343.7 449.5v3.5M343.7 517.7v-3.5M361.2 449.5v3.5M361.2 517.7v-3.5M378.6 449.5v3.5M378.6 517.7v-3.5M396.1 449.5v3.5M396.1 517.7v-3.5M413.6 449.5v10M413.6 517.7v-10M431 449.5v3.5M431 517.7v-3.5M448.5 449.5v3.5M448.5 517.7v-3.5M466 449.5v3.5M466 517.7v-3.5M483.4 449.5v3.5M483.4 517.7v-3.5M500.9 449.5v3.5M500.9 517.7v-3.5M518.4 449.5v10M518.4 517.7v-10M71.3 513.8h6M525.4 513.8h-6M71.3 498.3h6M525.4 498.3h-6M71.3 482.7h6M525.4 482.7h-6M71.3 467.2h6M525.4 467.2h-6M71.3 451.6h6M525.4 451.6h-6M71.3 516.9h2.7M525.4 516.9h-2.7M71.3 513.8h2.7M525.4 513.8h-2.7M71.3 510.7h2.7M525.4 510.7h-2.7M71.3 507.6h2.7M525.4 507.6h-2.7M71.3 504.5h2.7M525.4 504.5h-2.7M71.3 501.4h2.7M525.4 501.4h-2.7M71.3 498.3h2.7M525.4 498.3h-2.7M71.3 495.2h2.7M525.4 495.2h-2.7M71.3 492h2.7M525.4 492h-2.7M71.3 488.9h2.7M525.4 488.9h-2.7M71.3 485.8h2.7M525.4 485.8h-2.7M71.3 482.7h2.7M525.4 482.7h-2.7M71.3 479.6h2.7M525.4 479.6h-2.7M71.3 476.5h2.7M525.4 476.5h-2.7M71.3 473.4h2.7M525.4 473.4h-2.7M71.3 470.3h2.7M525.4 470.3h-2.7M71.3 467.2h2.7M525.4 467.2h-2.7M71.3 464.1h2.7M525.4 464.1h-2.7M71.3 460.9h2.7M525.4 460.9h-2.7M71.3 457.8h2.7M525.4 457.8h-2.7M71.3 454.7h2.7M525.4 454.7h-2.7M71.3 451.6h2.7M525.4 451.6h-2.7" stroke="#000" stroke-width="1" fill="none"/>
<path d="M81.7 517.7v3.5M81.7 586v-3.5M99.2 517.7v10M99.2 586v-10M116.7 517.7v3.5M116.7 586v-3.5M134.1 517.7v3.5M134.1 586v-3.5M151.6 517.7v3.5M151.6 586v-3.5M169.1 517.7v3.5M169.1 586v-3.5M186.5 517.7v3.5M186.5 586v-3.5M204 517.7v10M204 586v-10M221.5 517.7v3.5M221.5 586v-3.5M238.9 517.7v3.5M238.9 586v-3.5M256.4 517.7v3.5M256.4 586v-3.5M273.9 517.7v3.5M273.9 586v-3.5M291.3 517.7v3.5M291.3 586v-3.5M308.8 517.7v10M308.8 586v-10M326.2 517.7v3.5M326.2 586v-3.5M343.7 517.7v3.5M343.7 586v-3.5M361.2 517.7v3.5M361.2 586v-3.5M378.6 517.7v3.5M378.6 586v-3.5M396.1 517.7v3.5M396.1 586v-3.5M413.6 517.7v10M413.6 586v-10M431 517.7v3.5M431 586v-3.5M448.5 517.7v3.5M448.5 586v-3.5M466 517.7v3.5M466 586v-3.5M483.4 517.7v3.5M483.4 586v-3.5M500.9 517.7v3.5M500.9 586v-3.5M518.4 517.7v10M518.4 586v-10M71.3 585.7h6M525.4 585.7h-6M71.3 570.3h6M525.4 570.3h-6M71.3 555h6M525.4 555h-6M71.3 539.6h6M525.4 539.6h-6M71.3 524.3h6M525.4 524.3h-6M71.3 585.7h2.7M525.4 585.7h-2.7M71.3 582.6h2.7M525.4 582.6h-2.7M71.3 579.6h2.7M525.4 579.6h-2.7M71.3 576.5h2.7M525.4 576.5h-2.7M71.3 573.4h2.7M525.4 573.4h-2.7M71.3 570.3h2.7M525.4 570.3h-2.7M71.3 567.3h2.7M525.4 567.3h-2.7M71.3 564.2h2.7M525.4 564.2h-2.7M71.3 561.1h2.7M525.4 561.1h-2.7M71.3 558.1h2.7M525.4 558.1h-2.7M71.3 555h2.7M525.4 555h-2.7M71.3 551.9h2.7M525.4 551.9h-2.7M71.3 548.9h2.7M525.4 548.9h-2.7M71.3 545.8h2.7M525.4 545.8h-2.7M71.3 542.7h2.7M525.4 542.7h-2.7M71.3 539.6h2.7M525.4 539.6h-2.7M71.3 536.6h2.7M525.4 536.6h-2.7M71.3 533.5h2.7M525.4 533.5h-2.7M71.3 530.4h2.7M525.4 530.4h-2.7M71.3 527.4h2.7M525.4 527.4h-2.7M71.3 524.3h2.7M525.4 524.3h-2.7M71.3 521.2h2.7M525.4 521.2h-2.7M71.3 518.2h2.7M525.4 518.2h-2.7" stroke="#000" stroke-width="1" fill="none"/>
<path d="M81.7 586v3.5M81.7 654.5v-3.5M99.2 586v10M99.2 654.5v-10M116.7 586v3.5M116.7 654.5v-3.5M134.1 586v3.5M134.1 654.5v-3.5M151.6 586v3.5M151.6 654.5v-3.5M169.1 586v3.5M169.1 654.5v-3.5M186.5 586v3.5M186.5 654.5v-3.5M204 586v10M204 654.5v-10M221.5 586v3.5M221.5 654.5v-3.5M238.9 586v3.5M238.9 654.5v-3.5M256.4 586v3.5M256.4 654.5v-3.5M273.9 586v3.5M273.9 654.5v-3.5M291.3 586v3.5M291.3 654.5v-3.5M308.8 586v10M308.8 654.5v-10M326.2 586v3.5M326.2 654.5v-3.5M343.7 586v3.5M343.7 654.5v-3.5M361.2 586v3.5M361.2 654.5v-3.5M378.6 586v3.5M378.6 654.5v-3.5M396.1 586v3.5M396.1 654.5v-3.5M413.6 586v10M413.6 654.5v-10M431 586v3.5M431 654.5v-3.5M448.5 586v3.5M448.5 654.5v-3.5M466 586v3.5M466 654.5v-3.5M483.4 586v3.5M483.4 654.5v-3.5M500.9 586v3.5M500.9 654.5v-3.5M518.4 586v10M518.4 654.5v-10M71.3 645.6h2.7M525.4 645.6h-2.7M71.3 629.8h2.7M525.4 629.8h-2.7M71.3 618.6h2.7M525.4 618.6h-2.7M71.3 609.9h2.7M525.4 609.9h-2.7M71.3 602.8h2.7M525.4 602.8h-2.7M71.3 596.7h2.7M525.4 596.7h-2.7M71.3 591.5h2.7M525.4 591.5h-2.7M71.3 586.9h2.7M525.4 586.9h-2.7" stroke="#000" stroke-width="1" fill="none"/>
<path d="M81.7 654.5v3.5M81.7 723.2v-3.5M99.2 654.5v10M99.2 723.2v-10M116.7 654.5v3.5M116.7 723.2v-3.5M134.1 654.5v3.5M134.1 723.2v-3.5M151.6 654.5v3.5M151.6 723.2v-3.5M169.1 654.5v3.5M169.1 723.2v-3.5M186.5 654.5v3.5M186.5 723.2v-3.5M204 654.5v10M204 723.2v-10M221.5 654.5v3.5M221.5 723.2v-3.5M238.9 654.5v3.5M238.9 723.2v-3.5M256.4 654.5v3.5M256.4 723.2v-3.5M273.9 654.5v3.5M273.9 723.2v-3.5M291.3 654.5v3.5M291.3 723.2v-3.5M308.8 654.5v10M308.8 723.2v-10M326.2 654.5v3.5M326.2 723.2v-3.5M343.7 654.5v3.5M343.7 723.2v-3.5M361.2 654.5v3.5M361.2 723.2v-3.5M378.6 654.5v3.5M378.6 723.2v-3.5M396.1 654.5v3.5M396.1 723.2v-3.5M413.6 654.5v10M413.6 723.2v-10M431 654.5v3.5M431 723.2v-3.5M448.5 654.5v3.5M448.5 723.2v-3.5M466 654.5v3.5M466 723.2v-3.5M483.4 654.5v3.5M483.4 723.2v-3.5M500.9 654.5v3.5M500.9 723.2v-3.5M518.4 654.5v10M518.4 723.2v-10M71.3 721.3h6M525.4 721.3h-6M71.3 709.7h6M525.4 709.7h-6M71.3 698.1h6M525.4 698.1h-6M71.3 686.4h6M525.4 686.4h-6M71.3 674.8h6M525.4 674.8h-6M71.3 663.2h6M525.4 663.2h-6M71.3 721.3h2.7M525.4 721.3h-2.7M71.3 719h2.7M525.4 719h-2.7M71.3 716.6h2.7M525.4 716.6h-2.7M71.3 714.3h2.7M525.4 714.3h-2.7M71.3 712h2.7M525.4 712h-2.7M71.3 709.7h2.7M525.4 709.7h-2.7M71.3 707.3h2.7M525.4 707.3h-2.7M71.3 705h2.7M525.4 705h-2.7M71.3 702.7h2.7M525.4 702.7h-2.7M71.3 700.4h2.7M525.4 700.4h-2.7M71.3 698.1h2.7M525.4 698.1h-2.7M71.3 695.7h2.7M525.4 695.7h-2.7M71.3 693.4h2.7M525.4 693.4h-2.7M71.3 691.1h2.7M525.4 691.1h-2.7M71.3 688.8h2.7M525.4 688.8h-2.7M71.3 686.4h2.7M525.4 686.4h-2.7M71.3 684.1h2.7M525.4 684.1h-2.7M71.3 681.8h2.7M525.4 681.8h-2.7M71.3 679.5h2.7M525.4 679.5h-2.7M71.3 677.1h2.7M525.4 677.1h-2.7M71.3 674.8h2.7M525.4 674.8h-2.7M71.3 672.5h2.7M525.4 672.5h-2.7M71.3 670.2h2.7M525.4 670.2h-2.7M71.3 667.8h2.7M525.4 667.8h-2.7M71.3 665.5h2.7M525.4 665.5h-2.7M71.3 663.2h2.7M525.4 663.2h-2.7M71.3 660.9h2.7M525.4 660.9h-2.7M71.3 658.5h2.7M525.4 658.5h-2.7M71.3 656.2h2.7M525.4 656.2h-2.7" stroke="#000" stroke-width="1" fill="none"/>
<path d="M678.8 41.6v3.5M678.8 114.8v-3.5M696.3 41.6v10M696.3 114.8v-10M713.8 41.6v3.5M713.8 114.8v-3.5M731.2 41.6v3.5M731.2 114.8v-3.5M748.7 41.6v3.5M748.7 114.8v-3.5M766.2 41.6v3.5M766.2 114.8v-3.5M783.6 41.6v3.5M783.6 114.8v-3.5M801.1 41.6v10M801.1 114.8v-10M818.6 41.6v3.5M818.6 114.8v-3.5M836 41.6v3.5M836 114.8v-3.5M853.5 41.6v3.5M853.5 114.8v-3.5M871 41.6v3.5M871 114.8v-3.5M888.4 41.6v3.5M888.4 114.8v-3.5M905.9 41.6v10M905.9 114.8v-10M923.4 41.6v3.5M923.4 114.8v-3.5M940.8 41.6v3.5M940.8 114.8v-3.5M958.3 41.6v3.5M958.3 114.8v-3.5M975.7 41.6v3.5M975.7 114.8v-3.5M993.2 41.6v3.5M993.2 114.8v-3.5M1010.7 41.6v10M1010.7 114.8v-10M1028.1 41.6v3.5M1028.1 114.8v-3.5M1045.6 41.6v3.5M1045.6 114.8v-3.5M1063.1 41.6v3.5M1063.1 114.8v-3.5M1080.5 41.6v3.5M1080.5 114.8v-3.5M1098 41.6v3.5M1098 114.8v-3.5M1115.5 41.6v10M1115.5 114.8v-10M668.4 114.7h6M1122.5 114.7h-6M668.4 99.8h6M1122.5 99.8h-6M668.4 84.8h6M1122.5 84.8h-6M668.4 69.9h6M1122.5 69.9h-6M668.4 54.9h6M1122.5 54.9h-6M668.4 114.7h2.7M1122.5 114.7h-2.7M668.4 111h2.7M1122.5 111h-2.7M668.4 107.2h2.7M1122.5 107.2h-2.7M668.4 103.5h2.7M1122.5 103.5h-2.7M668.4 99.8h2.7M1122.5 99.8h-2.7M668.4 96h2.7M1122.5 96h-2.7M668.4 92.3h2.7M1122.5 92.3h-2.7M668.4 88.6h2.7M1122.5 88.6h-2.7M668.4 84.8h2.7M1122.5 84.8h-2.7M668.4 81.1h2.7M1122.5 81.1h-2.7M668.4 77.3h2.7M1122.5 77.3h-2.7M668.4 73.6h2.7M1122.5 73.6h-2.7M668.4 69.9h2.7M1122.5 69.9h-2.7M668.4 66.1h2.7M1122.5 66.1h-2.7M668.4 62.4h2.7M1122.5 62.4h-2.7M668.4 58.6h2.7M1122.5 58.6h-2.7M668.4 54.9h2.7M1122.5 54.9h-2.7M668.4 51.2h2.7M1122.5 51.2h-2.7M668.4 47.4h2.7M1122.5 47.4h-2.7M668.4 43.7h2.7M1122.5 43.7h-2.7" stroke="#000" stroke-width="1" fill="none"/>
<path d="M678.8 114.8v3.5M678.8 189.5v-3.5M696.3 114.8v10M696.3 189.5v-10M713.8 114.8v3.5M713.8 189.5v-3.5M731.2 114.8v3.5M731.2 189.5v-3.5M748.7 114.8v3.5M748.7 189.5v-3.5M766.2 114.8v3.5M766.2 189.5v-3.5M783.6 114.8v3.5M783.6 189.5v-3.5M801.1 114.8v10M801.1 189.5v-10M818.6 114.8v3.5M818.6 189.5v-3.5M836 114.8v3.5M836 189.5v-3.5M853.5 114.8v3.5M853.5 189.5v-3.5M871 114.8v3.5M871 189.5v-3.5M888.4 114.8v3.5M888.4 189.5v-3.5M905.9 114.8v10M905.9 189.5v-10M923.4 114.8v3.5M923.4 189.5v-3.5M940.8 114.8v3.5M940.8 189.5v-3.5M958.3 114.8v3.5M958.3 189.5v-3.5M975.7 114.8v3.5M975.7 189.5v-3.5M993.2 114.8v3.5M993.2 189.5v-3.5M1010.7 114.8v10M1010.7 189.5v-10M1028.1 114.8v3.5M1028.1 189.5v-3.5M1045.6 114.8v3.5M1045.6 189.5v-3.5M1063.1 114.8v3.5M1063.1 189.5v-3.5M1080.5 114.8v3.5M1080.5 189.5v-3.5M1098 114.8v3.5M1098 189.5v-3.5M1115.5 114.8v10M1115.5 189.5v-10M668.4 188.6h6M1122.5 188.6h-6M668.4 167.6h6M1122.5 167.6h-6M668.4 146.7h6M1122.5 146.7h-6M668.4 125.7h6M1122.5 125.7h-6M668.4 182.3h2.7M1122.5 182.3h-2.7M668.4 178.6h2.7M1122.5 178.6h-2.7M668.4 176h2.7M1122.5 176h-2.7M668.4 173.9h2.7M1122.5 173.9h-2.7M668.4 172.3h2.7M1122.5 172.3h-2.7M668.4 170.9h2.7M1122.5 170.9h-2.7M668.4 169.7h2.7M1122.5 169.7h-2.7M668.4 168.6h2.7M1122.5 168.6h-2.7M668.4 161.3h2.7M1122.5 161.3h-2.7M668.4 157.6h2.7M1122.5 157.6h-2.7M668.4 155h2.7M1122.5 155h-2.7M668.4 153h2.7M1122.5 153h-2.7M668.4 151.3h2.7M1122.5 151.3h-2.7M668.4 149.9h2.7M1122.5 149.9h-2.7M668.4 148.7h2.7M1122.5 148.7h-2.7M668.4 147.6h2.7M1122.5 147.6h-2.7M668.4 140.4h2.7M1122.5 140.4h-2.7M668.4 136.7h2.7M1122.5 136.7h-2.7M668.4 134h2.7M1122.5 134h-2.7M668.4 132h2.7M1122.5 132h-2.7M668.4 130.4h2.7M1122.5 130.4h-2.7M668.4 128.9h2.7M1122.5 128.9h-2.7M668.4 127.7h2.7M1122.5 127.7h-2.7M668.4 126.7h2.7M1122.5 126.7h-2.7M668.4 119.4h2.7M1122.5 119.4h-2.7M668.4 115.7h2.7M1122.5 115.7h-2.7" stroke="#000" stroke-width="1" fill="none"/>
<path d="M678.8 189.5v3.5M678.8 262.6v-3.5M696.3 189.5v10M696.3 262.6v-10M713.8 189.5v3.5M713.8 262.6v-3.5M731.2 189.5v3.5M731.2 262.6v-3.5M748.7 189.5v3.5M748.7 262.6v-3.5M766.2 189.5v3.5M766.2 262.6v-3.5M783.6 189.5v3.5M783.6 262.6v-3.5M801.1 189.5v10M801.1 262.6v-10M818.6 189.5v3.5M818.6 262.6v-3.5M836 189.5v3.5M836 262.6v-3.5M853.5 189.5v3.5M853.5 262.6v-3.5M871 189.5v3.5M871 262.6v-3.5M888.4 189.5v3.5M888.4 262.6v-3.5M905.9 189.5v10M905.9 262.6v-10M923.4 189.5v3.5M923.4 262.6v-3.5M940.8 189.5v3.5M940.8 262.6v-3.5M958.3 189.5v3.5M958.3 262.6v-3.5M975.7 189.5v3.5M975.7 262.6v-3.5M993.2 189.5v3.5M993.2 262.6v-3.5M1010.7 189.5v10M1010.7 262.6v-10M1028.1 189.5v3.5M1028.1 262.6v-3.5M1045.6 189.5v3.5M1045.6 262.6v-3.5M1063.1 189.5v3.5M1063.1 262.6v-3.5M1080.5 189.5v3.5M1080.5 262.6v-3.5M1098 189.5v3.5M1098 262.6v-3.5M1115.5 189.5v10M1115.5 262.6v-10M668.4 262h6M1122.5 262h-6M668.4 251.1h6M1122.5 251.1h-6M668.4 240.3h6M1122.5 240.3h-6M668.4 229.4h6M1122.5 229.4h-6M668.4 218.5h6M1122.5 218.5h-6M668.4 207.7h6M1122.5 207.7h-6M668.4 196.8h6M1122.5 196.8h-6M668.4 262h2.7M1122.5 262h-2.7M668.4 259.3h2.7M1122.5 259.3h-2.7M668.4 256.6h2.7M1122.5 256.6h-2.7M668.4 253.8h2.7M1122.5 253.8h-2.7M668.4 251.1h2.7M1122.5 251.1h-2.7M668.4 248.4h2.7M1122.5 248.4h-2.7M668.4 245.7h2.7M1122.5 245.7h-2.7M668.4 243h2.7M1122.5 243h-2.7M668.4 240.3h2.7M1122.5 240.3h-2.7M668.4 237.5h2.7M1122.5 237.5h-2.7M668.4 234.8h2.7M1122.5 234.8h-2.7M668.4 232.1h2.7M1122.5 232.1h-2.7M668.4 229.4h2.7M1122.5 229.4h-2.7M668.4 226.7h2.7M1122.5 226.7h-2.7M668.4 224h2.7M1122.5 224h-2.7M668.4 221.2h2.7M1122.5 221.2h-2.7M668.4 218.5h2.7M1122.5 218.5h-2.7M668.4 215.8h2.7M1122.5 215.8h-2.7M668.4 213.1h2.7M1122.5 213.1h-2.7M668.4 210.4h2.7M1122.5 210.4h-2.7M668.4 207.7h2.7M1122.5 207.7h-2.7M668.4 204.9h2.7M1122.5 204.9h-2.7M668.4 202.2h2.7M1122.5 202.2h-2.7M668.4 199.5h2.7M1122.5 199.5h-2.7M668.4 196.8h2.7M1122.5 196.8h-2.7M668.4 194.1h2.7M1122.5 194.1h-2.7M668.4 191.3h2.7M1122.5 191.3h-2.7" stroke="#000" stroke-width="1" fill="none"/>
<path d="M678.8 262.6v3.5M678.8 336.6v-3.5M696.3 262.6v10M696.3 336.6v-10M713.8 262.6v3.5M713.8 336.6v-3.5M731.2 262.6v3.5M731.2 336.6v-3.5M748.7 262.6v3.5M748.7 336.6v-3.5M766.2 262.6v3.5M766.2 336.6v-3.5M783.6 262.6v3.5M783.6 336.6v-3.5M801.1 262.6v10M801.1 336.6v-10M818.6 262.6v3.5M818.6 336.6v-3.5M836 262.6v3.5M836 336.6v-3.5M853.5 262.6v3.5M853.5 336.6v-3.5M871 262.6v3.5M871 336.6v-3.5M888.4 262.6v3.5M888.4 336.6v-3.5M905.9 262.6v10M905.9 336.6v-10M923.4 262.6v3.5M923.4 336.6v-3.5M940.8 262.6v3.5M940.8 336.6v-3.5M958.3 262.6v3.5M958.3 336.6v-3.5M975.7 262.6v3.5M975.7 336.6v-3.5M993.2 262.6v3.5M993.2 336.6v-3.5M1010.7 262.6v10M1010.7 336.6v-10M1028.1 262.6v3.5M1028.1 336.6v-3.5M1045.6 262.6v3.5M1045.6 336.6v-3.5M1063.1 262.6v3.5M1063.1 336.6v-3.5M1080.5 262.6v3.5M1080.5 336.6v-3.5M1098 262.6v3.5M1098 336.6v-3.5M1115.5 262.6v10M1115.5 336.6v-10M668.4 318.4h2.7M1122.5 318.4h-2.7M668.4 304.3h2.7M1122.5 304.3h-2.7M668.4 294.3h2.7M1122.5 294.3h-2.7M668.4 286.6h2.7M1122.5 286.6h-2.7M668.4 280.2h2.7M1122.5 280.2h-2.7M668.4 274.9h2.7M1122.5 274.9h-2.7M668.4 270.2h2.7M1122.5 270.2h-2.7M668.4 266.1h2.7M1122.5 266.1h-2.7" stroke="#000" stroke-width="1" fill="none"/>
<path d="M678.8 336.6v3.5M678.8 410.7v-3.5M696.3 336.6v10M696.3 410.7v-10M713.8 336.6v3.5M713.8 410.7v-3.5M731.2 336.6v3.5M731.2 410.7v-3.5M748.7 336.6v3.5M748.7 410.7v-3.5M766.2 336.6v3.5M766.2 410.7v-3.5M783.6 336.6v3.5M783.6 410.7v-3.5M801.1 336.6v10M801.1 410.7v-10M818.6 336.6v3.5M818.6 410.7v-3.5M836 336.6v3.5M836 410.7v-3.5M853.5 336.6v3.5M853.5 410.7v-3.5M871 336.6v3.5M871 410.7v-3.5M888.4 336.6v3.5M888.4 410.7v-3.5M905.9 336.6v10M905.9 410.7v-10M923.4 336.6v3.5M923.4 410.7v-3.5M940.8 336.6v3.5M940.8 410.7v-3.5M958.3 336.6v3.5M958.3 410.7v-3.5M975.7 336.6v3.5M975.7 410.7v-3.5M993.2 336.6v3.5M993.2 410.7v-3.5M1010.7 336.6v10M1010.7 410.7v-10M1028.1 336.6v3.5M1028.1 410.7v-3.5M1045.6 336.6v3.5M1045.6 410.7v-3.5M1063.1 336.6v3.5M1063.1 410.7v-3.5M1080.5 336.6v3.5M1080.5 410.7v-3.5M1098 336.6v3.5M1098 410.7v-3.5M1115.5 336.6v10M1115.5 410.7v-10M668.4 398.4h6M1122.5 398.4h-6M668.4 382.3h6M1122.5 382.3h-6M668.4 366.3h6M1122.5 366.3h-6M668.4 350.2h6M1122.5 350.2h-6M668.4 408h2.7M1122.5 408h-2.7M668.4 404.8h2.7M1122.5 404.8h-2.7M668.4 401.6h2.7M1122.5 401.6h-2.7M668.4 398.4h2.7M1122.5 398.4h-2.7M668.4 395.1h2.7M1122.5 395.1h-2.7M668.4 391.9h2.7M1122.5 391.9h-2.7M668.4 388.7h2.7M1122.5 388.7h-2.7M668.4 385.5h2.7M1122.5 385.5h-2.7M668.4 382.3h2.7M1122.5 382.3h-2.7M668.4 379.1h2.7M1122.5 379.1h-2.7M668.4 375.9h2.7M1122.5 375.9h-2.7M668.4 372.7h2.7M1122.5 372.7h-2.7M668.4 369.5h2.7M1122.5 369.5h-2.7M668.4 366.3h2.7M1122.5 366.3h-2.7M668.4 363.1h2.7M1122.5 363.1h-2.7M668.4 359.9h2.7M1122.5 359.9h-2.7M668.4 356.6h2.7M1122.5 356.6h-2.7M668.4 353.4h2.7M1122.5 353.4h-2.7M668.4 350.2h2.7M1122.5 350.2h-2.7M668.4 347h2.7M1122.5 347h-2.7M668.4 343.8h2.7M1122.5 343.8h-2.7M668.4 340.6h2.7M1122.5 340.6h-2.7M668.4 337.4h2.7M1122.5 337.4h-2.7" stroke="#000" stroke-width="1" fill="none"/>
<path d="M678.8 410.7v3.5M678.8 484.5v-3.5M696.3 410.7v10M696.3 484.5v-10M713.8 410.7v3.5M713.8 484.5v-3.5M731.2 410.7v3.5M731.2 484.5v-3.5M748.7 410.7v3.5M748.7 484.5v-3.5M766.2 410.7v3.5M766.2 484.5v-3.5M783.6 410.7v3.5M783.6 484.5v-3.5M801.1 410.7v10M801.1 484.5v-10M818.6 410.7v3.5M818.6 484.5v-3.5M836 410.7v3.5M836 484.5v-3.5M853.5 410.7v3.5M853.5 484.5v-3.5M871 410.7v3.5M871 484.5v-3.5M888.4 410.7v3.5M888.4 484.5v-3.5M905.9 410.7v10M905.9 484.5v-10M923.4 410.7v3.5M923.4 484.5v-3.5M940.8 410.7v3.5M940.8 484.5v-3.5M958.3 410.7v3.5M958.3 484.5v-3.5M975.7 410.7v3.5M975.7 484.5v-3.5M993.2 410.7v3.5M993.2 484.5v-3.5M1010.7 410.7v10M1010.7 484.5v-10M1028.1 410.7v3.5M1028.1 484.5v-3.5M1045.6 410.7v3.5M1045.6 484.5v-3.5M1063.1 410.7v3.5M1063.1 484.5v-3.5M1080.5 410.7v3.5M1080.5 484.5v-3.5M1098 410.7v3.5M1098 484.5v-3.5M1115.5 410.7v10M1115.5 484.5v-10M668.4 472.2h6M1122.5 472.2h-6M668.4 447.4h6M1122.5 447.4h-6M668.4 422.5h6M1122.5 422.5h-6M668.4 482.1h2.7M1122.5 482.1h-2.7M668.4 477.2h2.7M1122.5 477.2h-2.7M668.4 472.2h2.7M1122.5 472.2h-2.7M668.4 467.2h2.7M1122.5 467.2h-2.7M668.4 462.3h2.7M1122.5 462.3h-2.7M668.4 457.3h2.7M1122.5 457.3h-2.7M668.4 452.3h2.7M1122.5 452.3h-2.7M668.4 447.4h2.7M1122.5 447.4h-2.7M668.4 442.4h2.7M1122.5 442.4h-2.7M668.4 437.4h2.7M1122.5 437.4h-2.7M668.4 432.4h2.7M1122.5 432.4h-2.7M668.4 427.5h2.7M1122.5 427.5h-2.7M668.4 422.5h2.7M1122.5 422.5h-2.7M668.4 417.5h2.7M1122.5 417.5h-2.7M668.4 412.6h2.7M1122.5 412.6h-2.7" stroke="#000" stroke-width="1" fill="none"/>
<path d="M678.8 484.5v3.5M678.8 557.8v-3.5M696.3 484.5v10M696.3 557.8v-10M713.8 484.5v3.5M713.8 557.8v-3.5M731.2 484.5v3.5M731.2 557.8v-3.5M748.7 484.5v3.5M748.7 557.8v-3.5M766.2 484.5v3.5M766.2 557.8v-3.5M783.6 484.5v3.5M783.6 557.8v-3.5M801.1 484.5v10M801.1 557.8v-10M818.6 484.5v3.5M818.6 557.8v-3.5M836 484.5v3.5M836 557.8v-3.5M853.5 484.5v3.5M853.5 557.8v-3.5M871 484.5v3.5M871 557.8v-3.5M888.4 484.5v3.5M888.4 557.8v-3.5M905.9 484.5v10M905.9 557.8v-10M923.4 484.5v3.5M923.4 557.8v-3.5M940.8 484.5v3.5M940.8 557.8v-3.5M958.3 484.5v3.5M958.3 557.8v-3.5M975.7 484.5v3.5M975.7 557.8v-3.5M993.2 484.5v3.5M993.2 557.8v-3.5M1010.7 484.5v10M1010.7 557.8v-10M1028.1 484.5v3.5M1028.1 557.8v-3.5M1045.6 484.5v3.5M1045.6 557.8v-3.5M1063.1 484.5v3.5M1063.1 557.8v-3.5M1080.5 484.5v3.5M1080.5 557.8v-3.5M1098 484.5v3.5M1098 557.8v-3.5M1115.5 484.5v10M1115.5 557.8v-10M668.4 546.1h6M1122.5 546.1h-6M668.4 533.6h6M1122.5 533.6h-6M668.4 521.1h6M1122.5 521.1h-6M668.4 508.6h6M1122.5 508.6h-6M668.4 496.1h6M1122.5 496.1h-6M668.4 555.5h2.7M1122.5 555.5h-2.7M668.4 552.4h2.7M1122.5 552.4h-2.7M668.4 549.2h2.7M1122.5 549.2h-2.7M668.4 546.1h2.7M1122.5 546.1h-2.7M668.4 543h2.7M1122.5 543h-2.7M668.4 539.9h2.7M1122.5 539.9h-2.7M668.4 536.7h2.7M1122.5 536.7h-2.7M668.4 533.6h2.7M1122.5 533.6h-2.7M668.4 530.5h2.7M1122.5 530.5h-2.7M668.4 527.4h2.7M1122.5 527.4h-2.7M668.4 524.2h2.7M1122.5 524.2h-2.7M668.4 521.1h2.7M1122.5 521.1h-2.7M668.4 518h2.7M1122.5 518h-2.7M668.4 514.9h2.7M1122.5 514.9h-2.7M668.4 511.7h2.7M1122.5 511.7h-2.7M668.4 508.6h2.7M1122.5 508.6h-2.7M668.4 505.5h2.7M1122.5 505.5h-2.7M668.4 502.4h2.7M1122.5 502.4h-2.7M668.4 499.2h2.7M1122.5 499.2h-2.7M668.4 496.1h2.7M1122.5 496.1h-2.7M668.4 493h2.7M1122.5 493h-2.7M668.4 489.9h2.7M1122.5 489.9h-2.7M668.4 486.7h2.7M1122.5 486.7h-2.7" stroke="#000" stroke-width="1" fill="none"/>
<path d="M678.8 557.8v3.5M678.8 632.3v-3.5M696.3 557.8v10M696.3 632.3v-10M713.8 557.8v3.5M713.8 632.3v-3.5M731.2 557.8v3.5M731.2 632.3v-3.5M748.7 557.8v3.5M748.7 632.3v-3.5M766.2 557.8v3.5M766.2 632.3v-3.5M783.6 557.8v3.5M783.6 632.3v-3.5M801.1 557.8v10M801.1 632.3v-10M818.6 557.8v3.5M818.6 632.3v-3.5M836 557.8v3.5M836 632.3v-3.5M853.5 557.8v3.5M853.5 632.3v-3.5M871 557.8v3.5M871 632.3v-3.5M888.4 557.8v3.5M888.4 632.3v-3.5M905.9 557.8v10M905.9 632.3v-10M923.4 557.8v3.5M923.4 632.3v-3.5M940.8 557.8v3.5M940.8 632.3v-3.5M958.3 557.8v3.5M958.3 632.3v-3.5M975.7 557.8v3.5M975.7 632.3v-3.5M993.2 557.8v3.5M993.2 632.3v-3.5M1010.7 557.8v10M1010.7 632.3v-10M1028.1 557.8v3.5M1028.1 632.3v-3.5M1045.6 557.8v3.5M1045.6 632.3v-3.5M1063.1 557.8v3.5M1063.1 632.3v-3.5M1080.5 557.8v3.5M1080.5 632.3v-3.5M1098 557.8v3.5M1098 632.3v-3.5M1115.5 557.8v10M1115.5 632.3v-10M668.4 615.7h6M1122.5 615.7h-6M668.4 595.2h6M1122.5 595.2h-6M668.4 574.7h6M1122.5 574.7h-6M668.4 632.1h2.7M1122.5 632.1h-2.7M668.4 628h2.7M1122.5 628h-2.7M668.4 623.9h2.7M1122.5 623.9h-2.7M668.4 619.8h2.7M1122.5 619.8h-2.7M668.4 615.7h2.7M1122.5 615.7h-2.7M668.4 611.6h2.7M1122.5 611.6h-2.7M668.4 607.5h2.7M1122.5 607.5h-2.7M668.4 603.4h2.7M1122.5 603.4h-2.7M668.4 599.3h2.7M1122.5 599.3h-2.7M668.4 595.2h2.7M1122.5 595.2h-2.7M668.4 591.1h2.7M1122.5 591.1h-2.7M668.4 587h2.7M1122.5 587h-2.7M668.4 582.9h2.7M1122.5 582.9h-2.7M668.4 578.8h2.7M1122.5 578.8h-2.7M668.4 574.7h2.7M1122.5 574.7h-2.7M668.4 570.6h2.7M1122.5 570.6h-2.7M668.4 566.5h2.7M1122.5 566.5h-2.7M668.4 562.4h2.7M1122.5 562.4h-2.7M668.4 558.3h2.7M1122.5 558.3h-2.7" stroke="#000" stroke-width="1" fill="none"/>
<path d="M678.8 632.3v3.5M678.8 706.3v-3.5M696.3 632.3v10M696.3 706.3v-10M713.8 632.3v3.5M713.8 706.3v-3.5M731.2 632.3v3.5M731.2 706.3v-3.5M748.7 632.3v3.5M748.7 706.3v-3.5M766.2 632.3v3.5M766.2 706.3v-3.5M783.6 632.3v3.5M783.6 706.3v-3.5M801.1 632.3v10M801.1 706.3v-10M818.6 632.3v3.5M818.6 706.3v-3.5M836 632.3v3.5M836 706.3v-3.5M853.5 632.3v3.5M853.5 706.3v-3.5M871 632.3v3.5M871 706.3v-3.5M888.4 632.3v3.5M888.4 706.3v-3.5M905.9 632.3v10M905.9 706.3v-10M923.4 632.3v3.5M923.4 706.3v-3.5M940.8 632.3v3.5M940.8 706.3v-3.5M958.3 632.3v3.5M958.3 706.3v-3.5M975.7 632.3v3.5M975.7 706.3v-3.5M993.2 632.3v3.5M993.2 706.3v-3.5M1010.7 632.3v10M1010.7 706.3v-10M1028.1 632.3v3.5M1028.1 706.3v-3.5M1045.6 632.3v3.5M1045.6 706.3v-3.5M1063.1 632.3v3.5M1063.1 706.3v-3.5M1080.5 632.3v3.5M1080.5 706.3v-3.5M1098 632.3v3.5M1098 706.3v-3.5M1115.5 632.3v10M1115.5 706.3v-10M668.4 696.1h6M1122.5 696.1h-6M668.4 681.8h6M1122.5 681.8h-6M668.4 667.6h6M1122.5 667.6h-6M668.4 653.3h6M1122.5 653.3h-6M668.4 639h6M1122.5 639h-6M668.4 704.7h2.7M1122.5 704.7h-2.7M668.4 701.8h2.7M1122.5 701.8h-2.7M668.4 699h2.7M1122.5 699h-2.7M668.4 696.1h2.7M1122.5 696.1h-2.7M668.4 693.3h2.7M1122.5 693.3h-2.7M668.4 690.4h2.7M1122.5 690.4h-2.7M668.4 687.5h2.7M1122.5 687.5h-2.7M668.4 684.7h2.7M1122.5 684.7h-2.7M668.4 681.8h2.7M1122.5 681.8h-2.7M668.4 679h2.7M1122.5 679h-2.7M668.4 676.1h2.7M1122.5 676.1h-2.7M668.4 673.3h2.7M1122.5 673.3h-2.7M668.4 670.4h2.7M1122.5 670.4h-2.7M668.4 667.6h2.7M1122.5 667.6h-2.7M668.4 664.7h2.7M1122.5 664.7h-2.7M668.4 661.8h2.7M1122.5 661.8h-2.7M668.4 659h2.7M1122.5 659h-2.7M668.4 656.1h2.7M1122.5 656.1h-2.7M668.4 653.3h2.7M1122.5 653.3h-2.7M668.4 650.4h2.7M1122.5 650.4h-2.7M668.4 647.6h2.7M1122.5 647.6h-2.7M668.4 644.7h2.7M1122.5 644.7h-2.7M668.4 641.9h2.7M1122.5 641.9h-2.7M668.4 639h2.7M1122.5 639h-2.7M668.4 636.2h2.7M1122.5 636.2h-2.7M668.4 633.3h2.7M1122.5 633.3h-2.7" stroke="#000" stroke-width="1" fill="none"/>
<rect x="71.3" y="33.2" width="454.1" height="134.8" fill="none" stroke="#000" stroke-width="1.4"/>
<rect x="71.3" y="176.3" width="454.1" height="68.1" fill="none" stroke="#000" stroke-width="1.4"/>
<rect x="71.3" y="244.4" width="454.1" height="68.2" fill="none" stroke="#000" stroke-width="1.4"/>
<rect x="71.3" y="312.6" width="454.1" height="68.6" fill="none" stroke="#000" stroke-width="1.4"/>
<rect x="71.3" y="381.2" width="454.1" height="68.3" fill="none" stroke="#000" stroke-width="1.4"/>
<rect x="71.3" y="449.5" width="454.1" height="68.2" fill="none" stroke="#000" stroke-width="1.4"/>
<rect x="71.3" y="517.7" width="454.1" height="68.3" fill="none" stroke="#000" stroke-width="1.4"/>
<rect x="71.3" y="586" width="454.1" height="68.5" fill="none" stroke="#000" stroke-width="1.4"/>
<rect x="71.3" y="654.5" width="454.1" height="68.7" fill="none" stroke="#000" stroke-width="1.4"/>
<rect x="668.4" y="41.6" width="454.1" height="73.2" fill="none" stroke="#000" stroke-width="1.4"/>
<rect x="668.4" y="114.8" width="454.1" height="74.7" fill="none" stroke="#000" stroke-width="1.4"/>
<rect x="668.4" y="189.5" width="454.1" height="73.1" fill="none" stroke="#000" stroke-width="1.4"/>
<rect x="668.4" y="262.6" width="454.1" height="74" fill="none" stroke="#000" stroke-width="1.4"/>
<rect x="668.4" y="336.6" width="454.1" height="74.1" fill="none" stroke="#000" stroke-width="1.4"/>
<rect x="668.4" y="410.7" width="454.1" height="73.8" fill="none" stroke="#000" stroke-width="1.4"/>
<rect x="668.4" y="484.5" width="454.1" height="73.3" fill="none" stroke="#000" stroke-width="1.4"/>
<rect x="668.4" y="557.8" width="454.1" height="74.5" fill="none" stroke="#000" stroke-width="1.4"/>
<rect x="668.4" y="632.3" width="454.1" height="74" fill="none" stroke="#000" stroke-width="1.4"/>
<text x="28.6" y="11.8" font-size="11" text-anchor="start" fill="#000" >Plot Layout GP 19/10/2018</text>
<text x="297.5" y="25.8" font-size="17.5" text-anchor="middle" fill="#000" >MMS2</text>
<text x="399.2" y="23.6" font-size="17" text-anchor="start" fill="#a00000" font-weight="bold" textLength="150" lengthAdjust="spacingAndGlyphs">20160124_193544</text>
<text x="627" y="11.6" font-size="11" text-anchor="start" fill="#000" >Plot layout GP 19/10/2018</text>
<text x="894.3" y="34.3" font-size="17.5" text-anchor="middle" fill="#000" >MMS2</text>
<text x="996" y="23.3" font-size="17" text-anchor="start" fill="#a00000" font-weight="bold" textLength="150" lengthAdjust="spacingAndGlyphs">20160124_193544</text>
<text x="68.9" y="153.6" font-size="11" text-anchor="end" fill="#000" >-20</text>
<text x="68.9" y="127.6" font-size="11" text-anchor="end" fill="#000" >0</text>
<text x="68.9" y="101.7" font-size="11" text-anchor="end" fill="#000" >20</text>
<text x="68.9" y="75.8" font-size="11" text-anchor="end" fill="#000" >40</text>
<text x="68.9" y="49.9" font-size="11" text-anchor="end" fill="#000" >60</text>
<text x="68.9" y="248.1" font-size="11" text-anchor="end" fill="#000" >-60</text>
<text x="68.9" y="234.3" font-size="11" text-anchor="end" fill="#000" >-40</text>
<text x="68.9" y="220.5" font-size="11" text-anchor="end" fill="#000" >-20</text>
<text x="68.9" y="206.6" font-size="11" text-anchor="end" fill="#000" >0</text>
<text x="68.9" y="192.8" font-size="11" text-anchor="end" fill="#000" >20</text>
<text x="68.9" y="376" font-size="11" text-anchor="end" fill="#000" >100</text>
<text x="68.9" y="359" font-size="11" text-anchor="end" fill="#000" >200</text>
<text x="68.9" y="342.1" font-size="11" text-anchor="end" fill="#000" >300</text>
<text x="68.9" y="325.1" font-size="11" text-anchor="end" fill="#000" >400</text>
<text x="68.9" y="517.5" font-size="11" text-anchor="end" fill="#000" >5</text>
<text x="68.9" y="502" font-size="11" text-anchor="end" fill="#000" >10</text>
<text x="68.9" y="486.4" font-size="11" text-anchor="end" fill="#000" >15</text>
<text x="68.9" y="470.9" font-size="11" text-anchor="end" fill="#000" >20</text>
<text x="68.9" y="455.3" font-size="11" text-anchor="end" fill="#000" >25</text>
<text x="528" y="395.1" font-size="11" text-anchor="start" fill="#000" >0</text>
<text x="528" y="409.7" font-size="11" text-anchor="start" fill="#000" >-100</text>
<text x="528" y="424.2" font-size="11" text-anchor="start" fill="#000" >-200</text>
<text x="528" y="438.8" font-size="11" text-anchor="start" fill="#000" >-300</text>
<text x="528" y="589.4" font-size="11" text-anchor="start" fill="#000" >0.0</text>
<text x="528" y="574" font-size="11" text-anchor="start" fill="#000" >0.1</text>
<text x="528" y="558.7" font-size="11" text-anchor="start" fill="#000" >0.2</text>
<text x="528" y="543.3" font-size="11" text-anchor="start" fill="#000" >0.3</text>
<text x="528" y="528" font-size="11" text-anchor="start" fill="#000" >0.4</text>
<text x="528" y="725" font-size="11" text-anchor="start" fill="#000" >0.0</text>
<text x="528" y="713.4" font-size="11" text-anchor="start" fill="#000" >0.5</text>
<text x="528" y="701.8" font-size="11" text-anchor="start" fill="#000" >1.0</text>
<text x="528" y="690.1" font-size="11" text-anchor="start" fill="#000" >1.5</text>
<text x="528" y="678.5" font-size="11" text-anchor="start" fill="#000" >2.0</text>
<text x="528" y="666.9" font-size="11" text-anchor="start" fill="#000" >2.5</text>
<text x="528" y="297.9" font-size="11">10<tspan font-size="8" dy="-4.5">2</tspan></text>
<text x="528" y="278.3" font-size="11">10<tspan font-size="8" dy="-4.5">3</tspan></text>
<text x="528" y="258.7" font-size="11">10<tspan font-size="8" dy="-4.5">4</tspan></text>
<text x="666" y="118.4" font-size="11" text-anchor="end" fill="#000" >-60</text>
<text x="666" y="103.5" font-size="11" text-anchor="end" fill="#000" >-40</text>
<text x="666" y="88.5" font-size="11" text-anchor="end" fill="#000" >-20</text>
<text x="666" y="73.6" font-size="11" text-anchor="end" fill="#000" >0</text>
<text x="666" y="58.6" font-size="11" text-anchor="end" fill="#000" >20</text>
<text x="1125.1" y="192.3" font-size="11">10<tspan font-size="8" dy="-4.5">1</tspan></text>
<text x="1125.1" y="171.3" font-size="11">10<tspan font-size="8" dy="-4.5">2</tspan></text>
<text x="1125.1" y="150.4" font-size="11">10<tspan font-size="8" dy="-4.5">3</tspan></text>
<text x="1125.1" y="129.4" font-size="11">10<tspan font-size="8" dy="-4.5">4</tspan></text>
<text x="666" y="265.7" font-size="11" text-anchor="end" fill="#000" >-800</text>
<text x="666" y="254.8" font-size="11" text-anchor="end" fill="#000" >-600</text>
<text x="666" y="244" font-size="11" text-anchor="end" fill="#000" >-400</text>
<text x="666" y="233.1" font-size="11" text-anchor="end" fill="#000" >-200</text>
<text x="666" y="222.2" font-size="11" text-anchor="end" fill="#000" >0</text>
<text x="666" y="211.4" font-size="11" text-anchor="end" fill="#000" >200</text>
<text x="666" y="200.5" font-size="11" text-anchor="end" fill="#000" >400</text>
<text x="666" y="402.1" font-size="11" text-anchor="end" fill="#000" >-10</text>
<text x="666" y="386" font-size="11" text-anchor="end" fill="#000" >0</text>
<text x="666" y="370" font-size="11" text-anchor="end" fill="#000" >10</text>
<text x="666" y="353.9" font-size="11" text-anchor="end" fill="#000" >20</text>
<text x="1125.1" y="475.9" font-size="11" text-anchor="start" fill="#000" >-10</text>
<text x="1125.1" y="451.1" font-size="11" text-anchor="start" fill="#000" >0</text>
<text x="1125.1" y="426.2" font-size="11" text-anchor="start" fill="#000" >10</text>
<text x="666" y="549.8" font-size="11" text-anchor="end" fill="#000" >0.2</text>
<text x="666" y="537.3" font-size="11" text-anchor="end" fill="#000" >0.4</text>
<text x="666" y="524.8" font-size="11" text-anchor="end" fill="#000" >0.6</text>
<text x="666" y="512.3" font-size="11" text-anchor="end" fill="#000" >0.8</text>
<text x="666" y="499.8" font-size="11" text-anchor="end" fill="#000" >1.0</text>
<text x="1125.1" y="619.4" font-size="11" text-anchor="start" fill="#000" >-0.5</text>
<text x="1125.1" y="598.9" font-size="11" text-anchor="start" fill="#000" >0.0</text>
<text x="1125.1" y="578.4" font-size="11" text-anchor="start" fill="#000" >0.5</text>
<text x="666" y="699.8" font-size="11" text-anchor="end" fill="#000" >-0.5</text>
<text x="666" y="685.5" font-size="11" text-anchor="end" fill="#000" >0.0</text>
<text x="666" y="671.3" font-size="11" text-anchor="end" fill="#000" >0.5</text>
<text x="666" y="657" font-size="11" text-anchor="end" fill="#000" >1.0</text>
<text x="666" y="642.7" font-size="11" text-anchor="end" fill="#000" >1.5</text>
<text transform="translate(46.7,101.4) rotate(-90)" font-size="11" text-anchor="middle"><tspan font-size="11">B</tspan><tspan font-size="8" dy="3.5">L</tspan><tspan font-size="11" dy="-3.5">,|B| [nT]</tspan></text>
<text transform="translate(42.2,211) rotate(-90)" font-size="11" text-anchor="middle"><tspan font-size="11">B</tspan><tspan font-size="8" dy="3.5">LMN</tspan><tspan font-size="11" dy="-3.5"> [nT]</tspan></text>
<text transform="translate(558.3,279.3) rotate(-90)" font-size="11" text-anchor="middle"><tspan font-size="11">Energy (eV)</tspan></text>
<text transform="translate(44.5,347.6) rotate(-90)" font-size="11" text-anchor="middle"><tspan font-size="11">| V</tspan><tspan font-size="8" dy="3.5">i</tspan><tspan font-size="11" dy="-3.5"> | [km/s]</tspan></text>
<text transform="translate(561.9,416) rotate(-90)" font-size="11" text-anchor="middle"><tspan font-size="11">V</tspan><tspan font-size="8" dy="3.5">i LMN</tspan><tspan font-size="11" dy="-3.5"> [km/s]</tspan></text>
<text transform="translate(44.5,484.3) rotate(-90)" font-size="11" text-anchor="middle"><tspan font-size="11">N [cm</tspan><tspan font-size="8" dy="-4.5">-3</tspan><tspan font-size="11" dy="4.5">]</tspan></text>
<text transform="translate(558.7,552) rotate(-90)" font-size="11" text-anchor="middle"><tspan font-size="11">N</tspan><tspan font-size="8" dy="3.5">i</tspan><tspan font-size="11" dy="-3.5"> [cm</tspan><tspan font-size="8" dy="-4.5">-3</tspan><tspan font-size="11" dy="4.5">]</tspan></text>
<text transform="translate(37.1,621.5) rotate(-90)" font-size="11" text-anchor="middle"><tspan font-size="11">T</tspan><tspan font-size="8" dy="3.5">i</tspan><tspan font-size="11" dy="-3.5"> [eV]</tspan></text>
<text transform="translate(558.5,689) rotate(-90)" font-size="11" text-anchor="middle"><tspan font-size="11">P [nPa]</tspan></text>
<text transform="translate(638.5,78) rotate(-90)" font-size="11" text-anchor="middle"><tspan font-size="11">B</tspan><tspan font-size="8" dy="3.5">LMN</tspan><tspan font-size="11" dy="-3.5"> [nT]</tspan></text>
<text transform="translate(1155,152) rotate(-90)" font-size="11" text-anchor="middle"><tspan font-size="11">Energy (eV)</tspan></text>
<text transform="translate(638,226) rotate(-90)" font-size="11" text-anchor="middle"><tspan font-size="11">V</tspan><tspan font-size="8" dy="3.5">e LMN</tspan><tspan font-size="11" dy="-3.5"> [km/s]</tspan></text>
<text transform="translate(1155,300) rotate(-90)" font-size="11" text-anchor="middle"><tspan font-size="11">T</tspan><tspan font-size="8" dy="3.5">e</tspan><tspan font-size="11" dy="-3.5"> [eV]</tspan></text>
<text transform="translate(640,373) rotate(-90)" font-size="11" text-anchor="middle"><tspan font-size="11">E</tspan><tspan font-size="8" dy="3.5">LMN</tspan><tspan font-size="11" dy="-3.5">  [mV m</tspan><tspan font-size="8" dy="-4.5">-1</tspan><tspan font-size="11" dy="4.5">]</tspan></text>
<text transform="translate(1155,447) rotate(-90)" font-size="11" text-anchor="middle"><tspan font-size="11">E</tspan><tspan font-size="8" dy="3.5">M</tspan><tspan font-size="11" dy="-3.5"> [mW m</tspan><tspan font-size="8" dy="-4.5">-2</tspan><tspan font-size="11" dy="4.5">]</tspan></text>
<text transform="translate(642,521) rotate(-90)" font-size="11" text-anchor="middle"><tspan font-size="11">|J| [µA m</tspan><tspan font-size="8" dy="-4.5">-2</tspan><tspan font-size="11" dy="4.5">]</tspan></text>
<text transform="translate(1155,595) rotate(-90)" font-size="11" text-anchor="middle"><tspan font-size="11">J [µA m</tspan><tspan font-size="8" dy="-4.5">-2</tspan><tspan font-size="11" dy="4.5">]</tspan></text>
<text transform="translate(642,669) rotate(-90)" font-size="11" text-anchor="middle"><tspan font-size="11">J*E' [nW m</tspan><tspan font-size="8" dy="-4.5">-3</tspan><tspan font-size="11" dy="4.5">]</tspan></text>
<text x="99.2" y="739.8" font-size="11" text-anchor="middle" fill="#000" >19:36:00</text>
<text x="99.2" y="761" font-size="11" text-anchor="middle" fill="#000" >4.45</text>
<text x="99.2" y="778.7" font-size="11" text-anchor="middle" fill="#000" >-9.46</text>
<text x="99.2" y="796.4" font-size="11" text-anchor="middle" fill="#000" >-0.993</text>
<text x="204" y="739.8" font-size="11" text-anchor="middle" fill="#000" >19:37:00</text>
<text x="204" y="761" font-size="11" text-anchor="middle" fill="#000" >4.46</text>
<text x="204" y="778.7" font-size="11" text-anchor="middle" fill="#000" >-9.47</text>
<text x="204" y="796.4" font-size="11" text-anchor="middle" fill="#000" >-0.994</text>
<text x="308.8" y="739.8" font-size="11" text-anchor="middle" fill="#000" >19:38:00</text>
<text x="308.8" y="761" font-size="11" text-anchor="middle" fill="#000" >4.47</text>
<text x="308.8" y="778.7" font-size="11" text-anchor="middle" fill="#000" >-9.47</text>
<text x="308.8" y="796.4" font-size="11" text-anchor="middle" fill="#000" >-0.995</text>
<text x="413.6" y="739.8" font-size="11" text-anchor="middle" fill="#000" >19:39:00</text>
<text x="413.6" y="761" font-size="11" text-anchor="middle" fill="#000" >4.49</text>
<text x="413.6" y="778.7" font-size="11" text-anchor="middle" fill="#000" >-9.48</text>
<text x="413.6" y="796.4" font-size="11" text-anchor="middle" fill="#000" >-0.997</text>
<text x="518.4" y="739.8" font-size="11" text-anchor="middle" fill="#000" >19:40:00</text>
<text x="518.4" y="761" font-size="11" text-anchor="middle" fill="#000" >4.5</text>
<text x="518.4" y="778.7" font-size="11" text-anchor="middle" fill="#000" >-9.48</text>
<text x="518.4" y="796.4" font-size="11" text-anchor="middle" fill="#000" >-0.998</text>
<text x="53.4" y="761" font-size="11" text-anchor="middle" fill="#000" >X</text>
<text x="53.4" y="778.7" font-size="11" text-anchor="middle" fill="#000" >Y</text>
<text x="53.4" y="796.4" font-size="11" text-anchor="middle" fill="#000" >Z</text>
<text x="539.4" y="761" font-size="11" text-anchor="start" fill="#000" >Re</text>
<text x="539.4" y="778.7" font-size="11" text-anchor="start" fill="#000" >Re</text>
<text x="539.4" y="796.4" font-size="11" text-anchor="start" fill="#000" >Re</text>
<text x="696.3" y="723.7" font-size="11" text-anchor="middle" fill="#000" >19:36:00</text>
<text x="696.3" y="746.1" font-size="11" text-anchor="middle" fill="#000" >4.45</text>
<text x="696.3" y="763.8" font-size="11" text-anchor="middle" fill="#000" >-9.46</text>
<text x="696.3" y="781.5" font-size="11" text-anchor="middle" fill="#000" >-0.993</text>
<text x="801.1" y="723.7" font-size="11" text-anchor="middle" fill="#000" >19:37:00</text>
<text x="801.1" y="746.1" font-size="11" text-anchor="middle" fill="#000" >4.46</text>
<text x="801.1" y="763.8" font-size="11" text-anchor="middle" fill="#000" >-9.47</text>
<text x="801.1" y="781.5" font-size="11" text-anchor="middle" fill="#000" >-0.994</text>
<text x="905.9" y="723.7" font-size="11" text-anchor="middle" fill="#000" >19:38:00</text>
<text x="905.9" y="746.1" font-size="11" text-anchor="middle" fill="#000" >4.47</text>
<text x="905.9" y="763.8" font-size="11" text-anchor="middle" fill="#000" >-9.47</text>
<text x="905.9" y="781.5" font-size="11" text-anchor="middle" fill="#000" >-0.995</text>
<text x="1010.7" y="723.7" font-size="11" text-anchor="middle" fill="#000" >19:39:00</text>
<text x="1010.7" y="746.1" font-size="11" text-anchor="middle" fill="#000" >4.49</text>
<text x="1010.7" y="763.8" font-size="11" text-anchor="middle" fill="#000" >-9.48</text>
<text x="1010.7" y="781.5" font-size="11" text-anchor="middle" fill="#000" >-0.997</text>
<text x="1115.5" y="723.7" font-size="11" text-anchor="middle" fill="#000" >19:40:00</text>
<text x="1115.5" y="746.1" font-size="11" text-anchor="middle" fill="#000" >4.5</text>
<text x="1115.5" y="763.8" font-size="11" text-anchor="middle" fill="#000" >-9.48</text>
<text x="1115.5" y="781.5" font-size="11" text-anchor="middle" fill="#000" >-0.998</text>
<text x="650.5" y="746.1" font-size="11" text-anchor="middle" fill="#000" >X</text>
<text x="650.5" y="763.8" font-size="11" text-anchor="middle" fill="#000" >Y</text>
<text x="650.5" y="781.5" font-size="11" text-anchor="middle" fill="#000" >Z</text>
<text x="1136.5" y="746.1" font-size="11" text-anchor="start" fill="#000" >Re</text>
<text x="1136.5" y="763.8" font-size="11" text-anchor="start" fill="#000" >Re</text>
<text x="1136.5" y="781.5" font-size="11" text-anchor="start" fill="#000" >Re</text>
<text x="425" y="837.5" font-size="12" text-anchor="start" fill="#000" >paschmann 29-Oct-2018 14:30</text>
<text x="1022.5" y="837.5" font-size="12" text-anchor="start" fill="#000" >paschmann 29-Oct-2018 14:30</text>
<g font-family="'Liberation Mono',monospace" font-size="13.333" fill="#000" style="white-space:pre"><text x="1218.8" y="20" xml:space="preserve">:</text><text x="1218.8" y="35" xml:space="preserve"> Event ID         : 20160124_193544</text><text x="1218.8" y="50" xml:space="preserve"> FlagStr          : ot,udef,nmon,mf,mult,compl,keep</text><text x="1218.8" y="65" xml:space="preserve"> GSEpos [Re]      : [ 4.44, -9.46, -0.99 ]</text><text x="1218.8" y="80" xml:space="preserve">                  :</text><text x="1218.8" y="95" xml:space="preserve"> LMN coords       :</text><text x="1218.8" y="110" xml:space="preserve">    L             : [  0.637,  0.768,  0.062 ]</text><text x="1218.8" y="125" xml:space="preserve">    M             : [  0.177, -0.068, -0.982 ]</text><text x="1218.8" y="140" xml:space="preserve">    N             : [  0.750, -0.637,  0.179 ]</text><text x="1218.8" y="155" xml:space="preserve">                  :</text><text x="1218.8" y="170" xml:space="preserve">  Times           : (as indicated by red, green lines in plots)</text><text x="1218.8" y="185" xml:space="preserve">    t_0           : 19:37:28  (red dotted line)</text><text x="1218.8" y="200" xml:space="preserve">    t_MVAB1       : 19:36:27  (leftmost green line)</text><text x="1218.8" y="215" xml:space="preserve">    t_MVAB2       : 19:38:09  (rightmost green line)</text><text x="1218.8" y="230" xml:space="preserve">                  :</text><text x="1218.8" y="245" xml:space="preserve">|Bmin|, |Vmax|    :</text><text x="1218.8" y="260" xml:space="preserve">    Bmin          : 34.14 [nT]  at 19:37:32</text><text x="1218.8" y="275" xml:space="preserve">    Vmax_tht      : 379.57 [km/s]  at 19:37:59</text><text x="1218.8" y="290" xml:space="preserve">    Vmax_tburst   : 425.87 [km/s]  at 19:39:37</text><text x="1218.8" y="305" xml:space="preserve">                  :</text><text x="1218.8" y="320" xml:space="preserve"> Normals          :</text><text x="1218.8" y="335" xml:space="preserve">    N MVAB        : [  0.668, -0.530,  0.523 ]   (L2/L1 = 1.20)</text><text x="1218.8" y="350" xml:space="preserve">    N MVAB0       : [  0.723, -0.653, -0.226 ]   (L3/L2 = 22.41)</text><text x="1218.8" y="365" xml:space="preserve">    N MFR         : [  0.705, -0.700, -0.115 ]   (L2/L1 = 2.96)</text><text x="1218.8" y="380" xml:space="preserve">                  :</text><text x="1218.8" y="395" xml:space="preserve"> Durations [s]    : (between red, resp green lines)</text><text x="1218.8" y="410" xml:space="preserve">    T_CS          : 50.88</text><text x="1218.8" y="425" xml:space="preserve">    T_MFR/HT      : 141.76</text><text x="1218.8" y="440" xml:space="preserve">                  :</text><text x="1218.8" y="455" xml:space="preserve"> Velocity [km/s]  : (based on FPI ion data)</text><text x="1218.8" y="470" xml:space="preserve">    VnMFR         : 17.7</text><text x="1218.8" y="485" xml:space="preserve">    VHT.Nmvab     : 213.2  (HTcc = 0.982)</text><text x="1218.8" y="500" xml:space="preserve">    VHT.Nmvab0    : 21.1</text><text x="1218.8" y="515" xml:space="preserve">                  :</text><text x="1218.8" y="530" xml:space="preserve"> CS thickness [km]: (D=T_CS * Vs from above)</text><text x="1218.8" y="545" xml:space="preserve">    D1=TCS*Vnmfr  : 903</text><text x="1218.8" y="560" xml:space="preserve">    D2=TCS*VHTn   : 10,848</text><text x="1218.8" y="575" xml:space="preserve">    D3=TCS*VHTn0  : 1,074</text><text x="1218.8" y="590" xml:space="preserve">                  :</text><text x="1218.8" y="605" xml:space="preserve"> Currents [uA/m2] :</text><text x="1218.8" y="620" xml:space="preserve">    Jave_CS       : 0.048</text><text x="1218.8" y="635" xml:space="preserve">    Jmax_THT      : 0.855  at 19:38:07</text><text x="1218.8" y="650" xml:space="preserve">    Jmax_brst     : 1.185  at 19:39:33</text><text x="1218.8" y="665" xml:space="preserve">                  :</text><text x="1218.8" y="680" xml:space="preserve"> HPCA mom [1/cm3] :   Min   -  Max    (  Ave   )  within full brst int</text><text x="1218.8" y="695" xml:space="preserve">    H+            :   9.756 - 31.053  (  9.756 )</text><text x="1218.8" y="710" xml:space="preserve">    He+           :   0.000 -  0.004  (  0.000 )</text><text x="1218.8" y="725" xml:space="preserve">    He++          :   0.030 -  0.441  (  0.030 )</text><text x="1218.8" y="740" xml:space="preserve">    O+            :   0.001 -  0.043  (  0.008 )</text><text x="1218.8" y="755" xml:space="preserve">                  :</text><text x="1218.8" y="770" xml:space="preserve"> SEH date         : 2019-11-29 09:41:04</text><text x="1218.8" y="785" xml:space="preserve">                  :</text></g>
</svg></body></html>
